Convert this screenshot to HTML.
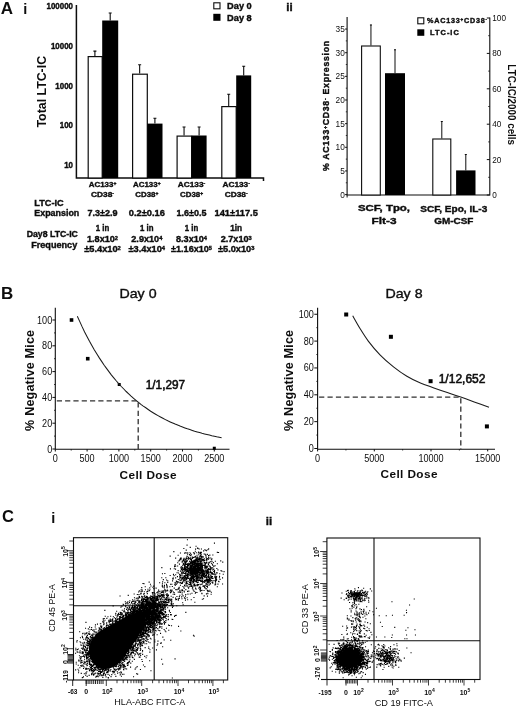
<!DOCTYPE html><html><head><meta charset="utf-8"><style>html,body{margin:0;padding:0;background:#fff}svg{display:block;filter:blur(.3px)}text{font-family:"Liberation Sans",sans-serif;fill:#0d0d0d}.b{font-weight:bold}.m{stroke:#0d0d0d;stroke-width:.55}.s{stroke:#0d0d0d;stroke-width:.38}</style></head><body>
<svg width="520" height="709" viewBox="0 0 520 709">
<rect width="520" height="709" fill="#fff"/>
<text x="0.8" y="13.6" font-size="17" text-anchor="start" class="b">A</text>
<text x="23.2" y="13.8" font-size="14.5" text-anchor="start" class="b">i</text>
<path d="M76.4 5V178H263.5v3" fill="none" stroke="#0d0d0d" stroke-width="1.5"/>
<text x="73" y="9.3" font-size="8.5" text-anchor="end" class="b s" textLength="26.52" lengthAdjust="spacingAndGlyphs">100000</text>
<text x="73" y="48.6" font-size="8.5" text-anchor="end" class="b s" textLength="22.1" lengthAdjust="spacingAndGlyphs">10000</text>
<text x="73" y="88.6" font-size="8.5" text-anchor="end" class="b s" textLength="17.68" lengthAdjust="spacingAndGlyphs">1000</text>
<text x="73" y="128.1" font-size="8.5" text-anchor="end" class="b s" textLength="13.26" lengthAdjust="spacingAndGlyphs">100</text>
<text x="73" y="168.1" font-size="8.5" text-anchor="end" class="b s" textLength="8.84" lengthAdjust="spacingAndGlyphs">10</text>
<text x="45.7" y="91.7" font-size="12.6" text-anchor="middle" class="b" transform="rotate(-90 45.7 91.7)" textLength="71.6" lengthAdjust="spacingAndGlyphs">Total LTC-IC</text>
<path d="M94.9 56V50.8M93.4 51.099999999999994H96.4" stroke="#0d0d0d" stroke-width="1.1" fill="none"/>
<rect x="88.19999999999999" y="56.6" width="14.000000000000009" height="121.4" fill="#fff" stroke="#0d0d0d" stroke-width="1.2"/>
<path d="M110.2 20.5V12.7M108.7 13.0H111.7" stroke="#0d0d0d" stroke-width="1.1" fill="none"/>
<rect x="102.2" y="20.5" width="16.0" height="157.5" fill="#000"/>
<path d="M139.65 73.6V64.5M138.15 64.8H141.15" stroke="#0d0d0d" stroke-width="1.1" fill="none"/>
<rect x="132.6" y="74.19999999999999" width="14.700000000000012" height="103.80000000000001" fill="#fff" stroke="#0d0d0d" stroke-width="1.2"/>
<path d="M154.9 123.6V117.9M153.4 118.2H156.4" stroke="#0d0d0d" stroke-width="1.1" fill="none"/>
<rect x="147.3" y="123.6" width="15.199999999999989" height="54.400000000000006" fill="#000"/>
<path d="M184.05 135.5V126.7M182.55 127.0H185.55" stroke="#0d0d0d" stroke-width="1.1" fill="none"/>
<rect x="177.1" y="136.1" width="14.499999999999995" height="41.9" fill="#fff" stroke="#0d0d0d" stroke-width="1.2"/>
<path d="M199.1 135.5V126.7M197.6 127.0H200.6" stroke="#0d0d0d" stroke-width="1.1" fill="none"/>
<rect x="191.6" y="135.5" width="15.0" height="42.5" fill="#000"/>
<path d="M228.7 106V94M227.2 94.3H230.2" stroke="#0d0d0d" stroke-width="1.1" fill="none"/>
<rect x="221.79999999999998" y="106.6" width="14.4" height="71.4" fill="#fff" stroke="#0d0d0d" stroke-width="1.2"/>
<path d="M243.7 75.4V66M242.2 66.3H245.2" stroke="#0d0d0d" stroke-width="1.1" fill="none"/>
<rect x="236.2" y="75.4" width="15.0" height="102.6" fill="#000"/>
<rect x="213.8" y="2.8" width="6.2" height="6" fill="#fff" stroke="#0d0d0d" stroke-width="1.1"/>
<rect x="213.3" y="13.8" width="7.2" height="7" fill="#000"/>
<text x="227.1" y="8.9" font-size="9.3" text-anchor="start" class="b s" textLength="24.6" lengthAdjust="spacingAndGlyphs">Day 0</text>
<text x="227.1" y="20.9" font-size="9.3" text-anchor="start" class="b s" textLength="24.6" lengthAdjust="spacingAndGlyphs">Day 8</text>
<text x="102.5" y="186.6" font-size="8" text-anchor="middle" class="b s" textLength="27.5" lengthAdjust="spacingAndGlyphs">AC133<tspan font-size="0.62em" dy="-0.42em">+</tspan></text>
<text x="102.5" y="196.7" font-size="8" text-anchor="middle" class="b s" textLength="23" lengthAdjust="spacingAndGlyphs">CD38<tspan font-size="0.62em" dy="-0.42em">-</tspan></text>
<text x="146.8" y="186.6" font-size="8" text-anchor="middle" class="b s" textLength="27.5" lengthAdjust="spacingAndGlyphs">AC133<tspan font-size="0.62em" dy="-0.42em">+</tspan></text>
<text x="146.8" y="196.7" font-size="8" text-anchor="middle" class="b s" textLength="23" lengthAdjust="spacingAndGlyphs">CD38<tspan font-size="0.62em" dy="-0.42em">+</tspan></text>
<text x="191.5" y="186.6" font-size="8" text-anchor="middle" class="b s" textLength="27.5" lengthAdjust="spacingAndGlyphs">AC133<tspan font-size="0.62em" dy="-0.42em">-</tspan></text>
<text x="191.5" y="196.7" font-size="8" text-anchor="middle" class="b s" textLength="23" lengthAdjust="spacingAndGlyphs">CD38<tspan font-size="0.62em" dy="-0.42em">+</tspan></text>
<text x="236.2" y="186.6" font-size="8" text-anchor="middle" class="b s" textLength="27.5" lengthAdjust="spacingAndGlyphs">AC133<tspan font-size="0.62em" dy="-0.42em">-</tspan></text>
<text x="236.2" y="196.7" font-size="8" text-anchor="middle" class="b s" textLength="23" lengthAdjust="spacingAndGlyphs">CD38<tspan font-size="0.62em" dy="-0.42em">-</tspan></text>
<text x="34.3" y="205.8" font-size="9" text-anchor="start" class="b s" textLength="29.3" lengthAdjust="spacingAndGlyphs">LTC-IC</text>
<text x="34.3" y="216.2" font-size="9" text-anchor="start" class="b s" textLength="45" lengthAdjust="spacingAndGlyphs">Expansion</text>
<text x="102.5" y="216.3" font-size="9" text-anchor="middle" class="b s" textLength="30" lengthAdjust="spacingAndGlyphs">7.3±2.9</text>
<text x="146.8" y="216.3" font-size="9" text-anchor="middle" class="b s" textLength="36" lengthAdjust="spacingAndGlyphs">0.2±0.16</text>
<text x="191.5" y="216.3" font-size="9" text-anchor="middle" class="b s" textLength="30" lengthAdjust="spacingAndGlyphs">1.6±0.5</text>
<text x="236.2" y="216.3" font-size="9" text-anchor="middle" class="b s" textLength="43.3" lengthAdjust="spacingAndGlyphs">141±117.5</text>
<text x="26.7" y="236.9" font-size="9" text-anchor="start" class="b s" textLength="51.2" lengthAdjust="spacingAndGlyphs">Day8 LTC-IC</text>
<text x="31.2" y="248" font-size="9" text-anchor="start" class="b s" textLength="46" lengthAdjust="spacingAndGlyphs">Frequency</text>
<text x="102.5" y="231.2" font-size="9" text-anchor="middle" class="b s" textLength="13.5" lengthAdjust="spacingAndGlyphs">1 in</text>
<text x="146.8" y="231.2" font-size="9" text-anchor="middle" class="b s" textLength="13.5" lengthAdjust="spacingAndGlyphs">1 in</text>
<text x="191.5" y="231.2" font-size="9" text-anchor="middle" class="b s" textLength="13.5" lengthAdjust="spacingAndGlyphs">1 in</text>
<text x="236.2" y="231.2" font-size="9" text-anchor="middle" class="b s" textLength="12" lengthAdjust="spacingAndGlyphs">1in</text>
<text x="102.5" y="242.2" font-size="9" text-anchor="middle" class="b s" textLength="31" lengthAdjust="spacingAndGlyphs">1.8x10<tspan font-size="0.62em" dy="-0.42em">2</tspan></text>
<text x="146.8" y="242.2" font-size="9" text-anchor="middle" class="b s" textLength="31" lengthAdjust="spacingAndGlyphs">2.9x10<tspan font-size="0.62em" dy="-0.42em">4</tspan></text>
<text x="191.5" y="242.2" font-size="9" text-anchor="middle" class="b s" textLength="31" lengthAdjust="spacingAndGlyphs">8.3x10<tspan font-size="0.62em" dy="-0.42em">4</tspan></text>
<text x="236.2" y="242.2" font-size="9" text-anchor="middle" class="b s" textLength="31" lengthAdjust="spacingAndGlyphs">2.7x10<tspan font-size="0.62em" dy="-0.42em">3</tspan></text>
<text x="102.5" y="252" font-size="9" text-anchor="middle" class="b s" textLength="36.5" lengthAdjust="spacingAndGlyphs">±5.4x10<tspan font-size="0.62em" dy="-0.42em">2</tspan></text>
<text x="146.8" y="252" font-size="9" text-anchor="middle" class="b s" textLength="36.5" lengthAdjust="spacingAndGlyphs">±3.4x10<tspan font-size="0.62em" dy="-0.42em">4</tspan></text>
<text x="191.5" y="252" font-size="9" text-anchor="middle" class="b s" textLength="41" lengthAdjust="spacingAndGlyphs">±1.16x10<tspan font-size="0.62em" dy="-0.42em">5</tspan></text>
<text x="236.2" y="252" font-size="9" text-anchor="middle" class="b s" textLength="36.5" lengthAdjust="spacingAndGlyphs">±5.0x10<tspan font-size="0.62em" dy="-0.42em">3</tspan></text>
<text x="286.3" y="10.8" font-size="11.5" text-anchor="start" class="b s">ii</text>
<path d="M347.1 17V195H489.8V17.5" fill="none" stroke="#0d0d0d" stroke-width="1.1"/>
<path d="M345.1 194.6H347.1" stroke="#0d0d0d" stroke-width="1"/>
<text x="344.8" y="197.6" font-size="8.3" text-anchor="end">0</text>
<path d="M345.1 170.95H347.1" stroke="#0d0d0d" stroke-width="1"/>
<text x="344.8" y="173.95" font-size="8.3" text-anchor="end">5</text>
<path d="M345.1 147.3H347.1" stroke="#0d0d0d" stroke-width="1"/>
<text x="344.8" y="150.3" font-size="8.3" text-anchor="end">10</text>
<path d="M345.1 123.65H347.1" stroke="#0d0d0d" stroke-width="1"/>
<text x="344.8" y="126.65" font-size="8.3" text-anchor="end">15</text>
<path d="M345.1 100.0H347.1" stroke="#0d0d0d" stroke-width="1"/>
<text x="344.8" y="103.0" font-size="8.3" text-anchor="end">20</text>
<path d="M345.1 76.35000000000001H347.1" stroke="#0d0d0d" stroke-width="1"/>
<text x="344.8" y="79.35000000000001" font-size="8.3" text-anchor="end">25</text>
<path d="M345.1 52.70000000000002H347.1" stroke="#0d0d0d" stroke-width="1"/>
<text x="344.8" y="55.70000000000002" font-size="8.3" text-anchor="end">30</text>
<path d="M345.1 29.05000000000001H347.1" stroke="#0d0d0d" stroke-width="1"/>
<text x="344.8" y="32.05000000000001" font-size="8.3" text-anchor="end">35</text>
<path d="M345.8 182.775H347.1" stroke="#0d0d0d" stroke-width=".8"/>
<path d="M345.8 159.125H347.1" stroke="#0d0d0d" stroke-width=".8"/>
<path d="M345.8 135.475H347.1" stroke="#0d0d0d" stroke-width=".8"/>
<path d="M345.8 111.825H347.1" stroke="#0d0d0d" stroke-width=".8"/>
<path d="M345.8 88.17500000000001H347.1" stroke="#0d0d0d" stroke-width=".8"/>
<path d="M345.8 64.525H347.1" stroke="#0d0d0d" stroke-width=".8"/>
<path d="M345.8 40.875H347.1" stroke="#0d0d0d" stroke-width=".8"/>
<path d="M486.8 195.0H489.8" stroke="#0d0d0d" stroke-width="1"/>
<text x="492.3" y="197.9" font-size="8.2" text-anchor="start">0</text>
<path d="M486.8 159.6H489.8" stroke="#0d0d0d" stroke-width="1"/>
<text x="492.3" y="162.5" font-size="8.2" text-anchor="start">20</text>
<path d="M486.8 124.2H489.8" stroke="#0d0d0d" stroke-width="1"/>
<text x="492.3" y="127.10000000000001" font-size="8.2" text-anchor="start">40</text>
<path d="M486.8 88.8H489.8" stroke="#0d0d0d" stroke-width="1"/>
<text x="492.3" y="91.7" font-size="8.2" text-anchor="start">60</text>
<path d="M486.8 53.400000000000006H489.8" stroke="#0d0d0d" stroke-width="1"/>
<text x="492.3" y="56.300000000000004" font-size="8.2" text-anchor="start">80</text>
<path d="M486.8 18.0H489.8" stroke="#0d0d0d" stroke-width="1"/>
<text x="492.3" y="20.9" font-size="8.2" text-anchor="start">100</text>
<path d="M488.2 177.3H489.8" stroke="#0d0d0d" stroke-width=".8"/>
<path d="M488.2 141.9H489.8" stroke="#0d0d0d" stroke-width=".8"/>
<path d="M488.2 106.5H489.8" stroke="#0d0d0d" stroke-width=".8"/>
<path d="M488.2 71.1H489.8" stroke="#0d0d0d" stroke-width=".8"/>
<path d="M488.2 35.69999999999999H489.8" stroke="#0d0d0d" stroke-width=".8"/>
<path d="M347.1 195v2.5" stroke="#0d0d0d" stroke-width="1"/>
<path d="M370.95000000000005 45.5V24.7M369.95000000000005 25.0h2" stroke="#0d0d0d" stroke-width="1" fill="none"/>
<rect x="361.6" y="46.0" width="18.69999999999999" height="149.0" fill="#fff" stroke="#0d0d0d" stroke-width="1.1"/>
<path d="M395.0 73.2V49.5M394.0 49.8h2" stroke="#0d0d0d" stroke-width="1" fill="none"/>
<rect x="385" y="73.2" width="20" height="121.8" fill="#000"/>
<path d="M441.8 138.5V121.2M440.8 121.5h2" stroke="#0d0d0d" stroke-width="1" fill="none"/>
<rect x="432.8" y="139.0" width="18.0" height="56.0" fill="#fff" stroke="#0d0d0d" stroke-width="1.1"/>
<path d="M465.8 170.4V154.2M464.8 154.5h2" stroke="#0d0d0d" stroke-width="1" fill="none"/>
<rect x="456.1" y="170.4" width="19.399999999999977" height="24.599999999999994" fill="#000"/>
<rect x="417.8" y="17.8" width="6" height="6" fill="#fff" stroke="#0d0d0d" stroke-width="1.1"/>
<rect x="417.3" y="29.3" width="7" height="6.5" fill="#000"/>
<text x="427" y="22.8" font-size="7.2" text-anchor="start" class="b s" textLength="60" lengthAdjust="spacing">%AC133<tspan font-size="0.62em" dy="-0.42em">+</tspan><tspan dy="0.26em">CD38</tspan><tspan font-size="0.62em" dy="-0.42em">-</tspan></text>
<text x="430" y="35.2" font-size="7.4" text-anchor="start" class="b s" textLength="28.8" lengthAdjust="spacing">LTC-IC</text>
<text x="384" y="211.3" font-size="9.6" text-anchor="middle" class="b s" textLength="52" lengthAdjust="spacingAndGlyphs">SCF, Tpo,</text>
<text x="384" y="223.8" font-size="9.6" text-anchor="middle" class="b s" textLength="25" lengthAdjust="spacingAndGlyphs">Flt-3</text>
<text x="453.8" y="211.5" font-size="9.6" text-anchor="middle" class="b s" textLength="67" lengthAdjust="spacingAndGlyphs">SCF, Epo, IL-3</text>
<text x="453.8" y="223.6" font-size="9.6" text-anchor="middle" class="b s" textLength="39.2" lengthAdjust="spacingAndGlyphs">GM-CSF</text>
<text x="328.8" y="106" font-size="8.7" text-anchor="middle" class="b s" transform="rotate(-90 328.8 106)" textLength="130" lengthAdjust="spacing">% AC133<tspan font-size="0.62em" dy="-0.42em">+</tspan><tspan dy="0.26em">CD38</tspan><tspan font-size="0.62em" dy="-0.42em">-</tspan><tspan dy="0.26em"> Expression</tspan></text>
<text x="507.6" y="104.7" font-size="10.4" text-anchor="middle" class="b" transform="rotate(90 507.6 104.7)" textLength="80.7" lengthAdjust="spacingAndGlyphs">LTC-IC/2000 cells</text>
<text x="1" y="298.8" font-size="17" text-anchor="start" class="b">B</text>
<text x="138" y="298.3" font-size="13.5" text-anchor="middle" class="s" textLength="37.1" lengthAdjust="spacingAndGlyphs">Day 0</text>
<path d="M55.3 307.7V449.3H229.5" fill="none" stroke="#0d0d0d" stroke-width="1.1"/>
<path d="M52.4 449.0H55.3" stroke="#0d0d0d" stroke-width="1"/>
<text x="52.199999999999996" y="452.5" font-size="10" text-anchor="end" textLength="5.05" lengthAdjust="spacingAndGlyphs">0</text>
<path d="M52.4 423.2H55.3" stroke="#0d0d0d" stroke-width="1"/>
<text x="52.199999999999996" y="426.7" font-size="10" text-anchor="end" textLength="10.1" lengthAdjust="spacingAndGlyphs">20</text>
<path d="M52.4 397.4H55.3" stroke="#0d0d0d" stroke-width="1"/>
<text x="52.199999999999996" y="400.9" font-size="10" text-anchor="end" textLength="10.1" lengthAdjust="spacingAndGlyphs">40</text>
<path d="M52.4 371.6H55.3" stroke="#0d0d0d" stroke-width="1"/>
<text x="52.199999999999996" y="375.1" font-size="10" text-anchor="end" textLength="10.1" lengthAdjust="spacingAndGlyphs">60</text>
<path d="M52.4 345.8H55.3" stroke="#0d0d0d" stroke-width="1"/>
<text x="52.199999999999996" y="349.3" font-size="10" text-anchor="end" textLength="10.1" lengthAdjust="spacingAndGlyphs">80</text>
<path d="M52.4 320.0H55.3" stroke="#0d0d0d" stroke-width="1"/>
<text x="52.199999999999996" y="323.5" font-size="10" text-anchor="end" textLength="15.149999999999999" lengthAdjust="spacingAndGlyphs">100</text>
<path d="M54.0 436.1H55.3" stroke="#0d0d0d" stroke-width=".8"/>
<path d="M54.0 410.3H55.3" stroke="#0d0d0d" stroke-width=".8"/>
<path d="M54.0 384.5H55.3" stroke="#0d0d0d" stroke-width=".8"/>
<path d="M54.0 358.7H55.3" stroke="#0d0d0d" stroke-width=".8"/>
<path d="M54.0 332.9H55.3" stroke="#0d0d0d" stroke-width=".8"/>
<path d="M55.3 449.3v2.2" stroke="#0d0d0d" stroke-width="1"/>
<text x="55.3" y="461.8" font-size="10" text-anchor="middle" textLength="5.05" lengthAdjust="spacingAndGlyphs">0</text>
<path d="M87.1 449.3v2.2" stroke="#0d0d0d" stroke-width="1"/>
<text x="87.1" y="461.8" font-size="10" text-anchor="middle" textLength="15.149999999999999" lengthAdjust="spacingAndGlyphs">500</text>
<path d="M118.9 449.3v2.2" stroke="#0d0d0d" stroke-width="1"/>
<text x="118.9" y="461.8" font-size="10" text-anchor="middle" textLength="20.2" lengthAdjust="spacingAndGlyphs">1000</text>
<path d="M150.7 449.3v2.2" stroke="#0d0d0d" stroke-width="1"/>
<text x="150.7" y="461.8" font-size="10" text-anchor="middle" textLength="20.2" lengthAdjust="spacingAndGlyphs">1500</text>
<path d="M182.5 449.3v2.2" stroke="#0d0d0d" stroke-width="1"/>
<text x="182.5" y="461.8" font-size="10" text-anchor="middle" textLength="20.2" lengthAdjust="spacingAndGlyphs">2000</text>
<path d="M214.3 449.3v2.2" stroke="#0d0d0d" stroke-width="1"/>
<text x="214.3" y="461.8" font-size="10" text-anchor="middle" textLength="20.2" lengthAdjust="spacingAndGlyphs">2500</text>
<path d="M71.2 449.3v1.3" stroke="#0d0d0d" stroke-width=".8"/>
<path d="M103.0 449.3v1.3" stroke="#0d0d0d" stroke-width=".8"/>
<path d="M134.8 449.3v1.3" stroke="#0d0d0d" stroke-width=".8"/>
<path d="M166.6 449.3v1.3" stroke="#0d0d0d" stroke-width=".8"/>
<path d="M198.39999999999998 449.3v1.3" stroke="#0d0d0d" stroke-width=".8"/>
<rect x="69.718" y="318.2" width="3.6" height="3.6" fill="#000"/>
<rect x="85.93599999999999" y="356.9" width="3.6" height="3.6" fill="#000"/>
<rect x="117.71799999999999" y="383.0" width="3" height="3" fill="#000"/>
<rect x="212.8" y="446.726" width="3" height="3" fill="#000"/>
<path d="M77.3 316.2L79.8 321.6L82.2 326.9L84.6 331.9L87.1 336.7L89.5 341.3L92.0 345.7L94.4 349.9L96.9 354.0L99.3 357.9L101.8 361.6L104.2 365.2L106.7 368.6L109.1 371.9L111.5 375.1L114.0 378.1L116.4 381.0L118.9 383.8L121.3 386.5L123.8 389.0L126.2 391.5L128.7 393.8L131.1 396.1L133.6 398.3L136.0 400.4L138.5 402.3L140.9 404.3L143.3 406.1L145.8 407.8L148.2 409.5L150.7 411.2L153.1 412.7L155.6 414.2L158.0 415.6L160.5 417.0L162.9 418.3L165.4 419.6L167.8 420.8L170.2 421.9L172.7 423.0L175.1 424.1L177.6 425.1L180.0 426.1L182.5 427.0L184.9 427.9L187.4 428.8L189.8 429.6L192.3 430.4L194.7 431.2L197.2 431.9L199.6 432.6L202.0 433.3L204.5 433.9L206.9 434.5L209.4 435.1L211.8 435.7L214.3 436.2L216.7 436.8L219.2 437.3L221.6 437.8" fill="none" stroke="#1a1a1a" stroke-width="1.05"/>
<path d="M55.3 400.8H138.2V449.3" fill="none" stroke="#303030" stroke-width="1.3" stroke-dasharray="5.2 3.1" stroke-dashoffset="-1.5"/>
<text x="145.8" y="389" font-size="12" text-anchor="start" class="m" textLength="39.3" lengthAdjust="spacingAndGlyphs">1/1,297</text>
<text x="33.8" y="380.4" font-size="12.6" text-anchor="middle" class="b" transform="rotate(-90 33.8 380.4)" textLength="101" lengthAdjust="spacing">% Negative Mice</text>
<text x="148" y="479.2" font-size="11.8" text-anchor="middle" class="b" textLength="57" lengthAdjust="spacing">Cell Dose</text>
<text x="404" y="298.3" font-size="13.5" text-anchor="middle" class="s" textLength="37.1" lengthAdjust="spacingAndGlyphs">Day 8</text>
<path d="M317.6 307.7V449.2H495" fill="none" stroke="#0d0d0d" stroke-width="1.1"/>
<path d="M314.3 448.5H317.6" stroke="#0d0d0d" stroke-width="1"/>
<text x="313.90000000000003" y="452.0" font-size="10" text-anchor="end" textLength="5.05" lengthAdjust="spacingAndGlyphs">0</text>
<path d="M314.3 421.65H317.6" stroke="#0d0d0d" stroke-width="1"/>
<text x="313.90000000000003" y="425.15" font-size="10" text-anchor="end" textLength="10.1" lengthAdjust="spacingAndGlyphs">20</text>
<path d="M314.3 394.8H317.6" stroke="#0d0d0d" stroke-width="1"/>
<text x="313.90000000000003" y="398.3" font-size="10" text-anchor="end" textLength="10.1" lengthAdjust="spacingAndGlyphs">40</text>
<path d="M314.3 367.95H317.6" stroke="#0d0d0d" stroke-width="1"/>
<text x="313.90000000000003" y="371.45" font-size="10" text-anchor="end" textLength="10.1" lengthAdjust="spacingAndGlyphs">60</text>
<path d="M314.3 341.1H317.6" stroke="#0d0d0d" stroke-width="1"/>
<text x="313.90000000000003" y="344.6" font-size="10" text-anchor="end" textLength="10.1" lengthAdjust="spacingAndGlyphs">80</text>
<path d="M314.3 314.25H317.6" stroke="#0d0d0d" stroke-width="1"/>
<text x="313.90000000000003" y="317.75" font-size="10" text-anchor="end" textLength="15.149999999999999" lengthAdjust="spacingAndGlyphs">100</text>
<path d="M316.3 435.075H317.6" stroke="#0d0d0d" stroke-width=".8"/>
<path d="M316.3 408.225H317.6" stroke="#0d0d0d" stroke-width=".8"/>
<path d="M316.3 381.375H317.6" stroke="#0d0d0d" stroke-width=".8"/>
<path d="M316.3 354.525H317.6" stroke="#0d0d0d" stroke-width=".8"/>
<path d="M316.3 327.675H317.6" stroke="#0d0d0d" stroke-width=".8"/>
<path d="M317.6 449.2v2.2" stroke="#0d0d0d" stroke-width="1"/>
<text x="317.6" y="461.6" font-size="10" text-anchor="middle" textLength="5.05" lengthAdjust="spacingAndGlyphs">0</text>
<path d="M374.3 449.2v2.2" stroke="#0d0d0d" stroke-width="1"/>
<text x="374.3" y="461.6" font-size="10" text-anchor="middle" textLength="20.2" lengthAdjust="spacingAndGlyphs">5000</text>
<path d="M431.0 449.2v2.2" stroke="#0d0d0d" stroke-width="1"/>
<text x="431.0" y="461.6" font-size="10" text-anchor="middle" textLength="25.25" lengthAdjust="spacingAndGlyphs">10000</text>
<path d="M487.70000000000005 449.2v2.2" stroke="#0d0d0d" stroke-width="1"/>
<text x="487.70000000000005" y="461.6" font-size="10" text-anchor="middle" textLength="25.25" lengthAdjust="spacingAndGlyphs">15000</text>
<path d="M345.95000000000005 449.2v1.3" stroke="#0d0d0d" stroke-width=".8"/>
<path d="M402.65000000000003 449.2v1.3" stroke="#0d0d0d" stroke-width=".8"/>
<path d="M459.35 449.2v1.3" stroke="#0d0d0d" stroke-width=".8"/>
<rect x="344.2" y="312.5" width="4" height="4" fill="#000"/>
<rect x="388.9" y="334.8" width="4" height="4" fill="#000"/>
<rect x="428.6" y="379.2" width="4" height="4" fill="#000"/>
<rect x="484.9" y="424.4" width="4" height="4" fill="#000"/>
<path d="M352.7 315.8C353.9 317.9 357.4 324.3 360 328.5C362.6 332.7 365.0 336.7 368.3 341.1C371.6 345.5 375.8 350.5 380 354.8C384.2 359.1 389.0 363.3 393.5 366.9C398.0 370.5 402.4 373.6 406.9 376.3C411.4 379.0 415.9 381.2 420.4 383.1C424.9 385.0 429.4 386.3 433.9 387.9C438.4 389.5 442.8 391.0 447.3 392.5C451.8 394.0 456.3 395.5 460.8 397.1C465.3 398.7 469.5 400.2 474.2 401.9C478.9 403.6 486.5 406.4 489 407.3" fill="none" stroke="#1a1a1a" stroke-width="1.05"/>
<path d="M317.6 397.1H460.8V449.2" fill="none" stroke="#303030" stroke-width="1.3" stroke-dasharray="5.2 3.2" stroke-dashoffset="-1.5"/>
<text x="438.7" y="383.1" font-size="12" text-anchor="start" class="m" textLength="46.8" lengthAdjust="spacingAndGlyphs">1/12,652</text>
<text x="293.3" y="380.4" font-size="12.6" text-anchor="middle" class="b" transform="rotate(-90 293.3 380.4)" textLength="101" lengthAdjust="spacing">% Negative Mice</text>
<text x="409" y="478.3" font-size="11.8" text-anchor="middle" class="b" textLength="57" lengthAdjust="spacing">Cell Dose</text>
<text x="2" y="522.3" font-size="16.5" text-anchor="start" class="b">C</text>
<text x="51.3" y="523" font-size="14.5" text-anchor="start" class="b">i</text>
<rect x="73.5" y="537.7" width="154.2" height="142.29999999999995" fill="#fff" stroke="#0d0d0d" stroke-width="1.1"/>
<path d="M154.2 537.7V680M73.5 605.8H227.7" stroke="#0d0d0d" stroke-width="1.1"/>
<path d="M67.5 680H73.5" stroke="#0d0d0d" stroke-width="1.1"/>
<path d="M106.4 656.0h1.1M102.6 648.6h1.1M95.8 653.7h1.1M120.2 647.0h1.1M118.5 645.9h1.1M111.5 649.2h1.1M93.5 667.4h1.1M114.3 651.3h1.1M80.2 645.0h1.1M94.9 651.3h1.1M109.4 647.8h1.1M108.7 641.3h1.1M111.7 651.6h1.1M108.2 668.8h1.1M118.3 657.0h1.1M96.4 647.3h1.1M102.4 651.1h1.1M114.3 648.4h1.1M97.1 644.4h1.1M107.2 663.7h1.1M99.3 657.0h1.1M103.5 634.5h1.1M113.5 661.0h1.1M84.0 659.3h1.1M101.3 643.6h1.1M111.4 646.5h1.1M95.4 666.0h1.1M118.2 654.2h1.1M123.3 644.5h1.1M101.2 638.0h1.1M109.8 641.0h1.1M95.5 641.8h1.1M93.8 651.2h1.1M109.7 624.7h1.1M92.5 660.8h1.1M124.4 646.3h1.1M106.5 641.5h1.1M99.7 665.2h1.1M118.7 644.8h1.1M111.2 652.3h1.1M126.2 645.8h1.1M114.6 651.6h1.1M96.6 670.5h1.1M119.1 648.9h1.1M82.8 656.4h1.1M106.2 629.3h1.1M109.7 659.9h1.1M100.9 671.8h1.1M111.5 645.4h1.1M113.1 653.7h1.1M113.5 659.2h1.1M97.6 650.4h1.1M117.5 644.0h1.1M102.1 663.5h1.1M119.5 637.4h1.1M91.5 657.1h1.1M103.5 648.3h1.1M116.0 632.7h1.1M113.3 631.5h1.1M101.5 660.2h1.1M122.5 650.7h1.1M110.8 649.2h1.1M111.0 654.1h1.1M106.1 653.5h1.1M112.5 646.6h1.1M117.3 650.3h1.1M129.0 640.8h1.1M100.2 649.3h1.1M111.0 658.1h1.1M104.9 655.4h1.1M112.8 616.8h1.1M96.0 658.9h1.1M111.8 649.7h1.1M105.3 658.3h1.1M106.8 643.8h1.1M133.5 638.5h1.1M100.2 652.5h1.1M103.8 650.8h1.1M75.7 662.2h1.1M111.1 633.8h1.1M110.6 658.7h1.1M122.9 657.8h1.1M87.1 657.1h1.1M106.1 657.4h1.1M104.4 620.2h1.1M110.6 630.9h1.1M106.1 633.0h1.1M114.3 659.3h1.1M105.9 652.6h1.1M115.5 646.4h1.1M113.2 663.8h1.1M115.9 641.2h1.1M129.3 623.6h1.1M114.7 642.2h1.1M111.4 655.3h1.1M112.0 654.2h1.1M83.1 646.1h1.1M108.1 638.0h1.1M88.5 643.4h1.1M123.4 648.9h1.1M117.1 633.0h1.1M100.8 640.1h1.1M122.4 659.2h1.1M105.1 668.9h1.1M115.9 642.5h1.1M93.0 674.0h1.1M102.5 645.4h1.1M112.7 651.2h1.1M117.0 632.2h1.1M125.7 656.1h1.1M120.7 639.7h1.1M103.9 663.3h1.1M108.3 650.4h1.1M120.0 639.2h1.1M80.7 660.4h1.1M91.3 668.2h1.1M106.7 642.8h1.1M110.6 657.3h1.1M114.0 661.0h1.1M111.1 659.4h1.1M130.0 655.0h1.1M103.9 661.7h1.1M81.6 651.9h1.1M91.4 671.0h1.1M93.6 657.3h1.1M104.4 650.9h1.1M101.5 655.6h1.1M125.3 639.6h1.1M117.0 655.5h1.1M98.1 640.3h1.1M106.1 662.6h1.1M86.4 654.7h1.1M120.9 650.8h1.1M110.6 656.9h1.1M102.3 638.8h1.1M87.1 653.9h1.1M113.3 639.6h1.1M93.3 648.7h1.1M90.0 658.2h1.1M96.1 660.2h1.1M83.6 667.0h1.1M90.1 637.0h1.1M112.7 643.3h1.1M78.9 655.8h1.1M107.2 644.3h1.1M118.3 651.8h1.1M115.1 648.8h1.1M123.7 647.7h1.1M100.8 629.2h1.1M122.4 656.0h1.1M101.1 647.7h1.1M117.9 623.1h1.1M123.5 668.2h1.1M100.3 661.5h1.1M125.5 637.6h1.1M116.8 654.4h1.1M96.6 654.7h1.1M113.7 655.4h1.1M105.2 648.5h1.1M94.1 653.0h1.1M116.3 645.5h1.1M93.4 647.8h1.1M139.9 643.9h1.1M100.2 623.7h1.1M115.4 650.4h1.1M126.1 643.6h1.1M108.4 654.9h1.1M91.5 670.6h1.1M106.4 642.0h1.1M129.3 657.7h1.1M88.6 652.6h1.1M110.4 649.8h1.1M97.5 644.0h1.1M133.7 646.3h1.1M87.4 645.5h1.1M129.1 648.3h1.1M129.5 646.1h1.1M98.7 657.5h1.1M80.3 656.5h1.1M108.5 654.9h1.1M98.3 653.3h1.1M113.1 650.5h1.1M114.2 648.0h1.1M107.1 658.8h1.1M102.9 642.5h1.1M100.0 653.8h1.1M106.1 652.0h1.1M107.4 651.5h1.1M98.8 639.9h1.1M116.1 656.6h1.1M110.1 645.8h1.1M106.3 639.0h1.1M87.1 661.9h1.1M100.5 662.0h1.1M82.1 633.7h1.1M103.6 669.9h1.1M95.7 640.4h1.1M101.2 659.1h1.1M112.5 648.5h1.1M125.5 647.2h1.1M109.3 655.3h1.1M128.6 648.5h1.1M111.7 634.5h1.1M108.6 657.2h1.1M108.8 661.0h1.1M117.2 654.3h1.1M117.0 673.3h1.1M118.3 640.7h1.1M120.4 671.9h1.1M107.3 659.6h1.1M116.7 644.2h1.1M95.3 658.6h1.1M115.9 657.6h1.1M114.8 645.5h1.1M118.1 649.6h1.1M108.9 649.2h1.1M107.4 657.4h1.1M92.4 650.9h1.1M99.2 637.3h1.1M91.9 635.2h1.1M102.2 659.0h1.1M112.1 646.1h1.1M97.0 639.1h1.1M128.1 643.5h1.1M113.5 635.8h1.1M95.5 635.4h1.1M119.3 653.4h1.1M86.5 660.9h1.1M104.2 631.0h1.1M82.2 651.7h1.1M92.9 641.6h1.1M108.1 652.0h1.1M116.6 652.3h1.1M127.9 651.1h1.1M90.3 653.5h1.1M90.1 647.0h1.1M105.7 650.5h1.1M103.7 633.3h1.1M93.5 657.2h1.1M102.9 648.5h1.1M102.0 643.8h1.1M115.6 648.9h1.1M102.2 644.7h1.1M91.1 627.5h1.1M96.5 656.2h1.1M91.9 660.8h1.1M101.1 637.2h1.1M102.3 648.8h1.1M114.3 652.5h1.1M101.9 642.8h1.1M104.7 650.3h1.1M115.6 648.1h1.1M92.2 642.6h1.1M98.9 645.8h1.1M94.4 655.7h1.1M101.9 653.9h1.1M109.9 643.3h1.1M129.0 633.3h1.1M118.6 644.4h1.1M106.2 622.7h1.1M99.9 656.6h1.1M124.4 666.6h1.1M116.3 659.1h1.1M119.2 653.6h1.1M111.0 645.6h1.1M106.4 637.6h1.1M113.7 634.1h1.1M119.7 666.9h1.1M104.3 651.5h1.1M118.7 643.2h1.1M99.4 657.1h1.1M116.1 652.7h1.1M107.2 669.8h1.1M123.9 640.2h1.1M107.1 644.7h1.1M117.7 635.4h1.1M111.1 641.8h1.1M102.9 660.4h1.1M120.3 641.9h1.1M103.5 661.1h1.1M107.5 653.0h1.1M128.0 650.7h1.1M112.5 672.9h1.1M110.5 656.8h1.1M99.5 653.5h1.1M97.2 676.0h1.1M114.6 631.3h1.1M82.8 645.0h1.1M116.4 639.0h1.1M104.3 647.7h1.1M99.8 641.3h1.1M99.6 637.4h1.1M107.3 653.1h1.1M110.2 645.2h1.1M97.9 656.8h1.1M109.3 666.5h1.1M113.9 644.4h1.1M98.1 646.7h1.1M95.0 652.6h1.1M112.1 652.7h1.1M122.9 664.8h1.1M99.2 654.3h1.1M126.2 617.1h1.1M101.9 654.6h1.1M110.1 652.6h1.1M105.8 654.6h1.1M110.9 656.4h1.1M82.4 653.7h1.1M101.3 641.1h1.1M98.8 661.7h1.1M102.9 659.4h1.1M115.8 648.2h1.1M111.3 646.0h1.1M91.7 658.2h1.1M108.6 642.7h1.1M109.2 657.1h1.1M100.6 660.8h1.1M123.1 634.0h1.1M107.3 647.8h1.1M124.1 643.5h1.1M112.4 638.6h1.1M106.3 650.0h1.1M95.2 673.1h1.1M107.1 629.5h1.1M113.6 644.4h1.1M113.0 650.5h1.1M89.9 657.2h1.1M119.1 636.1h1.1M89.1 644.4h1.1M95.5 660.2h1.1M126.2 643.6h1.1M120.2 667.9h1.1M97.7 647.3h1.1M114.7 651.6h1.1M90.1 646.0h1.1M110.8 650.4h1.1M91.9 656.1h1.1M103.2 657.2h1.1M104.9 650.0h1.1M108.1 661.2h1.1M119.1 638.5h1.1M111.5 638.4h1.1M111.0 656.1h1.1M120.3 637.6h1.1M106.7 652.1h1.1M91.0 659.1h1.1M101.3 657.3h1.1M84.9 639.7h1.1M108.2 652.0h1.1M105.2 661.0h1.1M100.6 646.4h1.1M103.6 633.6h1.1M99.4 653.9h1.1M114.5 643.5h1.1M106.4 642.5h1.1M118.0 662.6h1.1M111.2 674.6h1.1M99.9 654.0h1.1M113.4 657.8h1.1M83.1 639.2h1.1M116.8 653.3h1.1M126.1 669.0h1.1M109.9 651.0h1.1M118.0 647.6h1.1M117.6 629.3h1.1M85.4 622.4h1.1M113.1 641.9h1.1M126.9 663.1h1.1M105.2 647.8h1.1M97.1 645.7h1.1M103.1 659.3h1.1M107.2 650.4h1.1M109.3 659.0h1.1M110.9 645.8h1.1M112.6 644.7h1.1M101.8 669.5h1.1M106.5 638.9h1.1M119.4 646.5h1.1M98.3 673.3h1.1M114.4 655.7h1.1M107.8 647.5h1.1M95.3 667.7h1.1M105.4 647.3h1.1M110.5 648.6h1.1M111.7 642.7h1.1M95.4 631.7h1.1M105.5 658.4h1.1M118.6 638.8h1.1M113.2 664.4h1.1M106.8 658.3h1.1M124.1 640.3h1.1M115.7 636.5h1.1M108.3 648.1h1.1M113.3 659.1h1.1M128.0 629.9h1.1M103.0 657.8h1.1M98.0 660.6h1.1M111.1 644.2h1.1M104.3 633.4h1.1M106.7 632.1h1.1M96.5 649.4h1.1M106.6 659.8h1.1M105.4 646.1h1.1M120.1 660.4h1.1M108.4 653.1h1.1M120.7 644.9h1.1M119.5 619.6h1.1M108.2 653.8h1.1M119.9 650.0h1.1M98.4 642.5h1.1M112.7 658.3h1.1M90.0 647.6h1.1M96.6 633.4h1.1M101.6 647.8h1.1M107.7 641.2h1.1M95.4 651.9h1.1M102.7 644.5h1.1M110.4 656.4h1.1M127.3 657.7h1.1M96.3 651.1h1.1M98.8 654.1h1.1M105.1 635.1h1.1M111.2 647.0h1.1M89.0 663.5h1.1M109.6 626.7h1.1M115.9 647.0h1.1M113.6 651.0h1.1M118.9 640.2h1.1M113.5 641.2h1.1M110.0 638.6h1.1M114.0 665.6h1.1M110.3 646.0h1.1M90.7 650.0h1.1M113.2 657.0h1.1M113.5 652.0h1.1M112.8 662.0h1.1M99.7 647.6h1.1M116.0 645.2h1.1M100.7 646.7h1.1M106.9 656.9h1.1M104.1 637.4h1.1M111.8 649.0h1.1M100.0 662.7h1.1M101.9 648.8h1.1M121.4 656.7h1.1M101.5 657.9h1.1M109.0 675.3h1.1M107.3 663.3h1.1M103.8 660.9h1.1M116.9 614.7h1.1M104.5 656.9h1.1M102.2 644.8h1.1M129.3 637.8h1.1M93.7 667.3h1.1M94.4 670.3h1.1M101.2 654.7h1.1M120.2 643.5h1.1M83.6 643.7h1.1M122.5 649.3h1.1M102.3 662.3h1.1M114.9 652.6h1.1M81.5 660.9h1.1M119.5 650.9h1.1M103.4 623.4h1.1M110.7 653.2h1.1M128.3 626.4h1.1M103.3 652.3h1.1M113.5 640.8h1.1M114.5 636.3h1.1M106.6 643.8h1.1M104.7 643.1h1.1M95.4 669.1h1.1M106.9 643.3h1.1M113.5 657.4h1.1M95.8 654.9h1.1M114.7 651.3h1.1M92.5 633.8h1.1M121.1 645.4h1.1M105.2 647.5h1.1M107.1 644.7h1.1M92.2 649.7h1.1M97.2 648.3h1.1M97.6 662.5h1.1M96.2 663.6h1.1M97.7 659.1h1.1M121.8 643.5h1.1M99.1 654.8h1.1M99.4 634.1h1.1M101.0 655.1h1.1M102.0 653.5h1.1M118.0 652.2h1.1M118.9 649.7h1.1M103.4 651.6h1.1M102.1 648.9h1.1M96.0 636.1h1.1M102.9 651.8h1.1M96.3 655.6h1.1M111.0 645.5h1.1M115.0 615.0h1.1M95.2 635.4h1.1M130.0 667.1h1.1M81.1 666.1h1.1M110.4 644.3h1.1M101.0 627.3h1.1M117.2 648.1h1.1M103.8 644.8h1.1M110.7 642.0h1.1M106.3 644.2h1.1M83.0 663.2h1.1M112.4 655.3h1.1M97.2 655.0h1.1M113.6 647.6h1.1M129.4 659.8h1.1M87.5 638.8h1.1M123.0 658.1h1.1M120.2 651.5h1.1M96.5 647.5h1.1M111.2 636.8h1.1M82.7 652.2h1.1M142.0 651.7h1.1M95.7 647.8h1.1M105.2 642.1h1.1M119.7 641.5h1.1M101.8 667.9h1.1M101.5 655.4h1.1M104.8 647.4h1.1M106.4 642.1h1.1M76.3 641.9h1.1M89.5 651.0h1.1M106.5 650.6h1.1M112.9 647.7h1.1M94.7 648.6h1.1M83.6 661.2h1.1M114.2 651.7h1.1M104.4 649.2h1.1M116.3 644.5h1.1M117.1 650.6h1.1M115.2 660.0h1.1M98.8 650.3h1.1M94.1 647.9h1.1M131.5 655.9h1.1M109.6 654.8h1.1M122.8 649.9h1.1M112.7 631.8h1.1M102.1 657.8h1.1M121.9 642.3h1.1M95.8 652.1h1.1M95.3 646.5h1.1M119.0 635.6h1.1M117.5 668.6h1.1M120.5 645.8h1.1M102.2 657.2h1.1M126.5 645.7h1.1M120.1 643.3h1.1M110.9 645.2h1.1M117.4 658.7h1.1M91.3 658.0h1.1M106.1 643.6h1.1M107.2 658.7h1.1M130.4 643.4h1.1M102.1 634.6h1.1M126.9 639.1h1.1M100.6 640.5h1.1M100.4 640.8h1.1M109.6 653.6h1.1M108.2 652.2h1.1M104.8 667.5h1.1M90.6 638.2h1.1M100.7 644.5h1.1M94.2 653.0h1.1M103.6 638.0h1.1M112.2 663.2h1.1M112.8 644.6h1.1M107.2 648.2h1.1M109.7 656.6h1.1M93.5 629.7h1.1M101.8 642.4h1.1M110.2 640.8h1.1M118.9 668.0h1.1M90.0 646.5h1.1M79.9 637.7h1.1M88.8 664.4h1.1M90.5 637.6h1.1M94.2 664.2h1.1M96.6 651.5h1.1M116.7 659.8h1.1M131.8 647.3h1.1M108.9 650.7h1.1M132.4 651.6h1.1M105.6 655.8h1.1M109.7 648.7h1.1M94.7 641.5h1.1M93.2 639.8h1.1M121.9 647.3h1.1M100.9 669.3h1.1M106.2 628.1h1.1M129.7 646.0h1.1M121.8 627.0h1.1M114.1 650.5h1.1M109.5 650.3h1.1M110.0 630.7h1.1M86.6 645.4h1.1M97.7 648.1h1.1M111.7 650.1h1.1M103.4 644.0h1.1M106.7 660.9h1.1M114.9 646.3h1.1M110.9 665.4h1.1M103.6 659.2h1.1M117.2 640.8h1.1M109.5 635.4h1.1M118.0 645.7h1.1M93.4 665.3h1.1M103.6 666.5h1.1M98.6 652.6h1.1M107.8 645.4h1.1M106.4 643.7h1.1M113.5 646.0h1.1M94.9 624.9h1.1M118.7 643.3h1.1M88.5 661.5h1.1M116.7 656.5h1.1M103.0 669.9h1.1M116.8 671.7h1.1M108.4 656.8h1.1M97.1 642.5h1.1M122.4 651.3h1.1M126.8 648.2h1.1M92.2 639.0h1.1M96.4 648.1h1.1M100.9 659.9h1.1M108.6 645.7h1.1M107.6 647.7h1.1M112.5 655.2h1.1M113.0 638.3h1.1M98.0 671.4h1.1M113.2 658.9h1.1M87.8 657.0h1.1M99.6 637.4h1.1M104.8 659.4h1.1M125.7 657.3h1.1M90.5 643.0h1.1M116.6 655.0h1.1M102.0 637.6h1.1M118.6 652.2h1.1M109.8 642.5h1.1M113.6 655.0h1.1M91.5 637.4h1.1M112.3 652.2h1.1M111.1 657.6h1.1M100.0 652.8h1.1M106.2 656.8h1.1M121.8 638.3h1.1M135.5 650.9h1.1M117.7 650.3h1.1M124.0 637.8h1.1M100.0 641.5h1.1M118.1 658.8h1.1M114.1 650.5h1.1M105.3 652.7h1.1M96.9 667.6h1.1M96.7 642.9h1.1M94.6 647.4h1.1M120.7 654.0h1.1M97.0 666.2h1.1M112.8 639.7h1.1M87.3 652.5h1.1M101.6 656.8h1.1M92.6 634.6h1.1M101.3 635.3h1.1M109.9 634.1h1.1M95.0 646.8h1.1M107.4 664.5h1.1M118.4 650.1h1.1M102.1 634.7h1.1M98.3 648.3h1.1M98.9 660.3h1.1M95.2 648.3h1.1M85.4 638.4h1.1M119.3 658.0h1.1M103.4 640.5h1.1M79.3 667.7h1.1M120.6 645.3h1.1M123.5 657.2h1.1M116.0 639.4h1.1M121.3 650.4h1.1M88.5 655.7h1.1M91.2 657.6h1.1M107.2 637.3h1.1M91.6 673.6h1.1M117.8 660.5h1.1M98.0 667.1h1.1M138.1 654.9h1.1M105.7 653.6h1.1M109.9 659.6h1.1M117.7 644.5h1.1M96.1 664.6h1.1M104.8 658.3h1.1M117.4 662.5h1.1M116.1 639.3h1.1M118.9 663.2h1.1M103.1 657.0h1.1M125.2 653.7h1.1M105.3 635.5h1.1M94.6 659.7h1.1M123.3 669.7h1.1M103.2 665.0h1.1M106.1 630.9h1.1M98.8 656.3h1.1M100.6 651.6h1.1M107.3 640.2h1.1M108.2 641.7h1.1M103.5 657.9h1.1M102.0 655.9h1.1M123.3 640.6h1.1M108.7 657.2h1.1M108.1 661.6h1.1M96.3 663.1h1.1M97.2 646.2h1.1M120.6 632.0h1.1M128.0 645.2h1.1M116.7 632.8h1.1M126.2 655.4h1.1M104.6 649.6h1.1M132.9 636.8h1.1M99.0 647.1h1.1M112.8 650.2h1.1M117.0 663.8h1.1M105.5 656.1h1.1M116.6 632.5h1.1M126.5 659.6h1.1M86.9 648.6h1.1M86.5 640.2h1.1M101.9 631.2h1.1M118.9 659.6h1.1M88.1 657.0h1.1M90.5 668.3h1.1M97.5 652.1h1.1M109.8 654.4h1.1M103.0 652.2h1.1M101.4 654.3h1.1M94.6 657.6h1.1M84.0 657.3h1.1M126.8 639.2h1.1M94.7 659.8h1.1M88.1 641.5h1.1M102.5 660.8h1.1M110.0 646.9h1.1M91.5 646.2h1.1M121.7 644.0h1.1M86.1 637.4h1.1M94.2 656.2h1.1M107.9 647.4h1.1M96.7 639.8h1.1M104.0 670.9h1.1M102.9 661.9h1.1M87.5 657.8h1.1M114.4 657.4h1.1M97.8 661.9h1.1M106.8 641.3h1.1M107.0 639.4h1.1M98.1 654.6h1.1M77.7 665.3h1.1M88.8 643.3h1.1M105.9 659.2h1.1M108.6 663.4h1.1M87.9 645.6h1.1M124.6 644.1h1.1M112.2 637.2h1.1M116.2 647.4h1.1M113.4 646.3h1.1M115.8 637.1h1.1M89.1 643.0h1.1M114.9 636.6h1.1M91.0 648.1h1.1M95.5 641.7h1.1M100.3 646.3h1.1M96.0 645.0h1.1M104.6 645.8h1.1M108.9 651.5h1.1M99.1 629.0h1.1M97.0 646.3h1.1M106.7 631.7h1.1M97.6 651.7h1.1M108.0 660.6h1.1M106.7 661.0h1.1M82.2 643.1h1.1M121.3 646.5h1.1M112.2 648.1h1.1M105.5 636.6h1.1M113.7 639.7h1.1M117.2 644.8h1.1M79.6 650.7h1.1M117.5 642.0h1.1M103.6 654.5h1.1M99.4 647.8h1.1M108.3 650.6h1.1M122.5 641.3h1.1M135.0 654.3h1.1M129.6 648.9h1.1M108.5 650.4h1.1M101.4 644.5h1.1M102.6 644.8h1.1M126.2 644.8h1.1M92.3 636.1h1.1M103.9 646.7h1.1M89.5 646.7h1.1M86.0 668.4h1.1M118.7 672.7h1.1M105.4 648.9h1.1M122.2 642.5h1.1M106.4 645.8h1.1M107.7 666.6h1.1M125.5 658.9h1.1M103.0 652.4h1.1M102.2 663.7h1.1M94.8 663.2h1.1M124.9 655.6h1.1M102.2 665.1h1.1M95.3 647.7h1.1M98.5 667.9h1.1M120.7 635.0h1.1M96.9 651.6h1.1M137.6 643.7h1.1M91.9 637.7h1.1M105.4 664.3h1.1M124.6 636.5h1.1M96.8 649.7h1.1M91.4 669.2h1.1M100.5 665.7h1.1M82.4 649.2h1.1M105.7 641.7h1.1M114.7 645.4h1.1M97.4 662.4h1.1M105.7 628.4h1.1M128.0 643.3h1.1M105.1 629.3h1.1M97.3 651.3h1.1M110.4 630.9h1.1M87.2 637.7h1.1M105.7 654.4h1.1M86.0 655.0h1.1M119.7 660.7h1.1M111.9 643.4h1.1M89.6 649.0h1.1M100.3 655.3h1.1M114.3 664.7h1.1M104.1 639.0h1.1M127.3 649.0h1.1M103.9 643.1h1.1M81.9 652.4h1.1M112.0 637.6h1.1M93.8 659.6h1.1M112.1 653.8h1.1M120.4 658.3h1.1M102.7 663.5h1.1M99.7 661.9h1.1M109.6 651.0h1.1M116.5 644.0h1.1M122.4 650.9h1.1M105.1 644.3h1.1M96.0 650.0h1.1M104.3 651.0h1.1M140.7 637.6h1.1M110.2 637.9h1.1M97.5 651.5h1.1M103.3 639.9h1.1M120.4 635.5h1.1M106.0 623.3h1.1M107.8 652.4h1.1M111.5 654.1h1.1M110.2 649.7h1.1M83.3 655.2h1.1M85.3 669.5h1.1M108.7 646.5h1.1M95.1 649.9h1.1M134.3 653.9h1.1M112.3 661.5h1.1M80.3 642.8h1.1M97.1 645.3h1.1M101.6 655.0h1.1M134.6 626.1h1.1M108.4 652.1h1.1M110.8 658.3h1.1M118.7 628.6h1.1M106.9 646.7h1.1M102.5 634.6h1.1M76.6 640.5h1.1M112.9 648.5h1.1M95.4 629.1h1.1M98.8 645.7h1.1M87.2 650.6h1.1M116.5 650.5h1.1M108.8 654.6h1.1M100.6 654.2h1.1M109.7 654.6h1.1M105.1 649.2h1.1M101.9 645.2h1.1M132.3 641.1h1.1M122.4 667.3h1.1M113.3 628.1h1.1M117.9 653.1h1.1M132.7 650.1h1.1M108.6 635.2h1.1M98.8 657.6h1.1M106.6 638.1h1.1M100.5 648.8h1.1M108.8 652.5h1.1M97.3 641.0h1.1M127.4 656.4h1.1M110.5 659.5h1.1M114.4 653.0h1.1M107.7 640.5h1.1M117.5 655.3h1.1M107.0 672.4h1.1M137.3 653.2h1.1M130.9 644.5h1.1M100.0 646.8h1.1M98.6 655.9h1.1M109.5 656.0h1.1M130.0 636.1h1.1M115.9 650.1h1.1M108.3 646.6h1.1M101.1 643.6h1.1M108.2 648.7h1.1M105.6 640.7h1.1M107.1 650.2h1.1M107.5 637.2h1.1M115.8 656.0h1.1M110.9 643.2h1.1M100.2 650.9h1.1M121.8 659.1h1.1M101.6 645.4h1.1M111.4 649.5h1.1M93.4 649.1h1.1M108.8 656.4h1.1M89.0 648.3h1.1M105.6 636.4h1.1M109.4 652.4h1.1M100.3 641.8h1.1M104.2 647.5h1.1M105.8 640.7h1.1M109.5 628.9h1.1M104.7 651.1h1.1M113.5 639.0h1.1M109.3 641.8h1.1M122.9 660.6h1.1M104.5 656.2h1.1M101.7 664.0h1.1M119.3 643.0h1.1M96.7 660.3h1.1M123.9 652.5h1.1M105.8 629.3h1.1M106.5 666.4h1.1M99.4 667.2h1.1M129.9 645.3h1.1M116.5 640.4h1.1M93.3 656.5h1.1M104.2 650.8h1.1M113.0 644.6h1.1M110.6 652.5h1.1M115.7 666.0h1.1M111.5 648.1h1.1M101.2 645.8h1.1M121.2 643.2h1.1M92.5 651.6h1.1M102.9 647.0h1.1M112.0 633.4h1.1M112.3 648.3h1.1M94.5 657.5h1.1M108.0 654.9h1.1M103.3 655.3h1.1M83.8 650.6h1.1M119.9 654.3h1.1M103.4 644.9h1.1M107.3 625.4h1.1M101.6 660.6h1.1M108.1 637.1h1.1M94.1 673.9h1.1M103.6 641.3h1.1M111.6 657.5h1.1M85.1 675.2h1.1M103.8 627.5h1.1M105.6 630.0h1.1M120.3 646.6h1.1M126.9 631.2h1.1M111.8 659.0h1.1M96.3 647.7h1.1M102.3 651.6h1.1M97.7 660.7h1.1M112.5 647.4h1.1M122.5 637.0h1.1M117.3 637.4h1.1M104.7 628.7h1.1M107.7 647.3h1.1M98.3 647.7h1.1M99.3 645.9h1.1M80.7 658.0h1.1M98.2 648.8h1.1M94.8 655.2h1.1M113.4 643.1h1.1M108.2 664.7h1.1M121.3 652.1h1.1M116.9 640.2h1.1M110.7 660.4h1.1M100.1 652.3h1.1M112.3 651.0h1.1M108.5 660.2h1.1M108.3 657.4h1.1M120.9 649.3h1.1M108.3 635.6h1.1M89.8 652.5h1.1M118.9 660.1h1.1M95.3 660.0h1.1M94.0 648.8h1.1M107.1 657.6h1.1M114.6 658.9h1.1M100.7 663.6h1.1M116.5 645.0h1.1M108.6 642.3h1.1M93.1 653.0h1.1M109.7 667.2h1.1M110.2 651.5h1.1M110.3 638.8h1.1M117.9 647.8h1.1M93.8 664.3h1.1M114.5 650.6h1.1M120.9 636.9h1.1M115.6 653.4h1.1M103.1 665.8h1.1M84.9 647.4h1.1M106.5 637.4h1.1M97.1 636.5h1.1M101.6 639.8h1.1M102.4 634.7h1.1M109.8 645.0h1.1M106.8 649.0h1.1M101.3 637.8h1.1M80.0 665.7h1.1M94.5 651.7h1.1M101.0 630.2h1.1M95.5 649.3h1.1M97.1 659.2h1.1M100.9 643.7h1.1M100.3 662.9h1.1M102.6 659.0h1.1M101.7 630.9h1.1M95.3 656.5h1.1M114.0 654.7h1.1M120.0 654.1h1.1M101.6 650.4h1.1M112.4 641.7h1.1M109.5 629.9h1.1M112.4 644.6h1.1M91.0 670.3h1.1M109.8 648.3h1.1M93.0 652.4h1.1M118.1 633.8h1.1M93.4 656.1h1.1M97.9 644.5h1.1M103.0 664.1h1.1M101.3 675.6h1.1M95.4 643.8h1.1M117.5 650.2h1.1M99.4 662.7h1.1M82.8 653.0h1.1M116.9 641.0h1.1M95.5 662.3h1.1M115.9 644.3h1.1M86.0 657.8h1.1M114.7 654.1h1.1M124.5 636.7h1.1M101.3 652.6h1.1M114.3 634.6h1.1M106.3 618.4h1.1M111.4 639.4h1.1M114.7 653.2h1.1M93.8 656.3h1.1M111.9 653.6h1.1M91.9 647.0h1.1M103.4 649.2h1.1M95.6 667.0h1.1M108.1 665.6h1.1M115.5 645.1h1.1M108.5 636.0h1.1M100.2 647.0h1.1M93.4 657.8h1.1M112.2 663.3h1.1M94.6 651.5h1.1M112.9 651.0h1.1M104.4 645.7h1.1M113.4 650.1h1.1M86.0 658.8h1.1M86.3 648.0h1.1M108.3 649.6h1.1M103.3 641.7h1.1M99.8 643.3h1.1M113.9 653.7h1.1M131.1 650.4h1.1M95.8 650.9h1.1M98.3 658.3h1.1M130.6 644.3h1.1M77.4 652.3h1.1M95.6 662.2h1.1M108.0 652.6h1.1M120.9 632.1h1.1M107.5 672.1h1.1M106.2 641.2h1.1M77.8 649.0h1.1M81.4 665.3h1.1M111.9 658.3h1.1M101.6 644.8h1.1M108.3 670.9h1.1M89.0 662.1h1.1M109.9 655.2h1.1M104.8 656.8h1.1M114.2 643.8h1.1M100.8 651.1h1.1M95.4 654.0h1.1M104.4 653.6h1.1M126.9 653.3h1.1M104.9 657.9h1.1M113.4 654.8h1.1M108.1 652.2h1.1M97.7 646.0h1.1M122.1 656.0h1.1M115.6 649.8h1.1M107.0 644.5h1.1M91.3 666.4h1.1M105.8 644.0h1.1M102.9 666.9h1.1M96.6 676.1h1.1M125.0 666.7h1.1M98.9 654.1h1.1M102.0 654.4h1.1M100.6 644.8h1.1M113.7 636.8h1.1M104.0 657.8h1.1M98.7 649.5h1.1M108.4 644.7h1.1M93.0 656.6h1.1M112.7 666.1h1.1M99.9 665.0h1.1M96.6 651.6h1.1M104.5 654.3h1.1M124.2 660.0h1.1M106.5 665.3h1.1M120.9 651.1h1.1M103.1 662.4h1.1M107.2 653.7h1.1M107.0 657.4h1.1M123.7 653.1h1.1M109.3 659.9h1.1M116.9 633.2h1.1M115.1 629.6h1.1M115.1 651.9h1.1M123.3 643.5h1.1M97.5 646.0h1.1M97.3 664.1h1.1M100.4 645.2h1.1M108.2 640.2h1.1M99.7 648.7h1.1M131.0 652.7h1.1M97.0 637.3h1.1M109.7 649.0h1.1M113.0 652.8h1.1M107.8 659.9h1.1M116.3 646.8h1.1M99.9 648.3h1.1M108.2 636.3h1.1M101.1 644.5h1.1M95.0 663.6h1.1M106.4 650.5h1.1M108.1 631.8h1.1M107.2 652.9h1.1M109.7 635.6h1.1M115.0 647.6h1.1M126.3 651.7h1.1M123.0 665.3h1.1M104.4 646.3h1.1M98.3 643.9h1.1M96.8 633.9h1.1M107.8 654.2h1.1M115.1 641.0h1.1M117.7 636.0h1.1M95.7 634.5h1.1M94.6 647.7h1.1M124.2 645.7h1.1M97.9 661.0h1.1M110.2 645.2h1.1M105.2 647.3h1.1M92.3 638.2h1.1M111.9 661.4h1.1M119.7 639.3h1.1M97.9 652.6h1.1M117.3 647.7h1.1M102.3 656.5h1.1M106.9 655.6h1.1M95.2 640.0h1.1M110.8 656.1h1.1M94.8 655.6h1.1M113.6 641.7h1.1M109.8 670.9h1.1M119.9 653.8h1.1M104.9 669.3h1.1M87.2 655.3h1.1M120.5 656.9h1.1M93.9 649.8h1.1M99.1 632.6h1.1M115.7 651.0h1.1M104.6 657.1h1.1M115.8 648.1h1.1M119.1 659.7h1.1M102.5 654.1h1.1M106.2 661.7h1.1M104.7 656.4h1.1M108.2 649.8h1.1M123.4 639.3h1.1M124.8 648.7h1.1M119.0 640.9h1.1M119.5 650.9h1.1M101.6 655.8h1.1M105.0 650.4h1.1M116.1 636.4h1.1M81.2 645.2h1.1M98.8 647.2h1.1M109.4 654.6h1.1M125.7 642.4h1.1M107.6 641.2h1.1M118.9 658.0h1.1M110.5 625.9h1.1M123.1 658.1h1.1M107.6 632.7h1.1M106.3 656.7h1.1M106.8 640.8h1.1M102.2 663.2h1.1M100.0 669.7h1.1M108.1 652.4h1.1M90.3 652.7h1.1M106.3 633.8h1.1M120.5 626.3h1.1M94.5 657.4h1.1M114.8 653.3h1.1M101.8 650.4h1.1M101.4 646.6h1.1M85.4 672.9h1.1M109.8 649.9h1.1M101.4 655.7h1.1M106.0 649.4h1.1M109.3 629.3h1.1M103.9 639.7h1.1M110.5 664.3h1.1M95.2 655.4h1.1M105.2 661.3h1.1M88.6 641.6h1.1M109.9 644.1h1.1M108.5 660.8h1.1M95.8 652.0h1.1M110.0 652.6h1.1M106.3 661.6h1.1M126.9 633.7h1.1M115.0 621.7h1.1M118.9 639.0h1.1M106.2 646.4h1.1M94.0 643.0h1.1M108.8 663.1h1.1M116.2 640.5h1.1M97.9 647.2h1.1M103.2 671.9h1.1M113.7 647.2h1.1M96.7 644.3h1.1M123.4 648.9h1.1M101.7 663.7h1.1M98.5 661.7h1.1M94.9 652.1h1.1M113.5 650.7h1.1M112.6 637.2h1.1M128.7 652.1h1.1M108.6 653.9h1.1M98.0 653.2h1.1M93.8 658.3h1.1M114.9 660.0h1.1M119.9 651.3h1.1M101.8 650.2h1.1M104.2 653.8h1.1M90.9 667.5h1.1M88.4 654.7h1.1M104.3 645.6h1.1M122.6 639.6h1.1M127.8 650.7h1.1M103.5 656.2h1.1M117.9 639.8h1.1M104.7 644.9h1.1M105.4 646.7h1.1M112.1 657.9h1.1M121.0 643.1h1.1M112.6 656.0h1.1M98.5 642.9h1.1M113.1 635.8h1.1M111.2 636.6h1.1M119.8 630.8h1.1M122.2 657.6h1.1M104.0 667.9h1.1M89.8 640.1h1.1M117.1 651.7h1.1M92.4 630.2h1.1M104.5 647.8h1.1M101.3 649.8h1.1M85.9 655.6h1.1M131.9 652.5h1.1M99.5 646.2h1.1M115.6 656.5h1.1M108.1 636.1h1.1M108.8 650.2h1.1M126.6 651.7h1.1M117.6 657.1h1.1M109.9 665.1h1.1M104.2 655.7h1.1M111.3 637.1h1.1M91.1 639.4h1.1M107.9 648.6h1.1M105.6 656.0h1.1M85.3 662.0h1.1M106.1 647.3h1.1M122.8 660.0h1.1M97.5 644.8h1.1M100.9 654.3h1.1M108.2 639.5h1.1M111.6 635.7h1.1M116.8 648.8h1.1M121.5 665.3h1.1M103.1 650.1h1.1M115.4 654.4h1.1M94.5 660.0h1.1M102.1 659.5h1.1M120.4 642.5h1.1M106.3 652.1h1.1M80.7 673.4h1.1M112.9 648.1h1.1M99.0 646.2h1.1M110.5 661.1h1.1M111.9 661.8h1.1M78.6 661.0h1.1M109.2 648.3h1.1M86.7 654.0h1.1M112.8 632.1h1.1M91.4 646.6h1.1M104.1 658.5h1.1M102.7 629.7h1.1M118.2 636.7h1.1M108.6 667.3h1.1M99.7 640.2h1.1M96.6 647.6h1.1M94.8 653.0h1.1M116.9 647.9h1.1M97.2 656.7h1.1M110.5 656.1h1.1M105.4 655.7h1.1M128.0 638.7h1.1M97.3 659.0h1.1M96.7 651.5h1.1M110.0 651.7h1.1M107.7 658.7h1.1M98.3 640.3h1.1M113.5 641.9h1.1M115.5 637.6h1.1M113.7 649.3h1.1M102.1 668.1h1.1M92.0 668.5h1.1M119.8 647.8h1.1M110.8 642.0h1.1M107.5 651.9h1.1M114.1 653.5h1.1M101.1 645.4h1.1M102.9 656.7h1.1M83.9 649.1h1.1M99.7 647.8h1.1M91.0 629.4h1.1M101.9 649.9h1.1M104.7 629.1h1.1M105.7 655.7h1.1M117.1 657.1h1.1M112.0 635.2h1.1M111.2 643.5h1.1M105.9 667.4h1.1M96.1 646.5h1.1M98.3 645.3h1.1M118.4 647.4h1.1M122.5 645.3h1.1M105.4 662.3h1.1M97.7 649.9h1.1M105.0 651.3h1.1M115.5 638.1h1.1M109.9 647.7h1.1M88.7 648.1h1.1M106.2 654.6h1.1M112.0 652.1h1.1M104.8 646.0h1.1M105.9 639.2h1.1M91.5 655.0h1.1M89.7 654.0h1.1M96.3 649.7h1.1M102.2 643.6h1.1M94.0 638.2h1.1M103.7 641.8h1.1M96.9 624.1h1.1M99.6 656.7h1.1M80.3 661.1h1.1M107.9 650.3h1.1M92.6 660.6h1.1M103.3 641.0h1.1M113.7 645.3h1.1M104.5 646.1h1.1M112.5 647.6h1.1M120.1 647.2h1.1M99.2 651.7h1.1M113.9 641.6h1.1M112.9 652.1h1.1M93.5 631.6h1.1M108.9 651.0h1.1M104.2 642.9h1.1M118.0 641.9h1.1M96.8 647.6h1.1M104.8 638.8h1.1M106.1 672.6h1.1M124.8 651.2h1.1M123.1 647.1h1.1M95.3 669.8h1.1M121.3 646.9h1.1M92.8 671.8h1.1M117.9 637.9h1.1M111.5 655.8h1.1M111.0 659.7h1.1M110.7 655.3h1.1M100.2 637.1h1.1M115.7 659.4h1.1M126.3 657.8h1.1M109.2 641.8h1.1M97.4 633.8h1.1M109.0 658.7h1.1M85.7 664.2h1.1M121.2 656.4h1.1M94.0 649.9h1.1M82.6 652.4h1.1M121.9 664.3h1.1M101.6 668.3h1.1M108.4 643.4h1.1M116.4 616.0h1.1M106.9 652.2h1.1M136.7 652.7h1.1M130.0 637.9h1.1M123.0 655.8h1.1M113.4 650.0h1.1M102.7 647.6h1.1M103.6 673.6h1.1M91.9 635.1h1.1M109.0 648.2h1.1M117.1 664.3h1.1M104.1 648.4h1.1M98.9 654.2h1.1M103.1 654.3h1.1M140.0 635.1h1.1M107.2 671.3h1.1M119.2 651.8h1.1M117.7 652.7h1.1M120.2 657.9h1.1M123.2 655.5h1.1M101.4 652.9h1.1M103.8 662.3h1.1M112.6 641.2h1.1M125.2 668.7h1.1M113.6 633.4h1.1M108.7 655.9h1.1M108.0 653.5h1.1M120.0 645.9h1.1M98.9 662.4h1.1M106.1 651.5h1.1M94.0 641.6h1.1M92.2 654.3h1.1M82.5 633.3h1.1M112.5 633.5h1.1M101.8 658.7h1.1M88.6 675.4h1.1M101.9 660.1h1.1M103.1 655.4h1.1M107.6 649.4h1.1M80.9 648.3h1.1M112.9 662.1h1.1M103.6 657.7h1.1M110.5 653.1h1.1M109.2 631.6h1.1M108.4 646.9h1.1M99.2 644.6h1.1M93.5 645.9h1.1M107.6 677.6h1.1M123.8 640.1h1.1M109.3 637.4h1.1M114.9 661.3h1.1M101.2 641.8h1.1M99.2 643.0h1.1M91.2 656.2h1.1M98.5 645.5h1.1M93.0 647.3h1.1M115.7 660.4h1.1M115.3 670.1h1.1M91.5 661.8h1.1M94.0 655.4h1.1M110.3 654.1h1.1M115.2 638.7h1.1M93.0 655.7h1.1M106.1 642.4h1.1M123.8 659.0h1.1M93.9 661.4h1.1M107.4 627.8h1.1M107.5 646.9h1.1M98.5 669.4h1.1M106.4 644.7h1.1M114.1 652.8h1.1M117.1 650.4h1.1M104.9 637.7h1.1M102.9 653.5h1.1M97.5 643.3h1.1M89.3 662.7h1.1M104.0 644.9h1.1M98.0 644.9h1.1M98.4 653.6h1.1M103.3 659.5h1.1M105.7 651.9h1.1M116.8 658.4h1.1M113.7 648.4h1.1M100.9 644.2h1.1M106.4 657.8h1.1M106.9 645.4h1.1M85.5 644.9h1.1M114.8 656.8h1.1M103.6 636.2h1.1M105.4 653.1h1.1M98.9 658.3h1.1M100.4 644.1h1.1M97.9 664.1h1.1M105.8 640.4h1.1M100.6 663.4h1.1M111.1 643.9h1.1M121.2 638.2h1.1M101.1 665.4h1.1M106.3 654.0h1.1M102.0 641.3h1.1M93.5 655.3h1.1M115.8 633.3h1.1M121.3 643.9h1.1M96.5 658.7h1.1M107.9 639.1h1.1M86.7 665.4h1.1M97.4 660.2h1.1M86.5 660.0h1.1M91.1 642.2h1.1M104.9 652.9h1.1M95.1 643.3h1.1M100.1 634.0h1.1M114.3 651.0h1.1M127.8 647.7h1.1M111.4 650.2h1.1M100.3 638.7h1.1M123.8 645.9h1.1M98.0 642.0h1.1M124.1 645.8h1.1M97.8 662.6h1.1M125.5 638.8h1.1M108.5 644.2h1.1M105.4 662.7h1.1M138.2 633.0h1.1M109.1 657.4h1.1M107.0 657.9h1.1M109.9 636.6h1.1M95.3 655.6h1.1M116.2 647.5h1.1M112.3 631.2h1.1M108.5 641.9h1.1M109.1 652.1h1.1M95.6 653.7h1.1M96.1 659.0h1.1M95.5 650.8h1.1M105.5 643.2h1.1M115.0 638.0h1.1M116.4 647.4h1.1M95.0 654.2h1.1M96.3 651.8h1.1M112.6 666.9h1.1M109.9 665.6h1.1M104.7 636.4h1.1M86.5 669.2h1.1M89.9 667.6h1.1M118.8 647.3h1.1M103.2 649.1h1.1M107.6 646.0h1.1M99.3 650.0h1.1M115.3 638.0h1.1M104.7 638.1h1.1M92.7 642.6h1.1M107.8 656.9h1.1M107.2 644.1h1.1M111.0 643.5h1.1M111.6 650.1h1.1M100.0 626.1h1.1M97.1 664.1h1.1M116.3 669.4h1.1M101.5 646.7h1.1M124.2 646.0h1.1M128.1 643.3h1.1M108.0 657.2h1.1M96.4 650.8h1.1M99.8 651.4h1.1M112.0 641.4h1.1M107.3 644.0h1.1M102.1 621.8h1.1M105.2 652.6h1.1M100.6 664.7h1.1M114.9 659.5h1.1M119.3 649.8h1.1M99.7 641.8h1.1M102.1 647.4h1.1M106.8 644.7h1.1M129.5 618.9h1.1M116.0 639.3h1.1M108.5 659.2h1.1M100.7 639.8h1.1M109.7 646.0h1.1M86.8 663.6h1.1M92.3 649.9h1.1M112.8 649.7h1.1M114.1 669.8h1.1M107.7 642.4h1.1M108.3 647.6h1.1M76.8 649.6h1.1M102.5 675.3h1.1M103.3 648.8h1.1M105.6 661.5h1.1M115.0 664.1h1.1M122.3 659.2h1.1M107.1 653.8h1.1M101.3 651.1h1.1M86.3 655.2h1.1M93.8 650.1h1.1M120.0 645.1h1.1M122.9 650.1h1.1M120.6 653.1h1.1M104.3 660.2h1.1M100.7 647.4h1.1M128.9 661.2h1.1M105.1 670.2h1.1M110.7 638.1h1.1M111.0 651.5h1.1M108.5 644.9h1.1M93.8 657.7h1.1M118.9 651.6h1.1M118.4 655.4h1.1M96.4 655.4h1.1M114.7 656.4h1.1M110.6 653.4h1.1M117.9 666.7h1.1M84.5 662.4h1.1M132.4 637.7h1.1M88.8 661.7h1.1M88.9 652.6h1.1M117.0 663.0h1.1M114.4 652.9h1.1M117.7 645.8h1.1M97.4 654.1h1.1M108.5 645.7h1.1M98.1 650.9h1.1M86.5 650.1h1.1M103.9 647.5h1.1M113.6 661.5h1.1M109.3 648.0h1.1M89.6 647.8h1.1M106.1 640.6h1.1M105.6 638.6h1.1M107.5 648.6h1.1M114.6 641.0h1.1M104.0 654.2h1.1M115.2 663.8h1.1M101.3 647.0h1.1M105.6 655.8h1.1M112.2 654.4h1.1M124.8 639.1h1.1M95.2 658.3h1.1M99.9 629.0h1.1M99.5 637.6h1.1M117.7 658.9h1.1M109.6 631.5h1.1M124.7 649.6h1.1M105.3 656.3h1.1M120.1 638.5h1.1M103.7 645.4h1.1M107.7 625.4h1.1M116.0 633.7h1.1M107.9 631.1h1.1M94.3 650.4h1.1M107.0 631.7h1.1M109.5 641.2h1.1M117.4 640.2h1.1M110.5 645.8h1.1M122.7 636.6h1.1M115.8 666.7h1.1M110.6 655.3h1.1M100.1 655.9h1.1M84.3 664.0h1.1M92.8 641.2h1.1M97.8 667.7h1.1M103.5 634.9h1.1M121.3 633.7h1.1M104.0 654.2h1.1M87.3 643.1h1.1M104.7 664.1h1.1M108.4 631.3h1.1M118.7 643.3h1.1M111.8 647.5h1.1M105.8 639.3h1.1M94.0 649.4h1.1M105.8 657.3h1.1M102.0 670.3h1.1M97.3 648.7h1.1M115.6 649.6h1.1M98.0 643.0h1.1M88.8 642.5h1.1M123.1 652.4h1.1M127.6 643.4h1.1M113.5 654.4h1.1M114.8 642.4h1.1M120.4 665.9h1.1M82.8 648.1h1.1M100.5 661.8h1.1M116.8 640.3h1.1M113.0 645.7h1.1M106.9 643.8h1.1M106.2 650.1h1.1M128.6 662.1h1.1M90.9 664.9h1.1M111.1 658.1h1.1M120.9 650.4h1.1M110.0 637.4h1.1M97.5 673.8h1.1M114.0 635.1h1.1M122.6 648.1h1.1M86.3 671.7h1.1M102.2 665.4h1.1M96.1 647.7h1.1M90.0 657.1h1.1M113.5 638.5h1.1M128.3 645.1h1.1M95.3 643.0h1.1M92.8 664.1h1.1M114.4 633.6h1.1M105.2 647.7h1.1M106.3 655.7h1.1M124.4 632.6h1.1M120.3 654.2h1.1M102.9 650.4h1.1M98.3 666.8h1.1M98.0 647.6h1.1M103.0 642.4h1.1M94.6 653.5h1.1M120.4 639.7h1.1M104.7 634.7h1.1M95.8 676.4h1.1M95.1 639.5h1.1M108.4 655.7h1.1M84.9 652.6h1.1M104.7 640.8h1.1M119.1 653.4h1.1M108.9 643.9h1.1M103.0 645.0h1.1M106.7 653.4h1.1M108.2 659.9h1.1M129.9 630.4h1.1M113.9 654.9h1.1M111.8 644.3h1.1M106.5 661.2h1.1M115.2 650.6h1.1M101.5 659.9h1.1M113.6 643.8h1.1M123.5 664.4h1.1M90.6 666.0h1.1M88.2 645.4h1.1M106.8 655.9h1.1M101.4 639.9h1.1M89.4 653.7h1.1M102.6 643.0h1.1M99.9 673.4h1.1M97.3 653.6h1.1M98.2 648.3h1.1M105.5 647.3h1.1M107.0 636.5h1.1M101.0 675.0h1.1M109.5 656.9h1.1M121.0 647.8h1.1M99.3 636.8h1.1M95.1 667.5h1.1M116.1 650.8h1.1M79.5 641.8h1.1M90.1 646.2h1.1M103.2 640.5h1.1M119.4 635.6h1.1M105.0 660.5h1.1M105.5 640.5h1.1M124.1 661.4h1.1M92.9 655.1h1.1M86.2 640.0h1.1M116.2 652.2h1.1M118.4 647.9h1.1M86.1 661.5h1.1M94.1 644.0h1.1M99.1 662.9h1.1M113.1 668.3h1.1M102.0 631.2h1.1M121.6 655.3h1.1M100.9 639.6h1.1M118.0 628.6h1.1M96.4 634.4h1.1M85.6 643.0h1.1M123.2 653.6h1.1M95.8 640.9h1.1M107.7 653.5h1.1M85.4 649.1h1.1M108.9 656.5h1.1M109.4 653.4h1.1M81.7 636.3h1.1M105.2 640.4h1.1M103.4 647.5h1.1M107.6 640.7h1.1M121.3 641.8h1.1M114.9 652.2h1.1M119.0 647.3h1.1M85.7 654.9h1.1M127.7 643.1h1.1M114.5 650.7h1.1M96.7 648.0h1.1M105.6 663.6h1.1M118.9 662.9h1.1M120.8 663.1h1.1M105.4 637.3h1.1M125.9 642.6h1.1M119.7 644.8h1.1M104.0 653.4h1.1M89.2 646.5h1.1M94.9 650.8h1.1M92.2 657.1h1.1M119.5 665.4h1.1M125.0 638.7h1.1M114.4 642.9h1.1M110.3 647.4h1.1M101.4 653.8h1.1M93.6 662.5h1.1M98.2 642.5h1.1M105.5 656.8h1.1M101.9 658.1h1.1M120.0 659.9h1.1M94.8 655.5h1.1M119.1 659.8h1.1M112.9 654.9h1.1M88.6 653.7h1.1M122.1 637.8h1.1M125.0 631.0h1.1M95.8 638.0h1.1M114.3 648.5h1.1M128.0 639.5h1.1M97.0 639.5h1.1M110.3 658.6h1.1M120.1 656.1h1.1M115.1 644.5h1.1M113.6 647.9h1.1M101.3 672.5h1.1M105.2 638.8h1.1M111.9 650.2h1.1M123.9 656.5h1.1M78.0 672.8h1.1M117.5 632.8h1.1M88.8 663.4h1.1M111.7 651.0h1.1M92.8 652.6h1.1M112.2 655.2h1.1M130.5 639.5h1.1M88.6 633.3h1.1M116.9 642.5h1.1M100.5 642.2h1.1M105.2 630.3h1.1M108.2 650.4h1.1M116.1 659.4h1.1M105.9 651.4h1.1M107.6 631.6h1.1M103.8 652.3h1.1M112.4 637.4h1.1M116.7 648.5h1.1M83.8 646.1h1.1M92.4 659.7h1.1M112.2 655.0h1.1M112.2 640.4h1.1M121.6 650.7h1.1M113.7 651.3h1.1M95.0 660.8h1.1M89.9 645.9h1.1M103.6 653.3h1.1M104.3 647.5h1.1M97.1 657.6h1.1M91.8 642.3h1.1M114.7 662.0h1.1M97.0 643.3h1.1M129.3 656.5h1.1M102.4 649.9h1.1M123.4 674.2h1.1M112.8 657.8h1.1M102.0 631.7h1.1M89.0 646.0h1.1M111.5 648.3h1.1M123.7 637.0h1.1M110.1 648.8h1.1M119.5 669.1h1.1M116.8 661.0h1.1M116.9 637.0h1.1M111.7 642.6h1.1M108.4 650.7h1.1M104.4 645.8h1.1M121.3 638.4h1.1M122.1 660.3h1.1M118.1 655.1h1.1M126.3 651.1h1.1M117.2 627.4h1.1M126.9 638.5h1.1M85.2 654.9h1.1M91.9 658.2h1.1M86.0 650.2h1.1M110.3 649.6h1.1M97.1 652.7h1.1M105.8 651.2h1.1M105.3 648.1h1.1M107.6 630.9h1.1M102.0 654.1h1.1M99.6 647.6h1.1M103.0 654.4h1.1M118.5 640.9h1.1M105.5 654.7h1.1M94.3 634.7h1.1M107.4 645.1h1.1M103.7 658.9h1.1M104.1 644.9h1.1M75.3 648.2h1.1M106.1 648.9h1.1M112.2 649.3h1.1M95.2 641.9h1.1M94.4 655.4h1.1M98.3 663.4h1.1M83.8 642.4h1.1M95.6 635.8h1.1M118.4 631.6h1.1M104.7 648.2h1.1M89.1 639.6h1.1M91.5 668.7h1.1M127.9 662.6h1.1M94.1 663.6h1.1M110.6 657.4h1.1M104.8 659.3h1.1M118.8 649.9h1.1M120.7 639.8h1.1M119.0 634.7h1.1M110.1 616.2h1.1M102.6 643.0h1.1M111.7 658.9h1.1M114.4 646.5h1.1M116.8 627.0h1.1M105.6 668.0h1.1M99.5 630.1h1.1M104.1 637.7h1.1M127.6 651.0h1.1M107.3 664.5h1.1M102.4 663.0h1.1M111.9 645.4h1.1M90.3 656.1h1.1M79.9 658.9h1.1M93.3 671.6h1.1M84.3 634.7h1.1M114.4 649.7h1.1M111.8 671.4h1.1M114.9 645.9h1.1M85.0 628.3h1.1M116.3 655.4h1.1M93.3 641.3h1.1M97.7 635.8h1.1M110.4 656.6h1.1M123.5 643.2h1.1M112.3 655.3h1.1M119.5 638.8h1.1M89.8 650.5h1.1M89.0 649.9h1.1M107.0 653.7h1.1M108.5 649.7h1.1M104.9 655.8h1.1M119.5 651.3h1.1M120.6 638.5h1.1M112.4 666.2h1.1M110.7 652.4h1.1M107.8 660.4h1.1M97.3 643.7h1.1M103.7 646.5h1.1M113.3 641.7h1.1M106.7 647.4h1.1M106.9 642.5h1.1M110.9 631.0h1.1M99.0 646.2h1.1M113.4 646.5h1.1M109.9 644.2h1.1M93.4 644.6h1.1M100.4 647.4h1.1M111.2 651.4h1.1M116.1 643.2h1.1M93.4 645.3h1.1M108.9 652.8h1.1M127.7 639.9h1.1M134.1 655.7h1.1M101.7 666.8h1.1M125.0 654.8h1.1M111.2 658.3h1.1M101.1 652.3h1.1M115.6 665.3h1.1M109.0 659.6h1.1M103.6 643.5h1.1M112.3 654.3h1.1M102.3 659.8h1.1M94.7 646.7h1.1M107.6 646.6h1.1M88.1 641.8h1.1M108.0 652.0h1.1M102.7 654.4h1.1M92.6 662.6h1.1M112.2 649.9h1.1M100.5 654.4h1.1M113.2 658.5h1.1M110.6 650.5h1.1M103.3 661.8h1.1M116.2 638.7h1.1M114.7 648.8h1.1M99.6 639.1h1.1M115.4 623.3h1.1M107.8 644.9h1.1M116.3 639.5h1.1M110.0 655.1h1.1M108.6 642.8h1.1M115.5 649.3h1.1M114.2 639.7h1.1M104.1 646.9h1.1M99.1 657.2h1.1M117.8 659.8h1.1M105.1 655.3h1.1M117.8 642.2h1.1M107.8 650.8h1.1M94.4 645.6h1.1M118.9 644.8h1.1M99.5 639.7h1.1M113.6 659.4h1.1M90.1 649.2h1.1M125.1 655.7h1.1M119.8 635.9h1.1M109.0 639.9h1.1M110.1 643.7h1.1M115.2 660.4h1.1M108.8 645.9h1.1M108.4 652.0h1.1M102.2 654.8h1.1M120.5 659.9h1.1M79.3 652.1h1.1M98.1 664.9h1.1M132.7 637.1h1.1M113.4 659.1h1.1M80.4 663.0h1.1M75.1 669.9h1.1M98.8 648.9h1.1M107.1 642.9h1.1M118.0 643.3h1.1M123.0 669.6h1.1M106.5 660.6h1.1M104.2 665.7h1.1M117.1 645.5h1.1M124.7 657.9h1.1M120.7 641.8h1.1M111.4 659.8h1.1M88.3 653.6h1.1M114.3 652.0h1.1M134.4 654.0h1.1M112.0 651.9h1.1M92.0 656.3h1.1M108.1 646.5h1.1M110.1 654.9h1.1M93.9 650.8h1.1M93.9 670.4h1.1M87.2 641.7h1.1M113.4 643.6h1.1M114.6 641.1h1.1M131.9 643.5h1.1M108.6 650.1h1.1M108.4 658.2h1.1M125.0 634.5h1.1M98.3 661.6h1.1M110.1 630.9h1.1M94.5 645.6h1.1M114.8 651.0h1.1M93.4 644.7h1.1M103.4 628.4h1.1M112.3 644.9h1.1M131.1 647.1h1.1M99.2 651.1h1.1M100.1 645.4h1.1M112.1 657.8h1.1M89.9 657.0h1.1M125.5 647.5h1.1M94.2 647.9h1.1M89.8 641.4h1.1M118.6 643.8h1.1M92.3 641.9h1.1M100.0 647.9h1.1M121.9 635.9h1.1M113.0 658.5h1.1M112.4 644.5h1.1M91.1 674.8h1.1M110.5 642.8h1.1M100.9 642.4h1.1M90.0 642.7h1.1M114.2 651.5h1.1M112.1 655.6h1.1M112.6 647.9h1.1M100.4 660.2h1.1M121.7 648.4h1.1M116.9 638.6h1.1M102.6 666.4h1.1M101.7 655.5h1.1M104.7 651.3h1.1M101.1 647.0h1.1M97.7 676.7h1.1M99.1 632.4h1.1M91.7 645.8h1.1M86.4 632.7h1.1M120.4 660.5h1.1M107.6 657.8h1.1M106.5 635.9h1.1M110.7 628.5h1.1M98.9 650.3h1.1M119.9 643.6h1.1M101.3 643.9h1.1M107.6 649.8h1.1M120.8 657.5h1.1M114.1 645.8h1.1M112.8 664.5h1.1M108.5 648.7h1.1M132.5 652.7h1.1M111.8 645.7h1.1M105.3 662.8h1.1M106.6 660.8h1.1M99.0 655.5h1.1M111.3 648.9h1.1M110.7 651.9h1.1M89.7 647.2h1.1M113.8 666.2h1.1M100.7 642.9h1.1M100.0 654.2h1.1M115.8 638.3h1.1M113.1 648.3h1.1M98.3 644.1h1.1M101.4 644.8h1.1M103.4 631.9h1.1M121.7 649.8h1.1M119.7 659.3h1.1M104.3 632.0h1.1M109.2 653.5h1.1M94.0 644.4h1.1M113.4 651.8h1.1M101.0 650.4h1.1M98.6 648.2h1.1M111.2 659.4h1.1M88.5 656.5h1.1M124.4 643.2h1.1M112.1 656.2h1.1M90.4 645.7h1.1M82.6 647.4h1.1M113.2 655.7h1.1M99.0 646.7h1.1M113.6 652.8h1.1M99.8 632.4h1.1M88.6 631.8h1.1M104.8 641.4h1.1M107.2 666.5h1.1M122.2 646.3h1.1M110.1 649.8h1.1M100.3 653.0h1.1M121.6 631.4h1.1M100.6 655.2h1.1M119.6 651.8h1.1M96.1 654.5h1.1M97.8 641.2h1.1M104.9 645.5h1.1M117.9 648.3h1.1M99.0 655.2h1.1M99.8 646.7h1.1M106.8 661.8h1.1M94.0 638.0h1.1M102.6 661.3h1.1M123.1 628.6h1.1M101.3 649.3h1.1M94.2 661.6h1.1M107.3 652.6h1.1M127.8 634.7h1.1M118.6 652.4h1.1M97.2 648.7h1.1M125.7 646.9h1.1M102.6 640.0h1.1M118.0 649.3h1.1M135.9 649.6h1.1M115.9 647.6h1.1M104.5 645.0h1.1M110.8 650.3h1.1M118.4 655.3h1.1M107.0 643.6h1.1M122.2 658.4h1.1M100.1 658.4h1.1M114.6 651.3h1.1M111.2 646.3h1.1M113.7 664.8h1.1M117.2 628.1h1.1M83.0 668.5h1.1M97.2 649.6h1.1M92.1 662.3h1.1M103.3 645.8h1.1M127.4 665.2h1.1M127.1 651.3h1.1M105.5 657.9h1.1M111.7 660.0h1.1M112.2 646.3h1.1M108.6 640.7h1.1M121.8 658.0h1.1M105.6 656.8h1.1M94.2 667.6h1.1M110.4 636.3h1.1M124.7 640.8h1.1M82.4 648.6h1.1M114.0 642.6h1.1M110.1 630.5h1.1M110.3 658.8h1.1M103.0 659.7h1.1M104.6 655.0h1.1M120.6 666.9h1.1M97.8 663.8h1.1M114.3 632.9h1.1M118.5 669.0h1.1M102.7 618.9h1.1M95.8 637.0h1.1M106.0 642.1h1.1M96.8 646.2h1.1M107.2 644.4h1.1M96.3 653.4h1.1M106.4 640.4h1.1M109.7 629.6h1.1M108.7 644.4h1.1M119.3 635.4h1.1M93.3 642.6h1.1M129.6 643.6h1.1M93.9 653.5h1.1M104.2 668.4h1.1M100.8 630.4h1.1M113.1 656.5h1.1M108.8 654.0h1.1M106.4 652.4h1.1M105.2 642.8h1.1M110.8 649.4h1.1M102.8 644.5h1.1M97.5 658.0h1.1M103.1 624.8h1.1M107.7 664.5h1.1M112.3 638.7h1.1M115.4 633.8h1.1M108.0 670.9h1.1M101.0 650.7h1.1M84.9 651.1h1.1M94.0 655.7h1.1M93.1 669.6h1.1M100.0 647.0h1.1M103.7 660.0h1.1M120.0 637.6h1.1M130.6 654.1h1.1M121.5 644.7h1.1M94.7 664.4h1.1M103.3 654.0h1.1M86.1 658.6h1.1M104.3 640.7h1.1M117.6 662.4h1.1M105.5 642.9h1.1M120.1 617.9h1.1M99.2 658.8h1.1M89.4 634.1h1.1M113.2 655.5h1.1M105.6 667.0h1.1M117.4 657.1h1.1M91.0 658.9h1.1M132.5 657.7h1.1M119.8 642.3h1.1M105.3 643.6h1.1M114.2 637.7h1.1M97.7 631.9h1.1M99.9 673.8h1.1M108.1 651.5h1.1M84.1 662.6h1.1M120.2 625.3h1.1M81.6 662.5h1.1M100.1 651.3h1.1M87.1 645.9h1.1M97.1 662.6h1.1M110.0 657.2h1.1M98.4 661.3h1.1M102.5 653.3h1.1M116.1 644.8h1.1M94.8 638.0h1.1M111.0 656.3h1.1M99.8 653.1h1.1M82.0 649.1h1.1M116.9 658.6h1.1M95.2 637.7h1.1M95.0 639.0h1.1M113.1 668.0h1.1M108.8 647.0h1.1M115.2 640.7h1.1M110.9 649.7h1.1M103.8 634.9h1.1M118.1 653.3h1.1M104.7 667.9h1.1M110.0 655.6h1.1M116.5 654.3h1.1M97.1 648.8h1.1M113.3 653.0h1.1M114.0 649.5h1.1M107.0 662.3h1.1M116.5 656.3h1.1M85.5 673.6h1.1M82.6 666.2h1.1M100.3 654.9h1.1M100.1 650.2h1.1M110.2 651.8h1.1M85.9 633.1h1.1M101.2 659.2h1.1M100.0 658.6h1.1M98.1 644.1h1.1M126.6 657.2h1.1M105.2 650.2h1.1M109.8 633.0h1.1M103.1 664.8h1.1M113.3 640.4h1.1M100.3 657.6h1.1M89.6 654.1h1.1M92.0 630.3h1.1M116.3 653.0h1.1M110.3 631.4h1.1M89.3 650.6h1.1M103.2 675.3h1.1M94.9 653.1h1.1M110.9 652.7h1.1M116.0 632.0h1.1M116.3 646.1h1.1M95.2 658.3h1.1M100.1 672.2h1.1M104.0 663.0h1.1M116.8 637.0h1.1M97.9 656.5h1.1M100.2 664.0h1.1M104.5 642.4h1.1M103.0 660.3h1.1M99.9 673.2h1.1M97.4 653.0h1.1M105.0 669.5h1.1M121.5 656.3h1.1M113.7 646.9h1.1M127.3 645.6h1.1M113.9 652.4h1.1M115.5 648.0h1.1M96.8 637.2h1.1M121.3 626.5h1.1M80.7 656.7h1.1M132.6 649.0h1.1M101.6 655.9h1.1M96.4 633.0h1.1M104.5 654.5h1.1M112.6 632.6h1.1M75.3 649.9h1.1M110.3 648.7h1.1M108.8 650.4h1.1M95.9 640.4h1.1M113.1 650.6h1.1M118.7 657.3h1.1M82.0 637.2h1.1M99.0 658.9h1.1M110.0 656.4h1.1M137.3 626.3h1.1M101.8 645.9h1.1M111.6 653.0h1.1M103.0 667.2h1.1M120.6 647.0h1.1M104.2 648.6h1.1M92.7 665.5h1.1M93.9 651.5h1.1M112.3 636.1h1.1M105.4 660.6h1.1M122.3 632.9h1.1M114.7 637.7h1.1M113.0 651.9h1.1M99.8 665.7h1.1M125.5 639.7h1.1M103.4 638.2h1.1M125.4 639.8h1.1M97.1 664.3h1.1M87.9 652.8h1.1M91.2 674.7h1.1M126.3 631.2h1.1M96.8 648.9h1.1M103.4 658.2h1.1M116.6 632.5h1.1M102.1 631.7h1.1M121.9 640.1h1.1M106.9 667.5h1.1M112.2 662.5h1.1M125.9 657.9h1.1M98.5 655.3h1.1M109.4 646.1h1.1M118.8 634.7h1.1M123.7 655.8h1.1M81.4 653.3h1.1M94.4 650.7h1.1M109.7 646.2h1.1M105.0 645.5h1.1M108.1 654.7h1.1M110.3 638.8h1.1M101.5 644.1h1.1M97.5 638.6h1.1M119.8 650.1h1.1M101.8 644.8h1.1M98.4 647.0h1.1M98.6 673.4h1.1M134.5 619.6h1.1M97.3 662.0h1.1M104.9 632.7h1.1M89.2 666.2h1.1M92.9 674.3h1.1M101.8 653.7h1.1M103.7 645.2h1.1M103.5 648.3h1.1M119.0 641.7h1.1M103.5 645.6h1.1M96.2 647.4h1.1M115.8 665.8h1.1M119.3 645.4h1.1M128.9 648.8h1.1M107.8 647.3h1.1M96.3 658.7h1.1M95.3 638.2h1.1M102.8 674.5h1.1M111.2 653.0h1.1M106.3 644.8h1.1M116.7 656.6h1.1M105.9 656.3h1.1M114.7 639.7h1.1M104.6 642.6h1.1M110.9 643.2h1.1M114.6 636.5h1.1M122.5 637.2h1.1M93.3 647.2h1.1M109.1 638.6h1.1M131.7 650.3h1.1M104.8 634.6h1.1M102.6 643.9h1.1M89.8 664.5h1.1M126.7 632.1h1.1M121.3 656.3h1.1M94.8 652.8h1.1M111.6 652.5h1.1M95.7 658.7h1.1M110.1 658.9h1.1M87.1 654.7h1.1M99.7 650.3h1.1M110.9 640.2h1.1M131.4 627.4h1.1M120.3 653.8h1.1M115.5 642.4h1.1M96.6 652.8h1.1M114.0 647.1h1.1M115.4 651.5h1.1M92.6 647.2h1.1M119.0 637.1h1.1M99.3 675.6h1.1M93.2 646.9h1.1M110.9 634.4h1.1M102.7 664.3h1.1M110.5 676.6h1.1M120.9 672.7h1.1M108.1 649.7h1.1M98.7 651.9h1.1M101.2 652.8h1.1M108.2 634.4h1.1M86.5 637.4h1.1M121.8 640.3h1.1M106.1 649.6h1.1M118.5 646.8h1.1M114.5 643.4h1.1M105.0 650.2h1.1M92.6 670.6h1.1M85.1 650.9h1.1M113.7 646.5h1.1M123.5 659.9h1.1M132.8 650.8h1.1M114.4 669.1h1.1M96.9 654.5h1.1M115.8 642.2h1.1M103.5 647.7h1.1M108.3 620.4h1.1M125.0 651.5h1.1M108.6 655.3h1.1M102.0 665.4h1.1M133.7 623.7h1.1M120.7 641.1h1.1M100.6 647.8h1.1M98.3 640.3h1.1M100.7 672.5h1.1M109.1 654.9h1.1M112.1 652.3h1.1M85.9 650.9h1.1M118.1 654.8h1.1M91.7 651.9h1.1M98.7 662.1h1.1M110.2 648.2h1.1M101.5 656.9h1.1M103.1 643.4h1.1M106.6 642.2h1.1M119.5 649.7h1.1M102.3 659.2h1.1M103.7 643.5h1.1M88.7 641.1h1.1M96.5 659.8h1.1M115.9 637.3h1.1M109.9 652.0h1.1M116.8 649.2h1.1M123.1 649.3h1.1M100.6 658.0h1.1M81.3 662.5h1.1M109.6 654.9h1.1M107.5 659.0h1.1M116.0 634.8h1.1M102.2 655.5h1.1M112.3 648.3h1.1M109.2 634.8h1.1M120.4 655.4h1.1M120.2 647.0h1.1M106.0 654.9h1.1M97.8 636.7h1.1M100.0 653.3h1.1M96.5 645.0h1.1M102.2 648.2h1.1M107.0 649.2h1.1M113.3 657.6h1.1M110.0 652.7h1.1M79.1 631.8h1.1M105.7 658.3h1.1M99.9 646.6h1.1M98.1 665.2h1.1M102.2 655.3h1.1M120.9 647.9h1.1M129.2 635.4h1.1M119.9 650.3h1.1M99.9 654.3h1.1M95.5 644.5h1.1M105.7 641.5h1.1M120.3 633.5h1.1M101.3 654.1h1.1M101.4 653.6h1.1M93.1 641.3h1.1M75.0 653.3h1.1M124.5 644.7h1.1M105.8 645.1h1.1M106.5 653.5h1.1M88.1 651.4h1.1M103.5 666.2h1.1M101.4 666.5h1.1M115.3 676.4h1.1M105.8 650.8h1.1M124.9 649.5h1.1M110.9 635.1h1.1M126.7 657.7h1.1M103.0 646.4h1.1M100.2 665.4h1.1M109.6 648.3h1.1M101.8 671.4h1.1M115.5 644.6h1.1M117.1 632.9h1.1M110.7 636.1h1.1M119.8 639.2h1.1M117.1 639.1h1.1M116.4 657.5h1.1M97.6 656.3h1.1M102.0 662.4h1.1M98.4 650.4h1.1M110.2 661.3h1.1M95.5 656.0h1.1M100.3 647.2h1.1M97.5 653.3h1.1M100.8 635.4h1.1M103.0 638.3h1.1M118.1 669.7h1.1M96.1 655.2h1.1M108.8 660.0h1.1M92.6 637.4h1.1M90.6 661.2h1.1M114.5 657.7h1.1M104.3 659.0h1.1M101.9 667.6h1.1M102.4 644.6h1.1M117.1 664.0h1.1M91.5 644.3h1.1M90.2 646.1h1.1M107.7 653.3h1.1M105.8 652.7h1.1M117.4 640.4h1.1M82.1 637.7h1.1M105.6 642.7h1.1M106.0 655.0h1.1M103.5 633.6h1.1M96.9 656.4h1.1M110.7 660.8h1.1M91.0 635.1h1.1M110.5 628.8h1.1M98.4 659.2h1.1M107.9 677.9h1.1M111.7 653.2h1.1M113.0 671.8h1.1M108.5 640.6h1.1M111.1 627.8h1.1M101.8 656.0h1.1M103.1 640.9h1.1M130.3 653.3h1.1M98.7 658.8h1.1M97.7 650.1h1.1M117.4 645.2h1.1M105.9 651.5h1.1M100.4 667.6h1.1M105.2 665.8h1.1M99.5 648.8h1.1M122.9 642.7h1.1M97.2 649.2h1.1M122.1 662.6h1.1M110.9 642.9h1.1M91.5 650.9h1.1M106.5 652.8h1.1M106.1 665.0h1.1M93.0 649.6h1.1M114.1 651.2h1.1M107.3 660.7h1.1M100.0 672.6h1.1M139.0 653.8h1.1M117.6 666.3h1.1M113.7 661.2h1.1M105.4 652.9h1.1M103.2 631.7h1.1M112.9 666.1h1.1M78.1 670.9h1.1M117.7 647.3h1.1M115.5 660.8h1.1M100.5 631.6h1.1M95.2 653.1h1.1M105.8 645.3h1.1M113.8 665.1h1.1M81.8 677.6h1.1M119.2 649.6h1.1M107.0 650.5h1.1M111.5 649.9h1.1M102.9 661.1h1.1M97.7 654.6h1.1M97.0 642.2h1.1M112.4 645.8h1.1M94.0 656.3h1.1M99.4 670.7h1.1M121.8 664.1h1.1M104.1 659.5h1.1M92.2 648.4h1.1M107.6 654.1h1.1M114.8 642.2h1.1M122.7 651.7h1.1M96.5 653.7h1.1M105.5 670.2h1.1M105.2 660.9h1.1M114.7 642.3h1.1M103.2 655.9h1.1M92.2 643.7h1.1M98.2 658.7h1.1M117.3 664.1h1.1M90.1 665.3h1.1M100.3 666.9h1.1M114.3 646.9h1.1M119.9 638.0h1.1M95.8 644.1h1.1M100.3 654.9h1.1M119.8 657.0h1.1M100.1 645.3h1.1M100.9 648.3h1.1M99.7 649.3h1.1M97.2 654.7h1.1M100.4 651.6h1.1M92.9 659.5h1.1M115.6 652.2h1.1M95.2 643.5h1.1M87.2 647.7h1.1M98.3 651.2h1.1M91.5 666.3h1.1M87.2 653.3h1.1M103.2 661.4h1.1M123.7 636.0h1.1M101.7 648.3h1.1M103.6 649.7h1.1M126.5 626.0h1.1M101.5 643.9h1.1M107.6 643.4h1.1M107.1 637.3h1.1M129.3 639.2h1.1M91.8 666.5h1.1M96.0 642.9h1.1M108.5 642.9h1.1M111.4 640.9h1.1M116.5 645.9h1.1M111.0 649.2h1.1M101.0 649.1h1.1M114.7 653.4h1.1M113.4 671.6h1.1M118.2 630.2h1.1M117.3 643.0h1.1M105.0 641.9h1.1M119.4 633.2h1.1M102.1 644.3h1.1M132.5 649.3h1.1M90.7 654.0h1.1M108.1 644.2h1.1M97.6 642.9h1.1M103.7 639.2h1.1M126.9 665.5h1.1M111.3 666.0h1.1M107.0 642.1h1.1M98.2 643.9h1.1M111.1 655.3h1.1M114.7 642.1h1.1M93.9 656.4h1.1M125.0 642.5h1.1M95.6 632.7h1.1M104.7 657.2h1.1M103.4 667.1h1.1M96.4 645.9h1.1M100.1 652.7h1.1M114.0 639.3h1.1M87.9 659.9h1.1M119.4 660.0h1.1M102.3 669.3h1.1M115.7 649.9h1.1M94.3 647.1h1.1M101.3 663.6h1.1M114.0 657.8h1.1M125.2 639.4h1.1M115.4 666.6h1.1M91.0 653.9h1.1M100.9 649.0h1.1M103.9 642.1h1.1M111.7 631.6h1.1M89.9 640.5h1.1M95.1 663.3h1.1M112.0 644.6h1.1M118.2 650.3h1.1M100.4 653.1h1.1M120.1 664.9h1.1M103.8 655.8h1.1M118.1 657.2h1.1M116.1 656.6h1.1M94.4 654.1h1.1M86.5 661.0h1.1M131.5 638.3h1.1M108.7 651.8h1.1M101.5 638.0h1.1M98.6 652.7h1.1M104.0 641.7h1.1M101.9 644.5h1.1M89.8 652.2h1.1M102.4 661.9h1.1M123.0 647.1h1.1M101.6 646.6h1.1M87.9 654.9h1.1M128.2 650.6h1.1M107.6 646.6h1.1M108.6 653.6h1.1M108.5 653.7h1.1M98.9 655.0h1.1M108.2 661.2h1.1M100.2 668.3h1.1M103.2 646.3h1.1M107.4 651.0h1.1M106.2 655.0h1.1M92.4 639.2h1.1M113.5 645.7h1.1M125.4 643.5h1.1M92.2 672.3h1.1M102.2 658.7h1.1M134.5 646.2h1.1M94.9 655.7h1.1M93.4 665.2h1.1M107.3 638.1h1.1M115.7 655.3h1.1M111.5 639.6h1.1M94.0 644.7h1.1M94.9 660.3h1.1M113.3 660.8h1.1M107.8 645.7h1.1M99.5 671.5h1.1M108.1 648.8h1.1M91.2 647.2h1.1M108.3 638.1h1.1M115.6 651.9h1.1M94.8 638.7h1.1M117.6 659.5h1.1M92.0 644.3h1.1M118.4 644.9h1.1M106.1 664.1h1.1M105.9 655.5h1.1M98.8 646.1h1.1M104.6 641.5h1.1M85.8 656.0h1.1M124.5 652.0h1.1M133.6 645.6h1.1M124.2 642.7h1.1M104.4 656.6h1.1M100.4 661.9h1.1M103.2 654.9h1.1M97.2 654.0h1.1M115.5 642.5h1.1M101.1 656.4h1.1M114.6 643.3h1.1M87.1 643.9h1.1M98.1 666.9h1.1M108.0 654.6h1.1M118.9 646.2h1.1M109.0 643.0h1.1M93.2 664.8h1.1M108.4 655.5h1.1M95.0 655.2h1.1M123.0 631.2h1.1M113.9 660.5h1.1M104.8 652.5h1.1M88.6 669.1h1.1M108.3 663.5h1.1M103.8 647.5h1.1M109.8 645.5h1.1M108.8 666.1h1.1M117.1 645.2h1.1M118.8 652.3h1.1M112.7 647.1h1.1M109.3 653.1h1.1M114.0 649.7h1.1M100.6 652.7h1.1M106.5 639.2h1.1M110.1 656.5h1.1M106.9 646.7h1.1M104.0 646.2h1.1M114.8 641.2h1.1M83.8 649.8h1.1M110.6 650.1h1.1M95.5 642.0h1.1M101.0 644.0h1.1M99.9 654.0h1.1M100.3 657.2h1.1M96.8 650.6h1.1M111.3 663.6h1.1M127.1 648.7h1.1M99.1 654.5h1.1M119.7 651.5h1.1M89.7 659.2h1.1M102.6 660.7h1.1M110.5 641.9h1.1M127.0 635.2h1.1M130.6 634.4h1.1M114.8 666.4h1.1M99.0 649.3h1.1M121.4 641.1h1.1M105.4 636.9h1.1M129.5 647.8h1.1M113.6 653.9h1.1M99.2 649.1h1.1M92.4 662.4h1.1M123.3 650.0h1.1M119.3 650.6h1.1M91.0 644.7h1.1M113.9 647.7h1.1M115.3 642.1h1.1M99.7 659.0h1.1M93.1 639.9h1.1M96.2 646.5h1.1M92.6 652.1h1.1M127.5 664.0h1.1M122.2 636.6h1.1M117.9 642.8h1.1M107.5 642.2h1.1M97.8 636.7h1.1M121.2 633.3h1.1M109.7 641.9h1.1M103.7 638.8h1.1M107.1 659.9h1.1M103.4 630.6h1.1M109.0 634.3h1.1M112.0 652.7h1.1M98.5 651.3h1.1M106.0 654.9h1.1M122.4 656.0h1.1M119.4 664.7h1.1M105.4 670.4h1.1M107.6 658.0h1.1M105.7 651.6h1.1M99.1 658.7h1.1M127.9 639.5h1.1M106.4 650.3h1.1M112.9 644.3h1.1M107.6 651.9h1.1M124.4 650.3h1.1M92.9 651.1h1.1M110.8 657.0h1.1M115.5 642.8h1.1M127.4 636.3h1.1M127.7 653.6h1.1M123.8 642.4h1.1M105.2 634.2h1.1M85.6 655.6h1.1M119.0 654.7h1.1M110.5 659.3h1.1M119.7 659.3h1.1M86.5 652.7h1.1M91.9 647.2h1.1M119.0 632.9h1.1M96.3 651.7h1.1M113.4 641.2h1.1M116.7 650.3h1.1M88.9 634.5h1.1M91.3 645.3h1.1M119.8 634.6h1.1M97.5 659.5h1.1M102.7 642.1h1.1M122.1 651.2h1.1M105.8 642.3h1.1M88.0 638.4h1.1M112.3 651.1h1.1M97.3 655.8h1.1M134.6 621.6h1.1M92.1 665.2h1.1M99.9 648.6h1.1M112.3 645.4h1.1M119.2 648.5h1.1M119.0 644.3h1.1M91.0 674.0h1.1M94.2 668.7h1.1M102.5 637.2h1.1M111.4 657.0h1.1M96.4 656.5h1.1M94.3 646.2h1.1M106.3 664.2h1.1M113.4 645.8h1.1M106.3 651.6h1.1M110.4 649.9h1.1M93.4 667.8h1.1M85.5 633.7h1.1M108.0 636.0h1.1M104.7 650.2h1.1M103.1 658.0h1.1M102.5 649.4h1.1M95.5 653.4h1.1M96.2 656.5h1.1M124.9 650.6h1.1M104.4 636.4h1.1M121.5 651.7h1.1M116.9 619.4h1.1M105.1 647.3h1.1M112.5 634.7h1.1M113.7 671.4h1.1M107.2 627.8h1.1M113.3 661.2h1.1M103.1 658.6h1.1M100.6 637.5h1.1M105.6 663.1h1.1M115.8 638.1h1.1M114.7 637.6h1.1M109.0 648.4h1.1M95.3 660.1h1.1M89.5 629.7h1.1M94.0 648.0h1.1M93.4 646.9h1.1M87.8 633.9h1.1M116.0 645.4h1.1M107.9 646.4h1.1M105.9 647.5h1.1M88.2 644.0h1.1M112.1 658.0h1.1M116.6 662.0h1.1M91.3 655.9h1.1M106.1 663.9h1.1M121.4 635.7h1.1M112.8 643.7h1.1M95.8 655.0h1.1M103.3 669.0h1.1M118.2 656.4h1.1M98.6 627.8h1.1M115.2 646.1h1.1M82.6 665.0h1.1M125.0 658.2h1.1M99.8 662.6h1.1M109.1 646.7h1.1M106.2 656.1h1.1M115.6 652.1h1.1M96.1 641.5h1.1M126.2 653.0h1.1M100.6 653.1h1.1M106.4 630.7h1.1M123.2 667.1h1.1M105.9 642.6h1.1M127.5 638.1h1.1M106.7 645.3h1.1M99.8 634.1h1.1M86.4 645.4h1.1M115.3 643.9h1.1M108.5 626.3h1.1M107.4 665.6h1.1M89.5 639.3h1.1M97.2 651.6h1.1M112.6 660.9h1.1M127.5 655.1h1.1M110.1 642.4h1.1M94.4 640.7h1.1M125.5 652.9h1.1M103.2 642.1h1.1M115.8 650.1h1.1M102.5 639.5h1.1M106.2 643.9h1.1M116.9 650.6h1.1M109.0 643.9h1.1M125.8 647.5h1.1M123.5 649.5h1.1M115.2 649.4h1.1M86.9 641.2h1.1M99.9 660.6h1.1M116.7 646.2h1.1M116.2 664.7h1.1M93.9 637.6h1.1M89.2 656.5h1.1M117.2 652.0h1.1M108.2 658.1h1.1M102.5 644.3h1.1M106.3 658.5h1.1M110.9 635.1h1.1M97.0 656.8h1.1M122.6 627.8h1.1M95.7 660.9h1.1M108.8 641.9h1.1M108.6 654.2h1.1M88.6 660.1h1.1M117.1 654.1h1.1M118.0 642.6h1.1M98.2 669.6h1.1M111.3 640.2h1.1M122.0 652.5h1.1M93.8 631.2h1.1M98.1 646.5h1.1M97.6 654.3h1.1M97.4 659.6h1.1M120.0 629.0h1.1M114.6 639.5h1.1M111.4 645.7h1.1M116.2 636.6h1.1M110.3 639.3h1.1M108.8 648.5h1.1M110.0 630.5h1.1M99.4 669.5h1.1M118.6 661.8h1.1M97.0 657.8h1.1M121.1 661.1h1.1M103.8 646.6h1.1M113.3 645.0h1.1M102.5 660.7h1.1M82.3 652.8h1.1M118.0 637.9h1.1M105.0 655.0h1.1M120.4 647.8h1.1M94.0 651.0h1.1M116.6 642.9h1.1M104.3 661.0h1.1M128.5 661.4h1.1M92.2 650.5h1.1M101.2 657.0h1.1M107.0 662.1h1.1M83.8 673.8h1.1M98.7 651.5h1.1M113.2 648.4h1.1M103.4 668.4h1.1M110.0 642.5h1.1M103.3 639.6h1.1M92.6 654.7h1.1M110.7 648.7h1.1M92.0 643.0h1.1M97.1 673.1h1.1M106.4 641.2h1.1M121.1 647.5h1.1M99.4 647.3h1.1M119.6 646.1h1.1M124.8 643.4h1.1M97.7 648.5h1.1M100.6 656.2h1.1M112.0 653.6h1.1M106.0 638.6h1.1M99.9 643.4h1.1M105.1 636.3h1.1M96.5 646.3h1.1M99.0 651.5h1.1M120.6 639.0h1.1M90.5 655.9h1.1M116.7 650.2h1.1M118.5 665.1h1.1M118.2 644.3h1.1M112.4 631.8h1.1M100.6 643.8h1.1M116.1 662.4h1.1M109.1 666.1h1.1M103.0 667.8h1.1M85.3 652.8h1.1M116.2 643.4h1.1M107.9 649.1h1.1M107.5 647.5h1.1M95.2 653.3h1.1M103.3 641.9h1.1M119.7 661.9h1.1M87.3 655.1h1.1M103.8 651.8h1.1M104.0 643.4h1.1M106.2 650.2h1.1M113.0 663.3h1.1M100.7 637.0h1.1M93.5 664.0h1.1M100.1 646.9h1.1M91.3 655.3h1.1M102.3 644.8h1.1M107.2 659.4h1.1M117.0 650.0h1.1M98.2 639.7h1.1M121.5 657.9h1.1M125.0 652.2h1.1M111.1 651.5h1.1M112.4 660.5h1.1M114.1 669.4h1.1M112.8 642.8h1.1M98.8 636.6h1.1M97.7 651.8h1.1M127.3 629.0h1.1M116.1 645.3h1.1M106.5 656.9h1.1M90.9 669.5h1.1M127.5 641.2h1.1M106.6 651.7h1.1M110.8 642.1h1.1M110.1 653.5h1.1M104.8 655.3h1.1M113.3 654.0h1.1M94.0 651.3h1.1M107.9 662.4h1.1M101.1 634.8h1.1M102.9 673.6h1.1M103.7 637.3h1.1M98.0 656.5h1.1M128.7 655.1h1.1M101.4 649.6h1.1M121.2 630.7h1.1M123.9 643.7h1.1M113.6 660.1h1.1M107.4 640.2h1.1M91.2 659.0h1.1M118.2 658.4h1.1M86.6 676.4h1.1M120.0 659.0h1.1M115.6 647.1h1.1M112.8 650.8h1.1M99.6 652.7h1.1M105.6 645.5h1.1M84.8 646.5h1.1M114.1 651.4h1.1M102.0 639.6h1.1M113.2 641.8h1.1M93.1 675.1h1.1M102.3 677.4h1.1M109.8 643.2h1.1M79.4 657.8h1.1M128.0 652.7h1.1M100.9 634.2h1.1M101.3 649.9h1.1M110.6 646.3h1.1M102.1 634.4h1.1M106.9 665.7h1.1M96.3 666.2h1.1M132.9 642.0h1.1M98.5 668.5h1.1M89.4 663.6h1.1M108.3 662.7h1.1M119.3 644.7h1.1M129.3 647.7h1.1M97.0 644.6h1.1M129.4 632.3h1.1M110.1 646.6h1.1M94.0 639.4h1.1M104.5 649.9h1.1M113.9 640.0h1.1M85.6 650.2h1.1M107.3 652.3h1.1M112.0 642.6h1.1M112.6 648.1h1.1M123.3 639.7h1.1M110.7 653.9h1.1M114.4 635.2h1.1M100.4 650.5h1.1M91.3 673.3h1.1M117.4 643.9h1.1M146.6 641.0h1.1M134.5 651.3h1.1M108.8 632.9h1.1M124.0 644.6h1.1M94.7 657.4h1.1M118.9 653.8h1.1M105.8 644.6h1.1M110.6 639.2h1.1M109.4 656.8h1.1M93.8 661.5h1.1M82.3 653.7h1.1M93.6 656.4h1.1M113.5 645.4h1.1M116.2 645.5h1.1M106.8 655.3h1.1M104.8 652.5h1.1M114.3 639.2h1.1M112.8 634.0h1.1M95.9 636.8h1.1M108.8 666.4h1.1M116.2 658.5h1.1M86.8 650.1h1.1M115.2 654.2h1.1M106.9 631.1h1.1M111.3 646.4h1.1M110.0 653.3h1.1M95.5 637.5h1.1M88.7 644.2h1.1M92.6 656.6h1.1M116.3 636.4h1.1M93.2 644.9h1.1M89.4 660.6h1.1M100.4 650.8h1.1M99.1 659.7h1.1M97.0 661.6h1.1M103.6 660.4h1.1M99.7 658.9h1.1M110.6 646.8h1.1M123.9 641.9h1.1M100.9 661.0h1.1M95.6 650.3h1.1M107.5 651.4h1.1M115.3 625.4h1.1M109.4 660.9h1.1M106.4 653.6h1.1M116.0 630.8h1.1M110.8 656.4h1.1M92.1 638.8h1.1M97.3 657.5h1.1M117.3 664.3h1.1M112.5 629.3h1.1M121.4 651.6h1.1M122.2 639.3h1.1M101.6 654.5h1.1M125.2 646.2h1.1M127.5 646.7h1.1M95.7 645.0h1.1M117.9 626.5h1.1M101.4 649.4h1.1M94.5 650.5h1.1M118.1 669.9h1.1M103.3 646.0h1.1M112.3 657.1h1.1M96.3 651.4h1.1M92.2 666.1h1.1M120.7 658.6h1.1M104.9 675.2h1.1M114.0 642.6h1.1M101.0 649.7h1.1M97.9 663.5h1.1M96.9 647.5h1.1M112.3 647.9h1.1M99.5 651.4h1.1M108.0 664.2h1.1M113.1 638.1h1.1M112.7 661.7h1.1M112.2 666.6h1.1M114.2 653.0h1.1M89.6 669.3h1.1M112.8 652.9h1.1M113.9 651.6h1.1M105.7 660.5h1.1M102.1 640.8h1.1M97.0 657.3h1.1M99.2 629.5h1.1M90.7 670.9h1.1M120.2 674.0h1.1M89.8 656.9h1.1M103.1 658.2h1.1M128.6 655.3h1.1M102.3 666.3h1.1M95.7 659.7h1.1M111.2 654.2h1.1M104.9 665.9h1.1M105.7 650.2h1.1M98.6 642.6h1.1M115.4 648.6h1.1M120.2 663.0h1.1M96.3 652.7h1.1M110.7 657.1h1.1M109.2 658.9h1.1M102.6 632.6h1.1M89.7 636.9h1.1M101.6 648.2h1.1M113.3 648.0h1.1M112.0 661.0h1.1M106.6 636.2h1.1M101.1 656.8h1.1M122.8 638.4h1.1M106.1 653.2h1.1M114.0 644.7h1.1M107.4 644.7h1.1M97.1 646.6h1.1M110.5 641.5h1.1M114.0 650.2h1.1M103.4 621.7h1.1M90.8 645.4h1.1M108.7 657.7h1.1M139.7 648.1h1.1M122.1 645.3h1.1M105.2 656.8h1.1M88.9 670.6h1.1M109.6 655.1h1.1M90.7 646.8h1.1M99.8 653.4h1.1M108.3 645.0h1.1M113.4 653.7h1.1M94.2 655.9h1.1M88.0 654.5h1.1M112.2 638.7h1.1M127.9 643.3h1.1M116.0 645.7h1.1M120.6 654.1h1.1M105.0 644.9h1.1M110.3 669.5h1.1M102.4 647.2h1.1M91.1 640.0h1.1M103.0 655.7h1.1M97.9 646.5h1.1M112.9 651.5h1.1M103.6 655.2h1.1M100.8 662.9h1.1M94.9 652.9h1.1M105.8 645.7h1.1M105.1 674.4h1.1M113.4 626.4h1.1M101.6 638.6h1.1M103.3 637.2h1.1M115.0 651.1h1.1M129.7 650.1h1.1M106.5 660.7h1.1M101.3 651.7h1.1M92.9 638.1h1.1M102.7 629.3h1.1M106.7 655.8h1.1M100.0 636.1h1.1M103.2 659.5h1.1M125.4 657.0h1.1M90.3 664.5h1.1M105.3 659.3h1.1M88.7 658.7h1.1M110.5 640.4h1.1M98.1 643.9h1.1M111.4 632.3h1.1M95.6 652.6h1.1M113.6 669.7h1.1M105.2 641.4h1.1M114.1 649.5h1.1M109.1 647.8h1.1M105.5 637.4h1.1M92.2 653.5h1.1M98.7 662.4h1.1M132.2 649.0h1.1M112.7 650.2h1.1M93.2 643.1h1.1M104.9 634.3h1.1M108.9 647.0h1.1M114.4 646.0h1.1M104.7 644.5h1.1M87.3 657.2h1.1M118.7 654.7h1.1M115.7 633.5h1.1M100.4 661.4h1.1M114.4 674.3h1.1M102.3 635.3h1.1M108.5 666.5h1.1M88.7 662.0h1.1M100.2 671.6h1.1M96.9 643.9h1.1M85.7 654.0h1.1M78.2 661.0h1.1M129.1 638.1h1.1M98.2 641.8h1.1M107.7 644.0h1.1M104.6 666.6h1.1M106.6 639.9h1.1M121.3 640.9h1.1M112.3 648.3h1.1M121.5 648.3h1.1M106.5 658.1h1.1M103.2 653.4h1.1M118.0 631.4h1.1M94.0 652.7h1.1M107.8 663.9h1.1M120.4 636.9h1.1M106.6 645.9h1.1M116.6 651.7h1.1M117.9 652.1h1.1M125.3 637.2h1.1M112.7 644.3h1.1M108.0 651.6h1.1M107.7 653.2h1.1M97.1 653.7h1.1M94.7 643.7h1.1M96.9 649.9h1.1M97.4 637.7h1.1M98.4 642.0h1.1M99.1 656.4h1.1M119.2 645.9h1.1M99.4 649.2h1.1M112.2 628.4h1.1M110.8 630.6h1.1M100.3 654.1h1.1M112.4 665.3h1.1M111.3 646.7h1.1M116.4 644.7h1.1M103.8 664.2h1.1M128.0 652.0h1.1M103.9 673.0h1.1M106.0 658.9h1.1M130.2 663.1h1.1M85.1 650.9h1.1M120.9 647.3h1.1M89.0 627.1h1.1M110.1 645.8h1.1M78.3 660.0h1.1M107.6 652.0h1.1M112.9 643.3h1.1M95.6 652.2h1.1M79.6 652.9h1.1M123.3 632.6h1.1M115.0 666.5h1.1M117.8 644.9h1.1M112.7 643.4h1.1M102.2 663.8h1.1M115.7 662.8h1.1M102.0 648.4h1.1M109.1 646.4h1.1M99.0 644.3h1.1M110.7 651.2h1.1M125.0 639.0h1.1M90.9 664.3h1.1M127.7 632.8h1.1M97.5 653.3h1.1M75.7 664.0h1.1M97.2 638.3h1.1M108.1 639.2h1.1M84.2 654.8h1.1M122.4 662.5h1.1M120.2 644.3h1.1M100.0 650.8h1.1M113.8 639.9h1.1M115.5 655.7h1.1M94.4 650.4h1.1M111.1 647.4h1.1M102.6 646.2h1.1M114.9 666.1h1.1M112.5 628.3h1.1M107.4 650.5h1.1M100.1 638.1h1.1M105.9 652.0h1.1M101.1 656.7h1.1M109.4 652.7h1.1M102.6 647.1h1.1M113.7 658.1h1.1M115.3 644.0h1.1M107.0 661.7h1.1M116.3 654.3h1.1M99.5 644.3h1.1M105.3 643.6h1.1M122.4 650.5h1.1M87.5 668.5h1.1M125.2 651.0h1.1M97.5 645.5h1.1M121.4 652.9h1.1M101.5 639.9h1.1M92.2 661.3h1.1M94.7 649.1h1.1M116.2 656.3h1.1M82.2 656.5h1.1M119.5 642.0h1.1M106.1 657.4h1.1M88.9 646.3h1.1M114.4 663.1h1.1M116.8 644.0h1.1M114.8 640.6h1.1M86.3 642.7h1.1M113.7 656.0h1.1M110.1 647.5h1.1M107.8 661.6h1.1M99.0 638.1h1.1M117.3 636.4h1.1M110.5 647.7h1.1M118.5 645.9h1.1M120.0 644.6h1.1M99.3 648.4h1.1M109.1 639.1h1.1M114.8 642.5h1.1M92.8 648.1h1.1M113.7 665.9h1.1M114.5 645.6h1.1M106.6 671.5h1.1M103.7 651.6h1.1M108.7 663.8h1.1M106.1 645.1h1.1M103.5 640.4h1.1M95.0 654.8h1.1M82.9 676.9h1.1M121.4 628.8h1.1M97.3 637.4h1.1M109.3 650.8h1.1M107.5 634.3h1.1M97.2 648.1h1.1M115.2 670.8h1.1M104.3 650.8h1.1M105.2 659.8h1.1M138.4 644.8h1.1M116.9 631.9h1.1M117.4 644.0h1.1M124.5 651.6h1.1M105.0 631.9h1.1M105.4 645.0h1.1M111.3 647.7h1.1M109.4 630.2h1.1M98.6 653.7h1.1M107.8 644.7h1.1M106.5 650.6h1.1M116.6 642.9h1.1M100.1 633.1h1.1M98.8 628.3h1.1M110.2 646.8h1.1M102.9 643.8h1.1M106.3 659.5h1.1M110.0 647.7h1.1M102.5 654.7h1.1M118.6 642.8h1.1M97.0 642.1h1.1M103.0 641.6h1.1M96.1 665.9h1.1M90.1 636.4h1.1M108.2 669.9h1.1M98.9 639.4h1.1M98.8 662.6h1.1M111.7 649.4h1.1M130.0 633.5h1.1M154.1 611.8h1.1M119.9 621.4h1.1M144.9 632.2h1.1M132.0 612.1h1.1M139.8 633.7h1.1M123.9 639.0h1.1M156.0 623.0h1.1M98.1 637.1h1.1M139.1 627.7h1.1M125.0 632.3h1.1M131.0 640.6h1.1M100.7 657.3h1.1M108.4 639.8h1.1M103.6 641.5h1.1M129.8 628.5h1.1M153.6 604.3h1.1M136.8 625.9h1.1M141.8 633.9h1.1M132.8 627.2h1.1M128.5 629.4h1.1M134.8 634.9h1.1M130.7 628.2h1.1M133.6 633.3h1.1M128.7 639.8h1.1M125.9 639.5h1.1M158.0 605.4h1.1M122.2 621.8h1.1M140.4 618.8h1.1M139.0 612.5h1.1M147.4 632.7h1.1M133.8 620.9h1.1M111.8 644.3h1.1M142.5 623.5h1.1M108.7 635.6h1.1M110.7 633.9h1.1M127.7 633.1h1.1M157.9 605.1h1.1M141.0 599.5h1.1M156.0 613.6h1.1M140.8 627.6h1.1M149.3 632.2h1.1M131.5 607.1h1.1M114.7 660.0h1.1M136.2 637.3h1.1M121.6 628.2h1.1M127.0 634.3h1.1M129.1 621.8h1.1M140.9 625.1h1.1M111.0 632.6h1.1M100.9 650.7h1.1M126.2 623.5h1.1M120.9 634.7h1.1M133.6 631.2h1.1M144.1 620.3h1.1M140.2 607.9h1.1M140.6 622.7h1.1M111.6 636.9h1.1M136.6 622.9h1.1M109.4 640.3h1.1M156.0 614.1h1.1M138.7 635.4h1.1M116.4 638.3h1.1M141.5 613.9h1.1M117.7 645.7h1.1M138.1 592.0h1.1M125.1 618.3h1.1M117.9 622.9h1.1M162.5 591.1h1.1M126.7 623.0h1.1M113.6 637.6h1.1M142.7 636.3h1.1M142.8 634.2h1.1M115.5 641.8h1.1M115.1 623.7h1.1M180.7 579.7h1.1M129.2 620.2h1.1M116.2 628.8h1.1M142.0 612.6h1.1M129.0 630.9h1.1M114.2 644.9h1.1M130.1 632.9h1.1M124.8 633.1h1.1M142.7 627.5h1.1M125.8 642.7h1.1M115.2 639.2h1.1M132.6 627.3h1.1M89.7 653.3h1.1M132.6 636.1h1.1M128.7 646.3h1.1M105.3 651.1h1.1M137.6 621.3h1.1M138.9 630.5h1.1M122.1 641.8h1.1M143.5 613.2h1.1M91.0 649.7h1.1M112.1 632.1h1.1M131.5 617.6h1.1M167.8 600.4h1.1M110.2 642.6h1.1M155.1 613.0h1.1M121.6 647.3h1.1M135.8 647.8h1.1M125.7 638.7h1.1M135.4 618.1h1.1M134.4 637.2h1.1M136.6 621.4h1.1M146.0 633.3h1.1M145.7 619.3h1.1M125.8 614.1h1.1M129.2 623.3h1.1M136.8 615.0h1.1M130.4 615.8h1.1M138.4 612.2h1.1M132.9 632.0h1.1M125.5 632.1h1.1M154.7 625.7h1.1M99.7 645.0h1.1M144.7 625.4h1.1M123.9 634.5h1.1M140.1 644.6h1.1M120.5 623.1h1.1M101.2 639.5h1.1M146.0 609.2h1.1M160.8 607.5h1.1M139.0 627.2h1.1M146.2 623.8h1.1M113.3 636.8h1.1M122.9 635.5h1.1M119.6 623.5h1.1M130.4 647.9h1.1M154.8 596.0h1.1M135.1 623.0h1.1M122.2 643.1h1.1M138.4 639.3h1.1M134.6 620.3h1.1M92.5 660.6h1.1M137.8 612.9h1.1M146.2 621.2h1.1M104.3 649.0h1.1M138.7 628.7h1.1M132.1 626.0h1.1M123.5 630.5h1.1M124.1 621.3h1.1M137.1 617.9h1.1M134.4 618.3h1.1M136.4 623.6h1.1M145.0 619.7h1.1M142.1 615.2h1.1M127.8 627.1h1.1M111.8 643.0h1.1M149.5 619.1h1.1M119.8 640.5h1.1M132.8 610.1h1.1M136.7 625.7h1.1M141.9 620.2h1.1M94.4 637.3h1.1M155.5 600.6h1.1M154.9 619.9h1.1M124.8 619.8h1.1M148.9 610.6h1.1M139.9 624.5h1.1M149.0 622.3h1.1M102.3 637.1h1.1M132.0 626.3h1.1M140.1 617.4h1.1M138.8 642.9h1.1M155.7 618.0h1.1M140.0 610.1h1.1M128.4 628.6h1.1M109.9 636.3h1.1M125.4 618.4h1.1M140.2 624.1h1.1M124.8 628.9h1.1M141.1 623.4h1.1M128.2 615.8h1.1M118.8 661.1h1.1M118.8 633.9h1.1M100.1 646.0h1.1M124.2 642.2h1.1M85.3 652.5h1.1M121.5 630.1h1.1M116.7 635.0h1.1M109.5 649.5h1.1M147.5 613.9h1.1M129.6 642.6h1.1M131.0 615.5h1.1M118.6 631.4h1.1M136.2 636.1h1.1M119.3 635.9h1.1M124.9 619.2h1.1M126.8 637.8h1.1M135.3 602.1h1.1M138.2 617.3h1.1M151.5 615.7h1.1M159.2 605.2h1.1M119.8 627.8h1.1M113.1 649.4h1.1M141.8 626.6h1.1M126.5 614.3h1.1M123.0 631.6h1.1M136.5 630.8h1.1M151.4 612.0h1.1M95.5 647.6h1.1M96.0 650.1h1.1M114.6 644.5h1.1M133.1 637.7h1.1M142.5 611.6h1.1M143.3 616.2h1.1M143.9 630.6h1.1M113.6 642.0h1.1M147.2 603.9h1.1M133.7 626.1h1.1M116.9 625.1h1.1M114.9 630.5h1.1M146.5 616.0h1.1M133.2 611.8h1.1M137.8 622.6h1.1M140.6 610.4h1.1M149.0 626.3h1.1M150.0 599.6h1.1M106.2 633.0h1.1M146.7 619.6h1.1M129.9 618.3h1.1M156.5 622.2h1.1M128.8 627.7h1.1M149.4 616.2h1.1M146.5 608.6h1.1M132.9 621.6h1.1M120.4 633.3h1.1M128.9 634.7h1.1M126.2 632.2h1.1M111.9 630.6h1.1M144.5 604.0h1.1M160.6 611.0h1.1M94.5 652.8h1.1M124.3 633.4h1.1M124.2 626.5h1.1M146.8 611.5h1.1M139.6 611.7h1.1M127.8 644.9h1.1M120.0 624.7h1.1M133.5 636.6h1.1M123.8 625.6h1.1M144.4 626.1h1.1M125.4 628.6h1.1M140.0 649.3h1.1M137.1 641.1h1.1M130.2 632.4h1.1M102.6 654.7h1.1M129.0 625.4h1.1M116.7 624.7h1.1M110.2 647.7h1.1M120.6 635.5h1.1M124.7 627.1h1.1M130.2 648.6h1.1M111.8 638.7h1.1M119.5 624.6h1.1M121.4 645.4h1.1M143.8 617.1h1.1M179.8 592.4h1.1M142.7 607.5h1.1M154.5 624.8h1.1M134.8 643.9h1.1M112.5 631.1h1.1M124.9 623.6h1.1M132.8 613.2h1.1M120.3 614.8h1.1M135.4 634.9h1.1M128.1 633.2h1.1M139.2 607.5h1.1M112.8 644.4h1.1M132.4 622.8h1.1M123.3 647.6h1.1M112.4 641.0h1.1M133.5 633.0h1.1M119.2 628.5h1.1M153.4 597.5h1.1M140.3 617.0h1.1M123.2 633.7h1.1M128.2 633.1h1.1M94.4 659.7h1.1M125.7 621.1h1.1M137.6 647.3h1.1M159.4 608.7h1.1M131.6 623.2h1.1M146.9 607.8h1.1M122.5 642.5h1.1M112.2 635.2h1.1M141.3 599.9h1.1M129.8 629.5h1.1M125.6 615.7h1.1M125.0 628.8h1.1M162.4 610.0h1.1M124.4 642.8h1.1M138.5 619.0h1.1M125.2 629.3h1.1M105.1 643.4h1.1M151.1 625.1h1.1M153.8 602.4h1.1M125.3 605.4h1.1M119.3 623.5h1.1M132.3 607.4h1.1M109.4 634.2h1.1M140.2 628.1h1.1M127.3 650.6h1.1M127.7 620.8h1.1M134.9 623.5h1.1M143.6 619.6h1.1M167.1 607.7h1.1M125.5 640.8h1.1M135.1 612.2h1.1M115.1 632.4h1.1M99.2 662.8h1.1M133.9 638.2h1.1M122.7 635.4h1.1M145.6 624.8h1.1M128.8 617.5h1.1M165.6 605.7h1.1M158.0 620.8h1.1M151.9 612.9h1.1M140.2 625.9h1.1M113.6 651.8h1.1M118.8 642.8h1.1M120.0 645.0h1.1M137.1 649.4h1.1M135.6 628.7h1.1M115.9 637.5h1.1M127.7 626.9h1.1M119.2 628.0h1.1M138.6 616.0h1.1M120.8 640.4h1.1M117.8 637.0h1.1M117.8 628.6h1.1M122.4 625.7h1.1M114.6 645.8h1.1M117.9 622.6h1.1M125.6 634.0h1.1M138.1 624.9h1.1M136.9 628.4h1.1M118.8 629.2h1.1M136.4 617.7h1.1M133.9 631.8h1.1M150.0 623.7h1.1M118.5 634.2h1.1M129.9 612.1h1.1M116.0 647.4h1.1M116.5 629.9h1.1M144.2 621.1h1.1M141.0 614.4h1.1M124.2 629.4h1.1M123.0 611.7h1.1M124.4 640.9h1.1M118.9 637.3h1.1M134.7 629.5h1.1M117.2 626.9h1.1M160.9 592.3h1.1M144.2 595.7h1.1M130.6 625.3h1.1M167.7 616.7h1.1M138.1 609.4h1.1M114.8 633.3h1.1M124.4 636.0h1.1M117.8 636.2h1.1M158.5 618.3h1.1M99.0 645.3h1.1M132.1 640.5h1.1M136.1 643.8h1.1M143.1 632.1h1.1M116.5 636.7h1.1M147.5 618.6h1.1M102.7 649.5h1.1M136.1 629.5h1.1M130.9 646.5h1.1M140.3 634.9h1.1M136.2 623.4h1.1M119.3 624.7h1.1M146.3 621.7h1.1M141.0 613.9h1.1M114.1 638.1h1.1M125.7 631.7h1.1M138.8 610.0h1.1M127.2 638.2h1.1M154.9 630.2h1.1M132.8 616.1h1.1M111.4 636.0h1.1M132.5 628.5h1.1M125.9 624.9h1.1M127.2 629.7h1.1M138.8 621.0h1.1M112.5 630.8h1.1M150.2 608.8h1.1M127.6 629.9h1.1M144.1 611.9h1.1M131.3 624.2h1.1M132.6 614.5h1.1M138.7 631.6h1.1M150.0 616.9h1.1M142.9 633.8h1.1M147.7 627.6h1.1M107.5 636.1h1.1M139.8 616.3h1.1M119.0 627.4h1.1M144.2 602.0h1.1M124.0 618.0h1.1M140.2 643.8h1.1M161.2 594.5h1.1M125.2 650.4h1.1M108.5 627.6h1.1M129.1 616.9h1.1M116.3 652.8h1.1M114.2 630.4h1.1M131.5 624.6h1.1M146.3 614.4h1.1M158.5 615.0h1.1M161.0 612.5h1.1M134.2 630.3h1.1M121.9 618.0h1.1M118.0 647.0h1.1M93.0 652.2h1.1M112.1 643.4h1.1M117.3 642.3h1.1M124.9 627.4h1.1M106.3 624.8h1.1M124.1 619.0h1.1M128.2 633.8h1.1M148.6 619.1h1.1M142.9 600.7h1.1M148.2 629.0h1.1M129.6 616.1h1.1M132.9 619.7h1.1M127.2 642.3h1.1M121.6 623.2h1.1M131.7 648.2h1.1M122.3 642.5h1.1M139.1 632.7h1.1M121.2 625.5h1.1M115.7 629.5h1.1M167.1 596.7h1.1M132.7 639.5h1.1M138.3 618.5h1.1M140.3 621.7h1.1M154.9 623.9h1.1M125.7 631.5h1.1M134.5 637.5h1.1M139.9 627.8h1.1M139.2 612.8h1.1M139.6 634.7h1.1M147.5 621.3h1.1M124.4 629.1h1.1M116.9 636.8h1.1M121.5 619.9h1.1M142.1 608.7h1.1M137.0 628.4h1.1M112.7 623.6h1.1M145.8 618.3h1.1M133.0 637.9h1.1M137.3 610.9h1.1M119.5 618.0h1.1M134.4 639.7h1.1M123.2 643.3h1.1M107.8 644.7h1.1M152.7 626.6h1.1M140.7 626.8h1.1M140.5 591.6h1.1M117.1 660.5h1.1M167.5 600.8h1.1M132.6 628.6h1.1M127.3 623.7h1.1M129.3 627.2h1.1M143.2 623.7h1.1M147.0 619.2h1.1M124.5 648.3h1.1M94.1 661.7h1.1M131.9 620.5h1.1M150.0 597.9h1.1M111.4 639.2h1.1M140.4 627.5h1.1M135.4 630.5h1.1M117.3 632.8h1.1M124.7 618.0h1.1M130.7 623.1h1.1M134.1 613.2h1.1M119.9 630.9h1.1M119.7 626.2h1.1M119.3 622.8h1.1M141.3 625.3h1.1M129.0 626.8h1.1M112.8 633.0h1.1M122.3 625.0h1.1M115.0 643.4h1.1M127.8 625.6h1.1M118.8 637.5h1.1M118.4 633.7h1.1M136.8 629.9h1.1M137.3 614.8h1.1M140.5 605.8h1.1M135.1 637.9h1.1M163.5 599.3h1.1M123.3 630.0h1.1M112.8 641.9h1.1M120.3 628.4h1.1M142.4 608.3h1.1M158.1 612.1h1.1M135.8 616.3h1.1M112.3 621.9h1.1M132.5 622.8h1.1M131.9 618.9h1.1M128.7 612.7h1.1M102.9 657.7h1.1M127.7 595.4h1.1M145.9 609.8h1.1M119.6 620.4h1.1M120.5 644.5h1.1M120.0 636.6h1.1M139.1 641.9h1.1M135.2 608.8h1.1M117.4 626.7h1.1M107.5 640.7h1.1M145.6 614.6h1.1M138.7 618.7h1.1M124.9 633.5h1.1M139.8 640.5h1.1M156.8 608.0h1.1M127.5 608.3h1.1M141.7 643.9h1.1M123.8 642.6h1.1M144.7 610.4h1.1M124.6 627.8h1.1M141.2 618.2h1.1M157.3 616.6h1.1M144.4 643.8h1.1M122.6 627.9h1.1M122.2 625.4h1.1M124.1 632.6h1.1M133.7 607.2h1.1M106.9 640.3h1.1M128.6 634.3h1.1M127.8 646.7h1.1M121.8 633.0h1.1M137.4 634.3h1.1M134.4 624.3h1.1M123.7 635.5h1.1M133.8 620.8h1.1M119.8 616.9h1.1M129.5 641.6h1.1M149.1 610.0h1.1M110.9 665.6h1.1M142.0 645.6h1.1M130.1 639.0h1.1M129.3 643.8h1.1M140.1 607.1h1.1M163.6 629.5h1.1M120.5 623.2h1.1M131.7 622.0h1.1M104.0 639.8h1.1M125.1 615.5h1.1M147.4 617.4h1.1M135.5 638.6h1.1M121.4 643.4h1.1M109.9 642.5h1.1M135.9 616.7h1.1M132.2 633.2h1.1M158.1 617.2h1.1M135.0 620.6h1.1M119.9 656.1h1.1M143.8 591.7h1.1M141.8 616.9h1.1M141.5 621.1h1.1M127.5 630.2h1.1M136.1 635.5h1.1M123.6 627.7h1.1M142.6 623.8h1.1M137.6 624.3h1.1M156.3 616.7h1.1M131.9 624.0h1.1M128.8 608.3h1.1M119.1 629.9h1.1M130.4 623.4h1.1M167.7 602.2h1.1M148.1 636.7h1.1M128.4 625.9h1.1M151.5 617.9h1.1M149.4 624.0h1.1M121.6 628.3h1.1M120.9 637.3h1.1M138.0 609.2h1.1M115.5 626.2h1.1M161.7 608.3h1.1M126.4 617.7h1.1M112.6 636.5h1.1M123.6 619.7h1.1M133.8 638.2h1.1M130.9 628.3h1.1M100.2 651.8h1.1M124.3 625.4h1.1M110.9 644.4h1.1M113.2 637.0h1.1M108.0 646.8h1.1M137.8 611.6h1.1M126.1 614.6h1.1M141.0 624.1h1.1M129.8 638.1h1.1M118.5 638.9h1.1M152.9 607.2h1.1M121.3 648.7h1.1M135.9 619.6h1.1M95.0 638.5h1.1M117.7 655.6h1.1M129.4 619.1h1.1M153.9 622.8h1.1M121.4 641.2h1.1M109.9 650.3h1.1M146.9 597.0h1.1M127.4 623.3h1.1M129.4 629.6h1.1M138.9 629.9h1.1M142.9 628.1h1.1M150.0 622.3h1.1M123.3 638.6h1.1M120.4 627.3h1.1M158.3 605.8h1.1M119.1 614.4h1.1M131.3 635.5h1.1M124.4 627.0h1.1M148.4 608.0h1.1M125.1 631.3h1.1M132.8 637.3h1.1M137.5 620.5h1.1M124.0 630.9h1.1M151.3 605.4h1.1M130.2 610.2h1.1M138.3 628.2h1.1M149.1 614.3h1.1M139.8 622.8h1.1M155.9 627.5h1.1M128.3 620.4h1.1M137.6 620.0h1.1M143.1 624.9h1.1M129.8 623.3h1.1M127.4 616.5h1.1M128.9 619.1h1.1M136.9 623.2h1.1M120.5 623.1h1.1M127.0 623.1h1.1M132.1 633.9h1.1M135.9 608.3h1.1M150.3 624.9h1.1M146.9 615.9h1.1M138.6 639.7h1.1M117.3 622.4h1.1M133.0 628.5h1.1M109.4 633.0h1.1M157.5 604.5h1.1M137.4 614.8h1.1M108.7 645.2h1.1M144.6 607.4h1.1M105.0 648.6h1.1M126.5 631.4h1.1M114.3 638.7h1.1M127.7 639.9h1.1M137.0 631.4h1.1M117.6 615.3h1.1M106.7 655.0h1.1M146.8 622.6h1.1M119.2 617.8h1.1M125.7 636.3h1.1M146.9 609.0h1.1M118.3 629.9h1.1M148.7 620.8h1.1M112.2 657.5h1.1M109.5 630.0h1.1M104.6 642.8h1.1M175.6 615.4h1.1M109.6 638.8h1.1M134.6 628.5h1.1M114.9 623.9h1.1M120.8 628.7h1.1M106.7 650.6h1.1M100.7 635.0h1.1M155.9 615.2h1.1M150.4 611.0h1.1M124.1 632.3h1.1M115.8 649.1h1.1M132.1 622.7h1.1M104.3 649.9h1.1M160.2 617.0h1.1M140.0 615.0h1.1M135.1 629.6h1.1M138.6 631.9h1.1M108.3 621.6h1.1M92.3 651.7h1.1M115.2 648.8h1.1M144.7 614.8h1.1M137.9 621.8h1.1M129.9 622.8h1.1M131.3 640.1h1.1M126.3 630.9h1.1M151.8 619.4h1.1M126.3 634.2h1.1M117.2 641.0h1.1M134.4 624.0h1.1M134.4 628.1h1.1M91.4 653.6h1.1M128.5 623.9h1.1M115.8 638.1h1.1M150.6 606.9h1.1M118.7 632.8h1.1M116.8 645.3h1.1M121.9 645.5h1.1M145.6 620.3h1.1M143.7 614.7h1.1M106.0 648.9h1.1M130.2 610.5h1.1M119.7 649.5h1.1M143.6 630.8h1.1M139.6 620.1h1.1M140.7 627.9h1.1M128.6 626.9h1.1M132.7 622.1h1.1M158.5 593.8h1.1M102.5 638.3h1.1M142.1 612.6h1.1M131.1 624.6h1.1M125.9 615.5h1.1M128.1 623.3h1.1M148.3 618.4h1.1M107.7 637.2h1.1M144.5 628.3h1.1M139.7 617.5h1.1M132.1 599.7h1.1M117.5 628.4h1.1M119.3 643.9h1.1M135.5 626.2h1.1M131.8 633.3h1.1M137.6 614.7h1.1M137.7 610.7h1.1M146.9 598.2h1.1M120.3 624.7h1.1M138.0 635.5h1.1M129.9 648.0h1.1M151.5 612.9h1.1M127.2 640.6h1.1M87.0 658.1h1.1M143.0 615.8h1.1M160.2 593.2h1.1M110.9 642.8h1.1M147.6 631.3h1.1M107.1 650.4h1.1M143.7 608.2h1.1M117.2 625.9h1.1M145.3 623.6h1.1M139.6 622.1h1.1M143.0 614.9h1.1M144.5 624.1h1.1M150.8 615.0h1.1M135.3 631.2h1.1M99.2 636.0h1.1M153.1 608.8h1.1M112.6 637.2h1.1M128.5 630.1h1.1M125.3 643.4h1.1M122.5 666.2h1.1M124.6 651.5h1.1M129.9 609.2h1.1M113.8 643.3h1.1M131.6 621.8h1.1M131.3 628.7h1.1M114.8 642.3h1.1M157.8 595.7h1.1M120.0 644.5h1.1M154.5 617.7h1.1M121.1 635.2h1.1M131.8 624.0h1.1M141.7 629.6h1.1M137.7 621.0h1.1M137.4 641.5h1.1M124.5 655.5h1.1M140.8 619.2h1.1M130.2 648.5h1.1M152.0 618.4h1.1M148.9 590.8h1.1M129.8 624.7h1.1M120.6 637.3h1.1M140.5 624.4h1.1M120.9 621.3h1.1M141.3 624.7h1.1M164.7 607.2h1.1M124.0 620.5h1.1M164.1 589.7h1.1M137.1 630.0h1.1M144.6 629.8h1.1M112.0 636.4h1.1M125.7 618.0h1.1M129.5 644.1h1.1M133.7 623.5h1.1M122.6 635.2h1.1M123.7 621.5h1.1M134.0 610.0h1.1M146.1 609.7h1.1M89.8 646.7h1.1M129.3 618.8h1.1M163.1 613.8h1.1M164.5 607.0h1.1M145.6 607.1h1.1M145.9 608.8h1.1M121.8 619.9h1.1M133.3 629.6h1.1M123.1 621.7h1.1M147.9 622.2h1.1M133.4 633.8h1.1M138.4 609.3h1.1M119.2 616.6h1.1M118.2 643.5h1.1M120.1 641.3h1.1M123.6 610.4h1.1M131.9 643.5h1.1M131.1 628.4h1.1M111.3 626.7h1.1M124.1 665.9h1.1M122.7 624.7h1.1M120.8 614.3h1.1M159.5 620.9h1.1M121.5 639.4h1.1M122.4 644.6h1.1M117.6 637.6h1.1M151.5 614.6h1.1M117.0 622.4h1.1M114.6 655.5h1.1M137.7 621.7h1.1M148.7 612.9h1.1M119.4 636.4h1.1M128.7 629.0h1.1M168.5 599.9h1.1M132.6 622.8h1.1M115.0 630.2h1.1M101.1 648.8h1.1M98.3 635.4h1.1M105.5 627.0h1.1M156.6 618.3h1.1M128.1 653.0h1.1M125.2 603.6h1.1M124.8 621.3h1.1M104.1 648.3h1.1M148.9 616.0h1.1M105.8 642.2h1.1M126.0 644.7h1.1M123.2 622.9h1.1M106.1 627.0h1.1M123.3 644.2h1.1M104.3 653.4h1.1M133.2 634.5h1.1M119.1 648.2h1.1M165.1 622.5h1.1M107.0 648.4h1.1M127.9 631.3h1.1M121.0 645.9h1.1M171.9 607.5h1.1M113.4 636.4h1.1M141.2 619.4h1.1M126.4 645.4h1.1M143.3 627.7h1.1M134.9 638.2h1.1M117.2 626.8h1.1M122.1 619.2h1.1M152.0 616.6h1.1M107.3 650.4h1.1M140.1 614.8h1.1M132.7 618.9h1.1M128.6 628.2h1.1M131.4 615.6h1.1M116.0 644.4h1.1M125.9 637.7h1.1M115.5 626.0h1.1M142.1 620.2h1.1M138.5 616.4h1.1M132.2 640.5h1.1M116.0 660.5h1.1M137.1 621.0h1.1M134.8 630.6h1.1M120.7 639.5h1.1M106.0 628.4h1.1M133.5 626.0h1.1M142.4 623.2h1.1M144.5 624.0h1.1M122.0 649.1h1.1M164.8 590.1h1.1M116.1 648.4h1.1M148.8 622.6h1.1M144.0 599.5h1.1M138.1 626.1h1.1M142.7 606.3h1.1M128.3 625.3h1.1M126.9 629.1h1.1M117.8 618.7h1.1M129.9 628.9h1.1M104.3 610.4h1.1M116.5 632.7h1.1M126.9 649.2h1.1M142.1 614.9h1.1M157.4 641.1h1.1M119.0 643.3h1.1M130.0 645.0h1.1M145.1 613.0h1.1M134.2 615.1h1.1M112.4 653.5h1.1M151.6 605.1h1.1M112.3 623.3h1.1M153.7 592.9h1.1M115.2 639.1h1.1M147.6 612.8h1.1M129.9 628.3h1.1M141.9 616.9h1.1M131.9 625.5h1.1M121.9 650.7h1.1M112.7 628.5h1.1M124.0 633.8h1.1M133.3 608.2h1.1M113.1 645.3h1.1M129.2 616.1h1.1M114.9 643.6h1.1M118.8 619.5h1.1M126.1 648.6h1.1M121.0 648.2h1.1M116.8 657.0h1.1M149.2 603.5h1.1M123.9 640.7h1.1M115.6 647.3h1.1M148.8 614.1h1.1M133.7 622.8h1.1M139.6 610.0h1.1M152.5 607.5h1.1M116.1 621.8h1.1M125.1 635.1h1.1M138.5 601.8h1.1M124.3 625.2h1.1M113.1 643.3h1.1M124.2 643.2h1.1M96.0 667.1h1.1M91.9 639.9h1.1M135.5 619.2h1.1M126.3 620.2h1.1M110.9 636.7h1.1M124.4 623.4h1.1M119.2 627.9h1.1M126.8 617.8h1.1M85.5 637.9h1.1M130.3 628.8h1.1M139.4 611.0h1.1M105.3 633.1h1.1M137.2 614.3h1.1M143.6 614.9h1.1M115.5 619.7h1.1M124.9 641.6h1.1M125.2 640.1h1.1M112.5 655.4h1.1M175.9 599.5h1.1M127.5 616.1h1.1M118.8 630.6h1.1M121.1 612.8h1.1M122.3 644.0h1.1M136.3 630.8h1.1M135.6 609.8h1.1M113.6 648.1h1.1M130.9 628.1h1.1M124.3 644.8h1.1M143.6 628.9h1.1M128.9 636.9h1.1M123.8 622.8h1.1M119.4 618.5h1.1M128.5 631.4h1.1M133.8 612.5h1.1M107.0 640.3h1.1M96.9 650.3h1.1M167.9 595.5h1.1M115.4 633.4h1.1M148.4 598.1h1.1M127.9 629.0h1.1M115.5 632.8h1.1M101.4 644.1h1.1M156.5 620.4h1.1M130.0 636.1h1.1M137.1 622.8h1.1M135.0 637.4h1.1M136.8 619.3h1.1M132.0 636.9h1.1M117.5 631.0h1.1M123.3 628.3h1.1M149.9 614.2h1.1M125.8 625.8h1.1M152.6 612.7h1.1M164.7 607.2h1.1M123.8 627.3h1.1M127.0 632.8h1.1M144.0 621.0h1.1M143.6 598.3h1.1M122.3 618.6h1.1M112.0 637.3h1.1M115.2 630.2h1.1M115.0 654.6h1.1M131.0 638.2h1.1M101.1 627.4h1.1M126.6 641.2h1.1M124.3 637.6h1.1M122.7 650.6h1.1M142.1 629.1h1.1M133.4 639.7h1.1M128.2 624.0h1.1M121.2 636.5h1.1M110.3 632.0h1.1M135.9 630.8h1.1M130.7 637.0h1.1M145.2 599.8h1.1M128.1 618.6h1.1M121.9 637.3h1.1M99.9 662.1h1.1M145.0 620.7h1.1M149.5 631.2h1.1M131.1 639.6h1.1M153.3 612.7h1.1M103.8 649.8h1.1M116.6 621.5h1.1M133.4 633.6h1.1M125.3 630.1h1.1M147.3 605.4h1.1M116.9 640.3h1.1M149.3 617.5h1.1M128.2 624.0h1.1M152.5 617.9h1.1M107.3 652.2h1.1M104.5 668.1h1.1M135.1 616.2h1.1M110.0 642.6h1.1M108.4 653.9h1.1M112.7 623.3h1.1M136.4 635.8h1.1M110.0 641.9h1.1M156.7 606.0h1.1M123.2 636.3h1.1M135.3 611.7h1.1M119.3 618.9h1.1M98.8 638.4h1.1M143.7 619.2h1.1M147.3 626.4h1.1M132.0 628.9h1.1M138.4 625.8h1.1M113.4 639.8h1.1M128.0 630.2h1.1M118.6 636.7h1.1M135.1 625.5h1.1M143.0 625.7h1.1M143.4 627.0h1.1M149.8 626.1h1.1M135.3 616.1h1.1M169.4 605.5h1.1M151.8 616.7h1.1M124.1 620.1h1.1M134.1 620.2h1.1M112.1 619.6h1.1M145.3 600.9h1.1M117.1 645.0h1.1M133.5 615.8h1.1M131.3 629.7h1.1M135.2 629.3h1.1M138.9 615.8h1.1M119.4 662.4h1.1M118.9 626.6h1.1M144.0 622.1h1.1M134.7 650.8h1.1M104.0 666.1h1.1M131.2 630.5h1.1M133.2 622.5h1.1M127.1 615.7h1.1M134.9 644.8h1.1M100.5 668.7h1.1M93.5 651.1h1.1M140.1 614.2h1.1M113.2 625.9h1.1M127.3 628.4h1.1M112.0 626.3h1.1M134.6 628.7h1.1M149.1 616.7h1.1M158.4 616.2h1.1M99.5 674.6h1.1M122.5 622.7h1.1M141.6 628.6h1.1M101.0 639.9h1.1M136.6 615.7h1.1M151.9 610.8h1.1M114.6 626.6h1.1M128.6 609.5h1.1M104.0 636.3h1.1M163.8 617.1h1.1M124.7 628.4h1.1M147.0 627.0h1.1M131.1 652.3h1.1M133.5 637.8h1.1M96.2 657.8h1.1M131.4 649.5h1.1M119.7 622.7h1.1M153.7 598.8h1.1M122.8 620.1h1.1M140.7 620.6h1.1M123.6 629.1h1.1M117.8 630.7h1.1M116.9 653.6h1.1M134.7 607.8h1.1M115.8 645.5h1.1M160.9 597.8h1.1M124.1 630.4h1.1M132.5 623.7h1.1M150.9 620.4h1.1M146.8 630.9h1.1M123.6 627.5h1.1M161.2 577.8h1.1M94.4 633.0h1.1M128.9 616.7h1.1M133.0 601.2h1.1M125.8 627.3h1.1M121.0 648.9h1.1M126.9 636.0h1.1M123.4 635.7h1.1M124.1 634.2h1.1M124.7 625.0h1.1M135.1 621.3h1.1M110.2 633.7h1.1M143.8 630.8h1.1M109.0 642.1h1.1M142.3 628.9h1.1M133.3 611.4h1.1M135.6 633.2h1.1M132.1 623.5h1.1M114.2 644.2h1.1M129.2 629.0h1.1M158.1 616.3h1.1M120.1 639.6h1.1M126.1 632.6h1.1M158.4 613.0h1.1M126.8 623.3h1.1M129.7 632.4h1.1M129.2 641.4h1.1M123.5 620.2h1.1M142.4 583.5h1.1M125.5 630.7h1.1M150.4 622.4h1.1M159.6 619.3h1.1M135.1 624.7h1.1M144.3 614.8h1.1M109.5 641.2h1.1M142.9 623.4h1.1M121.1 649.7h1.1M125.8 614.5h1.1M142.4 628.4h1.1M135.8 619.2h1.1M125.0 645.3h1.1M133.2 625.1h1.1M118.4 626.6h1.1M101.4 649.8h1.1M150.1 618.7h1.1M129.0 646.4h1.1M121.0 624.5h1.1M151.8 624.3h1.1M117.5 625.2h1.1M115.2 613.4h1.1M139.4 637.0h1.1M129.7 619.9h1.1M137.2 615.8h1.1M145.9 609.6h1.1M156.9 599.7h1.1M127.3 619.6h1.1M113.8 646.5h1.1M129.4 617.4h1.1M135.6 618.2h1.1M121.7 634.6h1.1M139.7 627.6h1.1M149.7 614.6h1.1M115.8 632.9h1.1M128.4 615.7h1.1M125.4 627.7h1.1M129.6 630.4h1.1M154.1 625.1h1.1M148.3 623.1h1.1M120.8 648.2h1.1M140.6 602.9h1.1M162.6 592.2h1.1M106.3 669.6h1.1M126.3 622.1h1.1M128.0 642.1h1.1M131.5 622.3h1.1M141.0 607.4h1.1M114.8 635.3h1.1M123.3 641.9h1.1M120.7 624.3h1.1M112.2 621.3h1.1M132.9 626.5h1.1M137.3 618.7h1.1M130.3 617.0h1.1M131.2 628.7h1.1M116.1 647.2h1.1M132.3 626.5h1.1M134.6 646.8h1.1M125.6 623.1h1.1M121.3 642.6h1.1M122.5 625.7h1.1M125.1 643.1h1.1M137.2 633.6h1.1M123.0 620.7h1.1M144.1 619.0h1.1M119.0 634.4h1.1M121.0 645.6h1.1M126.8 636.3h1.1M132.2 623.0h1.1M133.8 621.7h1.1M110.9 640.4h1.1M117.6 647.8h1.1M135.9 616.0h1.1M140.2 621.7h1.1M138.5 609.7h1.1M124.7 621.4h1.1M128.1 645.4h1.1M96.4 647.8h1.1M141.3 626.7h1.1M107.3 625.2h1.1M107.8 652.2h1.1M150.7 619.7h1.1M127.3 645.9h1.1M130.8 634.3h1.1M136.3 640.5h1.1M110.5 621.0h1.1M126.6 633.2h1.1M129.8 619.9h1.1M120.3 623.8h1.1M127.2 631.5h1.1M142.7 635.3h1.1M104.7 656.7h1.1M129.5 615.2h1.1M130.9 627.1h1.1M119.9 645.3h1.1M160.8 608.0h1.1M147.0 624.9h1.1M133.7 635.8h1.1M119.6 639.4h1.1M147.4 627.3h1.1M124.3 629.8h1.1M136.1 621.6h1.1M136.5 631.3h1.1M124.2 643.2h1.1M133.8 621.5h1.1M108.8 639.9h1.1M134.7 634.5h1.1M106.3 657.5h1.1M126.3 618.4h1.1M144.3 619.6h1.1M130.6 616.3h1.1M119.6 647.7h1.1M151.8 612.5h1.1M124.7 627.6h1.1M111.4 655.9h1.1M135.6 636.9h1.1M125.8 643.7h1.1M123.3 640.7h1.1M145.3 606.2h1.1M142.7 616.5h1.1M118.0 641.1h1.1M135.0 615.4h1.1M123.0 627.8h1.1M118.0 636.4h1.1M138.8 614.5h1.1M145.3 609.9h1.1M126.4 643.4h1.1M146.0 606.2h1.1M131.6 613.3h1.1M122.2 630.8h1.1M132.8 611.2h1.1M118.9 630.1h1.1M124.5 619.0h1.1M127.2 662.6h1.1M124.5 615.9h1.1M134.2 609.3h1.1M113.0 662.2h1.1M142.7 607.0h1.1M117.4 644.7h1.1M161.8 606.2h1.1M132.5 612.3h1.1M107.3 652.8h1.1M144.9 616.1h1.1M137.7 636.7h1.1M124.4 645.4h1.1M138.1 613.6h1.1M132.3 627.1h1.1M132.6 614.6h1.1M127.3 631.5h1.1M130.5 627.8h1.1M132.4 623.7h1.1M128.8 640.7h1.1M119.2 634.1h1.1M111.3 631.9h1.1M136.0 622.1h1.1M130.7 632.5h1.1M131.4 634.4h1.1M157.1 607.5h1.1M135.6 641.6h1.1M130.5 608.8h1.1M149.7 612.6h1.1M135.4 610.1h1.1M114.6 634.6h1.1M131.4 614.1h1.1M125.5 642.8h1.1M121.7 636.8h1.1M108.0 628.7h1.1M128.2 628.3h1.1M115.5 652.0h1.1M146.3 623.2h1.1M116.5 627.3h1.1M129.7 630.2h1.1M124.3 626.5h1.1M112.0 635.9h1.1M126.1 626.0h1.1M151.6 605.5h1.1M133.7 619.4h1.1M122.0 624.3h1.1M114.9 624.8h1.1M108.7 662.3h1.1M117.8 643.9h1.1M125.1 626.1h1.1M137.0 615.5h1.1M133.9 620.3h1.1M148.8 621.8h1.1M137.0 634.0h1.1M145.7 631.4h1.1M119.7 619.9h1.1M134.2 626.8h1.1M123.8 631.3h1.1M119.2 623.6h1.1M149.4 601.8h1.1M106.3 631.6h1.1M118.1 638.3h1.1M153.7 613.3h1.1M113.0 629.4h1.1M114.0 641.5h1.1M139.3 614.2h1.1M162.9 620.0h1.1M120.1 612.6h1.1M144.5 613.8h1.1M144.7 625.8h1.1M116.4 641.0h1.1M128.2 621.2h1.1M138.9 618.6h1.1M134.8 644.7h1.1M141.4 636.0h1.1M133.6 636.4h1.1M120.4 638.3h1.1M132.8 601.1h1.1M135.9 619.6h1.1M146.0 615.6h1.1M121.8 621.0h1.1M166.4 586.9h1.1M121.5 627.6h1.1M127.0 633.1h1.1M117.4 651.2h1.1M129.7 635.0h1.1M97.9 651.0h1.1M123.7 629.3h1.1M122.4 638.2h1.1M130.1 616.9h1.1M106.9 656.9h1.1M131.5 638.6h1.1M141.4 616.5h1.1M108.2 643.6h1.1M126.8 644.8h1.1M111.6 654.8h1.1M105.5 643.6h1.1M106.5 641.3h1.1M125.9 635.8h1.1M125.6 639.6h1.1M155.0 607.3h1.1M113.0 641.2h1.1M126.5 627.1h1.1M152.2 620.9h1.1M160.4 606.4h1.1M92.4 660.3h1.1M134.6 614.7h1.1M126.7 641.1h1.1M125.6 619.3h1.1M104.7 616.2h1.1M123.0 620.5h1.1M122.6 621.4h1.1M114.2 636.4h1.1M161.7 586.2h1.1M110.6 639.4h1.1M149.0 619.8h1.1M137.7 617.4h1.1M127.4 621.7h1.1M122.9 625.3h1.1M104.3 640.0h1.1M158.7 606.6h1.1M118.9 636.7h1.1M130.4 641.2h1.1M125.9 624.5h1.1M141.0 621.6h1.1M116.2 631.8h1.1M122.7 616.2h1.1M122.9 645.7h1.1M148.0 624.3h1.1M120.4 629.9h1.1M123.4 628.5h1.1M146.3 610.8h1.1M144.6 606.9h1.1M144.1 633.4h1.1M116.0 633.3h1.1M112.6 625.6h1.1M122.2 627.8h1.1M157.5 597.8h1.1M105.7 660.4h1.1M142.8 616.1h1.1M137.8 629.0h1.1M122.3 635.3h1.1M141.0 636.6h1.1M150.2 611.6h1.1M116.3 650.2h1.1M135.6 636.0h1.1M131.6 628.6h1.1M134.8 615.5h1.1M133.5 650.5h1.1M123.1 644.6h1.1M143.8 624.7h1.1M141.2 602.9h1.1M131.5 603.6h1.1M132.4 629.6h1.1M150.0 622.1h1.1M115.5 638.0h1.1M123.8 625.8h1.1M114.9 634.2h1.1M153.2 622.3h1.1M149.5 629.2h1.1M125.0 620.3h1.1M122.0 637.5h1.1M150.7 622.9h1.1M122.8 645.1h1.1M125.8 638.4h1.1M150.7 625.9h1.1M123.9 636.2h1.1M133.4 620.2h1.1M134.4 630.7h1.1M103.6 644.5h1.1M164.0 602.4h1.1M111.9 623.7h1.1M119.5 643.2h1.1M141.6 622.5h1.1M134.6 617.1h1.1M145.4 601.5h1.1M135.3 620.2h1.1M111.4 654.9h1.1M130.0 636.0h1.1M148.2 613.4h1.1M119.5 635.0h1.1M136.9 637.9h1.1M150.4 627.4h1.1M136.0 614.0h1.1M147.9 622.7h1.1M130.7 632.5h1.1M118.4 624.3h1.1M132.8 634.0h1.1M112.3 618.7h1.1M124.9 644.8h1.1M139.1 632.3h1.1M117.1 634.9h1.1M111.7 635.7h1.1M137.6 622.7h1.1M124.8 636.0h1.1M109.7 641.9h1.1M100.9 637.4h1.1M105.0 638.2h1.1M159.1 617.2h1.1M143.8 609.0h1.1M132.0 613.4h1.1M123.7 636.4h1.1M108.9 649.2h1.1M126.6 607.7h1.1M94.7 656.7h1.1M128.9 630.6h1.1M117.4 645.7h1.1M127.4 622.1h1.1M153.8 609.5h1.1M150.3 630.5h1.1M121.8 632.9h1.1M104.6 648.3h1.1M149.8 638.3h1.1M138.6 622.5h1.1M107.6 638.5h1.1M96.7 642.5h1.1M133.0 628.7h1.1M116.0 638.1h1.1M122.2 642.0h1.1M135.4 616.8h1.1M116.6 626.2h1.1M135.6 647.6h1.1M134.4 633.7h1.1M146.0 630.2h1.1M120.2 626.6h1.1M149.2 621.1h1.1M126.8 643.2h1.1M129.3 628.1h1.1M158.0 608.8h1.1M132.3 622.3h1.1M138.4 632.3h1.1M131.8 617.9h1.1M135.3 621.9h1.1M132.9 623.2h1.1M90.7 645.2h1.1M112.1 619.2h1.1M120.5 659.5h1.1M136.7 616.7h1.1M121.7 610.2h1.1M138.7 631.3h1.1M125.0 617.7h1.1M140.1 612.9h1.1M123.0 636.5h1.1M137.1 644.7h1.1M139.9 643.3h1.1M129.0 614.8h1.1M130.0 628.5h1.1M156.8 618.4h1.1M161.2 592.4h1.1M136.9 648.2h1.1M119.4 641.5h1.1M146.2 601.9h1.1M120.8 627.9h1.1M139.3 624.2h1.1M132.9 632.8h1.1M116.8 635.6h1.1M147.6 635.0h1.1M129.6 629.1h1.1M148.3 612.4h1.1M149.1 613.5h1.1M146.7 615.0h1.1M112.3 634.3h1.1M146.3 634.7h1.1M153.7 603.0h1.1M158.0 590.1h1.1M123.3 644.6h1.1M113.9 652.9h1.1M138.5 627.5h1.1M115.3 645.6h1.1M142.5 616.2h1.1M144.1 615.6h1.1M132.7 621.9h1.1M110.1 644.1h1.1M132.4 617.2h1.1M94.0 642.8h1.1M146.7 610.4h1.1M126.2 645.5h1.1M118.9 620.9h1.1M118.7 628.1h1.1M122.0 624.8h1.1M133.3 630.2h1.1M120.7 634.1h1.1M132.3 635.3h1.1M124.1 641.9h1.1M145.9 611.4h1.1M114.6 638.3h1.1M102.2 646.9h1.1M112.3 642.0h1.1M127.6 636.1h1.1M133.8 629.4h1.1M130.7 630.6h1.1M117.9 646.5h1.1M154.1 619.0h1.1M113.5 647.6h1.1M111.6 653.2h1.1M124.3 627.9h1.1M118.1 636.0h1.1M124.2 622.2h1.1M132.1 629.1h1.1M136.8 621.3h1.1M142.9 642.9h1.1M145.6 617.6h1.1M114.1 649.4h1.1M122.6 604.3h1.1M129.7 632.6h1.1M130.9 628.3h1.1M135.5 638.8h1.1M133.5 621.6h1.1M138.5 644.2h1.1M114.8 635.6h1.1M135.2 625.1h1.1M141.7 633.0h1.1M148.0 616.6h1.1M130.0 627.2h1.1M132.3 637.4h1.1M106.3 637.4h1.1M118.0 627.8h1.1M126.4 644.9h1.1M101.8 660.0h1.1M110.2 643.1h1.1M116.2 629.1h1.1M109.6 647.2h1.1M76.6 651.9h1.1M130.6 640.0h1.1M153.9 603.1h1.1M117.0 636.4h1.1M141.7 628.2h1.1M119.3 643.1h1.1M135.9 635.8h1.1M123.0 632.0h1.1M110.4 630.5h1.1M137.6 629.3h1.1M147.0 615.7h1.1M118.2 628.1h1.1M109.6 638.1h1.1M135.0 624.5h1.1M97.3 656.2h1.1M119.9 625.2h1.1M132.6 631.8h1.1M107.7 632.6h1.1M126.8 633.9h1.1M135.0 641.1h1.1M126.2 620.0h1.1M137.0 614.3h1.1M140.0 620.1h1.1M141.4 606.4h1.1M142.3 621.8h1.1M121.2 643.9h1.1M163.5 601.9h1.1M118.3 636.8h1.1M149.5 613.4h1.1M146.8 605.4h1.1M139.2 601.7h1.1M125.9 628.4h1.1M130.0 642.0h1.1M123.5 637.9h1.1M160.5 610.0h1.1M119.9 628.7h1.1M104.0 655.7h1.1M148.6 623.9h1.1M145.5 638.7h1.1M127.6 603.8h1.1M122.1 644.3h1.1M129.1 638.4h1.1M161.4 591.0h1.1M160.4 599.7h1.1M109.8 647.3h1.1M139.2 613.0h1.1M147.1 602.7h1.1M132.4 636.4h1.1M123.7 627.3h1.1M133.4 632.5h1.1M161.9 614.8h1.1M156.0 604.3h1.1M106.4 648.8h1.1M118.5 627.0h1.1M122.3 634.2h1.1M135.9 633.2h1.1M123.6 646.9h1.1M134.7 632.2h1.1M140.3 604.5h1.1M148.3 603.3h1.1M141.7 629.9h1.1M134.0 606.5h1.1M138.7 633.2h1.1M127.8 629.1h1.1M140.3 637.5h1.1M116.9 629.0h1.1M111.4 638.7h1.1M128.6 633.2h1.1M119.0 618.2h1.1M111.7 652.3h1.1M132.4 610.3h1.1M129.3 600.8h1.1M166.0 602.3h1.1M109.5 652.3h1.1M126.9 625.6h1.1M123.5 631.3h1.1M123.4 623.6h1.1M125.1 638.8h1.1M129.8 612.9h1.1M131.9 644.2h1.1M149.4 629.4h1.1M105.0 638.6h1.1M88.3 643.3h1.1M118.7 626.2h1.1M110.6 637.5h1.1M132.1 635.7h1.1M127.9 609.8h1.1M149.1 607.0h1.1M115.7 640.5h1.1M116.4 624.3h1.1M148.7 604.6h1.1M124.6 639.1h1.1M156.4 609.8h1.1M119.8 642.2h1.1M147.8 616.4h1.1M136.4 616.7h1.1M119.4 618.2h1.1M113.4 630.0h1.1M138.6 637.4h1.1M90.7 648.3h1.1M116.3 639.3h1.1M142.0 608.3h1.1M125.8 645.7h1.1M138.3 626.6h1.1M137.5 612.7h1.1M129.4 621.0h1.1M120.6 638.0h1.1M128.9 614.4h1.1M122.6 641.7h1.1M136.1 630.1h1.1M121.0 626.9h1.1M144.5 621.9h1.1M94.7 669.7h1.1M123.0 641.9h1.1M150.6 606.2h1.1M117.7 642.0h1.1M134.5 630.5h1.1M111.5 647.5h1.1M146.6 621.1h1.1M145.7 627.6h1.1M125.3 646.3h1.1M127.3 619.1h1.1M127.3 633.5h1.1M142.4 632.3h1.1M129.8 622.3h1.1M159.1 598.0h1.1M123.6 644.4h1.1M119.6 628.3h1.1M121.7 649.1h1.1M115.5 642.2h1.1M122.4 632.6h1.1M119.3 639.4h1.1M144.6 627.0h1.1M118.3 625.2h1.1M109.0 647.0h1.1M102.4 668.1h1.1M131.1 628.4h1.1M106.6 641.7h1.1M123.3 641.8h1.1M127.7 637.2h1.1M126.3 609.3h1.1M133.9 639.0h1.1M123.5 635.4h1.1M121.2 621.9h1.1M160.2 599.3h1.1M136.5 617.1h1.1M156.5 617.4h1.1M152.2 619.0h1.1M147.9 627.9h1.1M136.5 623.8h1.1M136.4 612.1h1.1M98.7 665.6h1.1M128.2 621.6h1.1M120.8 625.4h1.1M119.2 640.0h1.1M136.5 631.8h1.1M132.3 633.2h1.1M135.7 614.9h1.1M102.2 645.3h1.1M123.4 627.9h1.1M157.5 595.6h1.1M132.4 617.2h1.1M132.6 611.3h1.1M144.6 617.1h1.1M117.6 625.6h1.1M150.4 603.1h1.1M136.8 594.5h1.1M123.3 654.8h1.1M155.4 605.4h1.1M147.7 619.2h1.1M125.7 633.5h1.1M106.2 634.2h1.1M136.0 631.1h1.1M125.3 618.3h1.1M142.6 617.8h1.1M139.1 616.7h1.1M132.3 638.1h1.1M142.7 603.0h1.1M119.9 648.3h1.1M135.5 623.8h1.1M121.9 647.0h1.1M134.0 627.1h1.1M132.6 619.8h1.1M136.4 623.8h1.1M142.4 621.3h1.1M107.9 640.0h1.1M132.9 638.8h1.1M127.3 643.5h1.1M150.3 619.8h1.1M162.0 599.3h1.1M141.5 631.7h1.1M141.5 629.2h1.1M136.3 638.7h1.1M124.2 611.5h1.1M144.3 613.0h1.1M115.9 637.5h1.1M132.6 638.9h1.1M134.4 623.4h1.1M124.8 622.6h1.1M118.4 633.3h1.1M120.3 623.6h1.1M130.1 639.5h1.1M136.5 622.3h1.1M133.6 622.2h1.1M118.3 648.8h1.1M164.8 602.7h1.1M153.8 634.8h1.1M115.9 646.8h1.1M123.7 630.7h1.1M106.2 648.7h1.1M126.7 612.9h1.1M124.2 627.8h1.1M119.5 644.8h1.1M155.7 609.8h1.1M149.0 619.7h1.1M132.5 632.6h1.1M146.5 608.5h1.1M120.2 621.3h1.1M99.1 646.7h1.1M144.8 619.0h1.1M141.2 633.0h1.1M112.8 659.3h1.1M135.7 631.9h1.1M145.1 605.4h1.1M120.0 641.7h1.1M126.0 625.2h1.1M124.2 625.1h1.1M129.8 624.0h1.1M148.3 599.8h1.1M138.7 621.2h1.1M147.0 601.8h1.1M133.3 644.9h1.1M118.6 634.1h1.1M119.0 627.0h1.1M155.9 622.0h1.1M123.7 625.3h1.1M114.6 649.5h1.1M125.7 638.3h1.1M93.5 656.2h1.1M141.3 622.7h1.1M91.1 666.5h1.1M131.8 626.3h1.1M122.7 629.7h1.1M135.0 629.5h1.1M85.2 668.4h1.1M142.0 614.8h1.1M142.1 606.6h1.1M162.6 609.7h1.1M139.8 650.5h1.1M159.4 619.6h1.1M112.5 642.6h1.1M142.7 628.6h1.1M123.8 619.0h1.1M146.5 611.4h1.1M134.5 620.5h1.1M120.7 620.9h1.1M136.0 615.6h1.1M107.2 653.3h1.1M135.0 634.5h1.1M134.9 610.0h1.1M127.6 630.3h1.1M125.4 620.3h1.1M136.7 633.2h1.1M155.9 621.4h1.1M126.6 602.6h1.1M123.2 628.1h1.1M97.6 674.7h1.1M143.0 616.4h1.1M137.9 626.5h1.1M134.7 639.4h1.1M160.6 609.9h1.1M123.6 636.7h1.1M148.0 620.1h1.1M125.7 642.8h1.1M143.6 622.4h1.1M124.0 633.2h1.1M102.8 652.3h1.1M122.1 631.9h1.1M124.3 629.7h1.1M131.8 627.6h1.1M120.7 635.1h1.1M131.6 632.3h1.1M134.3 620.2h1.1M109.1 628.4h1.1M114.6 646.6h1.1M126.1 649.8h1.1M125.7 627.7h1.1M124.8 626.7h1.1M121.5 636.5h1.1M110.3 647.4h1.1M123.7 623.6h1.1M146.6 617.2h1.1M141.7 610.1h1.1M105.8 636.5h1.1M97.2 636.3h1.1M149.6 605.1h1.1M129.8 622.3h1.1M136.9 639.8h1.1M99.9 644.1h1.1M126.9 620.7h1.1M147.1 627.3h1.1M146.9 621.3h1.1M133.4 636.4h1.1M112.0 630.8h1.1M125.0 629.8h1.1M141.8 606.3h1.1M141.9 608.6h1.1M102.6 633.6h1.1M121.4 619.5h1.1M133.3 625.6h1.1M113.6 621.1h1.1M125.2 637.5h1.1M108.7 655.1h1.1M127.3 624.4h1.1M136.6 629.5h1.1M125.4 623.5h1.1M137.4 613.8h1.1M140.6 629.5h1.1M157.5 621.3h1.1M145.4 615.9h1.1M128.2 631.8h1.1M154.3 640.0h1.1M134.7 614.5h1.1M142.7 598.7h1.1M137.1 607.3h1.1M111.8 638.8h1.1M118.4 623.2h1.1M138.2 619.4h1.1M143.3 604.6h1.1M108.3 655.4h1.1M132.3 637.0h1.1M89.9 650.1h1.1M142.3 639.1h1.1M101.9 631.9h1.1M131.5 642.7h1.1M144.8 599.4h1.1M111.1 624.3h1.1M112.7 632.8h1.1M142.5 629.7h1.1M161.8 595.4h1.1M142.9 619.0h1.1M142.7 638.5h1.1M148.8 628.8h1.1M139.2 629.6h1.1M136.7 621.0h1.1M117.9 634.4h1.1M128.1 625.5h1.1M121.2 628.0h1.1M140.8 615.6h1.1M127.1 628.2h1.1M145.6 607.9h1.1M145.2 604.6h1.1M155.1 612.4h1.1M125.7 637.1h1.1M140.8 607.6h1.1M128.6 632.8h1.1M125.5 628.9h1.1M132.1 629.7h1.1M149.3 627.3h1.1M142.0 650.5h1.1M135.4 643.3h1.1M120.1 620.6h1.1M122.0 631.4h1.1M133.8 601.8h1.1M120.4 635.2h1.1M141.6 622.1h1.1M141.3 616.1h1.1M133.5 638.5h1.1M156.5 608.5h1.1M127.4 620.7h1.1M162.0 603.7h1.1M129.8 610.1h1.1M152.3 635.5h1.1M126.6 628.8h1.1M150.7 607.3h1.1M152.9 629.4h1.1M108.9 637.7h1.1M140.3 620.1h1.1M129.7 626.4h1.1M133.9 628.6h1.1M121.8 632.3h1.1M127.2 618.2h1.1M124.0 608.7h1.1M138.4 619.1h1.1M121.1 651.3h1.1M125.2 655.8h1.1M126.6 644.8h1.1M138.3 638.9h1.1M132.7 637.2h1.1M115.0 620.3h1.1M138.2 626.0h1.1M145.1 633.4h1.1M111.7 628.4h1.1M129.8 620.4h1.1M128.6 629.3h1.1M124.7 645.2h1.1M138.5 640.7h1.1M139.5 631.4h1.1M122.3 627.5h1.1M117.7 629.2h1.1M137.2 623.2h1.1M106.2 632.0h1.1M107.7 627.4h1.1M109.1 629.7h1.1M133.5 611.8h1.1M121.1 634.7h1.1M132.9 630.2h1.1M144.4 622.3h1.1M132.3 640.1h1.1M131.3 618.8h1.1M144.4 601.6h1.1M143.8 629.8h1.1M133.6 628.7h1.1M135.5 630.6h1.1M133.3 625.2h1.1M129.3 607.2h1.1M131.9 622.9h1.1M159.2 605.0h1.1M124.5 640.4h1.1M118.0 625.4h1.1M129.0 634.6h1.1M152.7 619.5h1.1M132.4 624.1h1.1M139.7 633.0h1.1M134.9 636.8h1.1M118.9 637.9h1.1M144.9 622.6h1.1M130.0 622.2h1.1M102.5 647.8h1.1M116.0 636.1h1.1M147.8 603.2h1.1M141.8 617.2h1.1M115.3 642.5h1.1M133.9 611.1h1.1M111.7 640.2h1.1M136.8 615.1h1.1M138.6 625.5h1.1M132.8 630.6h1.1M146.7 610.8h1.1M128.6 617.2h1.1M119.5 636.4h1.1M137.7 613.5h1.1M115.9 651.2h1.1M148.6 582.1h1.1M116.0 642.0h1.1M131.5 615.9h1.1M140.9 630.6h1.1M130.4 636.0h1.1M126.6 620.5h1.1M118.1 631.8h1.1M155.1 618.5h1.1M124.7 615.2h1.1M121.0 631.6h1.1M103.2 651.9h1.1M126.6 616.1h1.1M121.6 630.4h1.1M159.4 609.0h1.1M141.2 618.9h1.1M117.5 649.7h1.1M109.9 624.4h1.1M138.2 616.7h1.1M133.0 631.2h1.1M129.2 633.4h1.1M146.1 609.9h1.1M125.3 632.5h1.1M136.8 617.4h1.1M127.4 622.7h1.1M132.1 632.3h1.1M117.7 637.0h1.1M105.9 641.8h1.1M134.1 630.3h1.1M115.2 640.2h1.1M119.0 641.5h1.1M136.2 627.5h1.1M119.2 621.7h1.1M114.8 626.6h1.1M120.4 636.0h1.1M141.3 610.5h1.1M120.5 638.8h1.1M112.7 666.0h1.1M114.5 653.4h1.1M149.0 621.8h1.1M132.7 633.8h1.1M130.7 638.2h1.1M116.5 631.0h1.1M132.7 620.4h1.1M134.5 614.3h1.1M128.2 618.5h1.1M140.7 642.6h1.1M108.3 633.7h1.1M106.7 646.4h1.1M149.8 605.1h1.1M141.8 615.3h1.1M132.6 648.3h1.1M134.6 603.2h1.1M118.9 642.6h1.1M137.7 618.5h1.1M137.4 627.4h1.1M130.8 638.5h1.1M122.6 643.2h1.1M143.7 617.9h1.1M125.2 632.1h1.1M101.0 657.0h1.1M99.2 633.0h1.1M135.4 612.9h1.1M135.2 623.9h1.1M100.9 644.1h1.1M128.9 634.2h1.1M123.9 619.3h1.1M123.4 635.2h1.1M110.1 640.9h1.1M110.6 621.5h1.1M158.6 612.2h1.1M129.0 639.6h1.1M124.3 650.4h1.1M125.7 633.4h1.1M122.6 635.7h1.1M134.7 624.1h1.1M122.9 642.9h1.1M137.7 621.1h1.1M140.3 610.4h1.1M146.6 611.2h1.1M148.3 606.6h1.1M127.7 632.4h1.1M153.1 623.5h1.1M119.7 629.1h1.1M147.4 626.3h1.1M137.8 617.3h1.1M147.3 612.1h1.1M135.8 629.8h1.1M109.6 620.9h1.1M137.0 629.7h1.1M139.1 626.0h1.1M138.1 632.5h1.1M140.0 635.9h1.1M135.2 632.3h1.1M124.2 636.6h1.1M136.6 623.6h1.1M151.4 609.3h1.1M147.3 616.4h1.1M139.9 608.9h1.1M130.5 638.5h1.1M121.1 640.5h1.1M138.9 622.2h1.1M139.0 626.0h1.1M129.1 633.4h1.1M120.4 631.5h1.1M107.8 646.9h1.1M107.0 649.1h1.1M126.8 618.6h1.1M132.6 628.9h1.1M120.2 626.6h1.1M130.8 631.9h1.1M153.5 628.6h1.1M105.0 654.4h1.1M132.4 618.7h1.1M146.2 637.1h1.1M139.2 635.1h1.1M142.1 612.1h1.1M104.9 663.7h1.1M141.2 598.1h1.1M123.4 626.1h1.1M133.2 625.9h1.1M142.3 610.2h1.1M146.8 593.6h1.1M148.0 642.0h1.1M132.2 633.1h1.1M142.1 654.4h1.1M140.3 614.8h1.1M105.1 652.9h1.1M128.6 606.3h1.1M126.5 637.5h1.1M96.1 656.4h1.1M100.8 639.2h1.1M142.0 630.1h1.1M142.3 609.6h1.1M127.0 610.7h1.1M112.9 649.6h1.1M118.9 626.5h1.1M103.2 649.5h1.1M149.2 587.9h1.1M122.1 647.9h1.1M100.3 647.7h1.1M137.3 634.2h1.1M139.3 640.3h1.1M129.0 627.7h1.1M138.0 624.7h1.1M104.2 640.5h1.1M128.7 633.0h1.1M109.2 638.6h1.1M121.8 639.3h1.1M127.5 637.1h1.1M130.2 617.5h1.1M119.0 623.9h1.1M136.1 631.7h1.1M106.5 629.1h1.1M135.5 619.8h1.1M132.2 631.2h1.1M140.4 629.1h1.1M111.3 619.9h1.1M121.6 632.1h1.1M126.6 635.5h1.1M133.9 639.2h1.1M121.3 635.8h1.1M137.0 645.7h1.1M111.3 633.5h1.1M129.1 637.5h1.1M129.2 626.7h1.1M98.2 633.1h1.1M125.7 629.1h1.1M156.3 608.5h1.1M141.3 628.8h1.1M110.8 631.3h1.1M133.3 641.8h1.1M140.3 612.1h1.1M118.2 649.2h1.1M138.9 607.6h1.1M147.7 603.2h1.1M139.2 617.4h1.1M122.0 628.2h1.1M143.0 623.3h1.1M139.5 616.2h1.1M130.5 652.0h1.1M152.5 605.5h1.1M122.7 651.6h1.1M132.2 626.7h1.1M143.7 619.6h1.1M142.8 639.1h1.1M107.6 655.5h1.1M116.8 640.7h1.1M129.2 631.8h1.1M100.6 662.3h1.1M159.9 596.4h1.1M146.0 620.7h1.1M131.3 621.1h1.1M140.3 621.8h1.1M154.7 615.2h1.1M103.7 618.5h1.1M153.7 612.3h1.1M129.0 622.0h1.1M172.3 605.2h1.1M129.3 624.5h1.1M145.7 629.4h1.1M142.6 627.5h1.1M135.7 627.0h1.1M113.1 644.6h1.1M130.3 626.9h1.1M128.4 632.9h1.1M120.9 634.0h1.1M124.9 658.9h1.1M110.8 631.6h1.1M120.2 632.1h1.1M101.2 626.1h1.1M158.6 613.9h1.1M127.9 636.3h1.1M105.4 631.7h1.1M137.9 627.4h1.1M120.4 636.6h1.1M86.4 665.8h1.1M145.7 615.8h1.1M135.8 629.4h1.1M93.6 646.1h1.1M113.6 645.5h1.1M110.5 624.0h1.1M141.4 615.6h1.1M155.3 628.1h1.1M99.7 640.8h1.1M153.1 623.3h1.1M137.6 625.3h1.1M143.4 623.4h1.1M116.4 648.7h1.1M141.5 613.0h1.1M114.4 636.4h1.1M124.8 638.7h1.1M141.0 618.4h1.1M115.7 620.7h1.1M118.4 627.1h1.1M124.2 637.1h1.1M152.1 648.0h1.1M114.7 635.7h1.1M112.5 640.8h1.1M131.7 637.9h1.1M107.8 658.4h1.1M136.0 616.6h1.1M121.5 637.9h1.1M136.4 620.4h1.1M127.9 630.1h1.1M116.3 643.4h1.1M138.4 621.1h1.1M114.0 642.4h1.1M130.2 631.4h1.1M128.8 638.5h1.1M149.9 619.5h1.1M140.1 632.7h1.1M128.5 627.5h1.1M110.0 646.2h1.1M141.6 606.7h1.1M133.8 610.3h1.1M144.4 635.7h1.1M124.0 620.2h1.1M133.2 623.5h1.1M138.2 614.7h1.1M103.0 646.9h1.1M144.0 627.0h1.1M134.0 624.7h1.1M138.5 618.2h1.1M124.9 635.2h1.1M142.5 611.1h1.1M133.3 617.8h1.1M120.6 638.4h1.1M106.5 639.6h1.1M109.9 639.4h1.1M130.2 654.1h1.1M138.9 620.8h1.1M97.9 630.2h1.1M132.6 618.6h1.1M142.4 612.4h1.1M108.1 640.6h1.1M100.6 638.6h1.1M136.9 615.8h1.1M136.5 615.9h1.1M123.6 627.6h1.1M118.6 630.9h1.1M150.6 608.9h1.1M112.0 663.2h1.1M153.8 619.2h1.1M127.6 628.5h1.1M123.9 634.9h1.1M136.5 622.2h1.1M113.0 632.5h1.1M162.7 617.5h1.1M108.9 639.8h1.1M132.6 632.3h1.1M129.6 631.0h1.1M141.3 630.6h1.1M117.7 651.4h1.1M139.0 625.9h1.1M107.4 645.8h1.1M129.8 635.4h1.1M143.3 623.7h1.1M118.7 652.2h1.1M136.0 633.0h1.1M125.8 624.0h1.1M170.4 599.0h1.1M138.0 615.7h1.1M132.9 637.8h1.1M145.8 633.2h1.1M140.8 606.4h1.1M114.6 654.8h1.1M136.9 619.0h1.1M122.7 628.5h1.1M154.2 604.5h1.1M115.4 651.2h1.1M130.6 631.4h1.1M124.2 632.8h1.1M106.3 655.3h1.1M118.1 634.5h1.1M141.3 632.0h1.1M98.8 654.7h1.1M143.1 627.5h1.1M118.8 641.7h1.1M140.6 628.8h1.1M120.1 634.9h1.1M128.9 641.7h1.1M142.7 611.8h1.1M129.1 631.3h1.1M116.5 638.9h1.1M146.2 622.0h1.1M116.7 632.9h1.1M120.1 620.8h1.1M134.8 625.0h1.1M109.8 643.7h1.1M119.0 635.0h1.1M125.0 647.6h1.1M120.4 645.1h1.1M140.6 634.4h1.1M129.0 629.0h1.1M120.5 616.0h1.1M162.5 596.5h1.1M119.2 625.4h1.1M136.7 639.8h1.1M121.6 640.5h1.1M149.5 620.9h1.1M114.6 622.9h1.1M138.6 626.6h1.1M122.9 629.8h1.1M145.9 596.5h1.1M119.3 631.1h1.1M104.0 643.9h1.1M125.3 645.9h1.1M97.8 642.1h1.1M125.1 615.6h1.1M98.2 650.0h1.1M107.5 637.7h1.1M130.0 633.0h1.1M119.2 634.8h1.1M139.0 618.3h1.1M137.0 615.5h1.1M143.6 629.8h1.1M126.5 663.8h1.1M123.4 630.4h1.1M130.0 633.1h1.1M113.0 643.9h1.1M129.3 644.3h1.1M109.0 654.1h1.1M121.3 627.8h1.1M130.4 625.1h1.1M131.7 629.2h1.1M144.6 610.6h1.1M138.8 590.9h1.1M162.1 612.5h1.1M152.9 609.7h1.1M128.3 618.6h1.1M142.4 604.4h1.1M118.6 638.4h1.1M134.9 627.4h1.1M111.6 641.0h1.1M143.1 629.2h1.1M142.8 621.1h1.1M123.2 628.4h1.1M122.1 634.3h1.1M134.5 618.6h1.1M153.4 596.2h1.1M140.2 616.8h1.1M125.8 627.8h1.1M149.8 607.1h1.1M138.2 622.0h1.1M143.5 622.3h1.1M149.1 603.0h1.1M127.4 648.9h1.1M148.2 612.6h1.1M127.1 633.5h1.1M144.0 607.2h1.1M150.0 609.6h1.1M122.6 630.5h1.1M102.1 656.8h1.1M108.3 641.7h1.1M118.5 641.1h1.1M140.2 619.4h1.1M134.7 628.4h1.1M155.5 611.4h1.1M151.6 608.1h1.1M131.3 620.0h1.1M133.6 615.7h1.1M133.0 618.6h1.1M131.4 640.1h1.1M136.1 631.2h1.1M116.4 620.2h1.1M149.6 608.6h1.1M125.8 642.2h1.1M109.9 638.3h1.1M142.2 609.7h1.1M144.1 612.2h1.1M127.2 631.4h1.1M128.6 641.0h1.1M145.6 614.8h1.1M141.3 623.8h1.1M145.0 597.6h1.1M149.1 620.8h1.1M125.5 632.4h1.1M131.6 640.1h1.1M117.0 646.4h1.1M151.0 615.5h1.1M120.6 631.7h1.1M94.5 649.0h1.1M140.2 608.8h1.1M105.5 647.6h1.1M111.4 649.9h1.1M122.7 645.0h1.1M120.6 621.4h1.1M115.5 634.2h1.1M124.6 646.4h1.1M117.7 643.2h1.1M124.8 639.2h1.1M101.3 637.1h1.1M144.7 630.4h1.1M108.7 644.0h1.1M117.7 629.2h1.1M143.7 616.3h1.1M109.2 644.6h1.1M144.8 607.2h1.1M118.2 629.9h1.1M129.2 623.0h1.1M137.9 612.1h1.1M111.8 649.5h1.1M80.1 662.9h1.1M135.1 626.2h1.1M119.3 633.0h1.1M157.2 643.9h1.1M117.6 637.5h1.1M126.4 637.4h1.1M133.0 631.5h1.1M151.4 606.0h1.1M127.8 634.2h1.1M157.5 599.6h1.1M160.0 613.9h1.1M86.0 657.1h1.1M118.2 643.1h1.1M148.9 611.8h1.1M143.8 639.1h1.1M146.4 636.6h1.1M126.1 649.5h1.1M109.7 620.3h1.1M115.7 636.0h1.1M133.3 633.4h1.1M142.4 622.7h1.1M128.9 648.4h1.1M146.9 613.3h1.1M121.6 635.3h1.1M123.0 627.0h1.1M126.2 624.5h1.1M135.4 616.3h1.1M138.5 624.0h1.1M135.0 629.3h1.1M129.2 656.7h1.1M124.1 641.5h1.1M127.9 625.4h1.1M160.3 612.8h1.1M129.0 635.1h1.1M148.0 629.0h1.1M143.3 614.4h1.1M120.1 624.5h1.1M138.3 630.1h1.1M128.0 637.2h1.1M129.3 623.8h1.1M118.7 650.4h1.1M168.6 599.3h1.1M109.1 635.8h1.1M137.0 628.9h1.1M138.4 594.6h1.1M156.9 605.8h1.1M133.9 628.8h1.1M123.4 631.1h1.1M135.5 604.5h1.1M131.3 633.0h1.1M105.8 648.2h1.1M153.5 611.0h1.1M143.7 623.5h1.1M135.0 627.6h1.1M117.3 637.3h1.1M149.4 597.4h1.1M120.7 622.8h1.1M118.2 630.4h1.1M113.9 645.3h1.1M119.5 643.4h1.1M141.7 590.0h1.1M116.3 617.8h1.1M130.2 632.0h1.1M139.4 632.8h1.1M122.9 615.9h1.1M146.1 603.4h1.1M130.4 631.3h1.1M118.0 639.9h1.1M142.0 599.1h1.1M104.0 646.7h1.1M120.7 622.7h1.1M102.4 663.0h1.1M128.3 615.3h1.1M137.7 620.5h1.1M125.0 618.1h1.1M129.5 633.8h1.1M99.6 644.2h1.1M154.4 627.8h1.1M138.9 619.3h1.1M112.5 639.5h1.1M128.8 634.0h1.1M139.8 646.3h1.1M136.8 598.1h1.1M113.5 643.0h1.1M146.1 618.1h1.1M82.2 653.3h1.1M152.3 614.5h1.1M170.5 600.4h1.1M144.8 631.5h1.1M120.7 630.5h1.1M117.0 642.5h1.1M141.3 628.2h1.1M153.9 613.5h1.1M146.1 611.0h1.1M120.3 644.8h1.1M151.6 623.3h1.1M125.1 627.4h1.1M126.8 634.9h1.1M128.3 627.6h1.1M132.0 623.1h1.1M131.5 620.2h1.1M106.5 645.9h1.1M152.3 599.1h1.1M150.3 624.6h1.1M123.7 636.6h1.1M100.8 660.6h1.1M152.8 609.6h1.1M98.7 649.9h1.1M120.1 638.2h1.1M131.8 622.0h1.1M121.2 627.1h1.1M139.2 622.0h1.1M132.2 620.6h1.1M135.4 620.0h1.1M133.4 623.3h1.1M114.7 629.9h1.1M96.2 643.6h1.1M154.3 641.9h1.1M102.3 644.1h1.1M149.4 649.8h1.1M120.8 623.6h1.1M147.3 635.4h1.1M84.1 656.6h1.1M141.2 605.2h1.1M125.1 625.6h1.1M132.9 609.5h1.1M135.6 625.4h1.1M140.4 623.5h1.1M122.5 615.3h1.1M120.3 626.4h1.1M136.3 619.9h1.1M138.2 632.8h1.1M137.7 639.7h1.1M133.7 608.4h1.1M128.4 642.9h1.1M129.5 641.7h1.1M121.4 634.5h1.1M135.9 605.4h1.1M128.6 624.3h1.1M141.8 636.3h1.1M129.5 613.6h1.1M141.1 613.0h1.1M138.7 633.0h1.1M130.9 637.8h1.1M127.6 620.3h1.1M118.2 623.7h1.1M147.6 614.0h1.1M137.6 608.9h1.1M135.4 610.0h1.1M133.9 624.4h1.1M123.4 637.4h1.1M125.7 622.3h1.1M112.3 629.5h1.1M150.2 611.5h1.1M128.7 636.9h1.1M111.4 631.9h1.1M143.8 633.2h1.1M135.1 625.2h1.1M146.2 596.4h1.1M167.2 582.4h1.1M121.6 620.8h1.1M111.5 642.0h1.1M159.4 591.2h1.1M122.8 637.5h1.1M114.2 639.4h1.1M129.6 604.3h1.1M124.1 630.0h1.1M122.1 633.8h1.1M102.2 648.2h1.1M117.0 628.4h1.1M158.9 624.2h1.1M136.5 612.5h1.1M152.8 613.0h1.1M121.8 642.1h1.1M125.0 638.9h1.1M149.4 623.4h1.1M114.4 640.6h1.1M123.3 620.5h1.1M139.7 627.0h1.1M107.4 642.2h1.1M107.4 634.3h1.1M122.5 650.0h1.1M118.4 634.0h1.1M149.6 621.7h1.1M138.4 597.4h1.1M131.0 607.7h1.1M118.8 633.5h1.1M132.8 647.3h1.1M134.1 637.3h1.1M127.1 629.9h1.1M139.7 624.2h1.1M127.5 611.0h1.1M138.9 623.5h1.1M138.2 620.1h1.1M128.6 614.8h1.1M139.3 606.2h1.1M155.4 616.4h1.1M127.5 627.0h1.1M139.3 616.3h1.1M114.7 644.8h1.1M110.2 640.7h1.1M159.8 610.1h1.1M123.3 633.3h1.1M120.8 636.2h1.1M113.3 650.6h1.1M126.8 624.1h1.1M135.8 652.0h1.1M121.1 630.7h1.1M119.0 632.4h1.1M152.2 615.5h1.1M137.9 624.9h1.1M100.6 627.6h1.1M155.3 613.2h1.1M134.6 627.0h1.1M133.0 625.6h1.1M114.0 617.7h1.1M138.3 621.1h1.1M145.5 617.5h1.1M129.3 635.3h1.1M130.2 622.9h1.1M122.4 630.2h1.1M123.3 629.1h1.1M160.0 633.4h1.1M134.6 636.3h1.1M84.3 633.2h1.1M122.5 633.1h1.1M112.0 629.1h1.1M115.2 635.7h1.1M130.3 624.0h1.1M111.0 641.0h1.1M146.5 603.4h1.1M136.5 633.4h1.1M115.5 634.7h1.1M177.7 598.8h1.1M123.4 635.7h1.1M132.2 627.6h1.1M134.9 620.2h1.1M93.4 650.3h1.1M124.6 617.7h1.1M133.8 641.3h1.1M129.7 620.9h1.1M137.8 632.7h1.1M98.9 642.1h1.1M118.2 633.7h1.1M125.6 625.6h1.1M132.0 627.2h1.1M110.1 639.0h1.1M114.1 645.5h1.1M137.3 628.7h1.1M114.7 635.9h1.1M98.7 656.3h1.1M109.1 650.7h1.1M147.7 617.0h1.1M140.1 621.4h1.1M140.4 629.0h1.1M159.0 624.3h1.1M130.8 636.5h1.1M144.6 619.6h1.1M126.8 616.8h1.1M140.5 608.7h1.1M116.1 631.1h1.1M132.5 615.0h1.1M139.6 625.7h1.1M129.5 624.6h1.1M145.6 628.5h1.1M117.7 627.4h1.1M116.7 630.2h1.1M125.8 630.1h1.1M105.6 666.2h1.1M116.2 635.7h1.1M91.5 640.8h1.1M117.0 642.3h1.1M132.0 606.1h1.1M141.5 634.5h1.1M131.1 637.2h1.1M129.3 618.4h1.1M140.6 611.7h1.1M132.8 621.0h1.1M127.8 631.7h1.1M139.3 600.9h1.1M114.8 642.8h1.1M142.7 614.5h1.1M130.3 633.6h1.1M147.2 602.5h1.1M105.9 646.5h1.1M133.5 610.2h1.1M151.0 619.5h1.1M136.4 612.8h1.1M115.4 648.4h1.1M137.5 628.9h1.1M94.7 627.0h1.1M151.3 619.9h1.1M126.1 631.5h1.1M140.5 626.8h1.1M124.5 627.3h1.1M121.9 646.7h1.1M112.6 605.9h1.1M131.7 620.2h1.1M109.2 641.0h1.1M109.5 641.5h1.1M125.1 638.1h1.1M105.7 629.7h1.1M113.9 627.3h1.1M139.3 617.3h1.1M101.6 643.9h1.1M129.4 628.1h1.1M103.3 650.6h1.1M139.6 630.3h1.1M144.8 613.3h1.1M109.6 642.2h1.1M134.1 614.1h1.1M142.4 606.2h1.1M118.7 647.4h1.1M130.3 631.2h1.1M125.9 632.1h1.1M132.2 647.0h1.1M138.5 618.9h1.1M141.2 627.1h1.1M123.5 635.8h1.1M129.8 621.9h1.1M118.0 636.6h1.1M123.5 629.3h1.1M103.0 653.1h1.1M139.6 620.1h1.1M158.9 611.5h1.1M121.3 628.4h1.1M135.0 619.4h1.1M107.9 649.3h1.1M124.6 630.4h1.1M139.7 621.4h1.1M154.4 597.8h1.1M130.3 631.1h1.1M121.0 630.5h1.1M146.6 596.9h1.1M125.2 612.9h1.1M124.2 612.0h1.1M119.8 649.7h1.1M152.4 609.3h1.1M97.3 668.6h1.1M127.3 618.1h1.1M117.7 624.4h1.1M128.2 628.7h1.1M136.1 631.3h1.1M108.8 622.7h1.1M106.6 635.1h1.1M122.4 630.0h1.1M136.9 636.9h1.1M124.4 621.1h1.1M120.9 626.5h1.1M129.8 634.6h1.1M117.9 646.6h1.1M163.5 614.7h1.1M153.3 608.0h1.1M122.0 657.3h1.1M130.5 630.1h1.1M119.8 626.8h1.1M131.0 611.7h1.1M113.7 648.8h1.1M120.1 627.6h1.1M144.8 630.4h1.1M125.3 630.8h1.1M143.0 626.6h1.1M148.3 619.0h1.1M123.6 639.7h1.1M120.8 617.6h1.1M150.5 615.8h1.1M148.9 610.3h1.1M139.8 618.4h1.1M137.3 631.5h1.1M134.1 631.0h1.1M136.2 635.9h1.1M130.1 609.7h1.1M155.7 609.7h1.1M119.4 630.7h1.1M158.4 603.4h1.1M140.4 625.2h1.1M131.2 646.2h1.1M155.3 596.7h1.1M137.0 603.7h1.1M125.6 632.6h1.1M133.9 630.8h1.1M137.7 625.2h1.1M129.8 631.6h1.1M132.9 646.9h1.1M137.6 634.7h1.1M130.7 625.8h1.1M120.4 622.5h1.1M161.4 604.2h1.1M129.3 623.5h1.1M146.2 609.8h1.1M120.6 630.5h1.1M153.4 610.4h1.1M124.5 625.9h1.1M149.6 613.5h1.1M130.3 637.6h1.1M136.9 610.9h1.1M152.1 620.1h1.1M119.4 623.0h1.1M143.5 612.1h1.1M125.6 628.8h1.1M130.8 636.4h1.1M117.6 645.0h1.1M152.0 619.7h1.1M141.6 620.5h1.1M126.7 629.7h1.1M126.9 649.1h1.1M122.9 623.3h1.1M149.9 626.6h1.1M132.2 622.5h1.1M118.0 645.9h1.1M123.1 627.0h1.1M131.5 612.6h1.1M127.2 604.0h1.1M113.7 627.1h1.1M131.0 635.8h1.1M119.3 652.5h1.1M118.0 633.6h1.1M140.0 611.1h1.1M149.3 608.4h1.1M123.6 623.3h1.1M145.8 613.1h1.1M118.2 628.3h1.1M120.8 635.3h1.1M124.4 641.7h1.1M126.3 624.6h1.1M144.3 630.7h1.1M103.2 656.1h1.1M145.9 615.2h1.1M133.3 608.3h1.1M125.2 643.3h1.1M129.2 629.4h1.1M140.9 622.2h1.1M133.7 619.3h1.1M133.1 639.5h1.1M115.6 625.4h1.1M130.2 637.6h1.1M155.9 606.4h1.1M124.9 639.2h1.1M140.8 631.2h1.1M141.5 625.9h1.1M139.5 624.0h1.1M116.7 638.2h1.1M159.6 615.9h1.1M145.7 618.2h1.1M130.6 631.3h1.1M131.6 638.4h1.1M121.8 627.1h1.1M116.4 657.2h1.1M115.2 632.0h1.1M145.5 633.5h1.1M137.7 617.5h1.1M133.6 615.8h1.1M127.0 631.1h1.1M134.7 632.2h1.1M147.9 632.3h1.1M140.3 615.7h1.1M129.3 619.5h1.1M120.1 633.3h1.1M140.6 611.0h1.1M103.4 641.0h1.1M112.8 641.5h1.1M119.9 624.5h1.1M117.2 635.0h1.1M139.1 626.5h1.1M147.2 609.8h1.1M139.5 620.3h1.1M112.0 637.4h1.1M159.6 599.6h1.1M157.5 612.2h1.1M152.2 606.0h1.1M141.6 614.3h1.1M109.0 634.3h1.1M127.8 612.6h1.1M130.8 617.9h1.1M128.0 615.0h1.1M140.9 615.7h1.1M101.8 637.9h1.1M122.6 617.0h1.1M137.6 626.4h1.1M129.0 644.0h1.1M152.0 611.6h1.1M139.3 624.8h1.1M134.0 638.6h1.1M109.7 619.1h1.1M133.2 629.9h1.1M135.9 610.8h1.1M145.2 605.5h1.1M143.1 624.1h1.1M139.1 632.1h1.1M134.8 645.8h1.1M135.0 619.0h1.1M166.1 595.4h1.1M116.0 655.9h1.1M148.6 605.0h1.1M123.1 646.4h1.1M126.2 621.1h1.1M124.4 633.8h1.1M152.4 624.8h1.1M130.3 644.3h1.1M113.8 650.4h1.1M131.0 631.8h1.1M120.8 628.6h1.1M140.5 630.8h1.1M100.6 655.1h1.1M119.3 626.1h1.1M115.0 647.1h1.1M141.6 624.5h1.1M95.2 642.9h1.1M119.9 632.5h1.1M152.6 603.5h1.1M137.7 631.9h1.1M155.4 609.2h1.1M145.7 634.8h1.1M115.4 621.7h1.1M118.7 634.9h1.1M150.2 613.3h1.1M147.6 613.3h1.1M128.1 623.5h1.1M116.5 645.7h1.1M138.6 626.5h1.1M121.1 631.5h1.1M139.0 626.5h1.1M153.1 597.8h1.1M148.9 620.6h1.1M127.8 631.5h1.1M138.1 637.3h1.1M167.1 598.1h1.1M132.2 636.3h1.1M136.4 620.3h1.1M145.6 623.4h1.1M129.8 637.4h1.1M93.1 647.3h1.1M127.2 632.2h1.1M118.7 654.2h1.1M126.3 633.0h1.1M134.1 632.5h1.1M126.7 639.0h1.1M111.3 628.8h1.1M138.5 622.1h1.1M132.2 605.0h1.1M128.7 622.3h1.1M125.9 627.4h1.1M121.9 628.1h1.1M135.3 604.6h1.1M109.6 650.1h1.1M154.0 598.2h1.1M112.0 631.6h1.1M123.4 647.5h1.1M144.8 624.5h1.1M136.6 624.6h1.1M117.4 628.8h1.1M152.5 634.7h1.1M132.4 639.6h1.1M121.2 636.4h1.1M153.4 606.2h1.1M136.3 616.3h1.1M149.6 597.0h1.1M137.0 619.2h1.1M135.3 627.2h1.1M153.3 616.6h1.1M147.0 616.7h1.1M123.3 648.6h1.1M154.2 611.5h1.1M140.2 616.3h1.1M116.3 651.1h1.1M131.0 647.9h1.1M139.9 618.9h1.1M122.8 635.7h1.1M114.8 637.6h1.1M150.8 606.1h1.1M155.2 604.3h1.1M131.3 616.8h1.1M124.1 628.5h1.1M122.1 656.2h1.1M138.2 619.7h1.1M115.8 641.2h1.1M111.0 634.6h1.1M139.7 642.8h1.1M109.8 652.3h1.1M107.4 616.8h1.1M110.5 644.1h1.1M127.3 622.2h1.1M157.7 608.9h1.1M113.0 625.4h1.1M129.3 621.3h1.1M138.9 608.6h1.1M144.4 610.0h1.1M131.7 623.5h1.1M145.3 626.7h1.1M118.2 628.8h1.1M161.6 609.9h1.1M161.8 609.8h1.1M141.2 635.7h1.1M119.0 633.2h1.1M128.8 636.6h1.1M117.9 637.0h1.1M117.7 636.6h1.1M151.9 620.4h1.1M141.3 645.6h1.1M123.4 639.0h1.1M112.0 620.1h1.1M121.0 649.7h1.1M123.7 665.6h1.1M130.3 630.7h1.1M147.8 612.3h1.1M118.5 631.7h1.1M120.6 642.5h1.1M126.8 636.5h1.1M107.6 643.5h1.1M160.7 604.3h1.1M135.5 636.0h1.1M142.6 633.4h1.1M118.7 646.6h1.1M119.6 644.8h1.1M172.5 606.5h1.1M121.0 640.7h1.1M132.8 617.6h1.1M128.0 618.2h1.1M148.7 621.2h1.1M132.0 633.8h1.1M162.3 597.2h1.1M106.6 652.8h1.1M120.0 628.5h1.1M148.3 622.5h1.1M147.5 630.1h1.1M119.5 632.9h1.1M121.5 606.1h1.1M94.8 663.5h1.1M127.8 630.6h1.1M118.5 640.9h1.1M141.5 610.8h1.1M137.3 619.7h1.1M128.9 630.3h1.1M153.9 612.2h1.1M140.6 620.1h1.1M106.0 659.9h1.1M130.6 628.5h1.1M115.1 624.6h1.1M160.8 620.3h1.1M142.0 597.1h1.1M131.5 613.7h1.1M125.0 626.9h1.1M117.6 630.7h1.1M128.0 638.4h1.1M157.5 613.4h1.1M129.4 627.0h1.1M126.9 630.6h1.1M120.8 634.3h1.1M140.8 615.8h1.1M118.5 637.1h1.1M131.1 626.2h1.1M130.6 635.2h1.1M124.2 622.2h1.1M134.3 616.4h1.1M145.4 623.1h1.1M138.6 623.6h1.1M110.7 643.3h1.1M135.5 630.1h1.1M114.0 640.8h1.1M110.1 647.9h1.1M132.1 627.5h1.1M157.1 611.7h1.1M124.5 626.7h1.1M128.4 638.0h1.1M140.2 613.4h1.1M126.3 626.6h1.1M140.8 620.4h1.1M115.5 631.4h1.1M140.6 603.1h1.1M88.5 631.7h1.1M155.4 599.2h1.1M145.1 620.5h1.1M148.1 624.2h1.1M123.7 633.5h1.1M146.9 618.9h1.1M115.7 632.6h1.1M111.7 647.3h1.1M114.4 625.0h1.1M124.3 636.7h1.1M131.6 624.2h1.1M136.1 629.7h1.1M109.2 637.8h1.1M147.8 620.1h1.1M106.9 640.9h1.1M154.5 614.2h1.1M133.8 635.8h1.1M157.0 619.2h1.1M103.9 637.3h1.1M122.9 633.8h1.1M126.7 633.7h1.1M156.8 615.9h1.1M144.0 615.4h1.1M155.7 609.9h1.1M133.6 624.6h1.1M116.5 663.7h1.1M134.8 633.5h1.1M160.7 598.3h1.1M119.7 648.5h1.1M128.5 619.1h1.1M143.7 615.8h1.1M103.4 624.3h1.1M118.5 642.5h1.1M121.2 646.6h1.1M162.6 602.1h1.1M133.0 624.5h1.1M142.4 617.2h1.1M152.4 623.3h1.1M136.9 611.3h1.1M138.1 617.8h1.1M139.9 629.7h1.1M122.2 637.3h1.1M146.2 604.3h1.1M131.6 634.6h1.1M132.6 636.9h1.1M108.1 631.4h1.1M134.8 622.2h1.1M139.9 629.6h1.1M143.0 612.5h1.1M114.4 621.0h1.1M118.0 641.5h1.1M125.3 616.1h1.1M141.0 617.7h1.1M143.7 611.8h1.1M137.8 609.0h1.1M100.1 646.2h1.1M142.3 621.5h1.1M104.8 652.4h1.1M148.7 629.5h1.1M143.9 621.0h1.1M110.2 649.9h1.1M101.2 650.7h1.1M119.9 626.6h1.1M115.4 639.7h1.1M134.9 616.6h1.1M138.3 628.3h1.1M140.3 639.6h1.1M122.0 627.3h1.1M109.6 658.1h1.1M138.7 618.2h1.1M133.9 623.1h1.1M142.4 616.8h1.1M133.0 624.5h1.1M105.9 625.6h1.1M131.1 613.5h1.1M139.3 626.6h1.1M152.5 599.7h1.1M137.5 631.6h1.1M117.8 632.7h1.1M147.7 634.5h1.1M150.5 620.0h1.1M120.4 643.9h1.1M139.4 605.9h1.1M129.4 626.5h1.1M129.9 609.3h1.1M140.1 618.9h1.1M115.1 618.5h1.1M98.4 650.6h1.1M141.6 622.2h1.1M131.6 608.2h1.1M140.3 633.3h1.1M112.1 651.2h1.1M123.0 640.2h1.1M122.9 616.8h1.1M122.4 648.6h1.1M135.4 636.6h1.1M139.8 628.9h1.1M125.9 634.1h1.1M129.9 637.9h1.1M128.2 641.7h1.1M145.7 600.8h1.1M130.8 633.2h1.1M161.2 612.4h1.1M122.1 616.4h1.1M138.8 613.7h1.1M135.1 627.8h1.1M116.3 651.9h1.1M146.1 619.7h1.1M140.5 622.4h1.1M108.0 642.4h1.1M139.8 615.6h1.1M132.6 629.7h1.1M132.8 628.3h1.1M137.0 621.7h1.1M113.4 640.1h1.1M139.9 611.8h1.1M138.4 623.7h1.1M102.7 622.1h1.1M125.8 623.4h1.1M126.5 641.3h1.1M121.4 639.6h1.1M132.9 627.5h1.1M147.4 591.0h1.1M142.9 614.8h1.1M122.7 627.3h1.1M131.0 627.6h1.1M126.2 649.1h1.1M119.1 636.3h1.1M113.3 644.7h1.1M141.0 629.8h1.1M141.2 612.5h1.1M152.0 607.0h1.1M161.1 618.5h1.1M118.8 626.5h1.1M145.5 629.6h1.1M141.6 629.4h1.1M143.3 625.7h1.1M147.1 609.5h1.1M109.8 644.9h1.1M112.8 630.7h1.1M131.7 634.2h1.1M96.4 642.0h1.1M136.6 612.5h1.1M132.0 640.8h1.1M147.8 615.9h1.1M123.1 604.9h1.1M140.0 623.1h1.1M111.8 646.4h1.1M135.9 621.4h1.1M146.0 623.2h1.1M129.6 625.7h1.1M119.9 649.4h1.1M123.9 636.9h1.1M155.7 613.2h1.1M112.0 643.3h1.1M111.4 627.0h1.1M122.2 641.4h1.1M133.8 622.4h1.1M126.4 618.7h1.1M118.6 636.5h1.1M139.5 616.0h1.1M129.7 631.9h1.1M143.9 601.9h1.1M138.6 622.3h1.1M130.5 630.2h1.1M102.7 652.9h1.1M120.3 623.5h1.1M141.3 616.6h1.1M129.5 636.7h1.1M113.5 635.1h1.1M146.3 622.7h1.1M155.8 599.8h1.1M102.0 637.2h1.1M114.1 643.5h1.1M123.2 626.8h1.1M112.4 636.4h1.1M131.5 639.5h1.1M146.2 628.2h1.1M145.6 622.1h1.1M149.0 615.8h1.1M157.6 615.3h1.1M156.6 606.4h1.1M132.9 652.5h1.1M129.1 634.5h1.1M121.2 628.5h1.1M130.2 615.8h1.1M135.5 638.3h1.1M136.3 631.2h1.1M141.1 622.1h1.1M134.9 630.2h1.1M119.8 643.5h1.1M111.2 636.9h1.1M114.8 627.3h1.1M104.8 654.8h1.1M140.7 625.5h1.1M161.8 601.2h1.1M136.6 614.1h1.1M133.9 612.2h1.1M152.4 597.5h1.1M128.4 637.5h1.1M106.7 663.4h1.1M118.0 641.0h1.1M144.6 616.5h1.1M140.4 613.2h1.1M126.7 607.5h1.1M147.6 605.0h1.1M118.2 638.8h1.1M150.0 602.4h1.1M127.9 626.0h1.1M110.1 631.8h1.1M142.1 624.7h1.1M120.9 638.7h1.1M138.4 624.6h1.1M128.0 630.3h1.1M128.2 618.1h1.1M132.3 634.5h1.1M129.3 642.8h1.1M120.9 624.4h1.1M118.7 623.6h1.1M130.1 610.8h1.1M129.0 626.3h1.1M128.1 634.3h1.1M131.1 621.0h1.1M139.1 615.0h1.1M149.8 624.7h1.1M140.3 628.7h1.1M114.5 648.1h1.1M108.4 645.6h1.1M125.4 603.3h1.1M115.1 633.1h1.1M117.1 639.9h1.1M132.7 613.1h1.1M111.5 624.7h1.1M109.0 624.3h1.1M111.6 649.6h1.1M137.9 612.1h1.1M130.8 619.0h1.1M154.3 625.0h1.1M91.1 653.7h1.1M118.6 633.2h1.1M160.2 617.7h1.1M133.3 631.9h1.1M106.3 646.1h1.1M125.3 630.7h1.1M125.8 615.0h1.1M127.0 653.8h1.1M106.2 650.1h1.1M142.8 621.8h1.1M122.2 617.7h1.1M115.2 624.6h1.1M159.3 605.5h1.1M141.3 620.1h1.1M130.9 639.9h1.1M145.7 620.7h1.1M142.1 625.1h1.1M128.4 634.1h1.1M129.8 625.5h1.1M150.5 632.6h1.1M109.5 662.0h1.1M130.4 640.6h1.1M114.8 639.7h1.1M143.9 614.7h1.1M128.4 616.4h1.1M123.0 652.3h1.1M131.7 625.5h1.1M105.2 639.2h1.1M115.4 640.6h1.1M125.2 625.8h1.1M121.3 637.1h1.1M138.8 605.0h1.1M116.3 652.5h1.1M108.0 643.5h1.1M141.4 637.3h1.1M86.1 636.3h1.1M134.6 635.4h1.1M127.7 621.4h1.1M121.6 613.4h1.1M149.4 626.5h1.1M131.6 635.4h1.1M123.2 650.0h1.1M116.7 631.3h1.1M109.9 627.0h1.1M150.1 631.5h1.1M109.0 644.7h1.1M133.2 619.0h1.1M110.0 649.6h1.1M144.6 616.0h1.1M113.5 639.6h1.1M102.8 651.9h1.1M152.9 619.3h1.1M131.1 631.7h1.1M123.5 635.3h1.1M122.6 636.5h1.1M123.9 635.7h1.1M139.6 619.2h1.1M114.7 647.2h1.1M123.9 628.1h1.1M133.4 616.0h1.1M146.0 619.6h1.1M116.6 632.5h1.1M123.5 624.1h1.1M131.1 602.7h1.1M130.2 624.1h1.1M118.1 645.5h1.1M125.7 636.8h1.1M122.4 631.8h1.1M142.4 627.1h1.1M143.8 615.4h1.1M148.8 607.4h1.1M101.1 633.9h1.1M105.3 640.9h1.1M107.0 652.3h1.1M130.3 627.4h1.1M132.7 624.4h1.1M124.8 629.3h1.1M124.5 620.8h1.1M156.0 621.2h1.1M142.7 641.1h1.1M121.4 645.5h1.1M110.7 651.9h1.1M125.1 643.3h1.1M136.7 632.2h1.1M141.3 623.5h1.1M134.8 640.9h1.1M137.6 626.4h1.1M148.6 608.5h1.1M160.1 612.7h1.1M123.3 618.3h1.1M145.3 610.9h1.1M132.1 627.5h1.1M146.7 619.8h1.1M101.2 646.8h1.1M135.8 624.6h1.1M144.1 621.4h1.1M148.8 603.3h1.1M150.2 613.9h1.1M137.9 628.3h1.1M129.2 636.4h1.1M131.0 634.9h1.1M125.8 644.5h1.1M105.4 643.1h1.1M130.7 630.0h1.1M116.8 635.5h1.1M139.3 631.0h1.1M145.5 609.0h1.1M127.5 626.9h1.1M106.5 644.3h1.1M138.5 605.8h1.1M175.0 598.1h1.1M155.1 607.4h1.1M100.5 659.4h1.1M149.1 604.6h1.1M151.8 616.6h1.1M145.0 622.6h1.1M141.7 624.5h1.1M148.9 615.6h1.1M141.2 622.6h1.1M127.4 621.0h1.1M99.7 644.3h1.1M104.9 634.6h1.1M137.9 617.4h1.1M164.5 630.7h1.1M138.3 615.5h1.1M134.3 622.0h1.1M145.3 636.8h1.1M159.2 615.6h1.1M143.7 635.0h1.1M146.4 622.9h1.1M110.6 638.9h1.1M131.3 624.5h1.1M112.1 622.5h1.1M119.2 636.6h1.1M128.6 617.6h1.1M138.0 640.4h1.1M121.8 614.2h1.1M127.6 630.3h1.1M148.8 613.3h1.1M151.0 612.7h1.1M153.7 621.4h1.1M152.5 609.9h1.1M160.2 643.4h1.1M114.3 644.4h1.1M133.0 617.8h1.1M140.8 616.6h1.1M142.2 619.2h1.1M122.9 645.8h1.1M163.0 608.4h1.1M124.8 614.1h1.1M134.5 623.7h1.1M108.8 626.3h1.1M141.6 628.2h1.1M152.3 632.7h1.1M105.8 653.7h1.1M137.5 636.8h1.1M124.5 622.5h1.1M131.7 631.2h1.1M115.7 632.4h1.1M138.6 629.8h1.1M129.6 633.7h1.1M121.4 632.1h1.1M138.1 631.3h1.1M151.5 607.4h1.1M147.0 634.1h1.1M139.8 615.3h1.1M128.2 614.2h1.1M97.0 649.4h1.1M113.0 628.8h1.1M141.9 612.4h1.1M131.8 627.2h1.1M121.0 623.4h1.1M146.3 591.9h1.1M133.5 632.5h1.1M126.9 629.8h1.1M135.8 625.4h1.1M131.4 638.5h1.1M145.4 630.6h1.1M120.7 614.8h1.1M104.6 645.4h1.1M127.7 612.4h1.1M129.2 642.4h1.1M131.0 619.4h1.1M129.3 629.9h1.1M122.7 631.2h1.1M122.7 637.1h1.1M160.0 616.9h1.1M125.6 657.3h1.1M121.0 620.9h1.1M110.5 647.2h1.1M130.0 621.1h1.1M118.0 636.5h1.1M137.5 628.7h1.1M125.1 606.6h1.1M123.5 636.8h1.1M139.7 628.0h1.1M118.2 655.7h1.1M112.7 641.4h1.1M121.3 630.7h1.1M124.0 642.4h1.1M143.0 620.2h1.1M109.4 639.8h1.1M131.6 630.9h1.1M121.2 633.1h1.1M166.7 595.7h1.1M112.9 616.7h1.1M128.8 646.9h1.1M135.4 610.2h1.1M142.0 619.1h1.1M123.7 642.4h1.1M120.3 633.5h1.1M131.7 628.8h1.1M125.9 635.0h1.1M131.4 629.0h1.1M132.2 619.2h1.1M111.1 644.3h1.1M149.0 614.6h1.1M129.4 620.6h1.1M107.9 634.5h1.1M115.7 636.9h1.1M108.5 646.1h1.1M112.3 651.1h1.1M120.4 617.6h1.1M124.0 636.0h1.1M139.7 627.8h1.1M124.7 631.3h1.1M130.0 634.0h1.1M119.9 635.4h1.1M130.4 623.9h1.1M122.8 649.3h1.1M132.2 616.2h1.1M153.0 599.0h1.1M116.4 636.3h1.1M145.7 630.2h1.1M152.0 614.2h1.1M134.8 631.0h1.1M115.7 633.3h1.1M138.6 622.5h1.1M128.0 618.8h1.1M125.9 616.1h1.1M143.0 616.5h1.1M119.0 632.9h1.1M185.3 612.4h1.1M128.1 644.7h1.1M96.7 670.3h1.1M131.9 629.1h1.1M110.1 631.7h1.1M131.1 622.2h1.1M142.9 628.0h1.1M131.6 632.5h1.1M134.0 627.1h1.1M124.5 635.6h1.1M136.7 622.9h1.1M116.2 624.6h1.1M124.2 650.3h1.1M145.8 617.1h1.1M133.5 623.3h1.1M144.8 625.2h1.1M128.6 632.7h1.1M134.8 606.6h1.1M114.4 635.9h1.1M112.1 639.4h1.1M116.6 635.8h1.1M130.5 614.9h1.1M139.1 634.9h1.1M126.3 618.1h1.1M128.4 642.2h1.1M123.3 627.2h1.1M137.1 613.9h1.1M118.5 645.2h1.1M127.0 623.7h1.1M142.6 628.7h1.1M145.6 615.2h1.1M139.2 625.2h1.1M119.1 656.0h1.1M118.3 632.6h1.1M113.9 632.1h1.1M145.3 614.4h1.1M112.6 623.9h1.1M132.3 625.5h1.1M115.8 639.9h1.1M109.0 654.1h1.1M116.4 645.7h1.1M120.2 613.8h1.1M111.6 637.6h1.1M144.3 621.7h1.1M148.0 630.1h1.1M123.7 628.3h1.1M99.2 644.6h1.1M133.4 615.8h1.1M123.6 644.2h1.1M104.3 666.4h1.1M138.2 601.2h1.1M136.7 622.0h1.1M140.8 614.7h1.1M136.3 637.8h1.1M124.5 637.6h1.1M138.3 619.4h1.1M145.0 620.2h1.1M132.4 607.4h1.1M117.9 642.2h1.1M154.0 622.1h1.1M126.5 623.1h1.1M105.0 629.5h1.1M126.7 637.4h1.1M121.4 619.8h1.1M129.3 629.3h1.1M128.1 645.7h1.1M142.2 629.1h1.1M126.4 620.7h1.1M151.0 621.2h1.1M115.2 626.9h1.1M138.4 614.4h1.1M114.1 641.5h1.1M133.8 616.5h1.1M136.2 633.3h1.1M132.1 609.3h1.1M149.7 629.7h1.1M142.4 616.1h1.1M126.8 613.8h1.1M119.6 631.8h1.1M158.5 602.5h1.1M126.3 649.9h1.1M138.1 602.8h1.1M118.5 620.1h1.1M132.1 601.4h1.1M149.8 598.8h1.1M127.7 653.3h1.1M139.5 623.4h1.1M136.6 611.4h1.1M140.7 615.5h1.1M138.7 622.8h1.1M142.1 603.1h1.1M115.1 648.7h1.1M165.3 602.2h1.1M131.8 633.9h1.1M114.5 643.1h1.1M108.3 649.0h1.1M149.4 629.2h1.1M128.6 639.5h1.1M142.8 605.1h1.1M116.6 620.0h1.1M120.9 641.1h1.1M101.3 650.7h1.1M147.9 627.7h1.1M98.6 660.6h1.1M109.5 621.4h1.1M119.8 643.7h1.1M133.9 632.3h1.1M129.9 635.4h1.1M111.9 633.8h1.1M118.7 619.2h1.1M145.7 611.3h1.1M112.4 634.5h1.1M118.0 640.3h1.1M130.1 637.5h1.1M114.4 641.4h1.1M107.4 643.3h1.1M148.0 610.6h1.1M142.0 616.6h1.1M110.8 635.8h1.1M117.0 643.6h1.1M149.5 642.7h1.1M157.5 612.7h1.1M117.8 640.4h1.1M130.9 653.1h1.1M126.9 643.7h1.1M116.3 648.9h1.1M111.3 639.9h1.1M133.4 626.6h1.1M129.2 628.2h1.1M118.1 637.6h1.1M124.3 623.0h1.1M138.9 622.0h1.1M127.2 644.9h1.1M112.2 623.3h1.1M145.3 610.2h1.1M152.4 612.7h1.1M124.4 645.4h1.1M141.6 627.8h1.1M139.4 636.8h1.1M141.0 614.5h1.1M109.7 645.9h1.1M125.8 621.0h1.1M135.9 639.3h1.1M130.1 640.4h1.1M112.4 633.3h1.1M142.0 615.4h1.1M138.8 631.4h1.1M145.5 600.5h1.1M139.4 622.1h1.1M142.0 637.0h1.1M123.8 627.2h1.1M126.0 609.4h1.1M130.4 618.0h1.1M130.6 619.4h1.1M135.8 620.2h1.1M123.6 639.8h1.1M131.6 609.0h1.1M111.4 641.9h1.1M132.4 640.5h1.1M154.3 611.5h1.1M143.3 612.6h1.1M113.5 646.3h1.1M115.4 659.2h1.1M140.1 631.8h1.1M112.8 625.8h1.1M130.2 633.3h1.1M124.6 627.4h1.1M130.3 625.8h1.1M141.9 603.0h1.1M99.9 654.2h1.1M125.5 615.3h1.1M132.1 631.1h1.1M136.4 625.6h1.1M112.1 628.2h1.1M141.2 614.2h1.1M120.2 654.0h1.1M124.8 601.8h1.1M165.9 597.4h1.1M113.7 653.3h1.1M141.5 631.5h1.1M121.3 617.6h1.1M125.6 627.3h1.1M133.1 623.2h1.1M131.1 613.6h1.1M120.0 631.4h1.1M126.4 612.5h1.1M143.3 642.4h1.1M111.5 656.1h1.1M137.0 632.7h1.1M132.3 628.8h1.1M137.7 626.2h1.1M113.2 641.7h1.1M162.6 614.4h1.1M113.6 632.4h1.1M133.7 636.5h1.1M139.4 613.2h1.1M97.8 656.5h1.1M114.3 655.4h1.1M153.9 614.0h1.1M141.3 624.1h1.1M161.0 612.1h1.1M143.4 603.3h1.1M123.2 634.2h1.1M98.5 653.3h1.1M129.5 627.8h1.1M163.2 595.9h1.1M126.8 629.6h1.1M117.7 623.4h1.1M145.4 614.4h1.1M135.2 623.7h1.1M110.9 627.7h1.1M129.2 634.7h1.1M132.5 633.9h1.1M117.8 635.8h1.1M131.6 625.5h1.1M140.4 634.5h1.1M125.2 633.9h1.1M124.3 639.2h1.1M129.1 620.7h1.1M109.9 632.9h1.1M127.1 632.3h1.1M122.8 633.3h1.1M144.8 640.6h1.1M158.8 627.7h1.1M133.1 627.6h1.1M158.6 606.5h1.1M136.2 616.9h1.1M127.0 639.3h1.1M118.4 631.2h1.1M111.5 647.9h1.1M131.8 632.4h1.1M111.5 631.0h1.1M145.2 614.6h1.1M134.5 611.3h1.1M98.7 628.3h1.1M139.6 630.3h1.1M157.8 622.6h1.1M99.4 643.5h1.1M118.6 629.6h1.1M122.8 625.6h1.1M110.0 645.6h1.1M127.5 621.7h1.1M123.4 619.7h1.1M123.8 629.9h1.1M123.5 633.1h1.1M105.5 635.3h1.1M122.8 642.6h1.1M112.0 633.9h1.1M155.5 602.2h1.1M120.0 627.3h1.1M152.9 613.2h1.1M142.4 634.5h1.1M104.6 632.3h1.1M147.5 617.1h1.1M127.5 639.1h1.1M139.5 641.1h1.1M114.8 645.6h1.1M148.2 621.4h1.1M123.0 630.0h1.1M127.9 637.5h1.1M123.8 632.1h1.1M143.3 614.8h1.1M132.7 624.2h1.1M117.9 614.3h1.1M119.3 641.7h1.1M118.0 632.0h1.1M143.3 641.3h1.1M114.5 631.4h1.1M108.2 652.7h1.1M124.6 623.6h1.1M129.8 639.0h1.1M145.9 617.8h1.1M151.3 620.1h1.1M128.2 638.5h1.1M136.4 630.8h1.1M145.5 637.6h1.1M115.0 645.6h1.1M128.1 655.4h1.1M121.0 632.1h1.1M129.5 628.0h1.1M152.9 606.8h1.1M139.3 631.5h1.1M145.2 603.7h1.1M126.8 616.2h1.1M144.5 630.6h1.1M121.4 632.7h1.1M148.6 616.1h1.1M138.4 615.4h1.1M123.7 629.6h1.1M143.1 599.7h1.1M131.6 643.9h1.1M123.0 622.2h1.1M132.0 623.8h1.1M131.1 632.6h1.1M132.5 609.2h1.1M141.0 634.8h1.1M111.2 643.8h1.1M117.9 646.3h1.1M116.7 636.3h1.1M126.9 635.9h1.1M104.5 635.4h1.1M140.1 634.1h1.1M125.4 636.7h1.1M134.2 625.4h1.1M126.7 624.9h1.1M133.3 638.4h1.1M143.1 630.5h1.1M120.8 637.6h1.1M113.9 627.8h1.1M140.6 615.3h1.1M125.4 616.4h1.1M125.9 630.4h1.1M130.3 639.0h1.1M136.9 623.3h1.1M130.6 622.5h1.1M118.8 635.0h1.1M115.2 639.5h1.1M134.7 636.4h1.1M137.5 648.3h1.1M123.6 635.2h1.1M126.2 624.6h1.1M119.3 617.9h1.1M141.9 610.8h1.1M119.5 617.2h1.1M130.5 613.2h1.1M142.6 605.0h1.1M123.7 641.1h1.1M136.3 600.2h1.1M116.0 658.6h1.1M127.5 613.3h1.1M127.9 637.7h1.1M133.0 642.1h1.1M121.2 637.8h1.1M153.8 623.1h1.1M136.4 628.8h1.1M125.0 631.8h1.1M124.3 637.5h1.1M135.7 611.6h1.1M114.4 642.6h1.1M158.3 605.1h1.1M131.4 626.2h1.1M103.3 644.1h1.1M138.6 596.7h1.1M147.5 598.7h1.1M172.2 619.5h1.1M149.4 608.9h1.1M134.8 617.5h1.1M125.0 634.8h1.1M90.4 669.9h1.1M119.6 625.2h1.1M129.7 635.5h1.1M121.5 639.7h1.1M112.2 645.1h1.1M118.6 646.9h1.1M119.2 644.6h1.1M103.9 653.4h1.1M140.1 609.6h1.1M125.8 622.1h1.1M140.6 626.9h1.1M152.9 622.3h1.1M143.4 607.7h1.1M134.4 630.0h1.1M125.1 617.6h1.1M171.5 619.3h1.1M116.1 611.2h1.1M153.5 604.7h1.1M154.7 594.0h1.1M141.4 626.6h1.1M108.5 643.5h1.1M140.2 626.2h1.1M120.4 607.1h1.1M99.6 659.4h1.1M142.8 599.1h1.1M140.4 629.1h1.1M107.7 630.1h1.1M131.0 622.1h1.1M127.4 628.0h1.1M130.0 631.5h1.1M122.5 634.4h1.1M117.3 629.6h1.1M129.9 618.7h1.1M136.9 621.4h1.1M147.8 618.6h1.1M102.6 652.4h1.1M139.4 620.7h1.1M136.5 634.4h1.1M131.4 611.5h1.1M136.8 633.2h1.1M124.7 618.2h1.1M143.8 622.4h1.1M146.3 615.2h1.1M136.2 632.1h1.1M124.6 652.2h1.1M136.5 624.6h1.1M144.5 623.8h1.1M105.3 660.8h1.1M123.9 624.5h1.1M147.3 623.0h1.1M131.5 619.6h1.1M125.9 620.9h1.1M160.2 593.2h1.1M150.9 627.6h1.1M115.2 635.2h1.1M98.1 653.9h1.1M112.8 645.2h1.1M126.9 630.9h1.1M127.7 624.7h1.1M131.0 626.3h1.1M118.3 634.9h1.1M114.8 627.0h1.1M118.9 616.8h1.1M136.8 621.5h1.1M138.6 633.3h1.1M140.3 613.7h1.1M141.2 631.3h1.1M129.8 632.4h1.1M129.6 616.5h1.1M131.4 622.2h1.1M128.7 634.0h1.1M133.6 614.5h1.1M125.3 630.0h1.1M119.0 642.0h1.1M123.1 626.2h1.1M142.1 616.1h1.1M113.6 641.7h1.1M128.9 632.2h1.1M163.4 604.1h1.1M148.3 609.5h1.1M139.0 625.5h1.1M129.8 630.9h1.1M127.6 638.0h1.1M127.2 649.9h1.1M130.1 632.0h1.1M122.6 616.2h1.1M130.6 617.4h1.1M130.2 623.0h1.1M117.6 621.9h1.1M109.0 640.6h1.1M116.8 642.6h1.1M112.1 646.5h1.1M133.0 616.7h1.1M114.9 637.6h1.1M148.3 627.3h1.1M159.4 602.4h1.1M139.2 621.8h1.1M123.5 621.7h1.1M131.3 639.4h1.1M145.0 607.5h1.1M118.6 659.7h1.1M132.8 630.6h1.1M117.3 618.9h1.1M128.6 618.3h1.1M122.4 627.7h1.1M139.7 646.4h1.1M139.2 597.6h1.1M106.1 643.8h1.1M125.1 641.1h1.1M146.8 604.5h1.1M136.3 619.9h1.1M109.6 659.6h1.1M148.7 601.7h1.1M135.4 617.2h1.1M125.9 626.4h1.1M128.1 630.1h1.1M123.1 637.3h1.1M116.9 649.0h1.1M106.4 628.1h1.1M139.1 615.9h1.1M127.7 640.4h1.1M140.3 640.7h1.1M127.5 614.0h1.1M119.2 630.1h1.1M135.3 642.2h1.1M176.2 605.8h1.1M139.0 626.1h1.1M119.6 612.3h1.1M159.8 623.7h1.1M122.5 634.3h1.1M119.0 635.5h1.1M111.7 631.6h1.1M135.1 601.2h1.1M137.3 608.4h1.1M115.0 618.7h1.1M132.9 613.9h1.1M158.3 591.9h1.1M136.9 629.3h1.1M111.9 634.8h1.1M118.5 644.7h1.1M139.5 630.9h1.1M105.1 639.8h1.1M125.7 626.8h1.1M140.4 631.4h1.1M127.1 621.5h1.1M125.1 624.1h1.1M131.4 647.8h1.1M149.3 631.3h1.1M126.5 630.3h1.1M114.0 645.1h1.1M143.5 623.6h1.1M114.7 643.0h1.1M139.6 614.0h1.1M136.5 616.4h1.1M126.5 624.5h1.1M105.0 641.0h1.1M130.5 624.2h1.1M126.4 624.6h1.1M140.7 616.3h1.1M132.4 620.4h1.1M146.9 611.6h1.1M148.1 636.7h1.1M126.8 613.1h1.1M122.6 638.3h1.1M103.7 634.9h1.1M119.3 619.7h1.1M147.0 617.6h1.1M132.4 639.5h1.1M113.9 629.0h1.1M142.2 617.2h1.1M132.6 637.4h1.1M131.6 633.8h1.1M139.3 632.7h1.1M134.6 618.5h1.1M148.2 607.5h1.1M146.1 599.0h1.1M117.9 613.4h1.1M144.4 630.2h1.1M127.2 635.9h1.1M134.9 639.9h1.1M136.4 626.2h1.1M136.1 605.2h1.1M140.0 620.5h1.1M147.6 612.5h1.1M137.8 620.4h1.1M113.7 636.9h1.1M119.9 622.0h1.1M126.6 625.7h1.1M153.1 604.4h1.1M132.1 627.2h1.1M130.2 609.5h1.1M115.2 659.3h1.1M113.6 632.7h1.1M147.4 615.7h1.1M123.2 642.5h1.1M123.7 652.0h1.1M127.5 634.0h1.1M140.6 640.2h1.1M116.4 639.1h1.1M147.4 589.2h1.1M124.9 635.8h1.1M129.5 633.5h1.1M139.2 606.9h1.1M128.5 644.2h1.1M141.2 587.6h1.1M142.8 627.7h1.1M115.9 630.8h1.1M113.5 640.6h1.1M118.5 646.4h1.1M123.6 639.7h1.1M113.7 652.7h1.1M144.3 625.8h1.1M146.6 639.1h1.1M143.3 616.6h1.1M149.7 606.2h1.1M141.3 636.4h1.1M123.7 633.6h1.1M134.4 626.1h1.1M132.5 637.2h1.1M156.9 599.4h1.1M140.2 614.8h1.1M136.8 609.8h1.1M150.2 621.2h1.1M155.3 613.2h1.1M155.3 616.3h1.1M155.0 619.4h1.1M157.2 606.8h1.1M137.1 611.2h1.1M147.4 602.9h1.1M149.2 609.9h1.1M155.6 599.3h1.1M149.5 606.8h1.1M148.8 616.2h1.1M149.6 597.1h1.1M170.5 615.0h1.1M154.4 612.1h1.1M143.0 613.0h1.1M152.4 608.0h1.1M154.7 598.1h1.1M152.1 614.2h1.1M149.4 609.0h1.1M152.3 612.8h1.1M152.5 634.2h1.1M150.2 600.3h1.1M140.3 608.2h1.1M144.5 597.4h1.1M162.5 594.6h1.1M152.9 628.6h1.1M153.4 612.8h1.1M148.7 609.5h1.1M153.3 588.6h1.1M148.9 604.6h1.1M148.7 611.4h1.1M143.4 622.7h1.1M154.9 612.1h1.1M151.2 617.2h1.1M152.1 616.7h1.1M161.9 606.7h1.1M143.1 617.6h1.1M154.5 626.1h1.1M146.0 601.9h1.1M148.7 625.0h1.1M147.2 617.3h1.1M148.4 610.8h1.1M148.5 612.2h1.1M156.1 597.0h1.1M156.4 610.1h1.1M141.8 607.2h1.1M148.7 617.7h1.1M156.9 614.9h1.1M153.7 608.8h1.1M152.3 611.2h1.1M154.6 613.5h1.1M151.3 620.3h1.1M160.0 601.3h1.1M148.6 600.6h1.1M144.7 601.5h1.1M157.0 605.3h1.1M162.7 610.9h1.1M150.7 618.2h1.1M170.7 614.6h1.1M153.1 613.6h1.1M150.5 616.7h1.1M161.5 615.1h1.1M150.5 611.1h1.1M153.1 606.6h1.1M152.3 587.3h1.1M138.7 615.8h1.1M155.2 606.6h1.1M146.2 599.4h1.1M157.1 610.0h1.1M164.5 606.3h1.1M143.9 609.0h1.1M142.2 613.0h1.1M156.5 617.5h1.1M161.0 602.1h1.1M153.7 606.1h1.1M146.1 619.5h1.1M139.1 604.7h1.1M153.4 622.5h1.1M150.9 623.4h1.1M142.8 616.5h1.1M152.1 605.2h1.1M145.5 614.9h1.1M163.9 605.2h1.1M155.0 612.2h1.1M164.3 611.4h1.1M145.3 606.5h1.1M145.7 615.3h1.1M149.4 611.5h1.1M159.5 626.9h1.1M153.9 621.4h1.1M142.3 610.0h1.1M139.0 609.9h1.1M137.6 613.7h1.1M153.0 615.1h1.1M142.9 621.4h1.1M150.4 610.6h1.1M140.9 623.6h1.1M160.5 613.0h1.1M155.4 618.3h1.1M147.1 604.6h1.1M158.8 612.8h1.1M152.3 608.7h1.1M152.9 615.0h1.1M142.0 620.8h1.1M141.1 613.6h1.1M158.2 615.8h1.1M146.5 604.9h1.1M168.4 598.0h1.1M134.9 623.1h1.1M143.9 610.4h1.1M167.5 616.5h1.1M145.2 602.1h1.1M156.6 606.1h1.1M149.7 613.2h1.1M145.3 616.9h1.1M158.9 614.8h1.1M159.7 596.4h1.1M149.5 603.7h1.1M157.3 615.8h1.1M153.4 605.1h1.1M165.8 605.8h1.1M158.6 604.2h1.1M158.2 602.4h1.1M156.4 605.8h1.1M143.6 601.5h1.1M159.6 608.2h1.1M147.8 613.5h1.1M157.7 610.5h1.1M146.1 628.8h1.1M154.2 625.8h1.1M158.4 605.0h1.1M153.6 610.5h1.1M156.0 620.5h1.1M144.6 610.5h1.1M142.1 602.4h1.1M151.5 598.2h1.1M164.5 607.5h1.1M160.1 596.4h1.1M147.1 609.1h1.1M151.4 601.0h1.1M138.0 598.8h1.1M152.4 610.9h1.1M158.7 595.2h1.1M159.5 608.2h1.1M150.9 599.4h1.1M128.3 625.1h1.1M157.6 606.0h1.1M170.0 614.6h1.1M145.0 611.3h1.1M152.0 592.9h1.1M137.6 624.4h1.1M160.4 616.7h1.1M155.2 606.0h1.1M138.8 602.7h1.1M151.2 603.9h1.1M150.4 613.8h1.1M138.6 620.0h1.1M157.1 624.3h1.1M155.9 616.9h1.1M137.6 606.2h1.1M154.6 603.5h1.1M148.4 622.9h1.1M145.7 597.8h1.1M159.4 622.4h1.1M145.1 601.8h1.1M152.9 622.1h1.1M163.4 606.1h1.1M146.2 622.4h1.1M143.7 611.4h1.1M153.4 618.6h1.1M156.9 610.6h1.1M146.0 609.4h1.1M154.5 601.0h1.1M152.1 614.6h1.1M154.9 616.5h1.1M157.6 610.7h1.1M162.2 595.0h1.1M157.3 591.9h1.1M134.2 600.0h1.1M143.2 609.0h1.1M161.5 613.5h1.1M162.3 595.0h1.1M156.6 603.4h1.1M119.5 596.0h1.1M139.4 600.8h1.1M151.7 600.2h1.1M151.7 602.8h1.1M149.3 602.1h1.1M162.5 618.2h1.1M146.5 600.3h1.1M147.1 614.8h1.1M149.8 598.7h1.1M137.6 605.5h1.1M163.1 602.5h1.1M150.9 605.8h1.1M165.4 603.3h1.1M156.5 617.5h1.1M153.2 605.3h1.1M148.9 611.9h1.1M152.3 594.7h1.1M144.5 622.5h1.1M164.6 612.8h1.1M147.1 598.4h1.1M156.8 606.7h1.1M137.1 606.1h1.1M142.2 618.4h1.1M145.1 618.7h1.1M153.3 614.5h1.1M151.7 600.2h1.1M152.5 616.2h1.1M152.3 619.1h1.1M159.1 612.0h1.1M151.4 617.6h1.1M150.9 612.3h1.1M152.1 603.5h1.1M138.9 596.6h1.1M150.0 617.1h1.1M134.0 603.5h1.1M141.0 615.7h1.1M157.7 609.5h1.1M144.6 619.7h1.1M149.2 622.6h1.1M150.2 604.3h1.1M147.9 612.0h1.1M153.4 619.7h1.1M150.0 605.1h1.1M146.9 599.7h1.1M150.4 607.3h1.1M147.4 612.6h1.1M145.1 600.4h1.1M168.0 625.1h1.1M152.8 602.4h1.1M161.5 617.7h1.1M152.9 625.1h1.1M158.4 622.7h1.1M151.4 620.2h1.1M154.0 620.1h1.1M158.0 607.3h1.1M151.4 620.3h1.1M147.8 601.8h1.1M153.5 606.1h1.1M145.4 604.9h1.1M156.6 613.9h1.1M150.1 618.9h1.1M140.9 619.9h1.1M147.8 603.1h1.1M145.4 601.6h1.1M164.0 602.7h1.1M152.8 599.0h1.1M137.4 621.0h1.1M158.1 602.2h1.1M159.9 606.4h1.1M158.3 614.3h1.1M145.5 610.6h1.1M159.8 607.0h1.1M142.4 606.5h1.1M143.5 583.7h1.1M155.6 604.5h1.1M145.5 618.9h1.1M165.3 620.7h1.1M140.1 593.9h1.1M149.4 619.1h1.1M147.9 612.1h1.1M157.7 618.6h1.1M152.2 607.4h1.1M152.4 619.0h1.1M149.1 615.8h1.1M157.2 612.2h1.1M157.0 607.6h1.1M166.4 604.6h1.1M142.1 608.5h1.1M153.7 621.1h1.1M152.6 624.5h1.1M150.5 604.4h1.1M144.8 614.4h1.1M155.0 605.7h1.1M156.0 607.3h1.1M156.4 600.4h1.1M144.6 604.1h1.1M144.2 605.8h1.1M141.2 616.2h1.1M143.7 593.6h1.1M136.7 608.2h1.1M156.0 611.4h1.1M151.9 607.3h1.1M147.6 614.9h1.1M144.9 612.9h1.1M152.0 606.5h1.1M147.0 591.4h1.1M146.9 623.6h1.1M145.4 610.1h1.1M147.6 612.3h1.1M151.9 612.8h1.1M165.6 616.1h1.1M138.4 619.8h1.1M147.0 615.6h1.1M145.6 615.3h1.1M152.4 608.4h1.1M155.6 612.6h1.1M144.8 614.9h1.1M161.7 610.1h1.1M152.4 600.3h1.1M152.2 618.9h1.1M152.5 611.6h1.1M153.6 617.0h1.1M147.0 603.4h1.1M151.4 606.1h1.1M152.4 614.5h1.1M149.0 605.9h1.1M142.1 613.2h1.1M144.3 603.8h1.1M159.1 626.4h1.1M147.7 613.5h1.1M142.4 614.2h1.1M153.2 609.7h1.1M141.6 618.5h1.1M150.9 621.1h1.1M158.4 619.6h1.1M147.2 601.5h1.1M154.0 602.5h1.1M150.9 611.1h1.1M149.5 623.1h1.1M146.7 603.3h1.1M145.5 619.4h1.1M159.9 606.3h1.1M150.7 606.0h1.1M160.0 607.7h1.1M143.4 610.4h1.1M144.5 627.3h1.1M167.4 594.5h1.1M157.3 612.2h1.1M160.5 623.3h1.1M141.1 610.2h1.1M164.8 607.3h1.1M154.8 605.7h1.1M151.5 611.0h1.1M150.4 604.4h1.1M165.6 614.9h1.1M143.3 607.1h1.1M164.0 623.5h1.1M152.3 622.5h1.1M143.4 609.0h1.1M156.3 603.7h1.1M154.3 614.2h1.1M158.6 605.8h1.1M156.5 598.4h1.1M151.5 616.5h1.1M146.1 596.8h1.1M152.7 615.5h1.1M159.1 621.1h1.1M143.1 619.0h1.1M138.3 605.1h1.1M149.4 610.8h1.1M145.5 608.5h1.1M150.7 599.8h1.1M140.6 605.1h1.1M150.3 595.9h1.1M156.3 596.2h1.1M158.9 619.6h1.1M151.6 622.8h1.1M141.4 613.8h1.1M155.9 609.2h1.1M154.5 610.2h1.1M152.0 593.1h1.1M151.5 618.4h1.1M139.3 613.3h1.1M171.6 605.7h1.1M154.4 608.0h1.1M145.7 605.8h1.1M141.2 608.8h1.1M144.5 617.1h1.1M148.8 602.6h1.1M145.2 601.8h1.1M151.6 606.4h1.1M151.7 611.5h1.1M159.5 604.8h1.1M148.2 614.2h1.1M156.0 611.2h1.1M153.0 600.2h1.1M147.4 619.6h1.1M146.9 618.3h1.1M172.8 603.7h1.1M138.6 612.6h1.1M151.9 606.5h1.1M156.3 608.0h1.1M155.8 611.6h1.1M147.9 624.4h1.1M138.6 612.1h1.1M137.3 622.1h1.1M151.5 605.9h1.1M133.4 603.6h1.1M148.6 600.7h1.1M150.2 613.3h1.1M152.8 612.8h1.1M164.1 605.9h1.1M145.1 614.9h1.1M145.5 606.3h1.1M152.9 604.6h1.1M155.7 612.6h1.1M160.1 596.2h1.1M165.9 618.8h1.1M161.7 603.9h1.1M147.7 614.7h1.1M145.5 610.8h1.1M139.8 617.0h1.1M144.6 625.7h1.1M152.1 605.2h1.1M151.9 610.6h1.1M151.1 613.0h1.1M152.4 613.6h1.1M146.8 614.5h1.1M156.7 597.1h1.1M151.2 619.5h1.1M153.7 609.4h1.1M150.2 606.9h1.1M150.7 615.7h1.1M155.4 612.9h1.1M164.9 620.7h1.1M158.7 617.7h1.1M163.3 622.3h1.1M153.0 600.9h1.1M157.5 599.0h1.1M153.2 600.8h1.1M154.0 609.2h1.1M148.7 590.7h1.1M145.0 625.4h1.1M153.0 603.5h1.1M143.1 599.7h1.1M145.7 608.3h1.1M157.6 607.2h1.1M156.1 617.6h1.1M151.3 617.8h1.1M152.2 614.0h1.1M156.5 619.7h1.1M158.8 623.9h1.1M151.7 601.4h1.1M155.4 620.1h1.1M153.7 595.9h1.1M155.3 612.9h1.1M168.3 602.1h1.1M154.7 616.5h1.1M147.5 604.9h1.1M149.9 609.1h1.1M150.5 611.8h1.1M149.5 604.0h1.1M147.3 597.8h1.1M157.6 609.7h1.1M146.3 599.6h1.1M149.4 613.9h1.1M157.7 612.2h1.1M142.6 618.0h1.1M151.8 598.2h1.1M142.0 613.7h1.1M148.5 610.1h1.1M160.0 605.6h1.1M144.2 624.3h1.1M156.1 614.7h1.1M158.1 618.3h1.1M149.8 606.8h1.1M149.0 621.6h1.1M141.9 601.0h1.1M162.7 613.5h1.1M142.1 624.0h1.1M163.7 616.9h1.1M154.7 599.9h1.1M157.7 612.2h1.1M150.0 625.9h1.1M158.4 612.6h1.1M150.4 619.5h1.1M149.6 608.8h1.1M153.3 612.1h1.1M142.6 617.9h1.1M145.5 599.2h1.1M174.0 616.5h1.1M155.3 606.9h1.1M139.9 609.2h1.1M148.7 621.6h1.1M147.3 615.8h1.1M153.3 617.7h1.1M163.3 609.2h1.1M160.5 613.1h1.1M157.0 596.8h1.1M149.7 605.3h1.1M150.6 608.9h1.1M155.6 613.9h1.1M131.0 602.1h1.1M158.3 615.1h1.1M156.5 620.8h1.1M164.8 599.4h1.1M152.8 614.4h1.1M148.4 598.0h1.1M144.1 596.1h1.1M146.4 617.0h1.1M147.3 602.0h1.1M158.1 617.5h1.1M144.7 621.9h1.1M152.1 596.3h1.1M160.6 607.0h1.1M149.7 612.1h1.1M151.4 610.8h1.1M146.6 607.2h1.1M165.2 615.6h1.1M157.4 619.5h1.1M140.6 607.0h1.1M156.3 608.6h1.1M149.3 602.6h1.1M154.2 618.2h1.1M162.0 603.9h1.1M140.6 593.4h1.1M154.2 621.2h1.1M158.4 596.1h1.1M139.3 626.1h1.1M141.8 614.6h1.1M146.1 611.3h1.1M149.1 619.0h1.1M146.6 601.4h1.1M152.7 630.3h1.1M155.8 608.8h1.1M152.4 631.3h1.1M146.0 616.4h1.1M149.7 604.6h1.1M149.9 607.2h1.1M132.6 612.9h1.1M145.2 610.6h1.1M162.2 617.8h1.1M160.9 624.2h1.1M149.5 613.3h1.1M141.7 601.9h1.1M150.0 609.7h1.1M150.3 619.0h1.1M152.2 606.7h1.1M147.8 616.6h1.1M142.5 609.6h1.1M153.2 618.4h1.1M148.9 611.0h1.1M152.4 615.6h1.1M154.6 616.1h1.1M154.7 616.2h1.1M145.9 607.8h1.1M152.7 607.3h1.1M155.9 621.1h1.1M144.6 608.6h1.1M156.6 620.5h1.1M149.5 624.0h1.1M152.4 605.7h1.1M145.8 608.1h1.1M135.1 615.4h1.1M135.3 608.4h1.1M151.8 616.2h1.1M144.3 613.4h1.1M145.9 613.3h1.1M159.7 615.6h1.1M156.6 609.8h1.1M162.8 607.9h1.1M156.9 611.5h1.1M150.9 600.7h1.1M146.6 615.6h1.1M139.7 618.0h1.1M151.0 614.2h1.1M161.8 614.7h1.1M138.7 623.8h1.1M160.4 617.3h1.1M149.8 616.2h1.1M145.7 606.1h1.1M157.5 615.0h1.1M149.7 613.0h1.1M156.6 604.2h1.1M150.9 614.0h1.1M155.8 610.9h1.1M160.6 607.1h1.1M136.2 607.4h1.1M159.1 620.9h1.1M149.3 608.1h1.1M155.4 612.4h1.1M152.0 597.2h1.1M156.6 608.0h1.1M161.3 612.9h1.1M143.0 627.2h1.1M150.1 603.8h1.1M155.7 617.5h1.1M147.0 623.4h1.1M164.5 616.9h1.1M143.3 611.5h1.1M155.5 604.2h1.1M140.5 593.8h1.1M155.6 588.2h1.1M144.2 621.9h1.1M150.0 603.7h1.1M141.2 625.0h1.1M147.9 604.4h1.1M149.0 606.8h1.1M148.8 620.0h1.1M151.4 611.0h1.1M140.5 612.9h1.1M146.6 608.8h1.1M153.3 609.3h1.1M149.0 611.0h1.1M158.6 614.6h1.1M149.7 621.7h1.1M160.3 610.9h1.1M149.0 614.8h1.1M156.6 592.6h1.1M154.7 605.2h1.1M161.4 603.3h1.1M152.9 603.0h1.1M156.3 622.6h1.1M141.2 614.2h1.1M143.4 604.9h1.1M148.6 600.6h1.1M150.2 609.2h1.1M139.2 622.7h1.1M142.4 618.7h1.1M135.0 619.4h1.1M157.2 608.3h1.1M165.7 614.6h1.1M154.4 606.0h1.1M153.6 615.0h1.1M138.8 611.0h1.1M159.8 620.9h1.1M146.0 617.9h1.1M150.7 618.5h1.1M153.0 608.9h1.1M155.1 604.8h1.1M152.1 631.3h1.1M152.0 613.2h1.1M151.5 602.2h1.1M144.6 608.8h1.1M156.4 610.3h1.1M145.7 602.3h1.1M139.1 606.6h1.1M139.5 613.4h1.1M155.3 612.2h1.1M143.9 623.5h1.1M161.1 618.2h1.1M148.5 597.8h1.1M155.1 609.7h1.1M149.3 605.0h1.1M159.8 604.2h1.1M138.7 603.3h1.1M142.7 604.1h1.1M150.8 627.6h1.1M155.6 616.8h1.1M161.2 609.5h1.1M142.7 606.2h1.1M150.8 612.3h1.1M148.7 609.8h1.1M144.7 601.8h1.1M151.2 598.7h1.1M147.4 605.1h1.1M156.1 600.8h1.1M143.9 613.3h1.1M149.9 599.2h1.1M140.9 614.2h1.1M140.6 589.9h1.1M167.9 619.3h1.1M154.8 617.1h1.1M141.0 600.6h1.1M151.7 616.5h1.1M143.2 614.7h1.1M149.2 616.4h1.1M165.8 598.8h1.1M152.0 627.0h1.1M147.3 609.8h1.1M157.8 612.7h1.1M154.1 611.7h1.1M146.0 602.8h1.1M160.0 611.9h1.1M137.6 604.5h1.1M148.5 614.9h1.1M160.4 605.0h1.1M129.1 623.5h1.1M152.7 611.9h1.1M140.4 616.3h1.1M155.4 614.1h1.1M164.2 616.3h1.1M144.9 611.7h1.1M151.0 615.9h1.1M163.6 601.7h1.1M147.3 604.6h1.1M152.7 627.6h1.1M157.8 619.5h1.1M153.3 603.7h1.1M147.9 604.2h1.1M154.0 606.7h1.1M162.0 614.1h1.1M151.8 618.4h1.1M150.9 605.5h1.1M159.0 616.6h1.1M157.0 615.6h1.1M159.5 616.4h1.1M148.6 609.5h1.1M143.1 594.1h1.1M155.9 622.3h1.1M156.2 625.4h1.1M158.0 599.7h1.1M148.7 616.9h1.1M165.3 616.4h1.1M156.4 598.8h1.1M153.5 603.4h1.1M159.8 608.0h1.1M159.1 602.9h1.1M149.5 599.0h1.1M148.1 618.6h1.1M156.2 615.3h1.1M161.4 595.4h1.1M138.8 610.5h1.1M153.4 620.7h1.1M151.8 607.0h1.1M154.2 606.3h1.1M152.5 609.3h1.1M147.4 622.3h1.1M163.6 622.8h1.1M148.7 606.6h1.1M148.5 605.5h1.1M149.0 608.6h1.1M148.4 603.5h1.1M148.4 608.8h1.1M145.0 615.2h1.1M158.9 611.4h1.1M152.4 608.3h1.1M155.3 604.1h1.1M146.2 597.0h1.1M140.4 612.4h1.1M156.4 603.3h1.1M148.2 601.8h1.1M156.6 634.8h1.1M169.8 612.5h1.1M147.8 606.6h1.1M151.4 607.8h1.1M135.7 598.3h1.1M141.1 596.4h1.1M140.3 604.1h1.1M156.3 592.8h1.1M150.7 614.8h1.1M150.5 613.6h1.1M153.3 602.0h1.1M153.5 607.1h1.1M144.9 618.9h1.1M150.1 622.1h1.1M152.1 611.5h1.1M152.8 600.5h1.1M153.8 623.1h1.1M157.6 609.3h1.1M139.5 620.8h1.1M142.4 611.8h1.1M133.0 609.2h1.1M150.5 615.0h1.1M147.2 612.0h1.1M158.5 618.0h1.1M148.4 614.2h1.1M167.3 596.1h1.1M149.9 599.2h1.1M142.6 613.3h1.1M166.1 590.9h1.1M156.9 600.2h1.1M134.0 605.8h1.1M157.5 615.8h1.1M144.3 612.1h1.1M140.8 611.8h1.1M154.4 601.9h1.1M148.0 619.5h1.1M152.5 608.7h1.1M165.0 601.5h1.1M151.7 597.0h1.1M157.3 618.3h1.1M160.4 611.9h1.1M140.8 616.4h1.1M168.8 610.3h1.1M122.9 615.3h1.1M163.5 607.9h1.1M144.7 586.8h1.1M155.8 614.6h1.1M153.6 598.2h1.1M161.6 609.5h1.1M156.2 622.5h1.1M163.5 608.9h1.1M149.8 614.4h1.1M159.6 620.3h1.1M161.6 592.3h1.1M165.6 602.4h1.1M143.3 609.6h1.1M162.2 604.1h1.1M146.1 612.7h1.1M148.2 611.6h1.1M158.7 596.7h1.1M133.6 594.0h1.1M159.1 613.2h1.1M160.6 595.7h1.1M147.3 609.5h1.1M143.6 616.9h1.1M145.2 613.1h1.1M156.0 613.9h1.1M163.9 624.2h1.1M155.9 611.6h1.1M153.9 606.9h1.1M157.9 606.0h1.1M140.2 614.3h1.1M152.0 592.8h1.1M162.6 601.5h1.1M159.2 616.3h1.1M150.1 606.2h1.1M134.5 618.3h1.1M147.5 620.7h1.1M146.9 604.1h1.1M163.0 609.2h1.1M166.3 599.9h1.1M144.1 617.5h1.1M160.4 611.4h1.1M145.5 620.1h1.1M157.4 609.0h1.1M138.8 616.2h1.1M149.3 609.5h1.1M154.8 603.0h1.1M128.9 607.5h1.1M150.0 602.9h1.1M156.6 617.0h1.1M147.8 612.8h1.1M136.0 610.8h1.1M160.8 613.9h1.1M146.1 612.6h1.1M150.9 605.8h1.1M149.6 607.4h1.1M152.2 603.9h1.1M141.2 604.7h1.1M138.7 605.5h1.1M155.4 616.8h1.1M138.8 612.0h1.1M148.7 617.0h1.1M147.6 609.9h1.1M143.8 613.7h1.1M144.8 607.3h1.1M162.4 605.4h1.1M151.7 612.8h1.1M168.5 601.4h1.1M147.6 612.8h1.1M160.6 606.7h1.1M149.9 612.2h1.1M142.5 614.2h1.1M147.3 610.9h1.1M159.7 603.0h1.1M158.3 603.8h1.1M148.0 625.3h1.1M147.1 612.3h1.1M165.1 612.4h1.1M158.6 616.7h1.1M151.3 616.5h1.1M150.5 620.7h1.1M150.9 617.0h1.1M151.0 625.0h1.1M159.9 599.8h1.1M146.6 604.1h1.1M142.5 602.7h1.1M155.2 605.8h1.1M158.3 603.8h1.1M145.4 606.5h1.1M154.4 605.9h1.1M136.1 607.8h1.1M156.5 604.3h1.1M147.9 607.2h1.1M147.7 612.8h1.1M146.2 602.0h1.1M171.1 602.1h1.1M139.6 620.8h1.1M154.7 600.2h1.1M145.3 620.5h1.1M147.2 613.4h1.1M161.3 601.2h1.1M155.4 598.3h1.1M137.8 617.6h1.1M152.1 616.1h1.1M143.8 596.1h1.1M141.9 613.5h1.1M143.3 610.2h1.1M149.8 612.7h1.1M137.1 612.7h1.1M151.5 621.9h1.1M142.5 602.4h1.1M158.8 612.8h1.1M134.9 611.6h1.1M154.1 607.9h1.1M162.9 616.1h1.1M160.2 612.3h1.1M155.2 620.8h1.1M148.4 615.8h1.1M136.5 618.5h1.1M151.3 600.5h1.1M137.2 600.0h1.1M142.3 604.3h1.1M149.0 606.9h1.1M145.1 611.8h1.1M148.5 612.2h1.1M155.2 618.1h1.1M144.9 589.7h1.1M158.3 601.5h1.1M148.6 602.8h1.1M157.7 610.1h1.1M141.9 606.5h1.1M156.4 609.8h1.1M134.6 602.5h1.1M146.2 618.3h1.1M153.9 597.5h1.1M142.1 606.8h1.1M149.2 603.5h1.1M164.3 604.4h1.1M147.8 608.7h1.1M155.3 602.2h1.1M149.2 612.7h1.1M164.7 612.6h1.1M142.7 604.7h1.1M144.6 613.8h1.1M141.8 591.3h1.1M157.1 608.8h1.1M144.9 600.3h1.1M149.0 606.4h1.1M148.3 618.4h1.1M159.6 604.3h1.1M159.6 612.6h1.1M149.1 607.3h1.1M157.1 598.3h1.1M150.9 613.4h1.1M143.7 606.6h1.1M157.7 603.9h1.1M143.9 610.2h1.1M158.8 611.4h1.1M158.1 615.4h1.1M159.0 619.1h1.1M150.9 598.4h1.1M152.2 612.2h1.1M146.1 604.2h1.1M153.7 606.9h1.1M135.6 610.3h1.1M153.4 617.2h1.1M151.8 611.1h1.1M155.8 603.5h1.1M150.9 609.3h1.1M153.4 601.2h1.1M149.9 603.6h1.1M157.1 615.6h1.1M148.8 616.7h1.1M152.7 610.7h1.1M154.7 607.5h1.1M163.2 617.5h1.1M141.6 607.2h1.1M157.6 608.1h1.1M160.1 595.8h1.1M152.8 602.8h1.1M145.3 608.9h1.1M141.6 608.6h1.1M148.4 610.5h1.1M155.5 614.1h1.1M145.3 613.9h1.1M150.1 619.0h1.1M144.0 612.5h1.1M151.8 620.0h1.1M138.3 609.5h1.1M147.1 609.7h1.1M151.3 621.0h1.1M137.5 600.7h1.1M143.4 603.2h1.1M144.8 610.3h1.1M143.7 612.0h1.1M151.9 615.3h1.1M162.7 592.7h1.1M154.0 618.6h1.1M165.1 605.4h1.1M159.2 622.1h1.1M157.6 616.1h1.1M141.9 605.5h1.1M154.7 597.8h1.1M145.7 615.9h1.1M149.0 618.4h1.1M150.6 608.2h1.1M155.1 621.0h1.1M165.0 609.1h1.1M151.6 625.9h1.1M160.3 619.0h1.1M151.0 603.2h1.1M138.1 614.5h1.1M156.1 601.0h1.1M154.6 594.0h1.1M154.4 605.8h1.1M144.8 619.1h1.1M147.4 610.2h1.1M133.9 614.7h1.1M146.5 612.3h1.1M156.4 625.7h1.1M149.8 613.1h1.1M155.5 618.7h1.1M159.5 612.5h1.1M142.9 618.6h1.1M153.5 614.2h1.1M147.9 614.0h1.1M143.6 612.8h1.1M150.8 605.1h1.1M145.5 613.3h1.1M155.1 610.5h1.1M142.0 613.4h1.1M139.3 610.0h1.1M171.2 604.5h1.1M153.9 604.6h1.1M163.9 614.3h1.1M162.0 607.6h1.1M157.2 628.6h1.1M159.9 610.9h1.1M155.1 610.2h1.1M140.3 602.2h1.1M174.5 615.5h1.1M157.3 611.2h1.1M154.8 614.3h1.1M149.8 610.2h1.1M146.3 596.9h1.1M157.5 600.5h1.1M157.4 610.5h1.1M168.9 611.3h1.1M138.7 611.1h1.1M143.9 599.7h1.1M154.1 606.0h1.1M150.6 618.7h1.1M141.8 610.5h1.1M155.3 614.9h1.1M148.2 609.0h1.1M150.3 606.8h1.1M144.6 624.7h1.1M159.4 613.8h1.1M154.1 612.0h1.1M134.3 610.7h1.1M145.4 626.6h1.1M153.5 621.2h1.1M151.3 605.2h1.1M146.4 606.0h1.1M150.0 614.2h1.1M152.5 603.7h1.1M147.2 624.7h1.1M147.9 619.8h1.1M137.4 612.7h1.1M142.3 624.1h1.1M169.0 625.5h1.1M162.7 601.1h1.1M137.6 619.3h1.1M154.2 610.8h1.1M146.8 603.5h1.1M158.4 622.5h1.1M145.7 610.7h1.1M140.7 612.7h1.1M159.8 606.0h1.1M146.0 610.7h1.1M152.8 602.6h1.1M144.5 612.4h1.1M141.3 629.9h1.1M149.8 618.6h1.1M155.8 616.0h1.1M159.9 627.0h1.1M153.0 606.1h1.1M142.3 596.7h1.1M133.8 604.3h1.1M160.0 624.0h1.1M145.5 600.0h1.1M143.4 620.3h1.1M153.5 605.7h1.1M160.7 604.0h1.1M167.0 604.5h1.1M149.9 584.3h1.1M159.2 610.7h1.1M162.6 605.8h1.1M154.8 609.9h1.1M154.8 612.4h1.1M152.4 592.6h1.1M140.9 604.1h1.1M148.7 614.8h1.1M153.8 611.4h1.1M157.3 608.9h1.1M148.2 611.2h1.1M142.2 613.1h1.1M152.1 612.9h1.1M146.8 624.7h1.1M142.6 601.7h1.1M152.7 614.3h1.1M149.3 607.3h1.1M146.6 616.1h1.1M153.2 611.1h1.1M154.5 619.2h1.1M139.9 619.6h1.1M131.4 607.6h1.1M155.9 614.1h1.1M151.2 614.3h1.1M155.3 617.7h1.1M149.8 616.4h1.1M144.8 599.5h1.1M154.8 600.9h1.1M140.7 612.4h1.1M153.8 603.5h1.1M150.7 600.9h1.1M143.7 599.1h1.1M155.3 619.1h1.1M148.4 614.0h1.1M148.1 629.1h1.1M151.5 614.0h1.1M143.2 606.4h1.1M124.8 641.8h1.1M115.4 653.6h1.1M112.8 648.7h1.1M77.5 669.2h1.1M141.4 639.0h1.1M134.4 649.2h1.1M165.6 620.8h1.1M134.9 638.1h1.1M146.1 643.8h1.1M154.4 633.0h1.1M122.8 648.1h1.1M135.4 667.8h1.1M105.7 631.0h1.1M121.3 633.8h1.1M138.4 639.9h1.1M103.9 634.3h1.1M114.7 630.1h1.1M132.4 645.8h1.1M129.0 648.5h1.1M144.3 666.6h1.1M93.5 653.0h1.1M139.1 610.4h1.1M141.4 629.6h1.1M118.9 624.1h1.1M125.3 645.1h1.1M99.0 671.4h1.1M102.8 620.3h1.1M132.3 634.6h1.1M120.9 676.3h1.1M119.5 629.3h1.1M122.0 657.2h1.1M131.8 657.4h1.1M115.7 661.9h1.1M146.0 641.1h1.1M110.2 641.3h1.1M115.7 658.4h1.1M141.3 659.5h1.1M141.8 661.5h1.1M139.5 657.1h1.1M152.3 630.7h1.1M117.2 663.9h1.1M132.4 635.5h1.1M136.6 652.8h1.1M105.5 676.9h1.1M152.0 610.8h1.1M148.0 618.7h1.1M124.6 641.3h1.1M124.7 632.5h1.1M121.1 647.0h1.1M117.6 653.5h1.1M140.8 617.2h1.1M128.3 629.6h1.1M114.3 657.3h1.1M138.7 657.1h1.1M145.2 632.7h1.1M136.6 666.6h1.1M104.0 650.6h1.1M148.8 636.1h1.1M140.6 630.1h1.1M156.6 645.2h1.1M107.5 674.4h1.1M137.7 615.6h1.1M121.4 658.9h1.1M142.6 632.5h1.1M108.9 666.6h1.1M127.3 638.3h1.1M127.3 601.8h1.1M128.3 632.8h1.1M138.9 629.5h1.1M162.3 619.5h1.1M107.5 629.5h1.1M128.0 644.6h1.1M161.8 623.9h1.1M126.4 628.0h1.1M126.2 627.0h1.1M114.9 666.1h1.1M111.9 631.7h1.1M163.6 639.9h1.1M123.1 615.6h1.1M109.5 641.4h1.1M171.8 678.0h1.1M146.2 627.4h1.1M105.1 636.5h1.1M123.0 653.5h1.1M134.1 650.7h1.1M129.6 620.5h1.1M146.5 630.0h1.1M157.2 617.3h1.1M126.0 644.8h1.1M157.8 630.3h1.1M162.3 637.1h1.1M162.1 664.1h1.1M129.2 639.7h1.1M138.9 612.0h1.1M148.3 648.5h1.1M99.3 631.1h1.1M122.0 674.2h1.1M163.7 595.9h1.1M99.2 644.4h1.1M165.9 628.3h1.1M136.5 623.1h1.1M136.1 623.1h1.1M134.4 624.1h1.1M108.2 653.3h1.1M143.1 639.1h1.1M133.8 659.4h1.1M87.3 640.0h1.1M141.1 630.7h1.1M127.8 636.0h1.1M143.9 636.2h1.1M145.5 610.5h1.1M111.7 656.8h1.1M126.0 640.8h1.1M102.5 675.1h1.1M163.9 621.6h1.1M159.2 630.6h1.1M141.6 641.8h1.1M155.5 630.9h1.1M143.2 630.9h1.1M125.0 655.2h1.1M132.8 653.1h1.1M170.2 640.2h1.1M128.9 622.7h1.1M115.0 632.3h1.1M140.3 635.0h1.1M117.1 616.3h1.1M86.9 635.4h1.1M161.3 626.7h1.1M130.8 635.4h1.1M100.9 661.1h1.1M118.2 636.3h1.1M128.9 602.4h1.1M144.6 647.6h1.1M131.2 611.2h1.1M155.0 618.4h1.1M132.9 648.1h1.1M152.4 626.6h1.1M130.4 647.6h1.1M161.1 659.2h1.1M124.7 629.0h1.1M180.3 631.0h1.1M148.2 608.2h1.1M110.2 632.2h1.1M145.6 657.7h1.1M149.8 627.4h1.1M142.8 642.6h1.1M121.0 629.6h1.1M139.9 669.5h1.1M107.0 639.8h1.1M139.9 628.0h1.1M130.2 646.7h1.1M114.9 622.3h1.1M151.8 629.2h1.1M171.0 625.7h1.1M120.3 643.0h1.1M99.8 623.8h1.1M139.3 621.5h1.1M152.2 628.0h1.1M149.1 660.8h1.1M137.1 674.1h1.1M150.4 670.7h1.1M148.0 617.2h1.1M167.6 619.8h1.1M136.1 630.1h1.1M129.4 635.6h1.1M137.2 654.0h1.1M160.7 642.9h1.1M153.5 621.8h1.1M144.3 626.1h1.1M150.5 639.0h1.1M132.7 624.9h1.1M133.0 676.8h1.1M115.4 643.6h1.1M137.2 629.6h1.1M155.9 649.9h1.1M110.5 662.7h1.1M130.2 614.5h1.1M162.1 646.8h1.1M140.4 644.8h1.1M140.1 655.5h1.1M126.6 647.0h1.1M116.5 640.6h1.1M153.2 622.6h1.1M133.1 608.1h1.1M106.1 645.8h1.1M178.0 626.4h1.1M166.8 602.7h1.1M148.6 635.4h1.1M136.8 650.4h1.1M139.5 645.7h1.1M95.1 652.5h1.1M136.0 673.7h1.1M139.4 615.7h1.1M137.2 625.8h1.1M107.0 644.7h1.1M184.6 598.4h1.1M146.3 655.7h1.1M128.2 622.5h1.1M192.9 635.2h1.1M139.2 618.2h1.1M135.2 641.8h1.1M129.4 632.9h1.1M127.3 639.5h1.1M95.3 677.1h1.1M156.4 625.6h1.1M141.4 632.5h1.1M112.5 671.4h1.1M135.5 617.7h1.1M110.5 648.8h1.1M87.8 628.9h1.1M122.3 638.3h1.1M149.3 652.1h1.1M104.2 634.1h1.1M140.2 649.1h1.1M168.2 630.3h1.1M137.7 638.3h1.1M113.9 672.3h1.1M147.0 627.6h1.1M134.3 648.8h1.1M147.5 639.5h1.1M126.1 615.6h1.1M108.9 628.0h1.1M174.5 658.9h1.1M120.6 649.3h1.1M131.8 627.7h1.1M164.8 618.0h1.1M193.6 636.1h1.1M135.1 623.8h1.1M153.8 617.7h1.1M119.6 648.6h1.1M145.1 614.1h1.1M140.2 653.2h1.1M139.5 654.2h1.1M149.8 616.4h1.1M103.5 642.4h1.1M161.3 628.2h1.1M132.2 633.9h1.1M147.4 618.9h1.1M182.6 604.8h1.1M119.6 675.0h1.1M138.9 635.8h1.1M144.2 656.4h1.1M142.9 665.0h1.1M131.8 661.2h1.1M120.3 672.3h1.1M116.5 650.7h1.1M139.2 619.9h1.1M143.5 632.1h1.1M165.3 631.8h1.1M136.9 633.9h1.1M134.6 669.1h1.1M118.0 628.2h1.1M102.4 628.8h1.1M115.9 646.8h1.1M148.1 647.0h1.1M200.8 556.9h1.1M192.4 573.4h1.1M197.7 569.2h1.1M190.4 574.1h1.1M194.9 567.6h1.1M194.7 567.7h1.1M197.4 576.8h1.1M195.9 564.9h1.1M194.7 568.2h1.1M198.6 574.5h1.1M206.0 575.4h1.1M184.6 563.5h1.1M187.4 571.3h1.1M210.4 572.4h1.1M191.8 578.7h1.1M199.4 563.7h1.1M189.3 579.3h1.1M200.3 555.0h1.1M190.6 573.1h1.1M186.8 569.2h1.1M189.8 557.9h1.1M192.1 565.6h1.1M197.2 557.5h1.1M197.0 566.8h1.1M185.2 577.5h1.1M192.5 572.1h1.1M205.4 572.1h1.1M201.4 570.7h1.1M191.7 570.6h1.1M185.3 572.6h1.1M200.7 572.2h1.1M191.0 561.0h1.1M190.6 567.3h1.1M186.2 582.4h1.1M190.2 570.1h1.1M192.3 570.1h1.1M181.6 562.3h1.1M195.2 569.0h1.1M197.9 565.6h1.1M200.6 570.8h1.1M195.0 569.4h1.1M202.1 569.0h1.1M205.3 570.1h1.1M196.9 569.3h1.1M197.2 572.4h1.1M191.3 574.7h1.1M211.8 572.9h1.1M196.1 563.8h1.1M190.4 563.7h1.1M197.0 564.6h1.1M205.6 566.4h1.1M189.6 563.1h1.1M194.7 568.3h1.1M201.3 564.3h1.1M197.5 575.8h1.1M193.5 557.4h1.1M196.8 576.2h1.1M197.8 569.3h1.1M182.9 580.3h1.1M194.1 561.2h1.1M193.2 570.3h1.1M195.6 563.1h1.1M210.8 577.7h1.1M201.7 573.6h1.1M192.7 561.3h1.1M187.1 576.6h1.1M195.8 580.4h1.1M180.7 578.3h1.1M198.3 565.5h1.1M201.0 564.7h1.1M193.5 572.8h1.1M196.3 571.2h1.1M196.7 576.3h1.1M189.8 555.6h1.1M189.4 552.8h1.1M207.8 564.8h1.1M195.0 571.5h1.1M190.3 565.9h1.1M196.9 569.3h1.1M200.5 567.6h1.1M191.0 559.3h1.1M184.4 571.0h1.1M197.3 566.5h1.1M203.1 550.9h1.1M199.4 561.1h1.1M193.1 567.7h1.1M190.4 567.3h1.1M197.1 585.6h1.1M195.3 574.1h1.1M200.6 562.8h1.1M198.4 566.5h1.1M201.0 565.3h1.1M202.2 563.1h1.1M192.2 575.0h1.1M201.8 575.2h1.1M208.1 576.2h1.1M195.2 575.6h1.1M189.9 574.8h1.1M197.8 568.2h1.1M190.6 576.5h1.1M182.3 568.1h1.1M186.2 566.9h1.1M192.4 563.6h1.1M191.3 571.2h1.1M208.0 581.1h1.1M194.0 566.4h1.1M199.2 563.5h1.1M185.7 575.9h1.1M192.6 579.7h1.1M197.4 559.3h1.1M197.2 572.6h1.1M195.7 559.9h1.1M185.5 582.0h1.1M177.2 562.7h1.1M200.5 581.5h1.1M199.4 569.1h1.1M197.7 577.1h1.1M191.8 578.0h1.1M196.9 570.7h1.1M198.1 571.4h1.1M189.3 579.9h1.1M192.1 567.4h1.1M180.1 558.0h1.1M198.9 568.6h1.1M194.6 566.7h1.1M199.3 564.8h1.1M185.7 558.1h1.1M190.1 571.4h1.1M204.6 573.1h1.1M190.9 560.2h1.1M200.6 572.7h1.1M194.9 573.5h1.1M199.1 572.7h1.1M203.8 558.7h1.1M191.1 565.6h1.1M188.9 582.8h1.1M197.6 572.1h1.1M200.4 567.6h1.1M200.7 567.9h1.1M200.1 573.1h1.1M203.7 558.8h1.1M189.3 564.0h1.1M189.9 571.9h1.1M201.5 566.9h1.1M202.2 575.4h1.1M191.5 573.8h1.1M204.5 566.0h1.1M181.1 573.1h1.1M197.1 573.5h1.1M198.6 568.9h1.1M195.2 563.8h1.1M207.9 579.9h1.1M194.4 563.4h1.1M198.1 580.3h1.1M195.6 563.6h1.1M201.4 571.0h1.1M190.2 567.8h1.1M196.4 561.7h1.1M197.2 578.1h1.1M202.1 577.9h1.1M200.2 568.7h1.1M199.3 577.7h1.1M195.6 572.9h1.1M191.3 569.4h1.1M192.2 562.0h1.1M197.9 584.6h1.1M184.5 566.0h1.1M196.6 564.3h1.1M196.4 575.2h1.1M184.9 568.7h1.1M199.2 573.3h1.1M207.1 570.8h1.1M203.4 565.5h1.1M189.6 565.7h1.1M192.6 575.5h1.1M200.2 569.5h1.1M189.6 570.4h1.1M192.7 566.8h1.1M184.3 580.2h1.1M199.1 589.8h1.1M212.6 569.8h1.1M209.7 566.6h1.1M213.3 569.1h1.1M183.6 569.4h1.1M200.6 581.2h1.1M201.7 581.6h1.1M196.6 558.9h1.1M196.4 563.4h1.1M200.8 554.8h1.1M189.1 561.4h1.1M196.1 576.6h1.1M193.5 560.4h1.1M192.2 568.4h1.1M202.9 570.3h1.1M204.3 549.8h1.1M206.9 584.7h1.1M192.1 588.2h1.1M185.5 575.9h1.1M187.1 565.2h1.1M198.7 571.0h1.1M197.3 568.2h1.1M183.5 558.2h1.1M190.0 562.5h1.1M192.4 557.6h1.1M194.7 572.8h1.1M192.2 578.7h1.1M196.8 575.9h1.1M189.7 570.9h1.1M186.3 556.3h1.1M184.1 566.6h1.1M197.0 584.2h1.1M197.5 566.9h1.1M202.2 570.2h1.1M195.5 570.4h1.1M201.8 580.6h1.1M186.3 570.1h1.1M192.4 569.6h1.1M210.8 567.9h1.1M179.5 575.5h1.1M192.4 563.0h1.1M209.8 583.4h1.1M202.1 571.2h1.1M190.8 579.6h1.1M193.9 571.1h1.1M194.3 570.6h1.1M182.6 560.9h1.1M187.1 554.2h1.1M187.9 566.0h1.1M194.2 568.8h1.1M192.6 576.7h1.1M182.0 565.7h1.1M193.9 563.4h1.1M204.4 568.6h1.1M202.6 573.2h1.1M193.7 576.3h1.1M186.0 560.9h1.1M192.9 552.7h1.1M192.7 568.0h1.1M184.1 562.2h1.1M186.9 586.0h1.1M203.6 573.6h1.1M196.8 578.7h1.1M196.1 578.1h1.1M201.2 584.2h1.1M202.3 565.5h1.1M199.4 577.3h1.1M199.8 584.8h1.1M197.3 566.5h1.1M201.2 577.4h1.1M195.4 573.1h1.1M196.3 571.2h1.1M197.8 566.6h1.1M200.2 572.0h1.1M206.7 571.5h1.1M196.2 560.9h1.1M210.1 567.8h1.1M192.2 567.5h1.1M195.5 568.7h1.1M206.5 566.1h1.1M194.0 566.3h1.1M199.4 558.0h1.1M201.9 566.8h1.1M186.2 579.7h1.1M186.9 574.3h1.1M195.6 564.7h1.1M184.7 564.4h1.1M200.4 568.9h1.1M191.7 576.1h1.1M195.7 569.9h1.1M189.8 559.7h1.1M192.4 571.4h1.1M192.8 571.5h1.1M193.8 567.7h1.1M195.2 571.8h1.1M180.9 569.3h1.1M194.2 566.2h1.1M201.8 577.4h1.1M202.9 574.4h1.1M198.4 570.2h1.1M200.4 564.7h1.1M194.6 571.5h1.1M194.5 560.7h1.1M194.8 566.4h1.1M191.3 573.6h1.1M202.4 569.9h1.1M188.0 568.1h1.1M194.2 562.0h1.1M191.5 570.3h1.1M191.6 572.4h1.1M186.9 573.8h1.1M190.9 570.1h1.1M195.5 565.7h1.1M202.2 556.9h1.1M196.7 573.7h1.1M193.8 568.8h1.1M188.0 568.9h1.1M196.5 565.1h1.1M195.5 566.7h1.1M188.7 568.7h1.1M190.3 575.3h1.1M190.3 578.9h1.1M195.3 569.0h1.1M190.6 572.2h1.1M188.7 558.5h1.1M198.2 554.8h1.1M202.8 565.5h1.1M205.6 570.8h1.1M206.1 559.1h1.1M192.5 571.0h1.1M191.7 569.6h1.1M194.3 573.7h1.1M204.7 554.3h1.1M199.5 561.2h1.1M206.0 559.0h1.1M189.9 572.7h1.1M194.3 573.9h1.1M197.8 563.9h1.1M184.7 577.1h1.1M194.0 568.4h1.1M193.4 567.3h1.1M190.6 569.5h1.1M197.0 560.6h1.1M185.0 573.0h1.1M201.1 565.4h1.1M194.3 565.7h1.1M198.0 568.6h1.1M191.7 563.9h1.1M198.3 571.6h1.1M192.5 571.9h1.1M175.1 566.1h1.1M196.5 555.2h1.1M191.5 570.8h1.1M203.6 571.8h1.1M187.3 575.2h1.1M193.5 574.8h1.1M186.2 557.9h1.1M184.9 573.2h1.1M203.2 570.8h1.1M196.5 568.4h1.1M196.7 562.1h1.1M203.5 574.6h1.1M201.7 568.6h1.1M200.9 575.8h1.1M211.9 576.5h1.1M190.5 563.7h1.1M201.1 572.5h1.1M199.0 569.5h1.1M190.1 570.1h1.1M185.8 571.1h1.1M210.4 574.1h1.1M189.8 563.2h1.1M211.2 573.6h1.1M192.0 573.1h1.1M193.2 561.9h1.1M196.3 572.6h1.1M203.9 560.5h1.1M205.1 567.5h1.1M182.3 575.9h1.1M202.0 572.8h1.1M200.9 563.0h1.1M198.8 557.9h1.1M191.1 586.4h1.1M206.4 571.8h1.1M198.7 569.8h1.1M199.6 570.5h1.1M189.3 566.7h1.1M182.8 563.2h1.1M194.3 571.7h1.1M210.2 558.0h1.1M209.4 566.2h1.1M192.6 568.6h1.1M209.9 561.7h1.1M192.9 572.9h1.1M201.7 571.8h1.1M196.2 575.9h1.1M189.0 579.9h1.1M192.2 571.8h1.1M189.3 565.0h1.1M202.0 573.1h1.1M194.2 574.7h1.1M216.8 552.4h1.1M181.8 570.4h1.1M184.1 576.1h1.1M190.0 569.1h1.1M189.9 583.3h1.1M205.6 557.6h1.1M199.8 567.1h1.1M205.2 571.5h1.1M190.5 566.2h1.1M195.8 580.8h1.1M196.1 565.6h1.1M192.8 575.0h1.1M193.4 581.2h1.1M201.3 570.2h1.1M196.2 566.9h1.1M179.7 577.2h1.1M205.5 567.8h1.1M197.3 559.9h1.1M194.1 570.4h1.1M194.9 569.6h1.1M202.1 574.1h1.1M200.7 565.2h1.1M192.1 569.2h1.1M184.8 559.4h1.1M197.7 569.3h1.1M196.0 577.3h1.1M181.2 572.0h1.1M193.9 560.3h1.1M199.9 578.8h1.1M185.6 569.5h1.1M201.9 569.5h1.1M192.5 575.9h1.1M184.1 568.9h1.1M191.1 568.7h1.1M187.1 570.4h1.1M203.7 572.3h1.1M186.9 565.7h1.1M190.4 559.1h1.1M200.4 572.6h1.1M194.3 579.3h1.1M200.3 565.2h1.1M195.7 568.3h1.1M195.4 578.2h1.1M203.9 562.6h1.1M208.5 558.3h1.1M193.7 585.9h1.1M200.0 577.3h1.1M196.4 572.7h1.1M191.1 579.3h1.1M194.1 565.6h1.1M185.6 584.2h1.1M185.6 562.3h1.1M198.7 569.5h1.1M207.0 573.6h1.1M197.7 563.9h1.1M199.1 559.5h1.1M190.5 578.7h1.1M197.3 561.4h1.1M191.3 568.4h1.1M197.6 570.6h1.1M200.9 549.0h1.1M200.3 556.5h1.1M192.5 570.2h1.1M202.5 565.0h1.1M186.6 563.7h1.1M197.2 585.7h1.1M187.3 565.8h1.1M190.8 577.0h1.1M199.3 568.2h1.1M197.5 580.1h1.1M193.6 561.6h1.1M195.7 560.9h1.1M197.0 575.3h1.1M193.1 575.7h1.1M203.6 582.0h1.1M193.2 573.3h1.1M200.9 574.9h1.1M201.9 572.7h1.1M200.2 575.7h1.1M198.8 573.3h1.1M197.4 568.9h1.1M183.5 568.9h1.1M195.8 565.6h1.1M192.6 578.0h1.1M193.8 553.9h1.1M192.1 568.6h1.1M203.8 571.5h1.1M199.0 565.7h1.1M191.8 558.5h1.1M199.8 569.6h1.1M190.8 569.8h1.1M202.9 575.8h1.1M200.9 577.3h1.1M197.2 569.4h1.1M195.6 572.7h1.1M184.3 571.4h1.1M195.8 563.4h1.1M191.9 577.3h1.1M193.0 568.8h1.1M205.4 562.8h1.1M195.3 566.6h1.1M192.1 568.2h1.1M199.2 567.6h1.1M201.8 574.5h1.1M188.5 569.8h1.1M194.4 560.6h1.1M183.8 576.3h1.1M197.5 577.8h1.1M205.9 574.7h1.1M198.0 578.1h1.1M194.7 566.7h1.1M202.0 573.9h1.1M192.2 566.6h1.1M187.2 583.7h1.1M193.1 566.1h1.1M191.6 565.9h1.1M196.4 569.7h1.1M200.8 552.4h1.1M196.5 580.8h1.1M195.9 565.4h1.1M208.7 565.9h1.1M200.1 571.0h1.1M194.6 562.6h1.1M196.6 570.8h1.1M207.5 559.1h1.1M185.4 573.2h1.1M185.7 550.1h1.1M193.4 577.2h1.1M183.5 559.2h1.1M205.3 563.4h1.1M189.7 568.3h1.1M206.1 568.1h1.1M200.7 568.3h1.1M188.5 571.2h1.1M183.6 576.4h1.1M184.9 570.3h1.1M181.4 568.7h1.1M198.2 564.3h1.1M208.3 569.4h1.1M198.4 559.4h1.1M192.2 570.9h1.1M200.4 573.4h1.1M186.3 559.3h1.1M188.1 577.0h1.1M184.0 561.0h1.1M196.3 569.0h1.1M195.1 563.7h1.1M197.7 568.6h1.1M194.2 570.9h1.1M194.0 568.1h1.1M202.9 574.1h1.1M196.0 570.3h1.1M204.4 560.3h1.1M182.8 569.5h1.1M184.2 562.1h1.1M196.9 570.7h1.1M193.2 564.2h1.1M185.9 564.5h1.1M190.1 569.1h1.1M201.6 567.3h1.1M188.0 572.2h1.1M203.4 571.4h1.1M192.5 566.7h1.1M193.4 562.2h1.1M201.5 567.2h1.1M208.1 577.5h1.1M192.3 586.8h1.1M192.3 564.0h1.1M183.8 569.4h1.1M198.0 566.8h1.1M194.7 572.5h1.1M190.3 569.0h1.1M193.7 579.6h1.1M199.8 568.6h1.1M188.7 568.3h1.1M190.2 566.9h1.1M197.7 574.8h1.1M202.1 565.4h1.1M196.7 569.1h1.1M201.0 584.2h1.1M202.1 575.4h1.1M197.1 572.9h1.1M182.5 571.6h1.1M194.5 569.1h1.1M200.2 590.6h1.1M197.2 561.2h1.1M193.0 575.0h1.1M200.1 570.6h1.1M199.0 564.0h1.1M205.3 555.4h1.1M193.2 564.2h1.1M192.5 570.9h1.1M196.2 575.9h1.1M207.9 572.8h1.1M189.4 569.5h1.1M190.5 564.1h1.1M192.8 575.8h1.1M190.3 571.6h1.1M190.6 575.3h1.1M203.0 559.7h1.1M200.3 563.6h1.1M197.7 568.8h1.1M201.0 560.9h1.1M207.9 571.7h1.1M191.3 577.9h1.1M204.3 573.0h1.1M192.2 564.0h1.1M189.7 580.3h1.1M195.9 569.3h1.1M193.1 577.7h1.1M193.2 575.2h1.1M183.9 564.1h1.1M197.7 563.0h1.1M208.0 555.6h1.1M198.0 573.0h1.1M198.4 569.0h1.1M194.8 593.3h1.1M197.3 565.3h1.1M177.9 582.0h1.1M195.4 581.6h1.1M195.4 576.9h1.1M204.3 565.6h1.1M180.5 577.4h1.1M208.0 559.3h1.1M192.2 568.9h1.1M193.8 573.5h1.1M194.8 573.4h1.1M190.2 558.8h1.1M207.3 571.2h1.1M198.1 561.6h1.1M198.5 569.1h1.1M198.7 570.3h1.1M202.3 578.9h1.1M193.2 566.9h1.1M200.2 559.7h1.1M190.9 567.0h1.1M181.9 582.4h1.1M193.8 568.0h1.1M187.8 573.1h1.1M192.6 561.4h1.1M197.7 579.8h1.1M185.8 569.3h1.1M209.6 568.1h1.1M190.9 580.3h1.1M197.0 575.7h1.1M206.2 573.8h1.1M197.6 582.5h1.1M185.8 561.8h1.1M194.1 565.3h1.1M194.4 556.8h1.1M185.0 574.3h1.1M194.2 572.3h1.1M193.0 569.4h1.1M185.7 581.4h1.1M202.3 560.4h1.1M192.6 571.9h1.1M192.8 569.1h1.1M196.9 557.0h1.1M200.4 572.7h1.1M189.2 568.2h1.1M194.9 567.7h1.1M195.8 559.2h1.1M195.9 572.3h1.1M198.0 572.5h1.1M191.8 570.4h1.1M201.8 570.0h1.1M196.9 569.9h1.1M199.0 560.8h1.1M195.1 575.2h1.1M189.7 573.3h1.1M192.5 566.6h1.1M188.2 563.4h1.1M203.1 559.6h1.1M196.4 560.3h1.1M208.6 574.3h1.1M190.3 561.8h1.1M193.7 571.8h1.1M206.3 579.4h1.1M189.1 571.1h1.1M201.5 564.7h1.1M192.4 575.8h1.1M186.5 569.8h1.1M195.0 567.5h1.1M195.6 558.5h1.1M200.8 566.4h1.1M208.2 582.9h1.1M192.5 582.6h1.1M204.7 564.0h1.1M193.8 577.7h1.1M190.8 567.1h1.1M179.2 559.9h1.1M187.9 564.7h1.1M190.8 571.3h1.1M197.1 567.0h1.1M186.6 571.1h1.1M199.5 569.2h1.1M204.4 566.4h1.1M201.0 571.3h1.1M204.1 580.5h1.1M188.0 557.2h1.1M202.2 571.7h1.1M197.7 566.5h1.1M190.6 577.7h1.1M198.6 565.9h1.1M195.8 571.5h1.1M187.0 565.2h1.1M198.8 570.5h1.1M186.6 571.6h1.1M208.4 573.7h1.1M187.0 566.4h1.1M191.5 564.2h1.1M190.1 565.6h1.1M194.9 561.1h1.1M201.5 571.7h1.1M208.1 575.2h1.1M201.7 573.0h1.1M194.8 562.3h1.1M199.8 570.2h1.1M191.3 572.3h1.1M197.6 565.2h1.1M204.9 566.3h1.1M196.3 576.8h1.1M192.1 567.4h1.1M198.5 567.3h1.1M192.3 561.9h1.1M197.0 567.0h1.1M200.9 576.4h1.1M195.4 574.8h1.1M191.0 580.4h1.1M191.9 568.7h1.1M193.1 566.2h1.1M200.7 569.5h1.1M189.8 574.8h1.1M195.8 573.5h1.1M196.9 566.5h1.1M183.9 567.6h1.1M189.8 577.8h1.1M194.1 579.5h1.1M210.4 577.4h1.1M210.9 563.3h1.1M192.3 562.6h1.1M186.9 560.9h1.1M201.3 564.2h1.1M193.4 573.5h1.1M192.9 580.1h1.1M203.2 574.4h1.1M206.3 573.2h1.1M196.7 577.0h1.1M202.3 560.5h1.1M202.7 576.5h1.1M181.0 583.4h1.1M196.6 579.1h1.1M188.0 571.0h1.1M191.1 564.0h1.1M197.3 559.9h1.1M195.4 574.3h1.1M190.7 562.3h1.1M199.2 575.8h1.1M201.4 566.0h1.1M192.9 578.9h1.1M201.2 571.8h1.1M197.0 568.6h1.1M199.5 574.4h1.1M195.8 571.5h1.1M186.6 568.7h1.1M205.8 571.1h1.1M186.7 566.6h1.1M196.1 579.4h1.1M209.3 569.4h1.1M194.6 570.6h1.1M188.4 578.5h1.1M187.8 574.6h1.1M192.6 562.7h1.1M197.7 580.9h1.1M187.7 571.1h1.1M191.1 576.9h1.1M186.1 561.1h1.1M193.1 561.0h1.1M201.8 559.7h1.1M195.9 566.4h1.1M201.9 566.1h1.1M194.3 581.0h1.1M199.7 578.1h1.1M204.7 573.0h1.1M197.5 558.4h1.1M184.4 566.9h1.1M197.4 577.2h1.1M190.6 567.5h1.1M208.9 562.2h1.1M194.3 569.0h1.1M191.0 579.7h1.1M185.3 567.7h1.1M184.7 565.0h1.1M205.5 556.2h1.1M184.7 569.8h1.1M197.8 564.8h1.1M198.4 568.4h1.1M193.0 570.3h1.1M203.4 561.8h1.1M201.0 571.6h1.1M194.2 564.8h1.1M197.7 575.1h1.1M189.5 574.7h1.1M195.7 575.3h1.1M197.3 568.4h1.1M196.9 574.0h1.1M186.2 569.8h1.1M179.9 571.1h1.1M192.4 569.9h1.1M201.9 575.9h1.1M204.7 576.0h1.1M194.1 564.4h1.1M212.1 565.2h1.1M193.2 572.6h1.1M190.2 570.7h1.1M196.9 566.1h1.1M188.9 569.9h1.1M198.3 563.1h1.1M196.4 570.4h1.1M189.8 572.5h1.1M186.7 575.8h1.1M190.9 576.6h1.1M196.2 570.1h1.1M186.9 574.8h1.1M188.4 584.6h1.1M198.3 571.0h1.1M195.7 574.3h1.1M198.5 572.4h1.1M201.1 568.7h1.1M205.9 559.5h1.1M184.9 573.6h1.1M195.4 559.5h1.1M187.8 564.9h1.1M203.7 574.1h1.1M184.8 560.7h1.1M196.4 561.4h1.1M191.6 565.8h1.1M195.8 573.6h1.1M191.0 566.2h1.1M197.3 580.6h1.1M198.2 567.3h1.1M201.5 568.8h1.1M186.7 574.1h1.1M206.1 562.2h1.1M200.5 561.5h1.1M195.0 568.9h1.1M193.3 568.9h1.1M199.9 566.3h1.1M194.1 567.6h1.1M197.3 565.3h1.1M200.6 571.7h1.1M191.7 561.1h1.1M193.8 576.5h1.1M199.6 569.8h1.1M208.6 580.1h1.1M198.9 579.0h1.1M193.9 567.2h1.1M197.0 557.0h1.1M195.7 566.3h1.1M204.2 573.5h1.1M205.6 566.6h1.1M205.1 570.7h1.1M198.9 572.4h1.1M187.4 575.8h1.1M192.6 574.0h1.1M195.2 563.1h1.1M193.5 571.6h1.1M193.6 581.1h1.1M203.3 570.3h1.1M193.2 579.4h1.1M195.8 577.5h1.1M186.8 556.2h1.1M200.5 575.8h1.1M194.5 568.5h1.1M198.5 573.2h1.1M195.1 569.8h1.1M197.1 576.9h1.1M200.1 552.2h1.1M197.8 567.6h1.1M202.5 574.5h1.1M192.2 569.1h1.1M180.5 568.8h1.1M188.5 570.5h1.1M190.9 578.0h1.1M203.9 567.2h1.1M189.8 578.4h1.1M186.9 567.3h1.1M193.1 571.3h1.1M195.9 563.5h1.1M201.2 572.2h1.1M197.7 580.3h1.1M207.7 571.4h1.1M192.9 567.8h1.1M194.8 562.4h1.1M191.0 566.2h1.1M198.9 574.6h1.1M179.7 558.8h1.1M191.6 562.4h1.1M195.4 557.8h1.1M194.0 571.0h1.1M198.1 566.7h1.1M198.3 574.7h1.1M193.3 562.5h1.1M192.2 571.6h1.1M197.3 558.2h1.1M185.9 558.8h1.1M207.2 572.5h1.1M196.7 561.6h1.1M181.9 583.3h1.1M199.5 553.0h1.1M205.9 572.2h1.1M195.2 571.4h1.1M201.3 556.2h1.1M197.4 561.0h1.1M192.9 568.2h1.1M192.8 564.6h1.1M196.6 566.9h1.1M197.3 574.7h1.1M190.0 568.3h1.1M190.0 575.1h1.1M204.0 582.0h1.1M207.6 572.4h1.1M185.1 563.1h1.1M209.3 572.5h1.1M204.8 565.0h1.1M193.6 591.5h1.1M206.8 554.4h1.1M188.5 572.6h1.1M207.5 581.4h1.1M205.4 584.1h1.1M203.7 580.2h1.1M186.5 558.3h1.1M190.5 584.6h1.1M210.8 559.7h1.1M193.0 572.0h1.1M202.4 574.7h1.1M212.3 573.9h1.1M193.7 568.5h1.1M207.9 568.5h1.1M201.8 566.8h1.1M183.3 548.5h1.1M192.9 562.7h1.1M204.9 567.2h1.1M185.9 578.9h1.1M191.4 593.2h1.1M191.1 571.9h1.1M187.6 587.3h1.1M199.2 568.7h1.1M195.0 549.1h1.1M209.8 571.2h1.1M208.7 562.3h1.1M211.8 564.2h1.1M196.4 592.5h1.1M190.6 571.4h1.1M194.3 572.3h1.1M197.7 569.5h1.1M200.8 566.5h1.1M210.6 578.4h1.1M183.6 565.5h1.1M192.5 581.2h1.1M174.9 582.9h1.1M174.6 564.5h1.1M186.7 567.5h1.1M204.6 580.9h1.1M194.9 569.0h1.1M185.4 583.5h1.1M190.7 599.8h1.1M178.9 564.1h1.1M203.5 590.5h1.1M192.6 575.8h1.1M189.3 573.4h1.1M172.9 578.0h1.1M190.2 575.7h1.1M194.6 560.9h1.1M179.1 560.7h1.1M195.5 578.8h1.1M208.3 581.4h1.1M218.5 581.7h1.1M215.7 579.6h1.1M199.5 552.9h1.1M206.6 569.7h1.1M191.8 557.0h1.1M209.8 571.1h1.1M191.3 562.8h1.1M195.1 575.8h1.1M202.6 572.3h1.1M198.4 571.8h1.1M191.4 583.3h1.1M194.5 565.0h1.1M214.8 561.2h1.1M191.1 572.4h1.1M194.1 570.2h1.1M206.5 581.8h1.1M181.4 591.0h1.1M183.1 560.2h1.1M203.5 560.5h1.1M182.9 579.9h1.1M201.5 575.2h1.1M211.4 582.1h1.1M191.0 566.2h1.1M200.6 566.7h1.1M198.9 580.4h1.1M198.9 556.2h1.1M214.0 570.5h1.1M199.8 553.8h1.1M195.6 557.6h1.1M213.3 566.1h1.1M180.9 569.8h1.1M185.9 571.8h1.1M185.7 553.0h1.1M193.9 568.0h1.1M187.3 578.3h1.1M205.2 570.1h1.1M195.1 575.0h1.1M206.1 573.0h1.1M183.7 577.9h1.1M222.0 577.9h1.1M199.5 565.2h1.1M179.3 576.5h1.1M202.3 575.9h1.1M197.7 584.7h1.1M194.8 551.3h1.1M194.5 573.0h1.1M204.5 577.1h1.1M203.6 576.0h1.1M199.3 558.8h1.1M192.5 581.8h1.1M213.9 543.1h1.1M194.4 566.5h1.1M205.4 550.4h1.1M189.8 573.1h1.1M187.2 552.9h1.1M216.3 568.5h1.1M196.7 577.6h1.1M216.8 563.7h1.1M194.3 567.6h1.1M206.4 581.0h1.1M213.3 566.5h1.1M182.7 564.4h1.1M175.1 574.8h1.1M173.5 575.6h1.1M184.5 575.6h1.1M212.2 569.9h1.1M194.5 571.5h1.1M189.1 574.8h1.1M193.2 572.8h1.1M187.0 576.7h1.1M199.6 562.0h1.1M195.2 556.4h1.1M180.4 559.4h1.1M200.3 566.9h1.1M195.4 574.0h1.1M192.8 569.2h1.1M189.7 594.0h1.1M186.9 577.5h1.1M193.2 590.2h1.1M183.4 570.1h1.1M200.2 566.0h1.1M219.2 573.8h1.1M200.3 553.4h1.1M200.5 558.4h1.1M202.0 575.0h1.1M194.5 565.2h1.1M187.0 564.4h1.1M212.8 562.6h1.1M192.5 575.4h1.1M181.0 566.7h1.1M208.3 573.7h1.1M202.0 578.7h1.1M195.5 546.2h1.1M204.2 577.1h1.1M169.9 568.9h1.1M211.4 558.9h1.1M206.2 586.4h1.1M194.6 568.2h1.1M184.8 577.8h1.1M198.5 576.9h1.1M195.2 571.5h1.1M189.3 582.4h1.1M194.3 584.2h1.1M205.6 563.3h1.1M183.6 582.0h1.1M200.2 567.3h1.1M207.3 549.8h1.1M202.1 567.4h1.1M203.9 565.0h1.1M190.6 578.3h1.1M199.9 555.9h1.1M201.6 578.5h1.1M177.8 561.0h1.1M183.4 560.7h1.1M188.3 591.1h1.1M184.8 561.1h1.1M193.0 585.0h1.1M191.4 581.1h1.1M207.1 566.7h1.1M200.2 581.5h1.1M198.3 588.1h1.1M200.1 587.8h1.1M184.9 573.6h1.1M169.6 556.1h1.1M189.7 566.8h1.1M193.4 576.5h1.1M179.9 553.0h1.1M204.1 574.3h1.1M206.2 579.9h1.1M199.3 565.6h1.1M201.3 561.2h1.1M181.5 567.6h1.1M220.2 560.9h1.1M210.4 569.2h1.1M214.6 565.8h1.1M182.9 564.2h1.1M193.6 577.0h1.1M187.9 573.2h1.1M221.5 571.3h1.1M203.0 598.7h1.1M187.5 570.9h1.1M192.1 573.9h1.1M187.0 567.9h1.1M203.8 571.1h1.1M174.7 583.1h1.1M199.8 591.3h1.1M186.6 574.8h1.1M185.8 579.3h1.1M189.5 584.6h1.1M196.9 548.1h1.1M183.3 578.1h1.1M203.9 581.7h1.1M201.2 566.2h1.1M197.1 571.6h1.1M195.9 581.7h1.1M185.5 567.8h1.1M210.1 569.6h1.1M201.8 565.4h1.1M196.4 584.7h1.1M213.2 571.5h1.1M188.8 586.8h1.1M175.0 569.1h1.1M203.6 595.9h1.1M207.2 569.6h1.1M195.0 570.5h1.1M185.3 566.7h1.1M199.2 553.2h1.1M186.9 539.7h1.1M206.0 572.2h1.1M177.6 555.3h1.1M188.0 588.3h1.1M201.0 559.3h1.1M190.1 553.7h1.1M185.2 552.8h1.1M215.4 578.4h1.1M209.9 575.8h1.1M187.5 581.4h1.1M200.9 563.4h1.1M177.6 570.6h1.1M182.3 567.9h1.1M173.3 551.6h1.1M206.2 576.7h1.1M197.2 568.2h1.1M197.8 560.8h1.1M204.2 587.7h1.1M189.0 554.6h1.1M195.8 552.7h1.1M217.4 569.9h1.1M200.3 572.9h1.1M190.1 563.0h1.1M183.8 592.0h1.1M196.5 582.4h1.1M212.2 567.8h1.1M190.0 566.7h1.1M199.7 560.4h1.1M206.2 568.3h1.1M187.2 578.4h1.1M211.4 561.4h1.1M193.6 569.1h1.1M201.5 579.3h1.1M194.3 561.0h1.1M189.0 580.2h1.1M216.0 572.9h1.1M186.6 597.8h1.1M208.3 563.1h1.1M181.7 561.1h1.1M184.7 562.6h1.1M191.6 557.1h1.1M202.1 559.2h1.1M193.0 577.1h1.1M192.9 581.4h1.1M189.9 583.4h1.1M188.3 564.6h1.1M179.5 574.4h1.1M203.2 571.0h1.1M211.5 577.7h1.1M199.5 553.2h1.1M193.7 574.7h1.1M182.4 586.5h1.1M199.3 586.9h1.1M181.9 590.1h1.1M210.9 572.3h1.1M191.8 588.2h1.1M184.8 568.5h1.1M208.1 570.0h1.1M186.6 558.5h1.1M190.2 584.4h1.1M182.1 577.5h1.1M193.7 566.3h1.1M194.0 585.2h1.1M204.2 562.7h1.1M201.3 557.7h1.1M208.1 548.9h1.1M190.8 580.6h1.1M214.7 576.4h1.1M173.7 568.7h1.1M206.0 577.7h1.1M200.0 564.7h1.1M174.2 565.7h1.1M197.4 563.6h1.1M186.1 575.0h1.1M191.9 572.8h1.1M207.6 563.1h1.1M206.7 558.6h1.1M205.4 575.2h1.1M201.2 578.7h1.1M198.1 552.1h1.1M214.4 573.2h1.1M198.0 571.4h1.1M200.0 568.4h1.1M180.7 558.1h1.1M215.4 577.5h1.1M183.7 588.2h1.1M198.9 558.8h1.1M187.0 563.7h1.1M208.4 579.0h1.1M192.9 568.2h1.1M187.8 572.0h1.1M184.1 580.4h1.1M194.6 581.1h1.1M213.2 574.1h1.1M185.3 573.5h1.1M185.9 582.5h1.1M192.0 568.9h1.1M172.2 578.2h1.1M190.1 584.9h1.1M201.4 570.2h1.1M205.4 567.9h1.1M186.6 570.3h1.1M193.1 582.6h1.1M188.0 559.2h1.1M210.8 580.5h1.1M191.7 572.2h1.1M177.7 588.9h1.1M189.7 547.4h1.1M194.3 576.4h1.1M203.1 573.5h1.1M198.5 569.0h1.1M194.8 568.3h1.1M223.5 571.6h1.1M197.4 548.4h1.1M195.3 577.0h1.1M203.6 554.0h1.1M195.0 588.1h1.1M193.6 568.7h1.1M202.4 569.9h1.1M189.8 563.8h1.1M176.5 572.8h1.1M202.1 577.4h1.1M187.3 575.4h1.1M184.1 553.1h1.1M202.9 557.0h1.1M180.2 567.3h1.1M192.1 587.7h1.1M207.3 593.6h1.1M197.8 553.0h1.1M181.4 573.8h1.1M180.5 575.6h1.1M207.4 577.3h1.1M176.9 583.0h1.1M215.0 582.1h1.1M222.2 562.1h1.1M194.3 580.2h1.1M207.0 587.2h1.1M194.1 563.3h1.1M193.5 563.0h1.1M196.8 567.2h1.1M204.4 563.2h1.1M206.1 562.4h1.1M209.5 584.2h1.1M195.5 568.5h1.1M199.7 575.8h1.1M184.4 578.6h1.1M175.1 558.1h1.1M182.4 573.0h1.1M186.5 545.1h1.1M207.9 564.5h1.1M192.1 574.5h1.1M199.8 577.3h1.1M181.4 574.3h1.1M206.6 579.1h1.1M212.3 555.0h1.1M209.3 555.1h1.1M183.3 573.1h1.1M222.0 584.0h1.1M194.3 571.9h1.1M208.1 557.4h1.1M191.9 564.4h1.1M209.2 577.0h1.1M199.4 584.3h1.1M193.1 560.9h1.1M206.0 550.8h1.1M199.0 570.7h1.1M177.9 573.0h1.1M186.2 585.9h1.1M204.5 580.8h1.1M206.9 570.9h1.1M208.3 577.6h1.1M202.2 582.7h1.1M218.0 552.5h1.1M190.8 554.9h1.1M182.0 578.5h1.1M185.1 568.6h1.1M189.6 581.6h1.1M213.9 572.2h1.1M188.2 564.7h1.1M193.8 553.1h1.1M182.3 573.0h1.1M198.7 572.8h1.1M199.7 562.9h1.1M194.7 559.9h1.1M198.6 549.0h1.1M201.8 573.5h1.1M191.3 572.6h1.1M207.4 571.6h1.1M217.4 584.1h1.1M197.2 568.8h1.1M182.8 559.2h1.1M198.2 572.3h1.1M199.9 589.2h1.1M178.5 588.6h1.1M163.9 585.4h1.1M166.5 593.6h1.1M183.2 587.7h1.1M160.4 598.6h1.1M172.9 574.4h1.1M161.9 583.3h1.1M170.4 603.3h1.1M187.1 599.8h1.1M165.5 604.9h1.1M162.1 581.7h1.1M175.3 589.6h1.1M175.3 599.8h1.1M172.4 597.3h1.1M169.3 586.7h1.1M181.6 592.9h1.1M193.7 584.1h1.1M146.9 597.2h1.1M175.3 599.6h1.1M152.3 608.0h1.1M163.2 605.5h1.1M181.8 578.9h1.1M190.5 582.2h1.1M177.8 600.1h1.1M194.6 570.2h1.1M176.5 589.7h1.1M178.9 580.0h1.1M175.8 599.2h1.1M177.6 599.1h1.1M183.9 597.9h1.1M182.3 569.5h1.1M178.4 582.2h1.1M170.2 600.6h1.1M186.3 583.5h1.1M192.4 589.8h1.1M179.3 590.4h1.1M185.2 594.6h1.1M162.5 597.3h1.1M156.4 597.4h1.1M174.3 584.5h1.1M163.0 595.2h1.1M195.1 592.3h1.1M170.0 584.3h1.1M171.3 584.3h1.1M179.4 591.1h1.1M189.3 567.8h1.1M166.7 586.0h1.1M179.1 574.4h1.1M195.5 589.1h1.1M159.6 611.9h1.1M197.6 569.8h1.1M182.1 602.7h1.1M169.6 591.2h1.1M166.0 602.0h1.1M182.7 573.2h1.1M184.0 585.5h1.1M188.8 575.1h1.1M165.4 598.2h1.1M176.0 584.1h1.1M165.7 602.2h1.1M149.5 597.2h1.1M164.3 582.7h1.1M169.6 575.5h1.1M172.6 594.2h1.1M182.7 572.5h1.1M181.6 594.7h1.1M165.7 599.4h1.1M190.3 586.4h1.1M173.6 592.6h1.1M167.6 599.6h1.1M174.4 582.8h1.1M201.6 572.2h1.1M163.7 597.6h1.1M172.4 579.1h1.1M166.6 602.6h1.1M171.4 590.1h1.1M182.3 578.9h1.1M150.8 596.5h1.1M169.9 590.1h1.1M163.8 588.0h1.1M152.3 604.2h1.1M178.4 587.8h1.1M194.3 602.2h1.1M156.7 596.7h1.1M161.9 573.7h1.1M179.5 583.0h1.1M206.2 560.6h1.1M171.4 590.9h1.1M166.6 587.8h1.1M186.0 582.0h1.1M174.6 585.3h1.1M149.6 604.2h1.1M144.9 606.4h1.1M174.9 585.1h1.1M181.4 598.8h1.1M183.5 591.0h1.1M167.2 590.8h1.1M164.9 611.6h1.1M184.2 579.2h1.1M178.7 587.3h1.1M189.7 580.7h1.1M166.0 584.4h1.1M133.9 597.8h1.1M175.9 599.4h1.1M163.4 594.9h1.1M187.4 594.1h1.1M146.3 610.3h1.1M171.2 599.4h1.1M159.1 582.8h1.1M138.2 601.1h1.1M162.3 587.2h1.1M167.7 614.6h1.1M154.4 601.7h1.1M185.3 579.0h1.1M150.4 608.4h1.1M178.8 598.4h1.1M155.5 588.0h1.1M162.2 586.7h1.1M177.7 592.1h1.1M171.1 590.3h1.1M151.8 592.6h1.1M182.6 595.9h1.1M193.4 597.5h1.1M150.4 586.0h1.1M172.9 592.0h1.1M153.2 586.1h1.1M177.1 566.0h1.1M182.0 590.5h1.1M186.1 577.7h1.1M181.0 579.9h1.1M187.0 591.4h1.1M162.8 579.6h1.1M161.3 567.6h1.1M184.0 573.5h1.1M171.2 601.1h1.1M184.2 585.0h1.1M169.5 599.7h1.1M171.8 586.5h1.1M165.9 600.2h1.1M170.6 604.9h1.1M147.3 600.2h1.1M165.3 577.8h1.1M185.1 564.4h1.1M163.2 593.0h1.1M181.1 596.9h1.1M164.7 590.8h1.1M186.0 578.1h1.1M180.8 583.2h1.1M163.2 590.9h1.1M157.1 594.2h1.1M173.7 588.1h1.1M181.2 583.4h1.1M172.0 580.9h1.1M159.5 611.1h1.1M190.0 571.8h1.1M176.9 576.6h1.1M164.1 600.7h1.1M184.4 585.7h1.1M184.6 580.4h1.1M170.9 591.9h1.1M160.5 595.9h1.1M147.8 598.0h1.1M177.7 579.5h1.1M141.3 603.8h1.1M180.2 582.4h1.1M174.1 594.4h1.1M183.0 577.5h1.1M184.9 600.1h1.1M175.8 581.1h1.1M160.5 594.8h1.1M174.0 566.8h1.1M176.7 581.6h1.1M179.9 585.3h1.1M152.2 601.5h1.1M149.5 607.3h1.1M168.3 602.6h1.1M153.5 608.5h1.1M158.8 595.9h1.1M163.0 616.9h1.1M169.9 592.6h1.1M188.1 558.4h1.1M166.1 585.2h1.1M166.8 590.0h1.1M181.4 589.9h1.1M178.8 596.6h1.1M161.8 585.1h1.1M157.7 610.8h1.1M170.6 596.2h1.1M175.1 577.9h1.1M189.9 582.7h1.1M193.6 579.3h1.1M162.5 604.1h1.1M166.0 580.0h1.1M180.2 580.4h1.1M184.9 596.3h1.1M184.2 575.5h1.1M185.3 589.6h1.1M179.3 595.2h1.1M176.1 582.0h1.1M186.1 575.6h1.1M164.9 592.0h1.1M157.9 612.9h1.1M149.4 589.8h1.1M164.3 573.5h1.1M172.7 597.2h1.1M177.7 589.2h1.1M163.9 586.8h1.1M179.2 592.2h1.1M176.4 596.5h1.1M140.9 606.5h1.1M141.1 611.5h1.1M167.2 580.7h1.1M165.6 594.5h1.1M161.9 596.1h1.1M182.6 581.2h1.1M185.7 583.1h1.1M166.7 595.2h1.1M179.2 578.1h1.1M171.2 603.6h1.1M184.5 586.3h1.1M206.2 579.7h1.1M208.5 585.2h1.1M215.2 578.5h1.1M215.0 579.1h1.1M205.2 577.0h1.1M202.5 586.1h1.1M206.9 596.1h1.1M204.5 581.1h1.1M219.0 576.4h1.1M205.9 593.9h1.1M214.5 580.7h1.1M207.2 582.6h1.1M208.1 574.9h1.1M215.7 580.4h1.1M215.9 579.1h1.1M211.4 568.1h1.1M191.3 585.4h1.1M206.3 578.3h1.1M216.1 576.6h1.1M204.6 587.9h1.1M207.1 591.8h1.1M212.0 573.7h1.1M206.5 584.8h1.1M204.4 577.7h1.1M201.3 593.4h1.1M207.5 576.2h1.1M209.1 578.2h1.1M209.8 579.4h1.1M204.7 575.2h1.1M194.4 586.0h1.1M214.5 584.9h1.1M206.9 586.2h1.1M212.1 578.2h1.1M201.7 584.0h1.1M205.6 583.6h1.1M203.6 585.6h1.1M206.6 582.9h1.1M216.6 572.9h1.1M208.0 591.3h1.1M210.8 572.3h1.1M212.4 578.4h1.1M198.9 587.7h1.1M210.8 576.1h1.1M201.2 580.8h1.1M208.3 585.0h1.1M205.1 575.5h1.1M209.1 579.9h1.1M209.3 580.4h1.1M207.2 582.8h1.1M207.0 590.4h1.1M214.0 571.2h1.1M218.9 577.7h1.1M205.5 588.9h1.1M206.8 590.5h1.1M201.4 593.6h1.1M215.3 574.8h1.1M212.2 582.2h1.1M214.9 581.1h1.1M215.7 577.4h1.1M207.1 580.8h1.1M215.5 580.7h1.1M206.1 588.7h1.1M195.4 585.6h1.1M207.0 582.9h1.1M216.8 586.7h1.1M207.4 590.5h1.1M210.8 592.2h1.1M204.2 582.5h1.1M205.4 571.9h1.1M207.6 579.6h1.1M207.9 576.6h1.1M219.5 579.4h1.1M214.2 576.7h1.1M212.0 578.4h1.1M206.7 567.1h1.1M209.4 591.5h1.1M207.3 580.4h1.1M214.2 574.7h1.1M201.8 599.3h1.1M211.1 572.2h1.1M205.5 580.6h1.1M201.4 590.4h1.1M212.5 580.6h1.1M210.4 580.2h1.1M199.9 588.1h1.1M209.0 578.5h1.1M215.1 584.1h1.1M220.5 570.6h1.1M214.5 577.8h1.1M203.6 585.8h1.1M222.7 574.3h1.1M214.8 583.8h1.1M202.7 586.3h1.1M209.2 578.7h1.1M207.7 580.2h1.1M202.5 586.4h1.1M218.1 581.4h1.1M205.5 579.6h1.1M204.4 580.5h1.1M208.7 582.3h1.1M203.9 581.7h1.1M203.6 576.7h1.1M207.2 581.8h1.1M212.2 583.1h1.1M202.4 581.6h1.1M205.0 585.7h1.1M210.6 594.2h1.1M210.9 576.7h1.1M209.6 581.5h1.1M209.4 572.0h1.1M216.1 579.7h1.1M209.3 590.2h1.1M202.7 581.7h1.1M212.1 574.1h1.1M204.9 581.1h1.1M214.4 580.5h1.1M203.9 586.9h1.1M208.3 577.3h1.1M200.0 580.4h1.1M207.9 575.0h1.1" stroke="#000" stroke-width="1.1" fill="none" opacity="1"/>
<path d="M89.0 648.2Q89.7 641.0 94.9 636.0Q100.1 630.9 108.9 626.1Q117.6 621.4 125.5 617.2Q133.5 613.1 137.6 612.5Q141.7 611.9 143.9 613.8Q146.1 615.7 145.5 619.6Q144.9 623.6 141.5 629.9Q138.2 636.3 133.5 643.4Q128.7 650.6 123.1 657.7Q117.6 664.8 112.0 667.5Q106.5 670.2 100.9 668.3Q95.4 666.4 91.9 660.9Q88.4 655.3 89.0 648.2Z" fill="#000"/>
<text x="67.5" y="551.5" font-size="7" text-anchor="middle" class="b" transform="rotate(-90 67.5 551.5)">10<tspan font-size="0.72em" dy="-0.5em">5</tspan></text>
<text x="67.5" y="583.1999999999999" font-size="7" text-anchor="middle" class="b" transform="rotate(-90 67.5 583.1999999999999)">10<tspan font-size="0.72em" dy="-0.5em">4</tspan></text>
<text x="67.5" y="615.4" font-size="7" text-anchor="middle" class="b" transform="rotate(-90 67.5 615.4)">10<tspan font-size="0.72em" dy="-0.5em">3</tspan></text>
<text x="67.5" y="649.5" font-size="7" text-anchor="middle" class="b" transform="rotate(-90 67.5 649.5)">10<tspan font-size="0.72em" dy="-0.5em">2</tspan></text>
<text x="67.5" y="662" font-size="7" text-anchor="middle" class="b" transform="rotate(-90 67.5 662)">0</text>
<text x="67.5" y="676.5" font-size="6.5" text-anchor="middle" class="b" transform="rotate(-90 67.5 676.5)">-119</text>
<path d="M73.5 638.4h-4.2M73.5 632.4h-4.2M73.5 628.2h-4.2M73.5 624.9h-4.2M73.5 622.2h-4.2M73.5 619.9h-4.2M73.5 617.9h-4.2M73.5 616.2h-4.2M73.5 604.9h-4.2M73.5 599.2h-4.2M73.5 595.2h-4.2M73.5 592.1h-4.2M73.5 589.5h-4.2M73.5 587.4h-4.2M73.5 585.5h-4.2M73.5 583.9h-4.2M73.5 572.9h-4.2M73.5 567.3h-4.2M73.5 563.3h-4.2M73.5 560.2h-4.2M73.5 557.7h-4.2M73.5 555.6h-4.2M73.5 553.8h-4.2M73.5 552.2h-4.2M73.5 648.7h-6.8M73.5 614.6h-6.8M73.5 582.4h-6.8M73.5 550.7h-6.8" stroke="#0d0d0d" stroke-width=".8" fill="none"/>
<path d="M73.5 541.0h-4.2" stroke="#0d0d0d" stroke-width=".8"/>
<path d="M73.5 654.5h-6M73.5 655.7h-6M73.5 656.9h-6M73.5 658.1h-6M73.5 659.4h-6M73.5 660.6h-6M73.5 661.8h-6M73.5 663.0h-6" stroke="#0d0d0d" stroke-width=".9" fill="none"/>
<text x="107.3" y="694.4" font-size="7" text-anchor="middle" class="b">10<tspan font-size="0.72em" dy="-0.5em">2</tspan></text>
<text x="142.7" y="694.4" font-size="7" text-anchor="middle" class="b">10<tspan font-size="0.72em" dy="-0.5em">3</tspan></text>
<text x="179" y="694.4" font-size="7" text-anchor="middle" class="b">10<tspan font-size="0.72em" dy="-0.5em">4</tspan></text>
<text x="213.9" y="694.4" font-size="7" text-anchor="middle" class="b">10<tspan font-size="0.72em" dy="-0.5em">5</tspan></text>
<text x="72.7" y="694.4" font-size="6.5" text-anchor="middle" class="b">-63</text>
<text x="86.2" y="694.4" font-size="7" text-anchor="middle" class="b">0</text>
<path d="M117.0 680v3.2M123.2 680v3.2M127.6 680v3.2M131.0 680v3.2M133.8 680v3.2M136.2 680v3.2M138.3 680v3.2M140.1 680v3.2M152.6 680v3.2M159.0 680v3.2M163.6 680v3.2M167.1 680v3.2M169.9 680v3.2M172.4 680v3.2M174.5 680v3.2M176.3 680v3.2M188.5 680v3.2M194.7 680v3.2M199.0 680v3.2M202.4 680v3.2M205.2 680v3.2M207.5 680v3.2M209.5 680v3.2M211.3 680v3.2M106.3 680v6M141.7 680v6M178.0 680v6M212.9 680v6" stroke="#0d0d0d" stroke-width=".8" fill="none"/>
<path d="M223.4 680v3.2" stroke="#0d0d0d" stroke-width=".8"/>
<path d="M86.2 680v4M88.1 680v4M89.9 680v4M91.8 680v4M93.7 680v4M95.5 680v4M97.4 680v4M99.3 680v4M101.1 680v4M103.0 680v4" stroke="#0d0d0d" stroke-width=".9" fill="none"/>
<path d="M72.7 680v6M86.2 680v6" stroke="#0d0d0d" stroke-width=".9"/>
<text x="55" y="608" font-size="8.8" text-anchor="middle" transform="rotate(-90 55 608)" textLength="47.5" lengthAdjust="spacingAndGlyphs">CD 45 PE-A</text>
<text x="149.8" y="705.3" font-size="8.8" text-anchor="middle" textLength="71" lengthAdjust="spacingAndGlyphs">HLA-ABC FITC-A</text>
<text x="265.8" y="524.8" font-size="11.5" text-anchor="start" class="b s">ii</text>
<rect x="326.9" y="538" width="153.10000000000002" height="141.5" fill="#fff" stroke="#0d0d0d" stroke-width="1.1"/>
<path d="M374 538V679.5M326.9 640.7H480" stroke="#0d0d0d" stroke-width="1.1"/>
<path d="M321 679.5H326.9" stroke="#0d0d0d" stroke-width="1.1"/>
<path d="M346.1 653.9h1.1M370.7 655.0h1.1M355.0 650.6h1.1M355.7 660.6h1.1M346.7 672.1h1.1M342.5 651.8h1.1M328.6 644.3h1.1M344.3 658.0h1.1M355.1 657.9h1.1M343.8 652.5h1.1M361.3 655.7h1.1M362.1 657.8h1.1M346.8 656.1h1.1M353.1 663.3h1.1M346.8 661.5h1.1M340.1 648.4h1.1M337.9 655.6h1.1M344.6 662.7h1.1M346.9 655.8h1.1M347.2 649.5h1.1M340.4 670.1h1.1M353.6 649.6h1.1M340.5 660.6h1.1M333.5 644.4h1.1M346.0 654.9h1.1M355.1 651.9h1.1M340.1 661.1h1.1M342.4 659.3h1.1M335.7 656.1h1.1M362.6 649.7h1.1M349.0 657.7h1.1M350.4 657.5h1.1M354.8 654.3h1.1M342.6 659.6h1.1M351.1 647.4h1.1M354.8 656.1h1.1M356.5 658.4h1.1M340.4 656.1h1.1M354.4 664.7h1.1M348.1 662.3h1.1M359.0 660.2h1.1M359.9 662.4h1.1M342.5 650.8h1.1M343.5 668.9h1.1M358.0 652.9h1.1M349.2 671.1h1.1M343.5 658.5h1.1M346.9 663.7h1.1M335.8 660.5h1.1M350.8 665.4h1.1M352.6 660.8h1.1M342.6 660.2h1.1M345.8 669.5h1.1M351.8 658.7h1.1M350.6 658.9h1.1M346.6 662.5h1.1M349.4 653.0h1.1M355.9 663.1h1.1M357.7 656.0h1.1M356.3 667.8h1.1M354.2 661.0h1.1M349.2 649.0h1.1M342.1 658.1h1.1M357.1 661.7h1.1M345.6 659.8h1.1M348.7 654.1h1.1M349.2 663.7h1.1M341.3 656.0h1.1M349.2 652.3h1.1M342.8 661.3h1.1M365.0 659.0h1.1M345.8 668.2h1.1M350.6 647.0h1.1M345.5 646.8h1.1M347.2 667.4h1.1M356.7 656.6h1.1M344.9 656.2h1.1M341.8 652.9h1.1M352.1 659.4h1.1M350.9 657.6h1.1M338.8 662.0h1.1M349.7 663.5h1.1M350.7 652.5h1.1M356.4 663.4h1.1M347.7 663.0h1.1M352.8 655.7h1.1M351.2 654.0h1.1M359.3 655.9h1.1M356.5 669.6h1.1M350.0 662.7h1.1M360.2 647.2h1.1M365.0 662.3h1.1M340.8 659.6h1.1M365.1 659.3h1.1M359.5 665.1h1.1M345.0 660.9h1.1M362.1 653.9h1.1M350.3 655.3h1.1M345.8 657.5h1.1M334.3 654.8h1.1M337.3 652.8h1.1M345.5 665.0h1.1M341.7 664.0h1.1M346.6 654.0h1.1M337.4 659.6h1.1M349.0 663.5h1.1M345.1 646.1h1.1M353.5 666.8h1.1M349.8 659.4h1.1M353.1 660.3h1.1M368.2 658.0h1.1M353.3 664.2h1.1M353.4 648.3h1.1M352.5 656.7h1.1M342.4 664.4h1.1M344.8 661.2h1.1M344.6 662.3h1.1M359.2 653.5h1.1M343.9 664.4h1.1M343.1 665.1h1.1M352.3 653.2h1.1M345.6 666.8h1.1M355.7 659.6h1.1M351.2 665.4h1.1M345.2 660.8h1.1M352.9 666.8h1.1M347.0 657.6h1.1M351.5 657.4h1.1M347.8 662.1h1.1M346.1 657.1h1.1M351.5 659.5h1.1M346.9 658.2h1.1M340.9 654.2h1.1M344.5 652.1h1.1M360.5 671.5h1.1M347.9 658.2h1.1M348.6 656.6h1.1M345.6 664.2h1.1M353.4 650.9h1.1M351.1 653.7h1.1M354.1 654.1h1.1M351.8 654.3h1.1M348.2 661.0h1.1M354.5 650.4h1.1M345.6 653.8h1.1M337.4 660.2h1.1M348.0 656.9h1.1M343.7 669.5h1.1M343.2 642.9h1.1M347.0 660.5h1.1M341.8 657.9h1.1M333.0 657.2h1.1M350.0 653.0h1.1M341.7 652.3h1.1M345.7 665.1h1.1M350.3 655.0h1.1M346.0 663.4h1.1M344.7 653.3h1.1M355.1 658.7h1.1M359.0 657.2h1.1M347.3 661.3h1.1M350.9 658.9h1.1M342.8 654.6h1.1M344.1 655.7h1.1M358.7 653.2h1.1M352.8 661.3h1.1M338.4 664.8h1.1M351.2 660.9h1.1M350.9 664.7h1.1M352.3 654.7h1.1M345.0 653.5h1.1M343.9 653.5h1.1M351.2 664.5h1.1M348.1 664.9h1.1M357.6 662.8h1.1M337.8 643.1h1.1M357.2 661.6h1.1M339.5 654.2h1.1M351.1 658.5h1.1M340.3 658.3h1.1M339.0 657.1h1.1M353.9 660.3h1.1M345.4 662.4h1.1M363.4 656.9h1.1M350.4 650.0h1.1M355.2 648.9h1.1M347.9 664.1h1.1M353.7 638.9h1.1M343.7 644.0h1.1M347.4 649.8h1.1M365.6 665.8h1.1M342.4 656.8h1.1M349.9 664.5h1.1M359.5 662.6h1.1M340.4 639.6h1.1M338.4 651.6h1.1M355.0 650.6h1.1M358.7 663.4h1.1M350.1 663.6h1.1M344.4 664.9h1.1M350.2 655.0h1.1M343.8 646.0h1.1M347.1 661.8h1.1M346.6 655.8h1.1M361.8 676.0h1.1M339.8 666.1h1.1M349.3 658.5h1.1M343.6 657.0h1.1M351.7 661.1h1.1M345.4 655.3h1.1M354.2 667.7h1.1M346.4 661.7h1.1M354.8 660.8h1.1M342.9 658.7h1.1M350.1 651.8h1.1M349.9 658.5h1.1M344.5 668.6h1.1M351.7 653.4h1.1M358.1 656.8h1.1M342.3 651.3h1.1M357.2 651.4h1.1M351.9 661.4h1.1M345.4 663.1h1.1M357.0 658.2h1.1M349.5 662.6h1.1M350.1 666.6h1.1M355.0 659.1h1.1M351.2 656.2h1.1M354.3 654.2h1.1M349.3 651.0h1.1M366.7 660.4h1.1M349.9 661.4h1.1M337.5 667.4h1.1M337.7 662.4h1.1M346.7 663.1h1.1M354.2 660.2h1.1M356.8 656.7h1.1M351.3 656.7h1.1M344.6 652.0h1.1M352.2 669.0h1.1M343.5 655.6h1.1M344.6 661.0h1.1M335.1 659.6h1.1M344.2 652.5h1.1M351.3 659.8h1.1M351.7 666.0h1.1M339.4 665.3h1.1M353.4 673.4h1.1M359.5 661.7h1.1M335.6 660.1h1.1M360.6 663.6h1.1M349.0 651.1h1.1M349.9 649.6h1.1M343.9 656.1h1.1M352.5 654.7h1.1M349.1 658.4h1.1M351.5 662.3h1.1M353.0 656.8h1.1M350.7 654.7h1.1M340.8 655.0h1.1M349.4 646.2h1.1M355.2 660.8h1.1M338.2 652.3h1.1M343.1 644.6h1.1M337.0 661.1h1.1M335.1 672.0h1.1M359.7 668.1h1.1M353.2 665.7h1.1M359.1 652.6h1.1M361.0 653.7h1.1M347.0 642.4h1.1M347.2 648.0h1.1M366.0 660.8h1.1M356.0 655.6h1.1M356.3 661.9h1.1M346.8 661.9h1.1M346.5 650.6h1.1M334.8 648.5h1.1M353.8 670.6h1.1M346.1 654.8h1.1M359.1 657.6h1.1M352.0 658.6h1.1M331.8 650.2h1.1M351.8 659.1h1.1M347.5 650.3h1.1M350.5 656.7h1.1M342.2 657.1h1.1M351.3 671.8h1.1M357.6 652.9h1.1M355.3 648.9h1.1M332.3 653.6h1.1M363.6 663.1h1.1M344.4 661.0h1.1M334.3 657.3h1.1M342.4 650.7h1.1M346.6 653.5h1.1M351.9 650.7h1.1M352.3 661.3h1.1M355.5 662.5h1.1M354.6 665.0h1.1M358.8 665.1h1.1M358.2 650.3h1.1M347.6 667.6h1.1M345.1 663.1h1.1M357.4 666.9h1.1M345.1 660.0h1.1M348.6 662.6h1.1M335.5 658.1h1.1M358.2 658.4h1.1M357.0 667.4h1.1M350.6 655.9h1.1M345.4 651.1h1.1M346.3 657.4h1.1M356.6 654.3h1.1M344.4 658.2h1.1M347.9 666.4h1.1M349.7 667.4h1.1M350.2 642.3h1.1M348.2 651.6h1.1M349.7 652.8h1.1M356.3 656.8h1.1M346.9 671.5h1.1M347.2 655.6h1.1M347.0 663.1h1.1M351.4 658.7h1.1M358.2 654.8h1.1M355.0 663.7h1.1M351.8 655.4h1.1M348.5 665.5h1.1M329.6 667.9h1.1M342.7 664.4h1.1M353.5 661.2h1.1M353.4 655.5h1.1M361.5 658.9h1.1M355.7 657.3h1.1M347.2 665.3h1.1M342.4 658.3h1.1M343.5 648.6h1.1M356.9 658.7h1.1M336.1 658.1h1.1M366.8 665.1h1.1M348.0 660.8h1.1M347.5 660.0h1.1M348.7 659.7h1.1M346.2 663.9h1.1M340.9 647.8h1.1M337.2 654.3h1.1M350.4 662.1h1.1M355.4 649.0h1.1M338.1 662.4h1.1M362.7 662.4h1.1M348.6 665.0h1.1M361.7 664.8h1.1M351.1 656.7h1.1M345.6 655.8h1.1M340.7 660.7h1.1M357.2 656.7h1.1M355.3 662.7h1.1M348.7 658.2h1.1M360.6 653.9h1.1M344.5 656.0h1.1M344.0 662.1h1.1M354.0 656.8h1.1M354.3 647.4h1.1M350.4 673.4h1.1M356.7 652.2h1.1M356.1 654.5h1.1M354.1 662.9h1.1M339.2 670.1h1.1M339.5 655.8h1.1M354.7 662.4h1.1M351.2 656.6h1.1M355.5 660.9h1.1M347.2 665.6h1.1M361.2 654.9h1.1M346.7 652.0h1.1M340.8 659.7h1.1M356.8 649.6h1.1M347.9 660.7h1.1M345.4 664.0h1.1M354.1 658.3h1.1M358.3 660.8h1.1M357.8 662.5h1.1M347.8 668.1h1.1M344.7 661.0h1.1M347.3 653.5h1.1M340.2 665.9h1.1M359.6 665.5h1.1M335.3 662.7h1.1M350.5 662.4h1.1M351.7 662.4h1.1M353.1 665.4h1.1M350.8 655.3h1.1M333.6 660.6h1.1M334.2 655.0h1.1M349.5 657.9h1.1M344.2 669.6h1.1M339.3 666.2h1.1M347.5 657.9h1.1M350.2 661.6h1.1M336.9 661.8h1.1M348.5 658.5h1.1M349.9 657.9h1.1M357.7 653.1h1.1M344.1 661.8h1.1M348.2 664.4h1.1M328.8 657.1h1.1M350.2 669.7h1.1M357.2 652.9h1.1M357.5 653.4h1.1M352.0 656.3h1.1M339.5 663.7h1.1M353.8 656.7h1.1M343.5 653.8h1.1M348.6 665.5h1.1M346.4 658.2h1.1M346.7 651.0h1.1M346.9 654.7h1.1M358.4 659.7h1.1M359.0 658.1h1.1M350.9 667.3h1.1M353.0 659.1h1.1M353.2 660.7h1.1M358.0 654.8h1.1M346.3 653.1h1.1M358.5 662.6h1.1M347.4 662.1h1.1M363.7 663.5h1.1M349.1 652.7h1.1M353.9 674.8h1.1M358.3 656.7h1.1M338.3 664.7h1.1M343.5 656.1h1.1M365.5 656.1h1.1M348.0 675.0h1.1M362.1 644.0h1.1M355.4 657.1h1.1M351.0 654.8h1.1M351.9 662.6h1.1M347.5 663.6h1.1M355.2 651.4h1.1M362.8 659.6h1.1M356.0 667.5h1.1M349.5 673.6h1.1M343.2 652.1h1.1M347.1 670.0h1.1M361.4 663.7h1.1M342.6 656.2h1.1M348.2 659.3h1.1M341.3 658.9h1.1M346.2 661.4h1.1M342.6 655.2h1.1M350.6 662.7h1.1M350.2 659.7h1.1M348.5 654.8h1.1M346.5 653.2h1.1M353.5 661.0h1.1M348.4 653.3h1.1M346.7 657.5h1.1M357.1 656.5h1.1M351.1 654.5h1.1M354.4 656.9h1.1M343.4 646.7h1.1M347.2 656.4h1.1M358.1 650.8h1.1M345.2 650.9h1.1M355.2 660.2h1.1M346.9 662.3h1.1M350.7 655.5h1.1M349.2 662.2h1.1M356.3 669.3h1.1M351.6 658.9h1.1M350.3 653.5h1.1M348.4 662.0h1.1M346.7 656.7h1.1M340.3 662.2h1.1M357.2 658.5h1.1M350.8 659.7h1.1M349.9 657.2h1.1M356.7 672.3h1.1M356.9 660.4h1.1M346.9 651.0h1.1M357.0 657.3h1.1M353.7 655.4h1.1M331.7 671.3h1.1M340.8 662.2h1.1M358.0 648.5h1.1M350.9 657.9h1.1M338.4 669.2h1.1M346.0 661.7h1.1M349.7 670.0h1.1M343.0 656.1h1.1M351.6 662.9h1.1M349.5 665.5h1.1M357.9 661.1h1.1M339.7 652.8h1.1M337.8 655.6h1.1M356.1 668.4h1.1M351.0 663.9h1.1M346.8 656.8h1.1M354.9 648.5h1.1M348.2 653.2h1.1M351.4 662.1h1.1M351.0 666.9h1.1M350.3 666.2h1.1M351.3 646.1h1.1M349.4 653.2h1.1M346.9 644.0h1.1M347.8 656.4h1.1M341.5 657.1h1.1M355.4 659.0h1.1M354.5 653.1h1.1M361.9 653.0h1.1M340.7 659.7h1.1M353.8 666.5h1.1M354.9 664.4h1.1M338.5 659.7h1.1M345.2 645.4h1.1M360.3 651.3h1.1M354.2 663.7h1.1M347.3 652.5h1.1M359.1 658.6h1.1M350.7 659.3h1.1M352.0 662.3h1.1M350.8 664.5h1.1M349.3 650.3h1.1M343.8 661.9h1.1M343.1 659.9h1.1M355.0 654.6h1.1M349.3 650.9h1.1M340.6 661.5h1.1M351.1 651.8h1.1M346.4 654.3h1.1M347.1 654.6h1.1M345.9 672.1h1.1M345.9 650.5h1.1M346.6 666.0h1.1M348.0 662.5h1.1M347.1 656.0h1.1M359.9 660.1h1.1M345.4 662.8h1.1M339.5 649.4h1.1M347.4 655.9h1.1M350.2 651.0h1.1M352.6 657.3h1.1M347.7 660.5h1.1M346.9 664.8h1.1M343.2 660.3h1.1M348.4 644.6h1.1M342.4 655.4h1.1M352.6 650.6h1.1M345.3 655.5h1.1M339.2 655.2h1.1M356.3 664.1h1.1M342.0 653.8h1.1M344.3 645.5h1.1M365.5 653.9h1.1M351.6 655.4h1.1M347.3 649.1h1.1M341.7 657.4h1.1M344.4 662.5h1.1M345.5 660.8h1.1M353.0 651.1h1.1M358.0 657.2h1.1M366.9 655.0h1.1M356.7 662.8h1.1M338.5 648.9h1.1M338.8 663.4h1.1M349.4 664.1h1.1M341.5 663.1h1.1M349.1 662.1h1.1M353.8 659.1h1.1M359.1 649.9h1.1M346.7 664.7h1.1M341.9 662.9h1.1M349.6 660.2h1.1M332.2 653.1h1.1M354.3 651.2h1.1M355.0 662.8h1.1M328.3 659.1h1.1M341.2 652.0h1.1M337.8 660.2h1.1M358.3 673.7h1.1M359.7 655.6h1.1M337.6 664.9h1.1M354.9 658.8h1.1M339.4 651.1h1.1M347.6 667.6h1.1M360.3 652.7h1.1M336.6 657.8h1.1M355.1 653.8h1.1M350.1 664.0h1.1M337.2 669.6h1.1M359.5 658.9h1.1M351.4 661.8h1.1M344.2 663.0h1.1M349.9 653.8h1.1M348.6 656.7h1.1M345.9 662.8h1.1M355.0 664.2h1.1M346.1 662.5h1.1M347.3 668.7h1.1M341.6 664.8h1.1M345.4 648.0h1.1M354.6 650.5h1.1M343.0 658.1h1.1M352.3 657.7h1.1M352.2 660.2h1.1M337.4 666.0h1.1M359.6 654.9h1.1M354.3 656.7h1.1M343.3 656.8h1.1M335.3 654.6h1.1M354.1 664.6h1.1M352.7 659.9h1.1M344.7 664.3h1.1M362.9 660.6h1.1M361.8 659.2h1.1M347.6 663.9h1.1M350.2 657.1h1.1M345.4 659.3h1.1M349.1 648.8h1.1M352.8 668.9h1.1M351.9 661.3h1.1M353.1 663.9h1.1M354.8 656.5h1.1M341.2 661.3h1.1M352.4 655.2h1.1M347.5 661.4h1.1M360.6 654.9h1.1M342.7 658.5h1.1M343.7 655.6h1.1M342.6 665.6h1.1M352.5 659.6h1.1M360.7 677.8h1.1M353.6 663.8h1.1M342.6 662.0h1.1M345.0 649.5h1.1M352.2 655.1h1.1M359.7 657.0h1.1M347.5 653.4h1.1M348.2 658.1h1.1M353.9 654.0h1.1M344.3 652.2h1.1M344.6 656.1h1.1M348.3 654.5h1.1M355.8 654.2h1.1M351.1 657.7h1.1M352.0 659.1h1.1M346.4 658.5h1.1M345.7 657.7h1.1M357.5 663.6h1.1M359.0 653.6h1.1M357.8 661.2h1.1M354.0 656.9h1.1M361.8 653.3h1.1M351.2 650.5h1.1M347.4 660.9h1.1M351.2 660.2h1.1M358.7 652.4h1.1M337.1 664.7h1.1M338.8 656.7h1.1M365.8 662.9h1.1M348.5 664.2h1.1M343.5 663.0h1.1M346.6 654.4h1.1M342.5 655.0h1.1M351.2 669.4h1.1M356.1 664.2h1.1M348.5 668.8h1.1M348.7 667.2h1.1M340.8 662.2h1.1M342.0 656.7h1.1M348.1 647.7h1.1M352.1 659.0h1.1M337.3 657.9h1.1M348.6 649.1h1.1M344.8 664.7h1.1M346.5 657.4h1.1M348.6 657.3h1.1M341.8 657.7h1.1M335.6 659.5h1.1M347.2 650.6h1.1M338.8 659.8h1.1M346.2 654.8h1.1M345.5 659.9h1.1M356.6 656.0h1.1M335.9 653.3h1.1M342.8 661.1h1.1M357.2 660.7h1.1M343.4 664.2h1.1M346.3 651.5h1.1M348.0 670.7h1.1M349.2 654.4h1.1M354.6 653.9h1.1M357.4 662.8h1.1M340.2 656.1h1.1M346.8 653.8h1.1M351.9 657.1h1.1M361.3 660.2h1.1M356.0 664.3h1.1M352.5 663.4h1.1M344.6 664.5h1.1M356.3 664.9h1.1M345.5 655.3h1.1M357.5 658.1h1.1M367.3 661.6h1.1M341.4 662.4h1.1M351.2 647.3h1.1M345.3 645.5h1.1M367.9 651.6h1.1M343.6 656.6h1.1M343.8 665.8h1.1M347.6 650.2h1.1M354.8 660.6h1.1M339.5 664.1h1.1M340.1 653.2h1.1M359.7 655.6h1.1M349.8 653.6h1.1M347.3 646.5h1.1M347.3 653.9h1.1M355.9 655.9h1.1M343.5 655.7h1.1M336.0 660.9h1.1M337.0 651.2h1.1M351.2 656.6h1.1M363.7 650.3h1.1M351.8 669.1h1.1M344.9 650.8h1.1M356.6 669.5h1.1M344.0 663.5h1.1M354.1 659.2h1.1M355.2 656.9h1.1M354.0 657.0h1.1M348.3 652.1h1.1M349.1 657.9h1.1M343.1 654.2h1.1M346.7 666.8h1.1M352.8 662.5h1.1M358.6 662.6h1.1M361.1 666.9h1.1M354.5 657.9h1.1M350.4 658.0h1.1M344.3 649.4h1.1M352.4 650.6h1.1M354.4 668.8h1.1M350.2 653.0h1.1M345.0 662.1h1.1M348.8 656.0h1.1M351.3 651.7h1.1M342.3 660.8h1.1M344.4 662.2h1.1M346.1 659.0h1.1M348.4 666.0h1.1M347.5 659.0h1.1M341.6 659.4h1.1M348.3 660.3h1.1M335.3 662.2h1.1M350.0 660.3h1.1M352.2 664.5h1.1M342.7 655.4h1.1M351.2 649.7h1.1M365.0 646.7h1.1M353.2 655.7h1.1M353.9 667.4h1.1M362.6 654.4h1.1M349.9 654.0h1.1M339.9 659.3h1.1M345.1 651.2h1.1M347.2 655.0h1.1M341.5 659.7h1.1M353.2 660.7h1.1M344.7 653.2h1.1M333.4 662.6h1.1M356.3 653.4h1.1M339.9 651.5h1.1M359.3 657.4h1.1M346.4 658.9h1.1M349.5 656.7h1.1M348.3 662.3h1.1M356.1 652.1h1.1M348.5 658.1h1.1M350.7 672.5h1.1M354.2 662.9h1.1M348.8 661.7h1.1M357.9 665.7h1.1M343.8 659.5h1.1M351.9 652.2h1.1M347.1 655.8h1.1M355.7 658.8h1.1M363.4 661.7h1.1M346.5 660.1h1.1M350.2 653.9h1.1M352.1 650.4h1.1M350.8 655.8h1.1M350.2 654.5h1.1M361.6 654.7h1.1M355.0 658.9h1.1M357.6 654.6h1.1M340.7 662.6h1.1M356.8 662.4h1.1M359.7 658.7h1.1M343.2 661.5h1.1M337.5 656.7h1.1M353.8 666.6h1.1M346.7 657.3h1.1M340.0 657.8h1.1M344.6 658.6h1.1M344.3 661.1h1.1M348.8 654.6h1.1M353.5 661.6h1.1M347.7 657.5h1.1M355.2 661.5h1.1M348.4 669.9h1.1M346.1 651.0h1.1M345.0 659.8h1.1M337.3 669.5h1.1M355.9 653.0h1.1M352.1 651.2h1.1M349.3 657.2h1.1M360.3 647.8h1.1M346.0 647.6h1.1M346.1 656.7h1.1M349.5 664.5h1.1M343.1 655.4h1.1M359.7 658.8h1.1M342.7 658.7h1.1M341.8 653.5h1.1M345.7 649.8h1.1M362.0 656.2h1.1M351.0 657.1h1.1M348.7 653.8h1.1M352.4 656.0h1.1M343.6 663.8h1.1M360.0 661.1h1.1M353.0 656.7h1.1M350.3 662.7h1.1M349.7 666.2h1.1M359.4 659.9h1.1M351.0 653.7h1.1M346.4 654.8h1.1M347.0 653.4h1.1M352.1 660.4h1.1M348.4 667.9h1.1M351.2 658.2h1.1M350.8 655.1h1.1M354.7 653.3h1.1M349.2 669.9h1.1M351.4 652.4h1.1M341.6 665.1h1.1M336.4 668.0h1.1M358.7 655.9h1.1M351.3 655.8h1.1M342.9 661.0h1.1M344.7 662.0h1.1M351.7 655.0h1.1M350.0 658.8h1.1M348.3 657.2h1.1M358.0 654.3h1.1M350.5 664.4h1.1M352.2 656.2h1.1M341.5 657.0h1.1M335.9 656.0h1.1M349.3 666.1h1.1M353.8 664.5h1.1M352.7 659.9h1.1M338.4 655.2h1.1M347.8 658.0h1.1M340.8 649.8h1.1M350.7 657.0h1.1M349.5 657.2h1.1M347.8 652.0h1.1M355.5 660.8h1.1M349.3 668.3h1.1M344.5 663.2h1.1M349.0 658.6h1.1M355.5 658.5h1.1M349.3 651.7h1.1M351.4 660.8h1.1M346.5 651.8h1.1M356.2 659.3h1.1M357.5 658.1h1.1M367.3 651.6h1.1M354.5 659.3h1.1M351.2 657.3h1.1M353.3 663.4h1.1M350.1 652.7h1.1M356.2 664.1h1.1M341.4 659.9h1.1M360.0 662.0h1.1M346.0 660.1h1.1M351.9 652.4h1.1M347.6 656.7h1.1M347.1 666.0h1.1M337.1 652.8h1.1M344.5 665.6h1.1M348.9 657.1h1.1M347.9 667.4h1.1M362.9 659.9h1.1M342.7 657.0h1.1M337.4 663.8h1.1M348.1 664.8h1.1M345.4 654.3h1.1M334.5 660.0h1.1M356.8 646.4h1.1M342.1 658.1h1.1M356.7 669.1h1.1M360.9 660.1h1.1M339.5 653.9h1.1M353.0 658.6h1.1M343.9 658.1h1.1M350.5 671.2h1.1M347.2 661.8h1.1M351.5 662.8h1.1M344.7 666.9h1.1M358.8 661.4h1.1M342.0 652.5h1.1M348.1 657.9h1.1M343.4 657.8h1.1M338.6 657.5h1.1M340.1 660.1h1.1M332.3 654.3h1.1M346.5 650.3h1.1M346.4 657.4h1.1M358.5 662.4h1.1M346.6 663.1h1.1M349.0 663.1h1.1M346.4 660.1h1.1M347.1 663.9h1.1M361.5 667.6h1.1M359.2 657.7h1.1M360.5 656.9h1.1M349.3 653.5h1.1M355.9 649.4h1.1M348.8 662.4h1.1M341.6 661.2h1.1M341.9 656.7h1.1M351.8 666.4h1.1M363.9 652.9h1.1M337.8 654.4h1.1M351.0 657.9h1.1M340.4 653.6h1.1M350.9 658.8h1.1M363.4 651.9h1.1M340.9 664.7h1.1M345.8 659.2h1.1M357.9 655.3h1.1M347.6 658.7h1.1M349.6 668.1h1.1M359.4 654.9h1.1M358.2 650.0h1.1M344.7 654.5h1.1M345.1 659.4h1.1M351.2 653.4h1.1M352.1 654.8h1.1M353.0 660.1h1.1M341.6 653.3h1.1M356.1 658.0h1.1M351.4 656.6h1.1M360.2 661.0h1.1M344.5 659.7h1.1M341.8 656.2h1.1M346.9 652.7h1.1M343.4 664.4h1.1M343.2 657.2h1.1M340.9 665.4h1.1M342.8 662.6h1.1M353.8 661.5h1.1M345.9 646.1h1.1M343.2 657.1h1.1M339.3 651.9h1.1M351.6 658.4h1.1M356.6 661.0h1.1M358.3 660.0h1.1M348.4 659.5h1.1M355.4 663.8h1.1M353.9 655.8h1.1M342.2 664.1h1.1M356.7 652.8h1.1M349.6 653.0h1.1M350.0 670.4h1.1M347.0 656.1h1.1M349.0 655.9h1.1M352.1 649.6h1.1M354.6 654.2h1.1M349.6 672.4h1.1M357.9 659.5h1.1M348.4 661.2h1.1M355.8 677.3h1.1M363.1 666.7h1.1M343.8 666.7h1.1M348.3 659.5h1.1M347.0 656.5h1.1M353.4 659.6h1.1M354.6 655.6h1.1M343.4 656.2h1.1M347.6 660.5h1.1M362.2 659.3h1.1M347.7 672.6h1.1M362.1 663.6h1.1M356.3 648.5h1.1M347.0 658.3h1.1M349.5 647.5h1.1M351.5 668.7h1.1M359.1 660.1h1.1M353.1 658.5h1.1M334.6 661.5h1.1M356.1 650.4h1.1M365.7 662.9h1.1M353.1 666.6h1.1M342.8 658.0h1.1M339.2 663.9h1.1M352.8 671.4h1.1M354.8 656.2h1.1M335.4 656.6h1.1M347.1 658.2h1.1M345.9 656.6h1.1M350.5 655.1h1.1M343.7 657.2h1.1M338.9 645.6h1.1M349.1 652.9h1.1M339.1 657.7h1.1M349.6 665.6h1.1M345.5 658.4h1.1M348.1 654.9h1.1M340.1 647.5h1.1M336.6 652.3h1.1M343.1 655.5h1.1M336.4 659.9h1.1M351.9 651.4h1.1M344.3 655.9h1.1M353.6 665.1h1.1M353.5 662.4h1.1M358.2 662.3h1.1M350.9 661.5h1.1M356.2 659.4h1.1M356.5 655.4h1.1M341.7 658.2h1.1M353.2 670.0h1.1M348.1 652.6h1.1M336.9 653.3h1.1M347.0 656.1h1.1M351.7 658.6h1.1M345.2 672.5h1.1M345.4 656.9h1.1M340.6 654.8h1.1M351.3 648.7h1.1M347.1 654.1h1.1M349.9 661.8h1.1M348.6 663.8h1.1M345.6 660.4h1.1M342.8 649.2h1.1M342.1 656.8h1.1M352.8 668.8h1.1M352.2 662.0h1.1M343.4 668.0h1.1M344.8 657.7h1.1M362.8 663.6h1.1M364.6 655.0h1.1M352.2 651.5h1.1M352.0 654.8h1.1M358.6 661.4h1.1M337.4 656.3h1.1M343.9 658.9h1.1M356.6 651.6h1.1M347.7 662.2h1.1M343.0 656.0h1.1M344.7 664.3h1.1M354.6 652.0h1.1M356.9 667.6h1.1M347.1 660.3h1.1M353.5 662.4h1.1M364.7 659.0h1.1M347.3 659.7h1.1M348.8 648.1h1.1M355.4 660.1h1.1M343.5 653.5h1.1M338.4 659.4h1.1M351.4 659.3h1.1M356.1 657.0h1.1M341.4 658.8h1.1M360.3 666.2h1.1M349.4 669.2h1.1M342.9 655.2h1.1M346.8 670.0h1.1M329.0 660.1h1.1M349.8 653.3h1.1M352.3 647.2h1.1M351.0 652.9h1.1M344.3 660.0h1.1M348.6 655.5h1.1M349.5 654.3h1.1M358.5 660.4h1.1M351.5 666.4h1.1M362.4 649.9h1.1M350.4 651.5h1.1M353.9 655.1h1.1M344.6 656.9h1.1M357.5 652.9h1.1M352.0 656.9h1.1M347.1 659.1h1.1M361.8 656.0h1.1M350.9 660.6h1.1M338.7 656.9h1.1M353.2 660.5h1.1M350.1 652.8h1.1M346.9 661.7h1.1M344.4 663.7h1.1M352.3 667.5h1.1M338.3 658.3h1.1M338.5 652.1h1.1M363.1 662.5h1.1M352.0 652.4h1.1M349.6 661.2h1.1M358.7 647.0h1.1M348.8 651.8h1.1M364.7 667.5h1.1M349.7 656.6h1.1M359.6 667.8h1.1M346.6 663.8h1.1M351.6 659.7h1.1M339.3 670.3h1.1M348.8 652.4h1.1M340.0 667.1h1.1M351.4 663.8h1.1M350.3 650.6h1.1M348.1 653.9h1.1M341.9 659.3h1.1M344.4 660.3h1.1M350.4 655.5h1.1M343.2 657.0h1.1M356.7 664.5h1.1M357.9 653.6h1.1M343.3 659.7h1.1M349.2 662.1h1.1M352.4 650.3h1.1M351.1 667.0h1.1M348.7 658.1h1.1M349.8 649.5h1.1M354.4 660.8h1.1M355.4 655.3h1.1M344.5 652.4h1.1M348.4 658.2h1.1M353.4 653.0h1.1M344.2 651.8h1.1M345.9 663.3h1.1M355.6 658.6h1.1M357.2 660.9h1.1M346.3 662.2h1.1M340.6 654.3h1.1M350.9 658.5h1.1M344.9 656.6h1.1M342.0 653.9h1.1M368.4 661.8h1.1M356.1 665.3h1.1M338.7 662.7h1.1M344.3 650.3h1.1M345.6 659.0h1.1M356.9 664.6h1.1M350.5 665.5h1.1M335.4 657.7h1.1M353.7 672.4h1.1M338.3 644.1h1.1M348.0 656.9h1.1M353.1 657.2h1.1M342.9 655.8h1.1M351.4 672.6h1.1M329.4 651.5h1.1M348.0 655.7h1.1M338.8 655.6h1.1M345.4 659.1h1.1M353.3 656.0h1.1M353.6 654.0h1.1M345.4 660.2h1.1M346.6 662.4h1.1M355.1 654.9h1.1M364.3 662.3h1.1M345.2 651.6h1.1M348.3 658.6h1.1M353.9 660.2h1.1M353.8 649.8h1.1M345.3 657.9h1.1M354.8 657.6h1.1M351.1 652.6h1.1M357.5 658.8h1.1M340.2 656.7h1.1M347.7 659.2h1.1M363.0 651.5h1.1M358.7 651.3h1.1M348.7 651.9h1.1M349.0 664.6h1.1M361.4 663.5h1.1M348.5 663.1h1.1M338.9 657.5h1.1M344.4 646.2h1.1M347.3 651.0h1.1M357.7 653.1h1.1M357.7 657.0h1.1M356.8 661.9h1.1M358.9 653.1h1.1M340.3 659.3h1.1M366.0 665.4h1.1M349.9 664.5h1.1M349.3 659.5h1.1M358.1 660.2h1.1M348.6 659.0h1.1M357.7 665.8h1.1M360.2 661.1h1.1M342.6 663.4h1.1M347.4 653.8h1.1M348.7 654.2h1.1M340.6 658.8h1.1M343.0 663.4h1.1M351.8 651.2h1.1M352.6 660.7h1.1M341.3 662.9h1.1M346.7 656.7h1.1M354.5 646.0h1.1M345.7 662.4h1.1M352.2 666.6h1.1M353.5 658.8h1.1M357.6 657.5h1.1M355.0 643.6h1.1M339.3 664.5h1.1M357.1 661.4h1.1M356.7 648.4h1.1M352.6 650.7h1.1M345.8 653.8h1.1M357.0 653.7h1.1M356.2 662.7h1.1M352.0 660.7h1.1M358.0 659.7h1.1M354.6 661.3h1.1M337.9 669.3h1.1M353.3 657.9h1.1M354.0 653.0h1.1M348.4 651.6h1.1M348.6 664.6h1.1M340.4 652.5h1.1M353.2 654.6h1.1M367.8 653.3h1.1M357.6 658.6h1.1M352.8 664.4h1.1M363.3 666.2h1.1M354.4 657.7h1.1M355.2 663.3h1.1M349.2 653.4h1.1M343.1 650.2h1.1M352.1 664.7h1.1M353.5 657.1h1.1M341.9 661.0h1.1M369.3 667.5h1.1M349.1 666.7h1.1M349.7 658.4h1.1M350.4 650.7h1.1M360.9 655.8h1.1M350.5 659.9h1.1M353.8 653.9h1.1M344.8 656.8h1.1M343.0 653.5h1.1M354.9 656.7h1.1M354.0 656.8h1.1M352.2 654.7h1.1M360.4 655.0h1.1M353.0 668.8h1.1M360.5 654.5h1.1M344.9 659.9h1.1M351.6 665.8h1.1M346.6 661.8h1.1M348.5 655.0h1.1M359.9 667.0h1.1M354.0 660.3h1.1M347.1 668.9h1.1M343.3 665.2h1.1M345.3 662.1h1.1M350.8 656.4h1.1M348.3 659.8h1.1M346.6 654.4h1.1M359.4 654.0h1.1M350.5 651.9h1.1M341.0 655.6h1.1M365.0 659.5h1.1M354.9 663.4h1.1M342.6 653.1h1.1M349.1 664.3h1.1M350.9 651.6h1.1M349.1 649.2h1.1M351.7 650.7h1.1M343.2 647.7h1.1M344.1 654.9h1.1M355.6 655.9h1.1M347.9 655.4h1.1M350.2 656.1h1.1M341.2 656.9h1.1M353.8 648.9h1.1M336.0 663.0h1.1M348.6 653.5h1.1M338.9 656.7h1.1M357.1 654.8h1.1M350.8 671.5h1.1M354.5 657.6h1.1M341.4 665.5h1.1M356.6 656.5h1.1M355.2 661.7h1.1M361.1 663.7h1.1M350.5 662.9h1.1M348.2 652.4h1.1M347.3 655.8h1.1M358.1 658.9h1.1M353.5 653.8h1.1M354.9 655.1h1.1M339.0 662.1h1.1M351.3 666.6h1.1M361.6 658.4h1.1M340.2 645.8h1.1M349.9 650.6h1.1M359.1 661.4h1.1M341.3 647.2h1.1M360.2 664.8h1.1M356.9 667.3h1.1M353.3 654.2h1.1M351.2 658.6h1.1M345.3 657.7h1.1M329.9 651.7h1.1M347.9 645.2h1.1M351.0 654.6h1.1M367.0 666.7h1.1M356.1 657.2h1.1M335.6 651.7h1.1M347.0 664.1h1.1M334.7 657.3h1.1M358.2 661.8h1.1M342.4 657.5h1.1M352.3 664.6h1.1M346.4 656.9h1.1M348.4 651.7h1.1M345.3 662.5h1.1M346.5 655.2h1.1M344.3 653.6h1.1M354.7 660.1h1.1M352.5 659.4h1.1M350.0 662.2h1.1M344.5 656.3h1.1M341.5 665.7h1.1M354.9 658.8h1.1M352.6 662.4h1.1M354.7 661.9h1.1M349.6 657.8h1.1M356.7 662.6h1.1M352.4 665.0h1.1M344.2 658.6h1.1M341.7 664.9h1.1M354.4 658.6h1.1M346.5 657.6h1.1M331.2 663.2h1.1M354.1 661.6h1.1M343.9 656.2h1.1M346.1 658.0h1.1M344.8 653.2h1.1M362.7 654.6h1.1M351.2 660.8h1.1M358.7 665.7h1.1M347.2 662.1h1.1M355.9 660.5h1.1M335.2 647.7h1.1M344.3 668.5h1.1M356.7 657.5h1.1M350.3 659.9h1.1M349.6 662.7h1.1M344.1 655.7h1.1M348.0 650.8h1.1M340.7 653.5h1.1M340.7 663.3h1.1M356.8 661.1h1.1M341.9 660.3h1.1M350.3 650.2h1.1M357.5 660.9h1.1M354.4 645.9h1.1M342.8 670.6h1.1M343.0 668.1h1.1M352.6 655.0h1.1M343.9 653.1h1.1M346.2 644.6h1.1M359.5 673.2h1.1M350.9 658.7h1.1M345.1 657.4h1.1M345.6 664.9h1.1M343.9 657.5h1.1M360.0 666.7h1.1M344.7 647.9h1.1M362.6 653.4h1.1M347.0 658.5h1.1M355.0 655.5h1.1M346.9 655.8h1.1M341.2 664.2h1.1M346.2 659.3h1.1M344.4 663.3h1.1M363.2 654.4h1.1M349.8 658.1h1.1M360.0 655.2h1.1M357.6 660.1h1.1M355.9 655.4h1.1M344.0 656.6h1.1M355.8 657.6h1.1M355.1 667.6h1.1M338.3 652.0h1.1M345.1 654.4h1.1M353.2 651.7h1.1M343.2 657.6h1.1M349.1 658.9h1.1M349.2 649.0h1.1M345.5 661.1h1.1M351.6 660.7h1.1M341.4 654.3h1.1M336.8 656.7h1.1M342.4 662.1h1.1M347.1 665.1h1.1M364.6 660.0h1.1M352.4 651.1h1.1M345.6 644.1h1.1M344.5 672.0h1.1M353.9 665.9h1.1M347.7 656.6h1.1M350.4 655.6h1.1M352.9 662.1h1.1M339.7 646.1h1.1M347.7 657.1h1.1M338.9 662.4h1.1M359.0 661.5h1.1M339.3 659.4h1.1M342.5 664.1h1.1M351.7 660.4h1.1M355.5 661.9h1.1M367.8 650.1h1.1M350.3 663.3h1.1M354.8 642.7h1.1M357.0 655.5h1.1M342.0 668.6h1.1M348.2 662.8h1.1M353.5 661.9h1.1M356.9 660.4h1.1M358.5 658.4h1.1M342.9 666.8h1.1M349.8 662.9h1.1M339.0 643.3h1.1M350.2 659.9h1.1M360.2 650.9h1.1M343.2 659.9h1.1M357.9 660.0h1.1M353.1 663.3h1.1M364.7 667.0h1.1M347.4 648.9h1.1M337.0 656.5h1.1M342.8 659.0h1.1M348.2 644.7h1.1M356.3 662.0h1.1M343.2 650.6h1.1M359.6 659.9h1.1M347.6 652.5h1.1M344.4 667.6h1.1M344.1 658.2h1.1M346.5 657.3h1.1M340.6 665.7h1.1M349.9 663.0h1.1M342.2 657.2h1.1M363.6 658.1h1.1M346.2 650.0h1.1M344.6 661.6h1.1M346.0 654.5h1.1M357.3 667.9h1.1M348.6 674.4h1.1M346.6 655.9h1.1M337.9 652.5h1.1M343.9 672.7h1.1M341.2 657.9h1.1M350.4 661.2h1.1M333.1 657.1h1.1M340.7 657.6h1.1M335.3 655.7h1.1M347.2 651.4h1.1M350.3 660.6h1.1M355.0 651.3h1.1M339.8 658.4h1.1M349.6 654.8h1.1M337.4 658.2h1.1M357.0 652.7h1.1M353.1 650.8h1.1M354.0 650.1h1.1M356.7 657.8h1.1M357.2 655.8h1.1M339.3 652.5h1.1M342.0 659.8h1.1M344.6 661.6h1.1M348.3 655.4h1.1M345.4 656.6h1.1M352.7 666.1h1.1M345.7 658.5h1.1M356.6 666.5h1.1M342.9 651.2h1.1M345.1 665.6h1.1M346.0 664.0h1.1M348.1 661.8h1.1M352.3 657.6h1.1M344.6 658.7h1.1M366.3 652.4h1.1M354.8 656.9h1.1M339.6 657.7h1.1M355.5 650.9h1.1M341.2 662.8h1.1M339.4 665.3h1.1M357.3 654.3h1.1M350.4 665.3h1.1M355.8 646.4h1.1M338.7 658.9h1.1M357.3 667.7h1.1M352.1 657.7h1.1M343.0 662.6h1.1M349.4 670.0h1.1M363.1 663.1h1.1M343.5 657.9h1.1M357.2 660.1h1.1M353.2 654.9h1.1M332.8 662.7h1.1M362.5 656.0h1.1M350.9 647.5h1.1M359.8 672.7h1.1M359.4 652.3h1.1M350.3 659.4h1.1M352.0 655.0h1.1M352.8 659.4h1.1M341.0 652.5h1.1M361.4 660.0h1.1M352.7 670.7h1.1M344.8 665.8h1.1M357.6 654.2h1.1M348.2 660.5h1.1M338.2 648.4h1.1M345.0 666.3h1.1M347.7 667.9h1.1M337.1 656.6h1.1M351.9 665.2h1.1M355.0 664.9h1.1M354.5 659.5h1.1M360.7 663.4h1.1M344.8 663.7h1.1M353.9 659.7h1.1M353.8 657.0h1.1M346.7 649.0h1.1M346.5 666.8h1.1M331.0 656.2h1.1M353.9 662.4h1.1M338.2 658.3h1.1M351.2 664.9h1.1M350.1 654.7h1.1M353.6 659.2h1.1M341.4 658.7h1.1M351.5 658.1h1.1M346.3 658.4h1.1M350.1 662.7h1.1M341.5 655.6h1.1M353.9 655.9h1.1M342.8 651.0h1.1M339.2 652.8h1.1M348.9 662.3h1.1M350.5 659.4h1.1M353.8 658.1h1.1M340.1 659.1h1.1M350.5 670.9h1.1M349.5 671.0h1.1M348.3 650.5h1.1M347.5 657.0h1.1M348.7 656.6h1.1M366.2 660.4h1.1M348.2 658.3h1.1M349.2 664.9h1.1M349.4 664.1h1.1M342.5 659.9h1.1M348.7 659.6h1.1M340.8 654.8h1.1M338.2 661.1h1.1M358.4 658.4h1.1M339.4 656.5h1.1M357.2 648.9h1.1M347.0 659.2h1.1M346.0 660.1h1.1M352.5 660.7h1.1M355.8 664.7h1.1M338.0 652.3h1.1M347.8 659.1h1.1M350.8 651.8h1.1M340.3 668.9h1.1M350.4 660.6h1.1M361.8 647.5h1.1M351.0 657.2h1.1M348.5 666.7h1.1M348.6 650.1h1.1M341.0 650.9h1.1M357.6 655.0h1.1M341.1 657.4h1.1M339.5 661.1h1.1M350.1 659.8h1.1M357.5 656.2h1.1M355.9 648.7h1.1M356.1 669.2h1.1M343.4 663.2h1.1M342.1 659.2h1.1M353.1 655.4h1.1M341.5 657.9h1.1M348.9 660.8h1.1M349.9 648.4h1.1M357.2 661.4h1.1M338.7 657.7h1.1M356.9 670.9h1.1M348.3 655.4h1.1M358.3 658.2h1.1M349.2 649.2h1.1M341.9 660.9h1.1M362.7 660.8h1.1M348.2 656.4h1.1M341.0 651.6h1.1M354.8 669.4h1.1M347.0 653.5h1.1M338.0 655.9h1.1M356.8 648.9h1.1M347.2 665.7h1.1M360.7 654.5h1.1M351.2 661.4h1.1M350.6 658.1h1.1M350.8 659.7h1.1M348.1 657.4h1.1M346.8 672.0h1.1M349.4 665.0h1.1M342.9 667.2h1.1M357.0 659.5h1.1M367.1 663.4h1.1M362.8 653.4h1.1M333.3 663.0h1.1M349.8 654.8h1.1M341.9 661.8h1.1M355.5 665.1h1.1M349.2 656.1h1.1M339.5 652.9h1.1M359.2 650.8h1.1M348.6 655.7h1.1M344.4 651.0h1.1M346.5 661.4h1.1M347.4 660.5h1.1M344.4 652.5h1.1M355.2 657.9h1.1M347.5 661.7h1.1M356.4 655.3h1.1M349.9 657.2h1.1M359.1 650.7h1.1M344.1 658.1h1.1M331.8 649.6h1.1M352.8 665.1h1.1M361.2 656.8h1.1M353.2 658.8h1.1M343.8 660.0h1.1M349.0 666.1h1.1M347.5 650.3h1.1M351.2 655.0h1.1M350.2 660.9h1.1M336.6 648.6h1.1M351.8 663.4h1.1M345.0 658.2h1.1M352.8 655.1h1.1M348.7 655.6h1.1M356.7 658.4h1.1M342.3 659.9h1.1M344.1 656.7h1.1M340.3 657.2h1.1M355.0 662.6h1.1M353.6 653.5h1.1M349.1 658.3h1.1M347.6 656.8h1.1M338.5 669.5h1.1M343.9 659.3h1.1M350.7 652.1h1.1M344.9 660.7h1.1M349.1 661.6h1.1M342.0 658.0h1.1M342.5 658.6h1.1M344.6 655.5h1.1M353.5 665.0h1.1M348.8 659.9h1.1M342.5 655.6h1.1M346.2 660.9h1.1M361.7 647.7h1.1M357.6 666.7h1.1M353.5 656.6h1.1M354.7 650.0h1.1M339.6 659.5h1.1M345.0 662.8h1.1M342.9 647.7h1.1M348.2 661.9h1.1M338.7 659.0h1.1M350.0 661.0h1.1M355.1 660.1h1.1M344.4 650.8h1.1M353.8 657.0h1.1M356.0 665.6h1.1M344.9 655.3h1.1M358.5 659.7h1.1M341.3 657.5h1.1M346.5 665.8h1.1M340.2 654.7h1.1M355.2 663.5h1.1M351.0 655.5h1.1M342.6 643.4h1.1M354.2 660.2h1.1M349.8 651.0h1.1M336.5 656.1h1.1M346.2 665.6h1.1M366.2 650.6h1.1M343.8 663.4h1.1M356.4 663.2h1.1M348.3 655.6h1.1M346.2 650.5h1.1M344.4 654.0h1.1M357.6 666.8h1.1M351.4 649.4h1.1M348.1 655.5h1.1M358.0 652.7h1.1M352.3 658.2h1.1M355.4 655.2h1.1M361.1 660.5h1.1M348.1 657.3h1.1M346.0 664.9h1.1M355.2 657.1h1.1M369.6 661.3h1.1M356.2 667.9h1.1M357.4 661.2h1.1M342.4 653.2h1.1M355.1 658.0h1.1M347.4 665.9h1.1M354.6 667.0h1.1M347.3 652.8h1.1M348.6 663.7h1.1M341.7 658.3h1.1M353.8 659.8h1.1M352.7 644.0h1.1M353.2 664.3h1.1M342.8 660.5h1.1M349.3 658.4h1.1M373.2 656.7h1.1M340.4 654.0h1.1M344.5 658.9h1.1M352.3 655.7h1.1M366.8 661.3h1.1M349.6 656.4h1.1M351.0 653.5h1.1M348.0 655.4h1.1M355.0 653.9h1.1M341.1 656.0h1.1M357.3 660.8h1.1M346.4 657.9h1.1M343.6 653.7h1.1M351.6 654.5h1.1M343.2 656.5h1.1M349.7 661.7h1.1M345.9 659.7h1.1M352.4 668.7h1.1M350.4 645.5h1.1M351.6 652.4h1.1M352.0 659.4h1.1M341.8 644.7h1.1M353.1 653.7h1.1M356.9 650.2h1.1M340.0 649.8h1.1M351.2 667.1h1.1M350.8 651.4h1.1M353.5 650.0h1.1M349.7 667.3h1.1M348.8 650.0h1.1M349.3 660.6h1.1M338.2 661.3h1.1M349.8 645.0h1.1M353.0 652.2h1.1M345.9 665.2h1.1M354.0 655.1h1.1M354.6 670.4h1.1M360.4 655.3h1.1M362.4 656.9h1.1M341.3 652.8h1.1M335.5 654.9h1.1M348.4 668.9h1.1M347.1 652.7h1.1M352.3 658.8h1.1M357.7 652.1h1.1M354.7 652.3h1.1M346.0 664.1h1.1M345.3 661.3h1.1M346.1 664.0h1.1M351.7 661.2h1.1M361.3 651.6h1.1M354.9 659.7h1.1M341.9 658.1h1.1M351.8 651.7h1.1M345.9 666.0h1.1M347.0 650.3h1.1M366.7 668.5h1.1M345.9 660.9h1.1M347.2 660.8h1.1M354.5 671.6h1.1M356.1 670.4h1.1M351.0 654.3h1.1M351.8 657.3h1.1M330.7 666.7h1.1M344.4 669.4h1.1M339.4 655.9h1.1M361.6 654.2h1.1M350.1 667.5h1.1M342.2 664.2h1.1M351.1 654.0h1.1M349.7 661.9h1.1M362.6 672.6h1.1M351.7 655.6h1.1M352.0 660.2h1.1M341.8 650.6h1.1M343.8 658.0h1.1M348.8 662.9h1.1M347.5 658.0h1.1M358.0 651.1h1.1M336.6 666.8h1.1M356.7 653.7h1.1M358.5 660.4h1.1M344.5 668.3h1.1M338.1 653.9h1.1M350.2 663.0h1.1M350.2 664.1h1.1M341.7 657.1h1.1M359.6 656.7h1.1M345.4 655.0h1.1M349.4 657.1h1.1M332.6 647.9h1.1M360.5 666.3h1.1M348.7 663.9h1.1M344.3 662.2h1.1M356.7 655.7h1.1M347.6 660.3h1.1M357.4 655.6h1.1M354.6 658.3h1.1M345.1 665.2h1.1M360.0 651.2h1.1M350.8 656.5h1.1M340.9 659.1h1.1M349.0 654.9h1.1M339.8 663.0h1.1M357.4 658.9h1.1M334.4 662.4h1.1M361.4 658.1h1.1M337.6 651.1h1.1M348.7 656.1h1.1M347.2 658.3h1.1M354.5 667.7h1.1M352.7 657.2h1.1M345.6 649.1h1.1M359.8 656.4h1.1M348.5 650.3h1.1M352.4 658.0h1.1M343.7 661.2h1.1M366.4 656.9h1.1M348.0 662.0h1.1M344.5 656.7h1.1M360.5 657.0h1.1M350.7 653.1h1.1M340.3 656.7h1.1M348.6 651.4h1.1M345.6 660.6h1.1M350.9 668.5h1.1M344.0 651.5h1.1M352.5 656.2h1.1M353.8 654.1h1.1M336.2 669.4h1.1M346.1 662.1h1.1M360.8 655.7h1.1M339.3 660.0h1.1M354.2 661.5h1.1M337.2 656.7h1.1M365.2 651.1h1.1M358.8 649.6h1.1M344.9 651.1h1.1M357.4 664.3h1.1M353.4 653.5h1.1M353.0 661.3h1.1M360.9 651.0h1.1M348.5 662.1h1.1M348.3 652.5h1.1M346.6 671.2h1.1M355.6 665.2h1.1M352.8 657.8h1.1M347.0 657.1h1.1M347.3 656.9h1.1M340.5 655.9h1.1M350.2 652.5h1.1M359.8 667.9h1.1M342.9 651.5h1.1M333.0 658.5h1.1M344.4 657.4h1.1M338.2 660.0h1.1M341.9 659.7h1.1M347.2 662.9h1.1M345.1 662.7h1.1M346.2 651.0h1.1M356.3 658.7h1.1M360.9 658.5h1.1M348.3 670.1h1.1M343.3 651.3h1.1M351.9 650.7h1.1M348.5 648.1h1.1M359.3 662.4h1.1M352.6 654.6h1.1M339.0 666.7h1.1M354.3 656.6h1.1M341.2 658.6h1.1M345.2 656.5h1.1M339.0 666.4h1.1M350.6 670.3h1.1M352.3 658.0h1.1M354.3 656.0h1.1M355.4 663.2h1.1M359.2 658.4h1.1M348.2 666.3h1.1M348.4 655.0h1.1M357.0 656.0h1.1M355.9 665.4h1.1M343.6 658.3h1.1M350.5 657.7h1.1M347.4 666.5h1.1M350.4 659.6h1.1M349.8 655.1h1.1M352.1 664.1h1.1M342.1 661.5h1.1M360.3 663.4h1.1M359.7 659.2h1.1M345.7 655.5h1.1M348.6 672.1h1.1M348.7 653.7h1.1M359.1 664.9h1.1M352.7 661.2h1.1M346.4 651.1h1.1M348.5 655.9h1.1M338.8 673.3h1.1M347.3 653.1h1.1M348.1 660.9h1.1M350.1 666.8h1.1M348.5 667.8h1.1M349.2 659.0h1.1M351.2 658.9h1.1M343.3 648.5h1.1M337.8 655.1h1.1M345.5 657.3h1.1M350.3 664.2h1.1M337.3 654.1h1.1M353.2 653.3h1.1M352.2 653.9h1.1M340.0 653.9h1.1M346.1 649.3h1.1M347.9 654.1h1.1M356.7 650.7h1.1M352.5 654.4h1.1M344.4 661.9h1.1M354.2 652.3h1.1M340.0 649.4h1.1M343.6 663.8h1.1M343.3 658.9h1.1M339.9 658.0h1.1M357.7 662.4h1.1M346.6 661.7h1.1M342.9 648.3h1.1M344.2 648.0h1.1M352.8 664.0h1.1M349.9 660.8h1.1M347.5 655.6h1.1M353.9 652.3h1.1M336.2 662.7h1.1M343.5 669.7h1.1M346.9 649.9h1.1M352.9 651.9h1.1M341.9 665.2h1.1M354.9 667.0h1.1M362.1 667.0h1.1M355.1 656.7h1.1M343.8 666.3h1.1M357.4 656.5h1.1M341.3 660.8h1.1M360.5 665.9h1.1M342.5 650.8h1.1M351.3 655.8h1.1M346.5 667.4h1.1M353.5 665.3h1.1M343.4 658.1h1.1M357.8 662.3h1.1M358.8 664.8h1.1M352.1 656.1h1.1M343.9 651.9h1.1M344.5 655.6h1.1M349.8 672.8h1.1M349.9 655.7h1.1M351.2 664.1h1.1M346.1 659.7h1.1M358.4 652.8h1.1M346.8 664.0h1.1M352.1 662.4h1.1M349.7 671.0h1.1M346.8 657.9h1.1M354.5 655.3h1.1M361.2 660.8h1.1M349.3 647.8h1.1M361.0 667.0h1.1M354.5 665.9h1.1M360.7 657.8h1.1M341.5 664.1h1.1M339.2 657.4h1.1M335.1 652.3h1.1M349.7 652.5h1.1M349.7 649.4h1.1M349.1 667.7h1.1M345.5 656.9h1.1M341.2 655.6h1.1M336.3 657.2h1.1M344.7 646.3h1.1M356.7 668.9h1.1M350.1 657.9h1.1M336.3 663.9h1.1M346.3 672.2h1.1M361.8 662.6h1.1M359.3 657.6h1.1M340.5 658.2h1.1M344.7 661.8h1.1M348.6 652.5h1.1M347.6 657.3h1.1M368.8 657.7h1.1M347.6 668.3h1.1M337.7 655.6h1.1M353.9 669.2h1.1M339.7 660.0h1.1M348.3 657.2h1.1M338.0 657.7h1.1M353.9 663.8h1.1M344.8 657.7h1.1M350.6 654.0h1.1M340.4 659.9h1.1M356.2 667.7h1.1M353.7 658.5h1.1M351.2 649.9h1.1M346.2 646.2h1.1M345.5 648.4h1.1M354.3 672.3h1.1M347.7 652.9h1.1M351.0 654.2h1.1M354.0 650.0h1.1M358.8 668.0h1.1M348.3 651.9h1.1M351.8 652.0h1.1M351.2 657.5h1.1M359.2 662.8h1.1M340.9 658.6h1.1M345.1 666.7h1.1M357.5 658.0h1.1M350.8 652.5h1.1M341.0 660.0h1.1M352.8 653.8h1.1M361.4 661.4h1.1M361.8 648.8h1.1M346.7 661.4h1.1M354.4 660.6h1.1M343.6 656.7h1.1M339.5 662.4h1.1M342.8 659.6h1.1M356.6 668.3h1.1M358.1 659.6h1.1M333.5 657.7h1.1M341.9 664.5h1.1M336.6 657.6h1.1M332.1 656.4h1.1M346.0 657.5h1.1M352.4 657.5h1.1M356.1 660.2h1.1M343.8 651.6h1.1M358.0 662.9h1.1M346.2 649.7h1.1M344.0 655.6h1.1M352.8 659.8h1.1M355.0 663.6h1.1M344.0 652.6h1.1M346.4 653.6h1.1M353.3 665.8h1.1M352.7 653.4h1.1M358.3 669.6h1.1M357.6 664.1h1.1M343.4 662.4h1.1M353.4 655.9h1.1M355.9 646.2h1.1M360.5 643.3h1.1M350.2 656.1h1.1M348.1 660.9h1.1M347.7 665.0h1.1M336.5 665.5h1.1M360.3 655.7h1.1M335.1 656.9h1.1M351.4 659.3h1.1M356.2 653.7h1.1M356.3 651.5h1.1M342.7 656.8h1.1M348.9 644.1h1.1M344.3 657.7h1.1M344.5 661.3h1.1M352.8 653.8h1.1M342.6 656.7h1.1M363.8 664.6h1.1M343.7 650.1h1.1M341.8 671.9h1.1M342.4 659.7h1.1M359.9 661.3h1.1M343.4 651.5h1.1M354.9 663.2h1.1M347.9 658.9h1.1M358.1 659.8h1.1M357.9 664.2h1.1M351.7 669.1h1.1M346.5 663.6h1.1M342.3 666.1h1.1M337.5 651.4h1.1M343.3 670.5h1.1M352.0 669.9h1.1M354.7 650.2h1.1M349.8 661.0h1.1M345.7 664.3h1.1M354.8 657.7h1.1M346.2 652.7h1.1M367.5 667.7h1.1M349.9 661.4h1.1M350.9 659.9h1.1M348.6 657.9h1.1M349.1 654.4h1.1M345.4 669.5h1.1M357.4 666.7h1.1M362.9 657.1h1.1M348.4 662.1h1.1M351.0 656.5h1.1M342.7 664.6h1.1M353.7 651.3h1.1M343.2 658.7h1.1M346.1 649.2h1.1M352.5 652.5h1.1M350.1 652.5h1.1M355.0 665.3h1.1M353.4 659.6h1.1M356.2 658.4h1.1M366.9 653.4h1.1M342.1 669.3h1.1M361.2 653.6h1.1M347.4 664.9h1.1M344.6 650.0h1.1M356.3 655.1h1.1M349.1 656.5h1.1M353.3 654.5h1.1M349.3 657.5h1.1M342.7 662.4h1.1M340.8 659.2h1.1M363.4 657.7h1.1M347.7 660.0h1.1M353.2 669.1h1.1M347.5 651.3h1.1M349.2 654.4h1.1M341.5 659.5h1.1M345.4 664.4h1.1M356.2 664.0h1.1M344.0 652.5h1.1M352.6 647.1h1.1M344.5 653.4h1.1M345.1 662.6h1.1M351.9 657.5h1.1M353.9 663.1h1.1M353.6 666.5h1.1M360.1 656.5h1.1M341.2 656.4h1.1M343.1 663.2h1.1M348.0 653.3h1.1M350.7 662.3h1.1M358.7 659.8h1.1M347.6 655.0h1.1M342.3 655.4h1.1M352.0 661.0h1.1M351.4 645.1h1.1M346.9 666.2h1.1M341.4 661.5h1.1M345.6 665.0h1.1M352.6 662.3h1.1M353.8 664.8h1.1M342.5 653.3h1.1M345.6 666.4h1.1M334.5 664.3h1.1M347.1 661.1h1.1M343.9 660.6h1.1M354.9 649.8h1.1M357.4 656.5h1.1M350.5 649.8h1.1M352.1 659.8h1.1M363.2 649.8h1.1M347.6 660.0h1.1M352.9 669.4h1.1M341.6 665.7h1.1M347.8 653.8h1.1M353.5 660.5h1.1M349.1 663.0h1.1M338.5 658.9h1.1M343.9 658.1h1.1M350.8 657.8h1.1M351.9 652.5h1.1M349.5 658.0h1.1M367.1 661.3h1.1M341.2 659.5h1.1M363.6 662.2h1.1M339.4 669.7h1.1M354.9 662.0h1.1M359.3 648.1h1.1M351.4 657.1h1.1M351.7 647.1h1.1M357.5 651.7h1.1M353.1 664.9h1.1M350.5 659.6h1.1M340.5 654.6h1.1M351.5 656.8h1.1M354.1 652.6h1.1M349.2 653.6h1.1M338.0 659.4h1.1M348.5 659.9h1.1M345.9 667.1h1.1M369.9 667.0h1.1M340.5 657.7h1.1M359.9 663.9h1.1M342.8 656.0h1.1M349.9 655.3h1.1M351.0 670.8h1.1M357.3 671.6h1.1M358.8 642.0h1.1M353.2 650.8h1.1M352.7 668.9h1.1M352.7 644.2h1.1M349.4 656.4h1.1M355.9 650.5h1.1M347.4 657.8h1.1M350.0 660.7h1.1M357.3 659.6h1.1M360.5 660.1h1.1M366.0 663.8h1.1M350.5 652.3h1.1M346.9 655.7h1.1M358.8 656.8h1.1M349.2 661.2h1.1M349.0 663.0h1.1M345.3 654.1h1.1M347.5 664.5h1.1M342.2 646.1h1.1M350.0 655.3h1.1M352.2 657.2h1.1M360.6 660.5h1.1M346.0 657.0h1.1M361.0 654.8h1.1M351.8 668.5h1.1M354.8 664.3h1.1M342.0 659.7h1.1M359.7 662.9h1.1M336.5 665.7h1.1M355.5 659.6h1.1M354.7 652.8h1.1M360.4 666.8h1.1M355.2 664.3h1.1M340.7 657.6h1.1M349.5 662.9h1.1M340.3 659.3h1.1M358.3 653.2h1.1M361.3 661.8h1.1M345.8 653.3h1.1M360.9 655.6h1.1M344.1 657.9h1.1M357.3 666.0h1.1M347.0 646.6h1.1M359.9 659.1h1.1M347.2 659.0h1.1M337.7 668.0h1.1M352.8 671.0h1.1M339.5 653.2h1.1M338.5 666.4h1.1M344.9 659.7h1.1M343.8 651.5h1.1M344.5 660.3h1.1M346.0 655.8h1.1M350.1 655.2h1.1M349.0 651.7h1.1M338.5 650.6h1.1M341.6 662.9h1.1M338.3 650.8h1.1M367.8 655.9h1.1M357.5 652.9h1.1M346.6 657.0h1.1M346.1 661.4h1.1M350.2 665.1h1.1M347.4 660.2h1.1M343.2 665.4h1.1M340.2 650.1h1.1M344.1 654.5h1.1M337.5 647.9h1.1M342.2 659.3h1.1M360.7 654.2h1.1M342.6 659.0h1.1M355.3 666.5h1.1M354.6 654.4h1.1M355.2 645.0h1.1M351.4 668.3h1.1M355.6 672.3h1.1M346.0 659.3h1.1M348.4 663.4h1.1M357.7 658.2h1.1M354.0 660.9h1.1M350.7 650.4h1.1M351.0 663.7h1.1M345.4 648.9h1.1M356.6 668.3h1.1M347.8 664.7h1.1M339.6 666.2h1.1M347.3 665.6h1.1M341.1 660.3h1.1M344.6 647.2h1.1M337.8 661.8h1.1M345.3 663.1h1.1M352.3 663.2h1.1M346.9 654.7h1.1M347.7 661.0h1.1M343.6 661.7h1.1M349.5 658.6h1.1M359.1 664.2h1.1M336.4 651.7h1.1M364.9 667.8h1.1M351.0 653.1h1.1M343.2 660.4h1.1M358.3 655.5h1.1M354.2 661.6h1.1M344.4 664.1h1.1M335.7 657.4h1.1M345.5 668.6h1.1M346.1 650.8h1.1M344.5 647.3h1.1M352.6 650.6h1.1M352.5 659.6h1.1M351.1 659.2h1.1M352.6 663.9h1.1M341.4 661.6h1.1M338.8 656.6h1.1M341.0 666.0h1.1M352.2 655.8h1.1M347.3 652.3h1.1M354.2 653.3h1.1M353.6 666.1h1.1M335.0 669.2h1.1M355.7 666.5h1.1M342.9 648.6h1.1M346.9 656.5h1.1M350.3 651.3h1.1M366.7 662.4h1.1M352.5 659.9h1.1M335.5 663.0h1.1M345.0 648.5h1.1M342.2 656.7h1.1M359.4 667.9h1.1M342.5 663.8h1.1M349.6 663.1h1.1M349.4 655.0h1.1M339.7 661.5h1.1M343.3 653.7h1.1M354.5 671.5h1.1M361.3 655.1h1.1M362.5 647.9h1.1M354.4 660.0h1.1M347.6 660.4h1.1M340.7 653.1h1.1M337.7 651.6h1.1M340.5 654.6h1.1M349.9 648.2h1.1M351.4 658.0h1.1M345.5 656.3h1.1M354.8 648.4h1.1M349.7 656.7h1.1M352.2 661.5h1.1M363.6 657.4h1.1M355.4 650.4h1.1M339.3 653.1h1.1M334.1 662.4h1.1M347.0 652.9h1.1M349.8 666.6h1.1M343.8 659.0h1.1M359.1 668.4h1.1M355.5 656.7h1.1M352.5 658.6h1.1M343.5 651.9h1.1M350.8 648.7h1.1M341.6 652.4h1.1M355.6 652.9h1.1M345.8 652.8h1.1M350.0 663.3h1.1M366.2 665.5h1.1M351.1 651.8h1.1M358.2 643.8h1.1M361.0 658.5h1.1M343.0 662.5h1.1M353.4 661.5h1.1M346.9 648.0h1.1M357.0 660.7h1.1M344.4 659.3h1.1M360.6 659.1h1.1M335.7 655.1h1.1M357.0 664.6h1.1M345.0 659.8h1.1M344.8 661.3h1.1M350.6 662.9h1.1M350.0 657.7h1.1M349.6 661.3h1.1M355.2 646.3h1.1M346.7 664.1h1.1M343.5 661.2h1.1M352.5 662.0h1.1M353.0 655.9h1.1M358.6 651.1h1.1M356.9 653.8h1.1M347.9 664.1h1.1M346.9 658.6h1.1M350.8 653.0h1.1M349.7 645.6h1.1M344.5 656.7h1.1M354.2 656.7h1.1M339.7 657.0h1.1M361.2 658.9h1.1M352.3 658.3h1.1M348.6 653.3h1.1M349.3 659.1h1.1M342.3 663.9h1.1M350.6 667.3h1.1M349.9 663.6h1.1M340.2 661.4h1.1M348.2 656.6h1.1M341.3 664.8h1.1M350.9 664.4h1.1M357.3 653.0h1.1M336.1 658.6h1.1M347.2 651.3h1.1M347.8 655.8h1.1M343.3 658.4h1.1M345.2 658.4h1.1M358.1 662.9h1.1M352.1 666.3h1.1M350.0 659.3h1.1M349.5 648.6h1.1M349.6 650.9h1.1M360.7 660.2h1.1M343.9 664.1h1.1M349.8 653.2h1.1M357.2 662.6h1.1M354.0 666.1h1.1M339.2 652.3h1.1M347.2 659.1h1.1M342.5 655.1h1.1M353.4 672.5h1.1M354.2 650.0h1.1M357.0 660.9h1.1M351.8 654.9h1.1M342.3 652.7h1.1M363.0 664.1h1.1M342.0 658.2h1.1M340.7 654.6h1.1M351.0 669.5h1.1M338.4 667.8h1.1M356.0 650.6h1.1M343.0 666.0h1.1M364.1 663.4h1.1M351.4 661.9h1.1M344.6 654.9h1.1M342.7 657.1h1.1M346.2 659.3h1.1M346.0 665.4h1.1M340.7 663.8h1.1M351.0 665.6h1.1M348.8 669.0h1.1M346.5 669.0h1.1M342.6 662.3h1.1M351.7 657.2h1.1M351.5 657.9h1.1M352.1 660.6h1.1M339.8 658.5h1.1M354.3 652.6h1.1M352.9 661.8h1.1M356.4 658.7h1.1M342.9 655.1h1.1M345.4 664.6h1.1M357.8 661.3h1.1M345.5 665.1h1.1M340.7 665.9h1.1M346.8 659.4h1.1M342.0 664.2h1.1M353.5 666.3h1.1M346.4 671.7h1.1M331.8 659.3h1.1M352.5 663.0h1.1M344.6 659.8h1.1M345.4 662.2h1.1M350.7 653.6h1.1M355.9 648.7h1.1M346.8 662.1h1.1M334.9 651.6h1.1M361.8 664.7h1.1M341.6 658.4h1.1M351.5 675.7h1.1M350.3 662.7h1.1M351.4 655.5h1.1M349.0 657.8h1.1M347.5 658.5h1.1M344.3 653.0h1.1M350.7 662.5h1.1M361.1 671.7h1.1M347.4 658.5h1.1M351.9 661.9h1.1M346.0 655.7h1.1M370.2 658.5h1.1M337.7 654.9h1.1M353.1 658.7h1.1M342.3 654.3h1.1M366.1 650.9h1.1M357.6 659.5h1.1M359.0 660.0h1.1M356.1 657.3h1.1M347.1 665.2h1.1M342.0 648.6h1.1M353.7 660.0h1.1M345.7 661.1h1.1M349.5 652.8h1.1M347.4 663.5h1.1M342.3 673.1h1.1M348.0 651.9h1.1M358.7 659.4h1.1M352.0 669.1h1.1M349.7 658.2h1.1M363.5 659.3h1.1M345.1 657.7h1.1M354.0 666.4h1.1M345.1 654.6h1.1M351.8 661.8h1.1M347.9 656.0h1.1M338.9 663.3h1.1M348.4 649.3h1.1M356.1 658.9h1.1M341.2 663.3h1.1M357.8 662.5h1.1M368.1 656.2h1.1M342.5 660.9h1.1M351.9 665.0h1.1M348.8 652.6h1.1M343.1 666.1h1.1M349.5 658.2h1.1M356.6 653.8h1.1M354.2 649.4h1.1M349.8 655.5h1.1M355.5 663.7h1.1M349.6 659.0h1.1M337.4 655.4h1.1M353.3 673.0h1.1M361.9 668.9h1.1M348.9 653.4h1.1M340.9 656.9h1.1M340.8 665.8h1.1M346.6 648.6h1.1M341.8 668.7h1.1M355.3 660.9h1.1M343.3 653.9h1.1M359.7 664.1h1.1M353.1 650.8h1.1M354.3 668.7h1.1M345.0 647.7h1.1M341.1 657.6h1.1M339.0 660.4h1.1M347.5 661.7h1.1M346.1 659.1h1.1M354.0 668.6h1.1M362.9 660.1h1.1M343.3 646.9h1.1M345.9 651.3h1.1M351.2 661.6h1.1M357.8 649.7h1.1M354.4 673.4h1.1M342.9 649.5h1.1M350.1 653.1h1.1M344.9 661.3h1.1M354.5 665.1h1.1M340.2 666.5h1.1M348.2 661.1h1.1M357.6 660.2h1.1M364.3 656.8h1.1M342.7 650.0h1.1M361.8 660.2h1.1M345.3 656.1h1.1M360.2 660.4h1.1M357.2 661.5h1.1M359.5 660.0h1.1M367.0 661.9h1.1M349.8 656.5h1.1M367.4 659.4h1.1M355.4 649.2h1.1M336.5 660.0h1.1M348.6 647.3h1.1M348.9 661.0h1.1M340.0 659.9h1.1M357.0 654.5h1.1M349.8 659.9h1.1M357.7 671.3h1.1M360.0 658.7h1.1M357.1 655.7h1.1M356.2 652.3h1.1M343.7 661.8h1.1M354.1 660.0h1.1M359.6 662.2h1.1M349.4 658.4h1.1M347.7 659.3h1.1M344.5 655.3h1.1M346.1 656.5h1.1M358.6 654.0h1.1M349.1 647.1h1.1M347.4 659.3h1.1M340.8 654.8h1.1M349.7 650.8h1.1M344.8 657.9h1.1M350.9 661.0h1.1M342.9 666.5h1.1M356.7 661.0h1.1M347.0 656.9h1.1M365.7 669.3h1.1M350.0 655.3h1.1M357.3 657.9h1.1M354.0 670.1h1.1M345.4 661.3h1.1M330.5 656.3h1.1M349.6 666.6h1.1M347.9 658.2h1.1M354.4 661.6h1.1M350.0 649.2h1.1M357.8 663.3h1.1M351.0 655.1h1.1M340.1 658.1h1.1M345.4 656.2h1.1M346.1 651.3h1.1M354.4 657.6h1.1M350.3 661.6h1.1M345.7 653.1h1.1M339.0 656.1h1.1M355.0 665.7h1.1M358.0 664.4h1.1M352.3 655.7h1.1M346.2 656.8h1.1M348.3 652.3h1.1M352.0 663.5h1.1M345.9 647.9h1.1M346.9 667.3h1.1M341.9 664.3h1.1M344.6 658.2h1.1M350.1 659.3h1.1M354.6 656.7h1.1M342.7 647.8h1.1M340.0 665.1h1.1M350.6 667.3h1.1M342.4 654.1h1.1M350.8 656.0h1.1M340.6 664.5h1.1M348.1 655.9h1.1M348.2 659.6h1.1M347.5 658.6h1.1M358.2 654.1h1.1M351.3 656.4h1.1M345.9 660.3h1.1M342.0 663.3h1.1M358.8 644.3h1.1M342.3 667.4h1.1M357.4 646.9h1.1M349.6 668.9h1.1M358.3 661.6h1.1M354.2 656.1h1.1M343.8 665.0h1.1M343.5 665.8h1.1M351.9 660.2h1.1M353.9 660.0h1.1M344.4 657.4h1.1M340.5 668.7h1.1M346.8 645.2h1.1M354.8 656.0h1.1M354.0 665.4h1.1M350.8 655.0h1.1M347.4 660.2h1.1M352.2 654.0h1.1M338.8 661.6h1.1M356.8 660.5h1.1M341.9 669.3h1.1M359.1 662.3h1.1M344.5 657.1h1.1M358.9 646.8h1.1M338.8 671.9h1.1M339.5 654.5h1.1M345.2 660.7h1.1M359.8 660.6h1.1M341.8 660.3h1.1M336.0 661.2h1.1M355.0 669.2h1.1M342.6 658.5h1.1M339.7 665.1h1.1M342.5 656.9h1.1M349.8 665.2h1.1M343.3 655.4h1.1M342.5 662.8h1.1M338.3 659.4h1.1M348.0 664.0h1.1M349.4 660.8h1.1M350.9 652.9h1.1M361.6 666.4h1.1M349.5 661.7h1.1M338.8 648.6h1.1M346.1 659.2h1.1M349.0 653.0h1.1M350.6 647.7h1.1M356.3 658.6h1.1M354.4 648.4h1.1M348.7 670.3h1.1M345.3 665.3h1.1M344.1 658.3h1.1M344.4 658.1h1.1M342.6 677.8h1.1M340.7 664.8h1.1M346.3 665.0h1.1M346.8 657.5h1.1M345.1 652.7h1.1M349.0 656.0h1.1M349.3 662.1h1.1M344.4 670.0h1.1M351.1 654.2h1.1M347.4 662.8h1.1M350.7 657.5h1.1M340.9 645.1h1.1M343.6 667.8h1.1M346.0 663.0h1.1M347.4 661.8h1.1M348.4 658.9h1.1M357.5 650.0h1.1M354.6 655.3h1.1M347.4 658.1h1.1M364.9 674.4h1.1M349.0 668.3h1.1M352.9 654.6h1.1M354.5 649.9h1.1M352.4 655.4h1.1M332.1 654.5h1.1M354.6 655.6h1.1M351.1 658.7h1.1M350.3 664.6h1.1M347.5 645.5h1.1M346.5 666.4h1.1M334.3 661.0h1.1M350.1 666.9h1.1M341.7 649.8h1.1M351.9 648.0h1.1M356.1 663.8h1.1M350.6 665.2h1.1M360.8 664.8h1.1M346.4 666.2h1.1M345.2 649.0h1.1M346.2 657.1h1.1M345.5 670.6h1.1M335.9 648.5h1.1M340.4 662.1h1.1M361.4 663.5h1.1M359.1 653.3h1.1M353.4 659.9h1.1M329.7 655.5h1.1M351.5 663.5h1.1M350.7 651.4h1.1M355.3 657.8h1.1M345.6 646.9h1.1M337.1 662.8h1.1M349.0 661.4h1.1M338.1 661.6h1.1M355.0 646.7h1.1M354.9 648.8h1.1M355.9 654.9h1.1M351.9 649.1h1.1M354.8 662.3h1.1M357.3 667.7h1.1M354.4 658.0h1.1M348.7 658.0h1.1M343.0 658.3h1.1M344.8 653.6h1.1M352.5 662.8h1.1M353.8 654.7h1.1M354.0 655.8h1.1M351.8 657.5h1.1M337.5 667.6h1.1M351.6 669.8h1.1M359.3 658.9h1.1M348.9 656.6h1.1M360.6 649.4h1.1M345.2 652.7h1.1M347.4 652.4h1.1M348.4 659.5h1.1M341.9 663.9h1.1M347.4 657.7h1.1M343.3 664.6h1.1M361.7 658.2h1.1M350.7 648.1h1.1M363.3 657.9h1.1M353.3 658.2h1.1M334.9 652.7h1.1M343.3 655.9h1.1M365.3 662.5h1.1M348.6 652.3h1.1M355.0 654.1h1.1M338.5 659.7h1.1M352.5 658.6h1.1M343.0 658.9h1.1M352.0 645.9h1.1M360.1 660.5h1.1M353.5 655.0h1.1M339.8 659.8h1.1M359.5 657.4h1.1M338.7 660.9h1.1M353.8 659.5h1.1M348.8 664.0h1.1M348.6 668.7h1.1M346.3 646.5h1.1M350.7 661.6h1.1M364.2 650.0h1.1M348.1 661.3h1.1M340.7 656.3h1.1M340.7 671.7h1.1M341.3 652.1h1.1M348.3 652.4h1.1M351.5 660.1h1.1M356.8 661.1h1.1M350.2 658.3h1.1M340.7 656.0h1.1M340.3 658.7h1.1M356.1 663.1h1.1M360.5 658.8h1.1M347.3 665.6h1.1M339.0 662.3h1.1M345.3 656.6h1.1M354.6 665.2h1.1M340.3 655.2h1.1M353.6 647.6h1.1M344.5 659.2h1.1M343.4 671.7h1.1M363.2 663.5h1.1M341.7 658.5h1.1M342.2 658.1h1.1M344.3 654.8h1.1M349.5 662.4h1.1M343.3 667.6h1.1M346.2 658.9h1.1M344.5 648.7h1.1M355.1 663.6h1.1M349.0 657.6h1.1M351.9 654.5h1.1M338.5 668.6h1.1M353.8 662.6h1.1M354.0 657.4h1.1M338.3 657.1h1.1M351.6 654.2h1.1M356.7 662.4h1.1M353.9 661.5h1.1M345.4 658.0h1.1M352.3 645.6h1.1M354.5 667.7h1.1M351.7 653.5h1.1M348.7 666.8h1.1M354.3 658.9h1.1M364.8 664.7h1.1M346.5 667.6h1.1M347.4 661.2h1.1M343.6 653.5h1.1M356.2 659.1h1.1M350.2 651.8h1.1M346.0 656.6h1.1M354.1 649.7h1.1M347.0 663.5h1.1M352.3 654.8h1.1M353.4 658.4h1.1M347.4 666.8h1.1M338.0 653.3h1.1M357.8 664.7h1.1M352.7 654.4h1.1M351.1 662.0h1.1M354.1 667.6h1.1M337.5 658.9h1.1M359.0 659.0h1.1M356.6 662.4h1.1M361.1 664.1h1.1M357.5 649.7h1.1M339.6 660.3h1.1M346.2 662.9h1.1M350.3 654.0h1.1M350.6 654.7h1.1M344.2 660.4h1.1M352.9 665.8h1.1M352.7 660.0h1.1M351.0 656.2h1.1M353.4 646.0h1.1M354.8 671.5h1.1M358.4 652.3h1.1M355.3 660.5h1.1M361.2 657.8h1.1M342.5 650.3h1.1M355.9 668.3h1.1M342.2 658.9h1.1M370.4 656.9h1.1M351.2 665.4h1.1M340.4 658.5h1.1M341.5 656.6h1.1M352.8 650.6h1.1M351.9 665.4h1.1M350.4 658.5h1.1M343.2 657.3h1.1M357.7 661.3h1.1M362.3 652.0h1.1M344.8 659.7h1.1M352.6 654.7h1.1M346.5 655.1h1.1M353.8 655.2h1.1M343.9 666.0h1.1M353.7 654.1h1.1M332.4 656.4h1.1M343.5 653.1h1.1M354.5 653.3h1.1M353.0 653.4h1.1M354.5 654.8h1.1M362.9 656.0h1.1M348.3 662.2h1.1M350.5 655.6h1.1M345.4 656.8h1.1M338.4 657.3h1.1M355.9 660.0h1.1M349.0 669.5h1.1M348.2 653.9h1.1M347.7 656.7h1.1M359.8 661.7h1.1M342.8 658.9h1.1M349.6 666.4h1.1M354.4 656.3h1.1M357.4 663.7h1.1M354.0 660.5h1.1M352.2 659.4h1.1M349.4 654.6h1.1M354.8 656.1h1.1M343.0 666.4h1.1M349.3 655.4h1.1M345.5 658.3h1.1M349.8 654.9h1.1M360.3 655.3h1.1M343.7 668.2h1.1M355.6 661.0h1.1M351.5 658.3h1.1M347.9 653.5h1.1M338.8 664.5h1.1M344.2 649.2h1.1M348.7 642.9h1.1M344.3 663.9h1.1M346.4 655.0h1.1M364.5 662.9h1.1M355.2 657.9h1.1M349.6 669.4h1.1M352.9 660.5h1.1M350.6 664.0h1.1M353.7 659.2h1.1M345.0 655.3h1.1M353.4 660.4h1.1M354.5 653.1h1.1M331.9 650.3h1.1M346.0 656.3h1.1M340.3 661.7h1.1M349.1 653.1h1.1M356.3 658.9h1.1M347.5 657.2h1.1M347.7 662.4h1.1M334.4 663.0h1.1M355.1 660.2h1.1M368.0 659.7h1.1M353.3 662.2h1.1M355.6 650.0h1.1M338.9 652.4h1.1M359.3 661.1h1.1M332.0 664.8h1.1M359.7 663.6h1.1M339.2 659.6h1.1M355.5 665.6h1.1M381.5 664.4h1.1M392.1 655.5h1.1M382.5 655.2h1.1M386.8 650.0h1.1M389.4 660.6h1.1M390.4 658.4h1.1M403.8 658.1h1.1M384.7 662.0h1.1M387.0 657.3h1.1M398.2 667.2h1.1M380.8 663.3h1.1M383.4 664.9h1.1M382.4 669.5h1.1M382.1 654.1h1.1M385.7 659.0h1.1M386.1 664.1h1.1M393.1 653.1h1.1M390.0 654.8h1.1M379.9 652.0h1.1M385.3 660.2h1.1M385.7 657.4h1.1M381.4 645.8h1.1M391.6 667.0h1.1M379.5 651.6h1.1M391.7 660.0h1.1M392.3 662.0h1.1M378.8 655.0h1.1M385.1 662.4h1.1M382.8 646.6h1.1M394.3 653.4h1.1M383.3 653.3h1.1M380.3 660.5h1.1M387.2 657.1h1.1M389.0 652.5h1.1M379.9 663.6h1.1M384.8 653.0h1.1M378.7 653.7h1.1M372.8 660.7h1.1M383.9 663.4h1.1M388.9 655.6h1.1M380.0 655.6h1.1M368.9 661.3h1.1M384.4 653.6h1.1M397.6 653.2h1.1M395.5 660.9h1.1M384.4 656.6h1.1M396.3 643.7h1.1M391.8 652.9h1.1M392.8 657.9h1.1M378.1 655.3h1.1M378.0 644.3h1.1M376.7 654.1h1.1M373.9 651.5h1.1M390.5 665.3h1.1M393.3 666.2h1.1M383.9 660.7h1.1M377.5 655.8h1.1M367.6 651.8h1.1M385.7 660.9h1.1M378.5 663.7h1.1M391.0 659.0h1.1M383.6 657.5h1.1M387.1 663.8h1.1M380.5 655.0h1.1M378.0 659.2h1.1M387.4 652.6h1.1M394.9 662.8h1.1M390.8 660.0h1.1M395.3 665.1h1.1M389.1 653.3h1.1M382.0 652.6h1.1M388.7 658.1h1.1M385.1 653.3h1.1M384.6 662.0h1.1M379.5 656.4h1.1M389.1 653.3h1.1M383.7 658.6h1.1M389.3 662.9h1.1M384.0 661.0h1.1M389.8 657.7h1.1M374.4 648.3h1.1M381.9 652.6h1.1M390.2 653.8h1.1M387.3 655.5h1.1M371.5 655.1h1.1M381.0 660.6h1.1M383.9 658.0h1.1M379.9 656.6h1.1M387.1 653.4h1.1M398.5 660.1h1.1M395.1 664.7h1.1M379.2 654.1h1.1M389.2 661.4h1.1M385.3 656.0h1.1M386.1 649.7h1.1M389.5 651.7h1.1M394.4 651.4h1.1M379.9 665.0h1.1M384.0 661.4h1.1M387.3 661.9h1.1M393.5 657.4h1.1M386.9 658.3h1.1M383.5 650.4h1.1M382.2 655.9h1.1M386.8 655.7h1.1M391.0 659.4h1.1M386.2 661.6h1.1M398.6 650.5h1.1M386.8 659.9h1.1M383.3 660.1h1.1M393.5 660.9h1.1M391.0 659.5h1.1M394.8 662.5h1.1M384.4 658.7h1.1M385.2 653.1h1.1M384.9 661.3h1.1M384.9 662.1h1.1M388.9 659.7h1.1M380.5 653.6h1.1M392.5 660.7h1.1M381.6 650.5h1.1M379.5 659.4h1.1M380.1 665.9h1.1M376.8 658.6h1.1M383.6 651.5h1.1M389.3 660.6h1.1M384.9 651.8h1.1M390.0 660.8h1.1M383.2 644.6h1.1M386.4 653.4h1.1M386.4 663.9h1.1M385.0 660.9h1.1M396.5 645.7h1.1M392.4 650.0h1.1M381.9 655.7h1.1M382.8 659.5h1.1M382.3 655.1h1.1M390.6 653.4h1.1M371.4 656.6h1.1M382.1 649.5h1.1M399.2 659.4h1.1M384.7 656.8h1.1M369.6 661.4h1.1M379.9 660.6h1.1M371.6 662.5h1.1M386.9 650.5h1.1M386.5 659.8h1.1M383.6 667.3h1.1M381.7 664.4h1.1M392.6 651.6h1.1M375.1 657.2h1.1M394.0 653.4h1.1M382.9 647.5h1.1M391.5 657.6h1.1M386.6 650.9h1.1M381.3 656.4h1.1M389.7 648.6h1.1M390.5 658.1h1.1M380.4 659.3h1.1M388.1 647.8h1.1M387.3 653.9h1.1M387.7 660.6h1.1M386.5 654.3h1.1M388.3 655.4h1.1M387.6 660.9h1.1M390.8 655.5h1.1M386.9 659.4h1.1M385.3 655.6h1.1M395.4 665.4h1.1M382.1 652.4h1.1M384.3 646.0h1.1M396.3 660.1h1.1M398.1 660.9h1.1M372.9 651.1h1.1M391.8 656.3h1.1M389.4 658.6h1.1M380.6 648.8h1.1M389.5 656.5h1.1M392.3 658.7h1.1M375.8 653.4h1.1M383.2 657.7h1.1M377.4 644.8h1.1M389.8 649.5h1.1M388.5 661.9h1.1M391.5 660.8h1.1M392.6 649.0h1.1M382.3 659.3h1.1M395.0 654.3h1.1M377.3 654.9h1.1M395.6 658.8h1.1M376.4 653.2h1.1M389.4 661.6h1.1M390.1 664.7h1.1M387.2 659.2h1.1M387.9 661.8h1.1M386.0 661.3h1.1M390.5 653.9h1.1M389.2 656.8h1.1M386.8 656.1h1.1M387.4 657.9h1.1M378.0 651.9h1.1M386.3 652.5h1.1M376.2 667.1h1.1M384.9 649.8h1.1M391.2 657.7h1.1M388.7 656.8h1.1M384.1 658.6h1.1M377.3 658.4h1.1M391.8 660.8h1.1M390.2 657.1h1.1M393.2 660.7h1.1M373.9 653.6h1.1M377.5 654.0h1.1M397.2 653.1h1.1M391.3 651.1h1.1M376.2 651.2h1.1M384.6 653.2h1.1M371.9 652.7h1.1M386.0 654.4h1.1M378.3 648.4h1.1M381.5 660.4h1.1M392.6 668.0h1.1M385.2 653.2h1.1M379.4 660.3h1.1M382.6 654.4h1.1M377.7 656.1h1.1M389.6 652.0h1.1M388.4 654.8h1.1M389.0 651.6h1.1M381.7 652.0h1.1M385.7 653.7h1.1M378.0 655.6h1.1M391.4 660.3h1.1M386.1 655.2h1.1M393.6 651.4h1.1M400.6 661.1h1.1M388.2 658.4h1.1M396.6 649.1h1.1M380.8 657.0h1.1M384.4 660.2h1.1M388.1 652.1h1.1M378.6 664.7h1.1M380.8 650.4h1.1M380.8 654.1h1.1M389.4 655.7h1.1M376.6 664.6h1.1M395.3 656.7h1.1M375.7 658.7h1.1M388.5 655.7h1.1M392.0 665.1h1.1M384.8 655.8h1.1M387.4 657.6h1.1M385.0 664.5h1.1M392.4 662.8h1.1M378.0 659.4h1.1M383.8 647.9h1.1M395.0 649.0h1.1M378.7 645.2h1.1M378.9 658.4h1.1M394.9 661.5h1.1M387.9 661.2h1.1M383.8 656.2h1.1M385.1 652.0h1.1M394.1 648.9h1.1M387.2 657.2h1.1M376.4 649.9h1.1M388.4 652.3h1.1M386.9 654.3h1.1M386.0 654.0h1.1M384.7 660.9h1.1M376.4 651.5h1.1M388.5 658.6h1.1M390.4 657.7h1.1M371.7 661.8h1.1M381.5 656.0h1.1M378.0 660.2h1.1M386.9 650.6h1.1M389.4 661.8h1.1M390.0 646.6h1.1M390.4 659.5h1.1M400.3 660.2h1.1M397.0 657.7h1.1M375.1 646.8h1.1M393.3 659.5h1.1M387.2 663.6h1.1M385.5 657.3h1.1M388.0 656.8h1.1M383.0 656.4h1.1M388.9 663.1h1.1M386.2 658.6h1.1M389.5 652.0h1.1M380.1 657.1h1.1M384.0 651.5h1.1M382.6 647.9h1.1M392.8 659.0h1.1M393.4 644.8h1.1M385.8 657.8h1.1M381.6 660.9h1.1M385.9 658.7h1.1M385.8 655.1h1.1M383.2 656.7h1.1M394.1 655.9h1.1M381.5 653.2h1.1M391.2 663.8h1.1M389.8 658.7h1.1M390.5 651.2h1.1M383.4 659.1h1.1M388.2 666.4h1.1M383.0 661.0h1.1M395.8 651.9h1.1M385.2 659.9h1.1M388.5 658.3h1.1M395.3 662.8h1.1M380.2 652.9h1.1M380.6 655.4h1.1M390.6 657.5h1.1M391.8 659.6h1.1M382.5 646.5h1.1M382.9 650.3h1.1M378.0 654.7h1.1M397.8 653.9h1.1M390.7 659.8h1.1M386.3 652.0h1.1M397.5 656.5h1.1M398.2 658.0h1.1M385.5 656.6h1.1M383.2 653.1h1.1M389.7 652.5h1.1M390.3 651.0h1.1M375.3 655.1h1.1M363.3 593.0h1.1M368.4 598.2h1.1M355.8 598.2h1.1M354.9 594.9h1.1M359.2 594.9h1.1M364.1 592.0h1.1M350.2 590.8h1.1M354.7 594.4h1.1M349.8 596.6h1.1M348.0 592.4h1.1M365.8 593.4h1.1M357.9 587.6h1.1M356.8 595.2h1.1M355.6 596.7h1.1M355.1 595.1h1.1M352.1 594.5h1.1M356.4 597.5h1.1M352.5 592.2h1.1M354.2 593.4h1.1M354.9 598.3h1.1M353.8 599.8h1.1M363.8 595.1h1.1M355.9 595.3h1.1M351.5 596.5h1.1M359.6 594.2h1.1M353.7 596.4h1.1M348.6 593.5h1.1M350.7 590.5h1.1M350.5 596.5h1.1M364.2 592.6h1.1M353.1 596.5h1.1M357.5 593.2h1.1M352.6 597.8h1.1M345.7 591.3h1.1M356.5 595.8h1.1M351.3 592.5h1.1M363.4 595.4h1.1M349.2 595.9h1.1M355.0 598.0h1.1M362.0 592.6h1.1M352.1 594.9h1.1M353.6 596.4h1.1M354.9 599.6h1.1M350.3 591.2h1.1M353.2 593.6h1.1M353.3 593.3h1.1M351.1 596.1h1.1M356.1 594.1h1.1M347.8 596.4h1.1M364.8 594.5h1.1M356.5 598.0h1.1M356.1 597.2h1.1M354.0 592.9h1.1M365.1 591.3h1.1M360.9 598.3h1.1M357.5 595.1h1.1M362.6 592.3h1.1M355.9 595.9h1.1M357.4 590.7h1.1M358.0 593.8h1.1M364.7 600.3h1.1M347.8 595.8h1.1M354.3 588.7h1.1M360.2 601.3h1.1M353.8 599.5h1.1M365.5 596.3h1.1M357.6 599.6h1.1M345.8 594.5h1.1M350.7 596.3h1.1M357.0 595.9h1.1M359.6 600.6h1.1M365.5 595.3h1.1M355.1 598.5h1.1M359.0 597.7h1.1M340.6 598.1h1.1M363.1 588.3h1.1M357.0 596.0h1.1M346.1 598.1h1.1M358.8 592.4h1.1M351.4 594.9h1.1M357.0 593.7h1.1M358.5 598.4h1.1M357.4 594.9h1.1M368.2 597.9h1.1M354.3 595.0h1.1M353.1 594.7h1.1M354.3 592.8h1.1M360.7 594.0h1.1M351.4 593.6h1.1M350.4 594.7h1.1M355.3 592.7h1.1M362.2 595.6h1.1M361.6 595.3h1.1M360.2 591.1h1.1M354.7 597.6h1.1M353.3 595.9h1.1M347.7 590.4h1.1M347.7 600.2h1.1M360.1 592.8h1.1M358.9 594.7h1.1M358.8 593.9h1.1M356.2 597.8h1.1M361.3 595.5h1.1M360.3 595.3h1.1M358.5 592.5h1.1M355.4 598.8h1.1M357.3 596.2h1.1M366.1 598.0h1.1M367.6 597.8h1.1M366.8 592.3h1.1M359.7 595.2h1.1M346.9 595.9h1.1M358.2 595.5h1.1M359.4 595.2h1.1M366.9 594.1h1.1M357.2 590.7h1.1M355.5 596.5h1.1M359.5 596.8h1.1M357.5 595.7h1.1M353.7 599.3h1.1M350.6 594.5h1.1M348.6 597.6h1.1M354.8 594.9h1.1M348.5 599.2h1.1M353.0 597.9h1.1M356.9 595.0h1.1M355.7 593.2h1.1M359.8 596.9h1.1M371.1 591.0h1.1M355.4 592.7h1.1M353.9 591.6h1.1M350.7 597.1h1.1M353.3 594.3h1.1M361.9 595.7h1.1M358.6 594.8h1.1M357.4 593.9h1.1M364.8 594.7h1.1M353.0 594.2h1.1M358.3 593.5h1.1M366.3 596.1h1.1M360.6 595.5h1.1M350.4 593.9h1.1M360.1 595.5h1.1M353.6 591.5h1.1M351.7 596.5h1.1M343.6 599.7h1.1M341.4 593.0h1.1M365.3 594.4h1.1M354.6 590.3h1.1M354.1 596.0h1.1M352.0 595.5h1.1M353.0 593.7h1.1M353.8 598.7h1.1M364.3 598.5h1.1M349.9 592.1h1.1M350.7 594.4h1.1M361.7 598.9h1.1M347.8 597.4h1.1M353.7 593.9h1.1M362.0 590.7h1.1M362.2 600.4h1.1M363.8 592.9h1.1M358.6 596.4h1.1M350.6 599.1h1.1M356.1 597.9h1.1M355.8 593.8h1.1M354.1 596.7h1.1M359.8 598.3h1.1M347.0 590.6h1.1M361.4 594.5h1.1M364.3 596.6h1.1M355.4 595.7h1.1M354.4 592.7h1.1M358.0 593.8h1.1M356.1 594.5h1.1M348.7 594.7h1.1M358.6 592.6h1.1M360.8 593.5h1.1M369.8 588.9h1.1M363.8 599.3h1.1M358.2 592.6h1.1M356.1 600.1h1.1M355.4 596.2h1.1M357.0 594.1h1.1M358.7 598.7h1.1M367.3 591.7h1.1M354.7 594.3h1.1M363.2 593.7h1.1M352.4 593.7h1.1M357.1 596.6h1.1M359.4 592.2h1.1M349.0 602.5h1.1M356.7 592.6h1.1M364.4 592.4h1.1M354.7 598.0h1.1M360.1 599.5h1.1M357.6 597.0h1.1M352.1 594.8h1.1M366.0 596.2h1.1M356.5 592.5h1.1M362.5 600.2h1.1M359.1 599.1h1.1M359.7 593.0h1.1M361.1 593.6h1.1M358.4 598.5h1.1M357.7 595.4h1.1M349.1 593.5h1.1M356.8 591.2h1.1M361.6 597.1h1.1M358.0 593.2h1.1M350.1 592.7h1.1M357.6 594.1h1.1M347.5 595.0h1.1M351.2 591.7h1.1M354.9 594.8h1.1M359.6 590.9h1.1M356.6 596.6h1.1M360.0 593.0h1.1M351.6 594.7h1.1M356.1 596.4h1.1M346.2 593.6h1.1M356.4 595.7h1.1M361.3 590.1h1.1M355.0 593.5h1.1M354.1 592.6h1.1M355.4 596.7h1.1M357.7 595.4h1.1M353.4 600.3h1.1M347.7 596.3h1.1M358.4 597.0h1.1M358.4 616.1h1.1M364.3 616.0h1.1M354.8 646.0h1.1M356.8 634.4h1.1M355.1 620.1h1.1M363.5 613.7h1.1M358.2 640.0h1.1M346.0 641.7h1.1M352.3 617.6h1.1M358.4 635.9h1.1M355.2 629.6h1.1M346.8 633.7h1.1M353.3 627.9h1.1M363.3 625.1h1.1M366.6 630.9h1.1M362.4 617.3h1.1M359.5 633.5h1.1M350.9 627.1h1.1M355.3 618.0h1.1M357.0 634.1h1.1M363.2 628.4h1.1M367.6 637.7h1.1M357.3 614.5h1.1M354.3 614.6h1.1M358.6 630.9h1.1M365.5 612.3h1.1M359.0 620.0h1.1M362.3 644.0h1.1M356.3 625.5h1.1M345.5 598.2h1.1M365.6 630.5h1.1M365.3 618.8h1.1M357.3 640.3h1.1M360.0 631.2h1.1M366.1 606.8h1.1M353.8 602.6h1.1M346.5 634.5h1.1M352.2 602.7h1.1M368.8 638.4h1.1M355.4 608.7h1.1M363.3 609.4h1.1M353.8 630.3h1.1M350.4 620.6h1.1M358.9 637.0h1.1M355.1 639.2h1.1M359.3 624.6h1.1M355.5 611.0h1.1M352.9 599.0h1.1M363.1 642.9h1.1M359.6 636.8h1.1M341.3 634.5h1.1M355.5 645.2h1.1M349.3 608.7h1.1M336.6 640.5h1.1M360.4 601.4h1.1M362.7 611.4h1.1M346.8 615.8h1.1M347.7 638.8h1.1M361.5 637.0h1.1M371.3 634.8h1.1M368.0 613.1h1.1M366.7 627.2h1.1M352.4 633.4h1.1M355.7 638.0h1.1M358.2 639.1h1.1M345.9 630.2h1.1M359.4 646.0h1.1M352.7 621.8h1.1M360.3 625.9h1.1M358.7 621.2h1.1M352.0 605.9h1.1M350.6 643.0h1.1M351.3 624.5h1.1M348.4 620.2h1.1M363.8 636.6h1.1M350.6 610.3h1.1M359.2 617.3h1.1M360.7 642.7h1.1M355.2 640.1h1.1M360.9 598.2h1.1M352.0 634.8h1.1M358.9 632.7h1.1M353.9 626.9h1.1M342.1 626.3h1.1M346.8 618.1h1.1M350.2 632.8h1.1M346.3 628.1h1.1M351.9 642.3h1.1M351.1 621.1h1.1M354.1 613.2h1.1M343.2 637.1h1.1M355.9 625.9h1.1M359.5 601.6h1.1M342.2 639.7h1.1M346.0 598.4h1.1M353.3 637.9h1.1M361.4 601.7h1.1M352.2 624.0h1.1M351.0 639.8h1.1M346.7 639.0h1.1M356.5 624.1h1.1M366.5 641.2h1.1M359.4 608.9h1.1M360.0 599.8h1.1M360.3 637.1h1.1M359.9 617.7h1.1M354.3 601.1h1.1M354.0 640.4h1.1M354.9 627.6h1.1M372.4 611.7h1.1M356.8 641.7h1.1M360.1 625.6h1.1M355.1 640.8h1.1M358.5 620.1h1.1M356.3 640.9h1.1M370.4 632.4h1.1M354.0 603.7h1.1M359.2 627.2h1.1M356.0 599.7h1.1M356.8 643.6h1.1M354.0 639.2h1.1M353.3 607.2h1.1M353.4 628.7h1.1M369.1 610.7h1.1M350.4 616.0h1.1M364.5 622.0h1.1M354.2 600.4h1.1M351.6 608.3h1.1M348.6 645.6h1.1M360.5 645.3h1.1M359.5 643.1h1.1M357.6 598.9h1.1M358.3 626.8h1.1M369.2 637.0h1.1M353.2 629.6h1.1M357.7 638.6h1.1M356.8 615.8h1.1M365.6 635.2h1.1M362.2 642.4h1.1M345.1 640.6h1.1M368.7 630.5h1.1M359.1 621.7h1.1M347.0 627.9h1.1M350.1 644.4h1.1M351.1 623.8h1.1M352.6 620.7h1.1M368.0 600.2h1.1M359.0 628.3h1.1M361.0 644.5h1.1M366.4 614.7h1.1M355.9 628.2h1.1M358.8 640.3h1.1M353.1 631.5h1.1M352.5 604.5h1.1M356.1 607.6h1.1M352.6 626.7h1.1M369.8 623.7h1.1M360.6 630.6h1.1M370.8 644.8h1.1M354.2 639.2h1.1M358.7 632.8h1.1M360.6 612.7h1.1M353.8 601.9h1.1M346.8 618.9h1.1M363.0 612.2h1.1M356.2 630.6h1.1M361.3 625.6h1.1M368.5 628.8h1.1M355.7 626.6h1.1M364.2 628.8h1.1M356.5 601.0h1.1M358.7 619.9h1.1M364.1 626.3h1.1M362.1 614.4h1.1M356.5 612.1h1.1M355.5 604.5h1.1M360.4 621.8h1.1M350.6 611.9h1.1M365.5 613.9h1.1M356.2 601.0h1.1M359.8 629.3h1.1M355.7 615.0h1.1M363.8 600.8h1.1M359.0 632.9h1.1M348.4 619.0h1.1M351.6 606.7h1.1M360.8 636.1h1.1M354.3 633.7h1.1M360.2 620.7h1.1M367.1 622.6h1.1M351.1 605.7h1.1M348.4 619.7h1.1M356.7 619.1h1.1M359.4 635.7h1.1M354.2 605.8h1.1M354.3 642.7h1.1M356.3 606.3h1.1M358.8 615.9h1.1M358.0 618.7h1.1M355.5 640.8h1.1M358.4 613.7h1.1M351.1 637.2h1.1M359.2 616.6h1.1M355.7 622.0h1.1M351.7 641.4h1.1M355.4 638.6h1.1M356.5 613.4h1.1M362.1 640.6h1.1M363.5 610.9h1.1M346.1 626.0h1.1M355.9 626.4h1.1M364.8 636.7h1.1M356.1 614.8h1.1M358.0 601.0h1.1M356.1 645.0h1.1M358.0 598.5h1.1M356.2 617.7h1.1M353.8 639.6h1.1M360.5 611.3h1.1M354.7 618.6h1.1M360.8 613.8h1.1M357.8 620.2h1.1M359.0 614.2h1.1M359.9 625.1h1.1M354.2 637.5h1.1M343.3 639.1h1.1M348.1 640.5h1.1M358.3 604.3h1.1M359.6 624.1h1.1M353.0 636.6h1.1M359.5 632.3h1.1M359.1 616.4h1.1M360.9 609.5h1.1M363.8 633.9h1.1M364.8 642.3h1.1M353.8 641.1h1.1M358.8 612.7h1.1M354.7 644.0h1.1M368.2 602.1h1.1M356.7 641.0h1.1M414.9 635.0h1.1M407.4 627.8h1.1M406.4 638.7h1.1M377.0 650.0h1.1M406.0 635.0h1.1M409.0 605.0h1.1M385.7 615.7h1.1M373.0 614.8h1.1M375.9 637.0h1.1M375.9 608.2h1.1M406.3 648.0h1.1M391.8 635.0h1.1M378.7 615.8h1.1M405.3 630.2h1.1M414.4 629.8h1.1M406.0 612.6h1.1M405.9 610.2h1.1M391.9 615.3h1.1M391.4 601.8h1.1M413.7 599.0h1.1M403.6 615.2h1.1M379.9 622.3h1.1M384.3 637.0h1.1M381.7 626.5h1.1M394.2 627.4h1.1M404.3 638.8h1.1M391.2 637.5h1.1M410.5 652.8h1.1" stroke="#000" stroke-width="1.1" fill="none" opacity="1"/>
<ellipse cx="349" cy="659" rx="12" ry="9" fill="#000"/>
<text x="319.5" y="552.3" font-size="7" text-anchor="middle" class="b" transform="rotate(-90 319.5 552.3)">10<tspan font-size="0.72em" dy="-0.5em">5</tspan></text>
<text x="319.5" y="583.8" font-size="7" text-anchor="middle" class="b" transform="rotate(-90 319.5 583.8)">10<tspan font-size="0.72em" dy="-0.5em">4</tspan></text>
<text x="319.5" y="616.8" font-size="7" text-anchor="middle" class="b" transform="rotate(-90 319.5 616.8)">10<tspan font-size="0.72em" dy="-0.5em">3</tspan></text>
<text x="319.5" y="650.8" font-size="7" text-anchor="middle" class="b" transform="rotate(-90 319.5 650.8)">10<tspan font-size="0.72em" dy="-0.5em">2</tspan></text>
<text x="319.5" y="660" font-size="7" text-anchor="middle" class="b" transform="rotate(-90 319.5 660)">0</text>
<text x="319.5" y="673.5" font-size="6.5" text-anchor="middle" class="b" transform="rotate(-90 319.5 673.5)">-176</text>
<path d="M326.9 639.8h-4.2M326.9 633.8h-4.2M326.9 629.5h-4.2M326.9 626.2h-4.2M326.9 623.5h-4.2M326.9 621.3h-4.2M326.9 619.3h-4.2M326.9 617.6h-4.2M326.9 606.2h-4.2M326.9 600.5h-4.2M326.9 596.4h-4.2M326.9 593.3h-4.2M326.9 590.7h-4.2M326.9 588.5h-4.2M326.9 586.6h-4.2M326.9 585.0h-4.2M326.9 573.9h-4.2M326.9 568.2h-4.2M326.9 564.2h-4.2M326.9 561.1h-4.2M326.9 558.6h-4.2M326.9 556.5h-4.2M326.9 554.6h-4.2M326.9 553.0h-4.2M326.9 650.0h-6.8M326.9 616.0h-6.8M326.9 583.5h-6.8M326.9 551.5h-6.8" stroke="#0d0d0d" stroke-width=".8" fill="none"/>
<path d="M326.9 653.0h-6M326.9 654.1h-6M326.9 655.3h-6M326.9 656.4h-6M326.9 657.6h-6M326.9 658.7h-6M326.9 659.9h-6M326.9 661.0h-6" stroke="#0d0d0d" stroke-width=".9" fill="none"/>
<path d="M326.9 541.7h-4.2M474.7 679.5v3.2" stroke="#0d0d0d" stroke-width=".8"/>
<text x="358.5" y="695" font-size="7" text-anchor="middle" class="b">10<tspan font-size="0.72em" dy="-0.5em">2</tspan></text>
<text x="393.5" y="695" font-size="7" text-anchor="middle" class="b">10<tspan font-size="0.72em" dy="-0.5em">3</tspan></text>
<text x="429.5" y="695" font-size="7" text-anchor="middle" class="b">10<tspan font-size="0.72em" dy="-0.5em">4</tspan></text>
<text x="465" y="695" font-size="7" text-anchor="middle" class="b">10<tspan font-size="0.72em" dy="-0.5em">5</tspan></text>
<text x="325" y="695" font-size="6.5" text-anchor="middle" class="b">-195</text>
<text x="346" y="695" font-size="7" text-anchor="middle" class="b">0</text>
<path d="M368.0 679.5v3.2M374.2 679.5v3.2M378.6 679.5v3.2M382.0 679.5v3.2M384.7 679.5v3.2M387.1 679.5v3.2M389.1 679.5v3.2M390.9 679.5v3.2M403.3 679.5v3.2M409.7 679.5v3.2M414.2 679.5v3.2M417.7 679.5v3.2M420.5 679.5v3.2M422.9 679.5v3.2M425.0 679.5v3.2M426.9 679.5v3.2M439.2 679.5v3.2M445.4 679.5v3.2M449.9 679.5v3.2M453.3 679.5v3.2M456.1 679.5v3.2M458.5 679.5v3.2M460.6 679.5v3.2M462.4 679.5v3.2M357.5 679.5v6M392.5 679.5v6M428.5 679.5v6M464.0 679.5v6" stroke="#0d0d0d" stroke-width=".8" fill="none"/>
<path d="M346.0 679.5v4M347.7 679.5v4M349.3 679.5v4M351.0 679.5v4M352.7 679.5v4M354.3 679.5v4M356.0 679.5v4" stroke="#0d0d0d" stroke-width=".9" fill="none"/>
<path d="M327 679.5v6M346 679.5v6" stroke="#0d0d0d" stroke-width=".9"/>
<text x="307.5" y="609" font-size="8.8" text-anchor="middle" transform="rotate(-90 307.5 609)" textLength="50" lengthAdjust="spacingAndGlyphs">CD 33 PE-A</text>
<text x="403.8" y="706" font-size="9.1" text-anchor="middle" textLength="58.3" lengthAdjust="spacingAndGlyphs">CD 19 FITC-A</text>
</svg></body></html>
